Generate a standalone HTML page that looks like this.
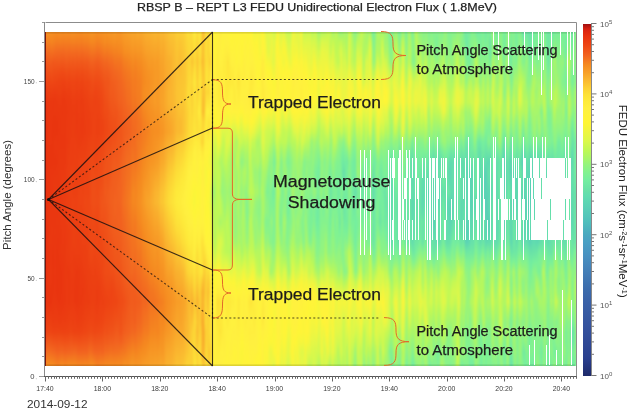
<!DOCTYPE html>
<html><head><meta charset="utf-8"><style>
html,body{margin:0;padding:0;background:#fff;width:630px;height:409px;overflow:hidden;position:relative}
#hmc{position:absolute;left:46px;top:32px;height:334px;width:530px;overflow:hidden}
#hm{position:absolute;left:-3px;top:-3px;height:340px;width:536px;display:flex;filter:blur(0.8px)}
#hm i{display:block;height:340px;flex:none}
#cbar{position:absolute;left:583px;top:23.5px;width:8px;height:352px;background:linear-gradient(#a01010 0.00px,#d82010 4.93px,#e8300e 11.97px,#ee4614 21.82px,#f26420 31.68px,#f58a20 40.83px,#f8a028 48.58px,#fab830 56.32px,#fcd034 64.06px,#fde038 70.40px,#feea3a 76.74px,#fff040 84.48px,#fff535 98.56px,#f0f540 107.01px,#dcf84a 116.86px,#bef856 126.72px,#a8f66a 134.46px,#94f47e 140.80px,#82f290 148.54px,#74eea0 156.29px,#68e0a8 166.85px,#60dcb0 172.48px,#58ccb8 186.56px,#50c0bc 197.12px,#4aa8c0 211.20px,#4aa0c4 218.24px,#4890c0 232.32px,#4480b8 246.40px,#3c6cac 264.70px,#3a62a8 276.67px,#34509c 306.24px,#2a3f8e 334.40px,#1e2a6a 352.00px)}
svg{position:absolute;left:0;top:0;display:block;will-change:transform}
text{font-family:"Liberation Sans",sans-serif}
#wrap{position:absolute;left:0;top:0;width:630px;height:409px;}
</style></head><body><div id="wrap">
<div id="hmc"><div id="hm"><i style="width:3px;background:linear-gradient(#f69122 3px,#f48120 13px,#f36b20 23px,#f0581b 33px,#ef4e17 43px,#ee4514 53px,#eb3c11 63px,#ea3610 73px,#e9340f 83px,#e9340f 93px,#e9330f 103px,#e9340f 113px,#e9340f 123px,#e9330f 133px,#e9330f 143px,#e9330f 153px,#e9330f 163px,#e9340f 173px,#e9340f 183px,#e9330f 193px,#e9320f 203px,#e9330f 213px,#e9330f 223px,#e9330f 233px,#e9330f 243px,#e9340f 253px,#e9330f 263px,#e9340f 273px,#ea3910 283px,#ec3e12 293px,#ed4413 303px,#f0561a 313px,#f26a20 323px,#f48320 333px,#f58a20 336px)"></i><i style="width:2px;background:linear-gradient(#f69122 3px,#f48120 13px,#f36b20 23px,#f0581b 33px,#ef4e17 43px,#ee4514 53px,#eb3c11 63px,#ea3610 73px,#e9340f 83px,#e9340f 93px,#e9330f 103px,#e9340f 113px,#e9340f 123px,#e9330f 133px,#e9330f 143px,#e9330f 153px,#e9330f 163px,#e9340f 173px,#e9340f 183px,#e9330f 193px,#e9320f 203px,#e9330f 213px,#e9330f 223px,#e9330f 233px,#e9330f 243px,#e9340f 253px,#e9330f 263px,#e9340f 273px,#ea3910 283px,#ec3e12 293px,#ed4413 303px,#f0561a 313px,#f26a20 323px,#f48320 333px,#f58a20 336px)"></i><i style="width:2px;background:linear-gradient(#f69022 3px,#f47e20 13px,#f26920 23px,#f15a1c 33px,#ef4d17 43px,#ed4313 53px,#eb3d11 63px,#ea3710 73px,#ea3610 83px,#ea3610 93px,#ea3610 103px,#ea3610 113px,#e9350f 123px,#e9340f 133px,#e9350f 143px,#e9350f 153px,#e9330f 163px,#e9350f 173px,#ea3610 183px,#e9350f 193px,#e9350f 203px,#ea3610 213px,#e9350f 223px,#e9350f 233px,#ea3610 243px,#ea3610 253px,#e9350f 263px,#e9330f 273px,#ea3810 283px,#ec3d12 293px,#ee4414 303px,#f0571b 313px,#f36c20 323px,#f48420 333px,#f58a20 336px)"></i><i style="width:2px;background:linear-gradient(#f69223 3px,#f58520 13px,#f37020 23px,#f15d1d 33px,#f05219 43px,#ee4715 53px,#ec3f12 63px,#ea3910 73px,#ea3810 83px,#ea3710 93px,#ea3610 103px,#ea3610 113px,#e9350f 123px,#e9350f 133px,#ea3710 143px,#ea3710 153px,#ea3610 163px,#ea3710 173px,#ea3810 183px,#ea3810 193px,#ea3910 203px,#ea3910 213px,#ea3710 223px,#ea3710 233px,#ea3810 243px,#ea3710 253px,#e9350f 263px,#e9340f 273px,#eb3a11 283px,#ec4012 293px,#ee4614 303px,#f0581b 313px,#f36b20 323px,#f58420 333px,#f58b20 336px)"></i><i style="width:2px;background:linear-gradient(#f68e22 3px,#f48220 13px,#f36d20 23px,#f0581b 33px,#ef4e17 43px,#ee4614 53px,#ec3d12 63px,#ea3710 73px,#ea3710 83px,#e9350f 93px,#e9340f 103px,#e9350f 113px,#e9350f 123px,#e9350f 133px,#ea3610 143px,#ea3710 153px,#ea3810 163px,#ea3710 173px,#ea3610 183px,#ea3710 193px,#ea3710 203px,#ea3610 213px,#e9350f 223px,#e9340f 233px,#e9350f 243px,#e9340f 253px,#e9350f 263px,#ea3710 273px,#ea3910 283px,#eb3c11 293px,#ed4213 303px,#f05419 313px,#f26720 323px,#f48220 333px,#f58920 336px)"></i><i style="width:2px;background:linear-gradient(#f68e22 3px,#f47f20 13px,#f36b20 23px,#f1591c 33px,#ef4e17 43px,#ee4414 53px,#ec3d12 63px,#ea3810 73px,#ea3810 83px,#e9350f 93px,#e9350f 103px,#ea3810 113px,#ea3710 123px,#e9350f 133px,#ea3710 143px,#ea3910 153px,#eb3b11 163px,#eb3a11 173px,#ea3810 183px,#ea3710 193px,#ea3810 203px,#ea3810 213px,#ea3710 223px,#ea3610 233px,#ea3610 243px,#ea3610 253px,#ea3710 263px,#ea3810 273px,#eb3b11 283px,#ec3d12 293px,#ed4313 303px,#f0541a 313px,#f26720 323px,#f47f20 333px,#f58520 336px)"></i><i style="width:2px;background:linear-gradient(#f58b20 3px,#f47c20 13px,#f26920 23px,#f0591b 33px,#ef4d17 43px,#ed4413 53px,#ec3d12 63px,#ea3810 73px,#ea3710 83px,#e9350f 93px,#e9340f 103px,#ea3610 113px,#ea3610 123px,#e9350f 133px,#ea3710 143px,#ea3810 153px,#ea3810 163px,#ea3810 173px,#ea3710 183px,#ea3810 193px,#ea3710 203px,#ea3610 213px,#e9350f 223px,#e9350f 233px,#e9350f 243px,#e9340f 253px,#e9330f 263px,#ea3610 273px,#eb3911 283px,#ec3d12 293px,#ed4313 303px,#f05219 313px,#f2611f 323px,#f47920 333px,#f48020 336px)"></i><i style="width:2px;background:linear-gradient(#f68f22 3px,#f47e20 13px,#f26920 23px,#f15a1c 33px,#ef4c16 43px,#ed4213 53px,#ec3f12 63px,#eb3a11 73px,#ea3810 83px,#ea3610 93px,#ea3610 103px,#ea3710 113px,#ea3810 123px,#ea3810 133px,#ea3810 143px,#ea3810 153px,#ea3810 163px,#ea3910 173px,#ea3810 183px,#ea3710 193px,#ea3710 203px,#ea3610 213px,#ea3610 223px,#e9350f 233px,#e9350f 243px,#e9350f 253px,#e9350f 263px,#e9350f 273px,#ea3910 283px,#eb3c11 293px,#ed4413 303px,#f0541a 313px,#f26320 323px,#f47b20 333px,#f48120 336px)"></i><i style="width:2px;background:linear-gradient(#f68f22 3px,#f47e20 13px,#f26920 23px,#f0581b 33px,#ef4b16 43px,#ed4313 53px,#ec3f12 63px,#eb3a11 73px,#ea3810 83px,#ea3810 93px,#ea3810 103px,#ea3710 113px,#ea3810 123px,#ea3910 133px,#eb3a11 143px,#eb3a11 153px,#ea3910 163px,#eb3a11 173px,#eb3a11 183px,#eb3a11 193px,#ea3910 203px,#ea3810 213px,#ea3910 223px,#ea3710 233px,#e9350f 243px,#e9350f 253px,#e9350f 263px,#ea3610 273px,#ea3910 283px,#eb3c11 293px,#ed4313 303px,#f05319 313px,#f26620 323px,#f48120 333px,#f58920 336px)"></i><i style="width:2px;background:linear-gradient(#f58d21 3px,#f47c20 13px,#f26820 23px,#f0581b 33px,#ef4a16 43px,#ed4113 53px,#eb3c11 63px,#ea3710 73px,#ea3710 83px,#ea3810 93px,#ea3810 103px,#ea3710 113px,#ea3810 123px,#ea3910 133px,#eb3a11 143px,#eb3c11 153px,#ec3d12 163px,#eb3c11 173px,#eb3a11 183px,#eb3a11 193px,#eb3a11 203px,#eb3a11 213px,#ea3910 223px,#ea3710 233px,#ea3610 243px,#ea3610 253px,#ea3610 263px,#ea3610 273px,#eb3a11 283px,#ec3e12 293px,#ed4213 303px,#f05219 313px,#f26520 323px,#f48120 333px,#f58920 336px)"></i><i style="width:2px;background:linear-gradient(#f68f22 3px,#f47d20 13px,#f26920 23px,#f1591c 33px,#ef4c16 43px,#ed4213 53px,#eb3c11 63px,#ea3810 73px,#ea3910 83px,#ea3810 93px,#ea3710 103px,#ea3710 113px,#ea3710 123px,#ea3810 133px,#eb3a11 143px,#eb3b11 153px,#eb3b11 163px,#eb3d11 173px,#eb3c11 183px,#eb3a11 193px,#eb3911 203px,#ea3910 213px,#ea3910 223px,#ea3910 233px,#ea3910 243px,#ea3910 253px,#ea3810 263px,#ea3810 273px,#eb3a11 283px,#eb3d11 293px,#ed4213 303px,#ef5118 313px,#f2611f 323px,#f47c20 333px,#f48320 336px)"></i><i style="width:2px;background:linear-gradient(#f68f22 3px,#f47e20 13px,#f36b20 23px,#f15c1d 33px,#ef4f18 43px,#ee4514 53px,#ec3f12 63px,#eb3a11 73px,#ea3810 83px,#eb3911 93px,#eb3a11 103px,#eb3911 113px,#eb3b11 123px,#eb3c11 133px,#ec3d12 143px,#ec3d12 153px,#ec3d12 163px,#ec3f12 173px,#ec3e12 183px,#ec3d12 193px,#eb3c11 203px,#eb3b11 213px,#eb3c11 223px,#eb3b11 233px,#ea3910 243px,#eb3a11 253px,#eb3a11 263px,#eb3a11 273px,#eb3c11 283px,#ec3e12 293px,#ed4313 303px,#f05219 313px,#f26420 323px,#f47f20 333px,#f58620 336px)"></i><i style="width:2px;background:linear-gradient(#f58c21 3px,#f47c20 13px,#f26820 23px,#f0581b 33px,#ef4b16 43px,#ed4213 53px,#ec3d12 63px,#eb3a11 73px,#eb3a11 83px,#eb3a11 93px,#eb3a11 103px,#eb3b11 113px,#eb3d11 123px,#ec3e12 133px,#ec3e12 143px,#ec3f12 153px,#ec4012 163px,#ec3f12 173px,#ec3e12 183px,#ec3d12 193px,#eb3c11 203px,#eb3c11 213px,#eb3c11 223px,#eb3a11 233px,#ea3710 243px,#ea3810 253px,#ea3810 263px,#ea3810 273px,#eb3c11 283px,#ec3f12 293px,#ed4313 303px,#f05219 313px,#f26420 323px,#f48220 333px,#f58a20 336px)"></i><i style="width:2px;background:linear-gradient(#f69123 3px,#f48020 13px,#f36b20 23px,#f15b1c 33px,#ef4f17 43px,#ee4514 53px,#ec4012 63px,#eb3c11 73px,#eb3b11 83px,#eb3b11 93px,#eb3c11 103px,#ec3d12 113px,#ec3e12 123px,#ec3e12 133px,#ed4113 143px,#ed4213 153px,#ed4113 163px,#ed4113 173px,#ec4012 183px,#ec3e12 193px,#ec3e12 203px,#ec3e12 213px,#ec3e12 223px,#ec3d12 233px,#eb3c11 243px,#eb3a11 253px,#eb3a11 263px,#eb3b11 273px,#ec3e12 283px,#ed4113 293px,#ee4714 303px,#f0571b 313px,#f26620 323px,#f48220 333px,#f58920 336px)"></i><i style="width:2px;background:linear-gradient(#f69123 3px,#f48020 13px,#f26a20 23px,#f0581b 33px,#ef4d17 43px,#ee4514 53px,#ed4213 63px,#ec3d12 73px,#eb3b11 83px,#eb3c11 93px,#eb3d11 103px,#ec3d12 113px,#ec3d12 123px,#ec3e12 133px,#ed4113 143px,#ed4113 153px,#ec4012 163px,#ed4313 173px,#ed4213 183px,#ec4012 193px,#ec4012 203px,#ec4012 213px,#ec3d12 223px,#eb3c11 233px,#eb3c11 243px,#eb3a11 253px,#eb3911 263px,#eb3a11 273px,#ec3d12 283px,#ec3f12 293px,#ed4313 303px,#f05319 313px,#f26720 323px,#f48220 333px,#f58920 336px)"></i><i style="width:2px;background:linear-gradient(#f69123 3px,#f48020 13px,#f36b20 23px,#f15b1d 33px,#ef4f18 43px,#ee4514 53px,#ed4113 63px,#ec3d12 73px,#eb3c11 83px,#eb3c11 93px,#eb3c11 103px,#ec3e12 113px,#ec3f12 123px,#ec4012 133px,#ec4012 143px,#ec4012 153px,#ec4012 163px,#ed4113 173px,#ec4012 183px,#ec3f12 193px,#ec4012 203px,#ec4012 213px,#ec3e12 223px,#eb3b11 233px,#eb3911 243px,#ea3910 253px,#ea3810 263px,#ea3810 273px,#ec3d12 283px,#ed4113 293px,#ed4313 303px,#f05319 313px,#f26920 323px,#f48220 333px,#f58820 336px)"></i><i style="width:2px;background:linear-gradient(#f68e22 3px,#f47d20 13px,#f26820 23px,#f0581b 33px,#ef4b16 43px,#ed4213 53px,#ec3f12 63px,#eb3b11 73px,#eb3911 83px,#ea3910 93px,#eb3a11 103px,#eb3c11 113px,#ec3d12 123px,#ec3e12 133px,#ec3f12 143px,#ec4012 153px,#ec4012 163px,#ed4113 173px,#ed4113 183px,#ec3f12 193px,#ec3f12 203px,#ec3e12 213px,#ec3e12 223px,#eb3c11 233px,#ea3810 243px,#ea3710 253px,#ea3610 263px,#ea3610 273px,#eb3a11 283px,#ec3d12 293px,#ed4313 303px,#f05219 313px,#f26420 323px,#f47e20 333px,#f58520 336px)"></i><i style="width:2px;background:linear-gradient(#f58e21 3px,#f48120 13px,#f36d20 23px,#f15a1c 33px,#ef4e17 43px,#ee4514 53px,#ed4113 63px,#ec3d12 73px,#ec3d12 83px,#eb3c11 93px,#eb3b11 103px,#eb3c11 113px,#ec3f12 123px,#ed4113 133px,#ec4012 143px,#ed4113 153px,#ed4313 163px,#ed4413 173px,#ed4313 183px,#ec4012 193px,#ec3f12 203px,#ec3e12 213px,#ec3e12 223px,#eb3c11 233px,#ea3910 243px,#ea3910 253px,#ea3910 263px,#ea3910 273px,#eb3c11 283px,#ec3e12 293px,#ed4313 303px,#ef5118 313px,#f2621f 323px,#f47d20 333px,#f58420 336px)"></i><i style="width:2px;background:linear-gradient(#f58c21 3px,#f47c20 13px,#f26920 23px,#f0581b 33px,#ef4d17 43px,#ed4413 53px,#ec3e12 63px,#eb3b11 73px,#eb3c11 83px,#eb3a11 93px,#eb3a11 103px,#eb3c11 113px,#ec3f12 123px,#ed4113 133px,#ed4113 143px,#ed4213 153px,#ee4514 163px,#ee4414 173px,#ed4313 183px,#ed4213 193px,#ed4113 203px,#ec4012 213px,#ec3e12 223px,#eb3c11 233px,#eb3a11 243px,#eb3a11 253px,#eb3911 263px,#ea3910 273px,#eb3c11 283px,#ec3f12 293px,#ed4313 303px,#f05219 313px,#f26320 323px,#f47e20 333px,#f58620 336px)"></i><i style="width:2px;background:linear-gradient(#f68f22 3px,#f47e20 13px,#f26a20 23px,#f0591b 33px,#ef4c16 43px,#ed4313 53px,#ec4012 63px,#eb3c11 73px,#eb3b11 83px,#eb3911 93px,#eb3a11 103px,#ec3d12 113px,#ec4012 123px,#ed4213 133px,#ed4213 143px,#ed4213 153px,#ed4313 163px,#ee4414 173px,#ed4313 183px,#ed4113 193px,#ed4113 203px,#ed4113 213px,#ec3f12 223px,#ec3e12 233px,#eb3c11 243px,#eb3a11 253px,#ea3910 263px,#eb3a11 273px,#eb3d11 283px,#ec4012 293px,#ee4514 303px,#f05319 313px,#f2631f 323px,#f47d20 333px,#f58420 336px)"></i><i style="width:2px;background:linear-gradient(#f69122 3px,#f48120 13px,#f36d20 23px,#f15b1c 33px,#ef5018 43px,#ee4815 53px,#ed4313 63px,#ec3f12 73px,#ec3d12 83px,#eb3d11 93px,#eb3c11 103px,#ec3e12 113px,#ec4012 123px,#ed4213 133px,#ed4313 143px,#ee4414 153px,#ee4514 163px,#ee4815 173px,#ee4614 183px,#ed4413 193px,#ed4213 203px,#ed4113 213px,#ec4012 223px,#ec3f12 233px,#ec3d12 243px,#eb3c11 253px,#eb3b11 263px,#eb3c11 273px,#ec3f12 283px,#ed4213 293px,#ee4614 303px,#f0541a 313px,#f26420 323px,#f48020 333px,#f58820 336px)"></i><i style="width:2px;background:linear-gradient(#f68f22 3px,#f48020 13px,#f36c20 23px,#f1591c 33px,#ef4e17 43px,#ee4614 53px,#ed4213 63px,#ec3f12 73px,#ec3e12 83px,#ec3d12 93px,#ec3d12 103px,#ec3f12 113px,#ed4113 123px,#ed4313 133px,#ed4313 143px,#ed4413 153px,#ee4514 163px,#ee4714 173px,#ee4614 183px,#ed4413 193px,#ed4213 203px,#ed4113 213px,#ec4012 223px,#ec3f12 233px,#ec3e12 243px,#eb3d11 253px,#eb3c11 263px,#eb3d11 273px,#ec4012 283px,#ed4313 293px,#ee4714 303px,#f0541a 313px,#f2621f 323px,#f47e20 333px,#f58520 336px)"></i><i style="width:2px;background:linear-gradient(#f69022 3px,#f48220 13px,#f36f20 23px,#f15d1d 33px,#f05219 43px,#ee4815 53px,#ee4514 63px,#ed4113 73px,#ec3e12 83px,#ec3d12 93px,#ec3e12 103px,#ed4113 113px,#ed4313 123px,#ee4414 133px,#ee4514 143px,#ee4514 153px,#ee4414 163px,#ee4715 173px,#ee4815 183px,#ee4714 193px,#ee4514 203px,#ed4414 213px,#ed4413 223px,#ed4213 233px,#ec3f12 243px,#ec3f12 253px,#ec3e12 263px,#eb3b11 273px,#ec4012 283px,#ee4414 293px,#ee4915 303px,#f0581b 313px,#f36b20 323px,#f48120 333px,#f58720 336px)"></i><i style="width:2px;background:linear-gradient(#f69524 3px,#f58820 13px,#f37420 23px,#f2611f 33px,#f0541a 43px,#ef4a16 53px,#ee4815 63px,#ed4413 73px,#ed4213 83px,#ec4012 93px,#ec3f12 103px,#ed4313 113px,#ee4614 123px,#ee4915 133px,#ef4a16 143px,#ef4b16 153px,#ef4c16 163px,#ef4b16 173px,#ee4915 183px,#ee4815 193px,#ee4815 203px,#ee4915 213px,#ee4815 223px,#ee4514 233px,#ec4012 243px,#ec3f12 253px,#ec3e12 263px,#ec3f12 273px,#ed4213 283px,#ee4514 293px,#ef4c16 303px,#f15a1c 313px,#f36d20 323px,#f58620 333px,#f58c21 336px)"></i><i style="width:2px;background:linear-gradient(#f69423 3px,#f58720 13px,#f37420 23px,#f2611f 33px,#f0561a 43px,#ef4e17 53px,#ee4815 63px,#ed4313 73px,#ed4113 83px,#ed4213 93px,#ed4213 103px,#ed4413 113px,#ee4614 123px,#ee4815 133px,#ef4b16 143px,#ef4d17 153px,#ef4f18 163px,#ef4f18 173px,#ef4c16 183px,#ee4915 193px,#ee4815 203px,#ee4815 213px,#ee4614 223px,#ed4413 233px,#ed4213 243px,#ec4012 253px,#ec3f12 263px,#ec4012 273px,#ed4313 283px,#ee4514 293px,#ee4915 303px,#f0571b 313px,#f26720 323px,#f48320 333px,#f58b20 336px)"></i><i style="width:2px;background:linear-gradient(#f69223 3px,#f58620 13px,#f37420 23px,#f15f1e 33px,#f05319 43px,#ef4a16 53px,#ee4414 63px,#ed4113 73px,#ed4213 83px,#ed4213 93px,#ed4213 103px,#ed4313 113px,#ed4413 123px,#ee4514 133px,#ee4a15 143px,#ef4c17 153px,#ef4e17 163px,#ef4e17 173px,#ef4b16 183px,#ee4815 193px,#ee4815 203px,#ee4715 213px,#ee4514 223px,#ed4313 233px,#ec4012 243px,#ec4012 253px,#ec3f12 263px,#ec3e12 273px,#ed4113 283px,#ed4313 293px,#ee4815 303px,#f0551a 313px,#f26420 323px,#f47f20 333px,#f58620 336px)"></i><i style="width:2px;background:linear-gradient(#f68e22 3px,#f48020 13px,#f36e20 23px,#f15c1d 33px,#f05219 43px,#ef4a16 53px,#ee4514 63px,#ed4213 73px,#ed4213 83px,#ec4012 93px,#ec3f12 103px,#ed4213 113px,#ed4413 123px,#ee4514 133px,#ee4915 143px,#ef4b16 153px,#ef4c16 163px,#ef4d17 173px,#ef4a16 183px,#ee4614 193px,#ee4714 203px,#ee4815 213px,#ee4614 223px,#ed4413 233px,#ed4113 243px,#ec3f12 253px,#eb3c11 263px,#eb3c11 273px,#ec3f12 283px,#ed4313 293px,#ee4915 303px,#f0561a 313px,#f26320 323px,#f47820 333px,#f47e20 336px)"></i><i style="width:2px;background:linear-gradient(#f69123 3px,#f48320 13px,#f37020 23px,#f15d1d 33px,#f05319 43px,#ef4b16 53px,#ee4715 63px,#ed4313 73px,#ed4113 83px,#ec4012 93px,#ec4012 103px,#ed4413 113px,#ee4614 123px,#ee4915 133px,#ef4b16 143px,#ef4c16 153px,#ef4d17 163px,#ef4d17 173px,#ef4b16 183px,#ee4a15 193px,#ee4815 203px,#ee4714 213px,#ee4614 223px,#ee4514 233px,#ed4313 243px,#ec4012 253px,#ec3d12 263px,#ec3d12 273px,#ed4113 283px,#ed4413 293px,#ef4a16 303px,#f0561b 313px,#f26420 323px,#f47b20 333px,#f48120 336px)"></i><i style="width:2px;background:linear-gradient(#f69123 3px,#f58420 13px,#f37320 23px,#f2621f 33px,#f0561b 43px,#ef4e17 53px,#ee4915 63px,#ee4514 73px,#ee4514 83px,#ed4313 93px,#ed4213 103px,#ee4514 113px,#ee4815 123px,#ef4b16 133px,#ef4b16 143px,#ef4e17 153px,#f05219 163px,#f0551a 173px,#f05419 183px,#f05219 193px,#ef4d17 203px,#ee4815 213px,#ee4915 223px,#ee4714 233px,#ee4414 243px,#ed4213 253px,#ec4012 263px,#ed4113 273px,#ed4313 283px,#ee4514 293px,#ef4b16 303px,#f0581b 313px,#f26620 323px,#f47e20 333px,#f58420 336px)"></i><i style="width:2px;background:linear-gradient(#f69223 3px,#f58820 13px,#f47720 23px,#f26420 33px,#f1591c 43px,#ef5118 53px,#ef4c16 63px,#ee4815 73px,#ee4714 83px,#ed4313 93px,#ed4213 103px,#ee4614 113px,#ee4a15 123px,#ef4d17 133px,#ef4e17 143px,#ef5018 153px,#f05219 163px,#f0551a 173px,#f05319 183px,#ef4f18 193px,#ef4d17 203px,#ef4b16 213px,#ee4715 223px,#ee4714 233px,#ee4815 243px,#ee4414 253px,#ed4113 263px,#ec3f12 273px,#ed4213 283px,#ee4614 293px,#ef4c17 303px,#f0581b 313px,#f26320 323px,#f47d20 333px,#f58420 336px)"></i><i style="width:2px;background:linear-gradient(#f79524 3px,#f58c21 13px,#f47c20 23px,#f26920 33px,#f15d1d 43px,#f0551a 53px,#f05119 63px,#ef4e17 73px,#ef4c16 83px,#ee4815 93px,#ee4714 103px,#ef4a16 113px,#ef4d17 123px,#ef5118 133px,#f0551a 143px,#f0581b 153px,#f15a1c 163px,#f0581b 173px,#f0541a 183px,#f05219 193px,#ef5118 203px,#ef5018 213px,#ef4d17 223px,#ef4c16 233px,#ef4b16 243px,#ee4815 253px,#ed4413 263px,#ed4113 273px,#ee4514 283px,#ef4a16 293px,#f05219 303px,#f15e1d 313px,#f36b20 323px,#f48220 333px,#f58820 336px)"></i><i style="width:2px;background:linear-gradient(#f69323 3px,#f58820 13px,#f37720 23px,#f26520 33px,#f15b1d 43px,#f0551a 53px,#f05319 63px,#ef4f17 73px,#ef4a16 83px,#ee4815 93px,#ee4715 103px,#ef4d17 113px,#ef5118 123px,#f05319 133px,#f05219 143px,#f0551a 153px,#f0591b 163px,#f1591c 173px,#f0561a 183px,#f05419 193px,#f05119 203px,#ef4f18 213px,#ef4e17 223px,#ef4d17 233px,#ef4c16 243px,#ee4915 253px,#ee4514 263px,#ed4213 273px,#ee4714 283px,#ef4b16 293px,#ef4f18 303px,#f15b1c 313px,#f36b20 323px,#f48220 333px,#f58820 336px)"></i><i style="width:2px;background:linear-gradient(#f79725 3px,#f58b21 13px,#f47c20 23px,#f36c20 33px,#f15e1e 43px,#f0561a 53px,#f0561a 63px,#f05319 73px,#ef4f18 83px,#ef4d17 93px,#ef4b16 103px,#ef4d17 113px,#f05219 123px,#f0551a 133px,#f0541a 143px,#f0571b 153px,#f15b1c 163px,#f15c1d 173px,#f15a1c 183px,#f0581b 193px,#f0561a 203px,#f05319 213px,#ef5018 223px,#ef4e17 233px,#ef4b16 243px,#ee4a15 253px,#ee4614 263px,#ed4313 273px,#ee4714 283px,#ef4c16 293px,#f05319 303px,#f15e1e 313px,#f36d20 323px,#f48320 333px,#f58820 336px)"></i><i style="width:2px;background:linear-gradient(#f79725 3px,#f58c21 13px,#f47c20 23px,#f36b20 33px,#f2621f 43px,#f15d1d 53px,#f15c1d 63px,#f0581b 73px,#f05219 83px,#ef4f17 93px,#ef4c17 103px,#ef4f18 113px,#f05219 123px,#f0551a 133px,#f0581b 143px,#f15b1d 153px,#f15f1e 163px,#f15f1e 173px,#f15e1d 183px,#f15d1d 193px,#f0581b 203px,#f0541a 213px,#f05319 223px,#f05219 233px,#ef4f18 243px,#ee4815 253px,#ee4414 263px,#ee4414 273px,#ee4815 283px,#ef4d17 293px,#f05319 303px,#f1601e 313px,#f37120 323px,#f58520 333px,#f58a20 336px)"></i><i style="width:2px;background:linear-gradient(#f79725 3px,#f68e21 13px,#f48020 23px,#f36e20 33px,#f26420 43px,#f15e1d 53px,#f1591c 63px,#f0571b 73px,#f0551a 83px,#ef5018 93px,#ef4e17 103px,#f05119 113px,#f0561a 123px,#f15a1c 133px,#f15c1d 143px,#f15e1e 153px,#f15e1e 163px,#f1601e 173px,#f15f1e 183px,#f15e1e 193px,#f15b1c 203px,#f0571b 213px,#f0541a 223px,#f05119 233px,#ef4e17 243px,#ee4915 253px,#ee4514 263px,#ee4514 273px,#ee4915 283px,#ef4e17 293px,#f0541a 303px,#f15f1e 313px,#f36d20 323px,#f58420 333px,#f58a20 336px)"></i><i style="width:2px;background:linear-gradient(#f79c26 3px,#f68f22 13px,#f48220 23px,#f37520 33px,#f26820 43px,#f2601f 53px,#f15e1e 63px,#f15a1c 73px,#f0551a 83px,#ef5118 93px,#ef4f18 103px,#f05219 113px,#f0571b 123px,#f15b1d 133px,#f15d1d 143px,#f15f1e 153px,#f2601f 163px,#f26420 173px,#f2631f 183px,#f15f1e 193px,#f15d1d 203px,#f15a1c 213px,#f0591b 223px,#f0561a 233px,#f05219 243px,#ef4d17 253px,#ee4815 263px,#ee4614 273px,#ef4c16 283px,#ef5118 293px,#f0581b 303px,#f2621f 313px,#f37020 323px,#f48420 333px,#f58820 336px)"></i><i style="width:2px;background:linear-gradient(#f79625 3px,#f58d21 13px,#f48020 23px,#f37220 33px,#f26820 43px,#f2611f 53px,#f15f1e 63px,#f15b1c 73px,#f0541a 83px,#f05219 93px,#f05119 103px,#f0551a 113px,#f0571b 123px,#f1591c 133px,#f15e1d 143px,#f1601e 153px,#f2611f 163px,#f2621f 173px,#f2601f 183px,#f15f1e 193px,#f15d1d 203px,#f15a1c 213px,#f0571b 223px,#f0551a 233px,#f05319 243px,#ef5018 253px,#ef4b16 263px,#ee4614 273px,#ef4b16 283px,#f05219 293px,#f15a1c 303px,#f26320 313px,#f36f20 323px,#f58520 333px,#f58b20 336px)"></i><i style="width:2px;background:linear-gradient(#f79624 3px,#f68f22 13px,#f58520 23px,#f37520 33px,#f36c20 43px,#f26620 53px,#f26320 63px,#f2611f 73px,#f15b1d 83px,#f0581b 93px,#f0561a 103px,#f0581b 113px,#f15a1c 123px,#f15d1d 133px,#f15f1e 143px,#f2621f 153px,#f26520 163px,#f26320 173px,#f2611f 183px,#f2621f 193px,#f15f1e 203px,#f15c1d 213px,#f1591c 223px,#f0571b 233px,#f0541a 243px,#ef5118 253px,#ef4d17 263px,#ef4b16 273px,#ef4f18 283px,#f05319 293px,#f0581b 303px,#f2631f 313px,#f37220 323px,#f58720 333px,#f58b20 336px)"></i><i style="width:2px;background:linear-gradient(#f79524 3px,#f68e22 13px,#f48320 23px,#f37320 33px,#f36b20 43px,#f26620 53px,#f26320 63px,#f1601e 73px,#f15b1c 83px,#f0571b 93px,#f0551a 103px,#f0561b 113px,#f15b1c 123px,#f1601e 133px,#f2631f 143px,#f26420 153px,#f26420 163px,#f26520 173px,#f2621f 183px,#f2601f 193px,#f15f1e 203px,#f15d1d 213px,#f15b1c 223px,#f0581b 233px,#f0551a 243px,#f05219 253px,#ef4f17 263px,#ef4c16 273px,#ef4e17 283px,#ef5018 293px,#f05319 303px,#f1601e 313px,#f37420 323px,#f48420 333px,#f58720 336px)"></i><i style="width:2px;background:linear-gradient(#f89d27 3px,#f69323 13px,#f58a20 23px,#f47c20 33px,#f37320 43px,#f36b20 53px,#f26720 63px,#f26420 73px,#f1601e 83px,#f15d1d 93px,#f15a1c 103px,#f15b1c 113px,#f2611f 123px,#f26720 133px,#f26920 143px,#f26a20 153px,#f36b20 163px,#f36e20 173px,#f36b20 183px,#f26720 193px,#f26420 203px,#f2621f 213px,#f2611f 223px,#f15e1e 233px,#f15b1c 243px,#f0571b 253px,#f05219 263px,#ef4d17 273px,#f05319 283px,#f0581b 293px,#f15b1d 303px,#f26620 313px,#f37720 323px,#f58920 333px,#f58d21 336px)"></i><i style="width:2px;background:linear-gradient(#f89d27 3px,#f79624 13px,#f68e21 23px,#f47f20 33px,#f37520 43px,#f36e20 53px,#f26a20 63px,#f26620 73px,#f2621f 83px,#f15e1e 93px,#f15d1d 103px,#f2611f 113px,#f26520 123px,#f26820 133px,#f26a20 143px,#f36c20 153px,#f36f20 163px,#f37220 173px,#f36e20 183px,#f26a20 193px,#f26720 203px,#f26520 213px,#f2621f 223px,#f1601e 233px,#f15d1d 243px,#f15a1c 253px,#f0561a 263px,#f05119 273px,#f0541a 283px,#f0581b 293px,#f15f1e 303px,#f26a20 313px,#f37720 323px,#f58d21 333px,#f69122 336px)"></i><i style="width:2px;background:linear-gradient(#f8a028 3px,#f79725 13px,#f68e21 23px,#f48120 33px,#f47820 43px,#f37320 53px,#f36f20 63px,#f36b20 73px,#f26420 83px,#f2611f 93px,#f15f1e 103px,#f26320 113px,#f26920 123px,#f36f20 133px,#f36f20 143px,#f37220 153px,#f37520 163px,#f37620 173px,#f37220 183px,#f37020 193px,#f36c20 203px,#f26820 213px,#f26520 223px,#f26320 233px,#f2611f 243px,#f15d1d 253px,#f0581b 263px,#f0551a 273px,#f1591c 283px,#f15d1d 293px,#f2611f 303px,#f36d20 313px,#f47d20 323px,#f58b20 333px,#f68e21 336px)"></i><i style="width:2px;background:linear-gradient(#f8a128 3px,#f79825 13px,#f69022 23px,#f58420 33px,#f47a20 43px,#f37420 53px,#f37020 63px,#f36e20 73px,#f26920 83px,#f26320 93px,#f2611f 103px,#f26520 113px,#f26920 123px,#f36d20 133px,#f37020 143px,#f37420 153px,#f47720 163px,#f47b20 173px,#f47820 183px,#f37420 193px,#f37020 203px,#f36c20 213px,#f26820 223px,#f26520 233px,#f2621f 243px,#f15f1e 253px,#f15b1c 263px,#f0581b 273px,#f15b1c 283px,#f15d1d 293px,#f2621f 303px,#f37020 313px,#f48120 323px,#f68e21 333px,#f69022 336px)"></i><i style="width:2px;background:linear-gradient(#f8a329 3px,#f79b26 13px,#f69223 23px,#f58620 33px,#f47d20 43px,#f37720 53px,#f37320 63px,#f36f20 73px,#f26920 83px,#f26520 93px,#f2641f 103px,#f36a20 113px,#f36e20 123px,#f37120 133px,#f37520 143px,#f47920 153px,#f47d20 163px,#f48020 173px,#f47c20 183px,#f37720 193px,#f37420 203px,#f37020 213px,#f36c20 223px,#f36a20 233px,#f26920 243px,#f1601e 253px,#f15b1d 263px,#f15c1d 273px,#f15f1e 283px,#f2611f 293px,#f26720 303px,#f37420 313px,#f48320 323px,#f69223 333px,#f79624 336px)"></i><i style="width:2px;background:linear-gradient(#f9a62a 3px,#f89e27 13px,#f79524 23px,#f58c21 33px,#f48320 43px,#f47d20 53px,#f47b20 63px,#f47820 73px,#f37220 83px,#f36d20 93px,#f26a20 103px,#f36d20 113px,#f37320 123px,#f47820 133px,#f47c20 143px,#f48220 153px,#f58920 163px,#f58920 173px,#f48320 183px,#f47e20 193px,#f47820 203px,#f37320 213px,#f37220 223px,#f36e20 233px,#f26820 243px,#f2611f 253px,#f15d1d 263px,#f15c1d 273px,#f15f1e 283px,#f2621f 293px,#f26920 303px,#f47820 313px,#f58820 323px,#f69424 333px,#f79725 336px)"></i><i style="width:2px;background:linear-gradient(#f8a429 3px,#f79b26 13px,#f69223 23px,#f58620 33px,#f47e20 43px,#f47920 53px,#f47720 63px,#f37420 73px,#f36f20 83px,#f36b20 93px,#f26920 103px,#f36b20 113px,#f36e20 123px,#f37220 133px,#f47920 143px,#f47f20 153px,#f58520 163px,#f58620 173px,#f48020 183px,#f47820 193px,#f37520 203px,#f37320 213px,#f36d20 223px,#f26920 233px,#f26520 243px,#f2601f 253px,#f15c1d 263px,#f15a1c 273px,#f15c1d 283px,#f15e1e 293px,#f26620 303px,#f37420 313px,#f48320 323px,#f69022 333px,#f69323 336px)"></i><i style="width:2px;background:linear-gradient(#f9a92b 3px,#f89e27 13px,#f69524 23px,#f58921 33px,#f48220 43px,#f47e20 53px,#f47e20 63px,#f47a20 73px,#f37120 83px,#f36f20 93px,#f36f20 103px,#f37520 113px,#f37420 123px,#f37620 133px,#f48020 143px,#f58520 153px,#f58720 163px,#f58b21 173px,#f58720 183px,#f48120 193px,#f47d20 203px,#f47920 213px,#f37420 223px,#f37020 233px,#f36b20 243px,#f26620 253px,#f1601e 263px,#f15d1d 273px,#f2611f 283px,#f26620 293px,#f36d20 303px,#f47820 313px,#f58420 323px,#f69123 333px,#f69524 336px)"></i><i style="width:2px;background:linear-gradient(#f9a82b 3px,#f89e27 13px,#f79624 23px,#f58d21 33px,#f58620 43px,#f48020 53px,#f47d20 63px,#f47c20 73px,#f47920 83px,#f37420 93px,#f37220 103px,#f37720 113px,#f47a20 123px,#f47e20 133px,#f48220 143px,#f58920 153px,#f68e21 163px,#f68f22 173px,#f58b20 183px,#f58720 193px,#f48220 203px,#f47d20 213px,#f47720 223px,#f37220 233px,#f36d20 243px,#f26820 253px,#f2621f 263px,#f15e1d 273px,#f2621f 283px,#f26720 293px,#f37020 303px,#f47c20 313px,#f58820 323px,#f69323 333px,#f79624 336px)"></i><i style="width:2px;background:linear-gradient(#f9a62a 3px,#f89d27 13px,#f69524 23px,#f58c21 33px,#f58520 43px,#f48020 53px,#f48020 63px,#f47f20 73px,#f47b20 83px,#f37520 93px,#f37320 103px,#f47920 113px,#f47d20 123px,#f48120 133px,#f58720 143px,#f58b20 153px,#f58d21 163px,#f69123 173px,#f68e21 183px,#f58920 193px,#f48220 203px,#f47c20 213px,#f37620 223px,#f37220 233px,#f37020 243px,#f26a20 253px,#f2631f 263px,#f15f1e 273px,#f2641f 283px,#f26920 293px,#f37020 303px,#f47d20 313px,#f58b20 323px,#f69424 333px,#f79725 336px)"></i><i style="width:2px;background:linear-gradient(#f9aa2b 3px,#f8a229 13px,#f79a26 23px,#f69122 33px,#f58c21 43px,#f58920 53px,#f58c21 63px,#f58b20 73px,#f58520 83px,#f48020 93px,#f47d20 103px,#f47e20 113px,#f48420 123px,#f58920 133px,#f58d21 143px,#f69123 153px,#f79624 163px,#f79925 173px,#f69424 183px,#f69022 193px,#f58b20 203px,#f58620 213px,#f48220 223px,#f47c20 233px,#f37520 243px,#f36f20 253px,#f26920 263px,#f26720 273px,#f36c20 283px,#f37020 293px,#f47820 303px,#f48320 313px,#f58d21 323px,#f79725 333px,#f79a26 336px)"></i><i style="width:2px;background:linear-gradient(#f9ad2c 3px,#f8a52a 13px,#f89d27 23px,#f69424 33px,#f68e22 43px,#f58b20 53px,#f68e21 63px,#f58d21 73px,#f58720 83px,#f48020 93px,#f47d20 103px,#f48120 113px,#f58620 123px,#f58b21 133px,#f69022 143px,#f79624 153px,#f89d27 163px,#f89e27 173px,#f79825 183px,#f69323 193px,#f68e21 203px,#f58920 213px,#f48220 223px,#f47e20 233px,#f47a20 243px,#f37020 253px,#f26920 263px,#f26520 273px,#f36d20 283px,#f37420 293px,#f47b20 303px,#f58620 313px,#f68e21 323px,#f79926 333px,#f89d27 336px)"></i><i style="width:2px;background:linear-gradient(#f9b02d 3px,#f9a82b 13px,#f8a128 23px,#f79725 33px,#f69223 43px,#f68f22 53px,#f69022 63px,#f69022 73px,#f58c21 83px,#f58720 93px,#f48220 103px,#f58520 113px,#f58c21 123px,#f69022 133px,#f69424 143px,#f79925 153px,#f89f28 163px,#f8a429 173px,#f89e27 183px,#f79624 193px,#f69223 203px,#f68f22 213px,#f58a20 223px,#f48320 233px,#f47b20 243px,#f37420 253px,#f36c20 263px,#f26820 273px,#f36f20 283px,#f37520 293px,#f47b20 303px,#f58720 313px,#f69123 323px,#f79b26 333px,#f89e27 336px)"></i><i style="width:2px;background:linear-gradient(#f9b02d 3px,#f9a72a 13px,#f8a028 23px,#f79b26 33px,#f69424 43px,#f68f22 53px,#f69022 63px,#f69022 73px,#f68e21 83px,#f58820 93px,#f58420 103px,#f58a20 113px,#f58d21 123px,#f69223 133px,#f79825 143px,#f79c27 153px,#f89f28 163px,#f8a52a 173px,#f8a128 183px,#f79b26 193px,#f79524 203px,#f69022 213px,#f58c21 223px,#f58720 233px,#f48120 243px,#f47820 253px,#f37020 263px,#f36f20 273px,#f37420 283px,#f47820 293px,#f47f20 303px,#f58b20 313px,#f79524 323px,#f79b26 333px,#f89d27 336px)"></i><i style="width:2px;background:linear-gradient(#fab22e 3px,#f9aa2b 13px,#f8a329 23px,#f79a26 33px,#f79624 43px,#f69424 53px,#f79725 63px,#f79725 73px,#f69223 83px,#f68f22 93px,#f58c21 103px,#f58c21 113px,#f69022 123px,#f79624 133px,#f89d27 143px,#f8a229 153px,#f9a62a 163px,#f9ab2c 173px,#f8a52a 183px,#f89e27 193px,#f79925 203px,#f69424 213px,#f69123 223px,#f58d21 233px,#f58720 243px,#f47f20 253px,#f37720 263px,#f37320 273px,#f47a20 283px,#f48120 293px,#f58720 303px,#f69022 313px,#f79825 323px,#f89f28 333px,#f8a229 336px)"></i><i style="width:2px;background:linear-gradient(#fab32e 3px,#f9ab2c 13px,#f8a329 23px,#f79a26 33px,#f79624 43px,#f69524 53px,#f79725 63px,#f79725 73px,#f69123 83px,#f68f22 93px,#f58d21 103px,#f68f22 113px,#f69223 123px,#f79624 133px,#f89e27 143px,#f8a52a 153px,#f9ab2c 163px,#f9af2d 173px,#f9a82b 183px,#f8a229 193px,#f79b26 203px,#f79524 213px,#f69223 223px,#f58e21 233px,#f58720 243px,#f47d20 253px,#f37520 263px,#f37120 273px,#f47820 283px,#f47e20 293px,#f58520 303px,#f68e22 313px,#f79524 323px,#f89d27 333px,#f8a028 336px)"></i><i style="width:2px;background:linear-gradient(#fab730 3px,#f9ad2c 13px,#f8a52a 23px,#f89e27 33px,#f79b26 43px,#f79b26 53px,#f89d27 63px,#f89d27 73px,#f79725 83px,#f69223 93px,#f68f22 103px,#f69323 113px,#f79624 123px,#f79a26 133px,#f8a329 143px,#f9ab2c 153px,#fab32e 163px,#fab62f 173px,#f9ae2d 183px,#f9a72a 193px,#f8a028 203px,#f79926 213px,#f79725 223px,#f69223 233px,#f58c21 243px,#f58420 253px,#f47b20 263px,#f37520 273px,#f47c20 283px,#f48320 293px,#f58920 303px,#f69123 313px,#f79925 323px,#f8a128 333px,#f8a429 336px)"></i><i style="width:2px;background:linear-gradient(#fab42f 3px,#f9ac2c 13px,#f8a429 23px,#f79b26 33px,#f79926 43px,#f79925 53px,#f79925 63px,#f79926 73px,#f79624 83px,#f69122 93px,#f68e22 103px,#f69424 113px,#f79725 123px,#f79c26 133px,#f8a429 143px,#f9ad2c 153px,#fab52f 163px,#fab730 173px,#f9ae2d 183px,#f9a62a 193px,#f89f28 203px,#f79825 213px,#f69223 223px,#f68e22 233px,#f58b20 243px,#f58420 253px,#f47c20 263px,#f37620 273px,#f47b20 283px,#f48020 293px,#f58520 303px,#f68e22 313px,#f79625 323px,#f89f28 333px,#f8a229 336px)"></i><i style="width:2px;background:linear-gradient(#fab32e 3px,#f9aa2b 13px,#f8a329 23px,#f89e27 33px,#f79b26 43px,#f79a26 53px,#f79b26 63px,#f79b26 73px,#f79625 83px,#f69223 93px,#f69022 103px,#f79624 113px,#f79a26 123px,#f89f28 133px,#f9a82b 143px,#f9b02d 153px,#fab730 163px,#fabc31 173px,#fab42f 183px,#f9ab2c 193px,#f8a229 203px,#f79b26 213px,#f79624 223px,#f69122 233px,#f58b21 243px,#f58820 253px,#f48120 263px,#f47b20 273px,#f48120 283px,#f58620 293px,#f58720 303px,#f68f22 313px,#f79925 323px,#f8a028 333px,#f8a329 336px)"></i><i style="width:2px;background:linear-gradient(#fab930 3px,#f9b22e 13px,#f9ac2c 23px,#f8a52a 33px,#f8a229 43px,#f8a128 53px,#f8a229 63px,#f8a329 73px,#f8a028 83px,#f79825 93px,#f79524 103px,#f79b26 113px,#f8a329 123px,#f9aa2b 133px,#fab22e 143px,#faba30 153px,#fbc332 163px,#fbc632 173px,#fabd31 183px,#fab42f 193px,#f9aa2b 203px,#f8a229 213px,#f89d27 223px,#f79825 233px,#f69223 243px,#f68e22 253px,#f58820 263px,#f47e20 273px,#f58520 283px,#f58b20 293px,#f68e22 303px,#f69524 313px,#f79b26 323px,#f8a52a 333px,#f9a92b 336px)"></i><i style="width:2px;background:linear-gradient(#fab42f 3px,#f9ad2c 13px,#f9a72a 23px,#f8a229 33px,#f8a028 43px,#f89f28 53px,#f8a028 63px,#f8a229 73px,#f8a028 83px,#f79825 93px,#f69424 103px,#f79c26 113px,#f8a229 123px,#f9a92b 133px,#fab22e 143px,#fabb30 153px,#fbc232 163px,#fbc632 173px,#fabe31 183px,#fab62f 193px,#f9ad2c 203px,#f8a429 213px,#f79c27 223px,#f79624 233px,#f69123 243px,#f58d21 253px,#f58720 263px,#f48120 273px,#f58420 283px,#f58620 293px,#f58d21 303px,#f69223 313px,#f79725 323px,#f8a128 333px,#f8a62a 336px)"></i><i style="width:2px;background:linear-gradient(#fabb31 3px,#fab32e 13px,#f9ae2d 23px,#f9ab2c 33px,#f9a82b 43px,#f9a72a 53px,#f9a92b 63px,#f9aa2b 73px,#f8a62a 83px,#f89f28 93px,#f89d27 103px,#f8a62a 113px,#f9ab2c 123px,#f9b12e 133px,#faba30 143px,#fbc332 153px,#fccc33 163px,#fcd034 173px,#fbc833 183px,#fbc232 193px,#fab930 203px,#f9b12e 213px,#f9a82b 223px,#f8a028 233px,#f79a26 243px,#f69424 253px,#f58d21 263px,#f58820 273px,#f58a20 283px,#f58d21 293px,#f69424 303px,#f79c27 313px,#f8a329 323px,#f9a82b 333px,#f9ab2c 336px)"></i><i style="width:2px;background:linear-gradient(#fabc31 3px,#fab730 13px,#fab22e 23px,#f9ad2c 33px,#f9ab2c 43px,#f9ab2c 53px,#f9ae2d 63px,#f9af2d 73px,#f9aa2b 83px,#f8a329 93px,#f8a128 103px,#f9aa2b 113px,#f9b12e 123px,#fab930 133px,#fbc332 143px,#fccb33 153px,#fcd234 163px,#fcd636 173px,#fcce34 183px,#fbc532 193px,#fabd31 203px,#fab62f 213px,#f9ad2c 223px,#f8a62a 233px,#f8a028 243px,#f79725 253px,#f69022 263px,#f58d21 273px,#f68f22 283px,#f69223 293px,#f79725 303px,#f8a028 313px,#f9a82b 323px,#f9b02d 333px,#fab32e 336px)"></i><i style="width:2px;background:linear-gradient(#fbc131 3px,#fabb31 13px,#fab730 23px,#f9b02d 33px,#f9af2d 43px,#f9b02d 53px,#fab52f 63px,#fab52f 73px,#f9af2d 83px,#f9a62a 93px,#f8a429 103px,#f9af2d 113px,#fab830 123px,#fbc131 133px,#fbca33 143px,#fcd235 153px,#fdd936 163px,#fddc37 173px,#fcd535 183px,#fccd33 193px,#fbc432 203px,#fabb31 213px,#fab32e 223px,#f9ab2c 233px,#f8a329 243px,#f79b26 253px,#f69323 263px,#f68f22 273px,#f69123 283px,#f69424 293px,#f79926 303px,#f8a128 313px,#f9a92b 323px,#f9af2d 333px,#fab22e 336px)"></i><i style="width:2px;background:linear-gradient(#fbc632 3px,#fabe31 13px,#fab730 23px,#f9b02d 33px,#f9b12e 43px,#fab22e 53px,#fab42f 63px,#fab52f 73px,#f9b12e 83px,#f9a92b 93px,#f9a62a 103px,#f9b02d 113px,#fab930 123px,#fbc232 133px,#fccd33 143px,#fcd535 153px,#fddc37 163px,#fde038 173px,#fdd936 183px,#fcd034 193px,#fbc933 203px,#fbc031 213px,#fab62f 223px,#f9ac2c 233px,#f8a229 243px,#f79b26 253px,#f69524 263px,#f69223 273px,#f69524 283px,#f79825 293px,#f89d27 303px,#f8a429 313px,#f9ab2c 323px,#f9b12e 333px,#fab42f 336px)"></i><i style="width:2px;background:linear-gradient(#fbc532 3px,#fabe31 13px,#faba30 23px,#fab830 33px,#fab830 43px,#fab830 53px,#fab830 63px,#fab830 73px,#fab42f 83px,#f9ae2d 93px,#f9ab2c 103px,#fab22e 113px,#fabc31 123px,#fbc632 133px,#fcd134 143px,#fdd936 153px,#fde038 163px,#fde339 173px,#fdde37 183px,#fcd636 193px,#fccf34 203px,#fbc532 213px,#fab830 223px,#f9af2d 233px,#f9a72a 243px,#f89e27 253px,#f79725 263px,#f79624 273px,#f79a26 283px,#f89d27 293px,#f8a128 303px,#f9a72a 313px,#f9ae2d 323px,#fab42f 333px,#fab730 336px)"></i><i style="width:2px;background:linear-gradient(#fbc833 3px,#fbc232 13px,#fbbf31 23px,#fabc31 33px,#fabb30 43px,#fabb31 53px,#fabd31 63px,#fabc31 73px,#fab52f 83px,#fab32e 93px,#fab22e 103px,#faba30 113px,#fbc532 123px,#fcd034 133px,#fdd836 143px,#fde038 153px,#fee639 163px,#fee83a 173px,#fde238 183px,#fddd37 193px,#fcd435 203px,#fcca33 213px,#fbc031 223px,#fab62f 233px,#f9ae2d 243px,#f8a62a 253px,#f89e27 263px,#f79725 273px,#f79c27 283px,#f8a128 293px,#f8a52a 303px,#f9ac2c 313px,#fab32e 323px,#faba30 333px,#fabd31 336px)"></i><i style="width:2px;background:linear-gradient(#fccf34 3px,#fbc933 13px,#fbc532 23px,#fbc232 33px,#fbc232 43px,#fbc232 53px,#fbc432 63px,#fbc332 73px,#fabc31 83px,#faba30 93px,#faba30 103px,#fbc432 113px,#fcce34 123px,#fcd636 133px,#fdde37 143px,#fde439 153px,#feea3a 163px,#feeb3b 173px,#fee739 183px,#fde339 193px,#fddb37 203px,#fcd134 213px,#fbc833 223px,#fabd31 233px,#f9b12e 243px,#f9ab2c 253px,#f8a429 263px,#f89e27 273px,#f8a329 283px,#f9a72a 293px,#f9a92b 303px,#f9af2d 313px,#fab730 323px,#fbbf31 333px,#fbc332 336px)"></i><i style="width:2px;background:linear-gradient(#fccd33 3px,#fbc532 13px,#fbc131 23px,#fabd31 33px,#fbc031 43px,#fbc332 53px,#fbc432 63px,#fbc432 73px,#fbc031 83px,#faba30 93px,#fab930 103px,#fbc732 113px,#fcd034 123px,#fcd736 133px,#fddf38 143px,#fde539 153px,#feea3a 163px,#feec3c 173px,#fee93a 183px,#fde339 193px,#fddc37 203px,#fcd335 213px,#fbc833 223px,#fabc31 233px,#f9b22e 243px,#f9ac2c 253px,#f8a429 263px,#f89d27 273px,#f8a128 283px,#f8a52a 293px,#f9a92b 303px,#f9af2d 313px,#fab52f 323px,#fabe31 333px,#fbc232 336px)"></i><i style="width:1px;background:linear-gradient(#fccf34 3px,#fbc532 13px,#fbc031 23px,#fabc31 33px,#fbc031 43px,#fbc532 53px,#fbc733 63px,#fbc733 73px,#fbc232 83px,#faba30 93px,#faba30 103px,#fbca33 113px,#fcd335 123px,#fdda37 133px,#fde339 143px,#fee83a 153px,#feeb3b 163px,#feed3d 173px,#feea3a 183px,#fee539 193px,#fde038 203px,#fcd736 213px,#fccc33 223px,#fbc031 233px,#fab52f 243px,#f9ae2d 253px,#f9a62a 263px,#f8a028 273px,#f8a229 283px,#f8a429 293px,#f9a92b 303px,#f9b12e 313px,#fab830 323px,#fbbf31 333px,#fbc232 336px)"></i><i style="width:1px;background:linear-gradient(#fcce34 3px,#fbc732 13px,#fbc232 23px,#fabe31 33px,#fbc131 43px,#fbc432 53px,#fbc632 63px,#fbc632 73px,#fbc031 83px,#fabb30 93px,#fabb30 103px,#fbc933 113px,#fcd235 123px,#fddb37 133px,#fde439 143px,#fee93a 153px,#feec3c 163px,#ffed3d 173px,#feeb3b 183px,#fee739 193px,#fde238 203px,#fdda36 213px,#fcd034 223px,#fbc332 233px,#fab730 243px,#f9af2d 253px,#f9a72a 263px,#f8a128 273px,#f8a329 283px,#f8a52a 293px,#f9a92b 303px,#f9b12e 313px,#faba30 323px,#fbbf31 333px,#fbc132 336px)"></i><i style="width:1px;background:linear-gradient(#fcce34 3px,#fbc833 13px,#fbc532 23px,#fbc131 33px,#fbc232 43px,#fbc432 53px,#fbc632 63px,#fbc632 73px,#fbc031 83px,#fbbf31 93px,#fbbf31 103px,#fbca33 113px,#fcd335 123px,#fddc37 133px,#fde439 143px,#feea3a 153px,#feec3c 163px,#ffee3e 173px,#feec3c 183px,#fee83a 193px,#fde339 203px,#fddd37 213px,#fcd435 223px,#fbc632 233px,#fab830 243px,#f9af2d 253px,#f9a72a 263px,#f8a329 273px,#f8a62a 283px,#f9a82b 293px,#f9aa2b 303px,#f9b12e 313px,#faba30 323px,#fbc031 333px,#fbc332 336px)"></i><i style="width:1px;background:linear-gradient(#fcd034 3px,#fbca33 13px,#fbc632 23px,#fbc432 33px,#fbc532 43px,#fbc732 53px,#fbc933 63px,#fbc833 73px,#fbc332 83px,#fbc232 93px,#fbc332 103px,#fccc33 113px,#fcd636 123px,#fddf38 133px,#fee639 143px,#feea3a 153px,#feed3d 163px,#ffef3f 173px,#feed3d 183px,#feea3a 193px,#fde439 203px,#fdde37 213px,#fcd535 223px,#fbc833 233px,#faba30 243px,#fab22e 253px,#f9aa2b 263px,#f8a429 273px,#f9a72a 283px,#f9a92b 293px,#f9ac2c 303px,#fab22e 313px,#fab930 323px,#fbc332 333px,#fbc632 336px)"></i><i style="width:1px;background:linear-gradient(#fcd134 3px,#fccc33 13px,#fbc933 23px,#fbc632 33px,#fbc632 43px,#fbc632 53px,#fcca33 63px,#fcca33 73px,#fbc632 83px,#fbc532 93px,#fbc632 103px,#fccf34 113px,#fdd936 123px,#fde238 133px,#fee83a 143px,#feeb3b 153px,#ffee3e 163px,#fff040 173px,#ffee3e 183px,#feeb3b 193px,#fee639 203px,#fde038 213px,#fcd636 223px,#fccb33 233px,#fbbf31 243px,#fab830 253px,#f9ae2d 263px,#f8a429 273px,#f9a82b 283px,#f9ad2c 293px,#f9b12e 303px,#fab62f 313px,#fabc31 323px,#fbc632 333px,#fbca33 336px)"></i><i style="width:1px;background:linear-gradient(#fcd535 3px,#fcd034 13px,#fccc33 23px,#fbc833 33px,#fbc733 43px,#fbc733 53px,#fccb33 63px,#fccd33 73px,#fcca33 83px,#fbc933 93px,#fbca33 103px,#fcd335 113px,#fdde37 123px,#fde539 133px,#feea3a 143px,#feed3d 153px,#fff040 163px,#fff13e 173px,#ffef3f 183px,#feec3c 193px,#fee93a 203px,#fde339 213px,#fddb37 223px,#fcd134 233px,#fbc732 243px,#fabd31 253px,#f9b22e 263px,#f9a72a 273px,#f9ad2c 283px,#fab32e 293px,#fab52f 303px,#faba30 313px,#fbc031 323px,#fbc933 333px,#fccc33 336px)"></i><i style="width:1px;background:linear-gradient(#fdda36 3px,#fcd435 13px,#fcd134 23px,#fccc33 33px,#fccd34 43px,#fccf34 53px,#fcd134 63px,#fcd234 73px,#fccf34 83px,#fccd33 93px,#fcce34 103px,#fcd836 113px,#fde138 123px,#fee739 133px,#feeb3b 143px,#ffee3e 153px,#fff13e 163px,#fff13d 173px,#fff040 183px,#feed3d 193px,#feeb3b 203px,#fee639 213px,#fdde38 223px,#fcd635 233px,#fccf34 243px,#fbc131 253px,#fab52f 263px,#f9ae2d 273px,#f9b22e 283px,#fab52f 293px,#fab830 303px,#fabd31 313px,#fbc432 323px,#fcce34 333px,#fcd234 336px)"></i><i style="width:1px;background:linear-gradient(#fddc37 3px,#fcd635 13px,#fcd235 23px,#fcd134 33px,#fcd335 43px,#fcd535 53px,#fdd936 63px,#fcd736 73px,#fcd134 83px,#fcd134 93px,#fcd234 103px,#fdda37 113px,#fde238 123px,#fee93a 133px,#ffed3d 143px,#fff040 153px,#fff13d 163px,#fff23c 173px,#fff03f 183px,#ffee3e 193px,#feeb3b 203px,#fee739 213px,#fde038 223px,#fdd936 233px,#fcd335 243px,#fbc332 253px,#fab730 263px,#fab32e 273px,#fab32e 283px,#fab42f 293px,#fab930 303px,#fbbf31 313px,#fbc532 323px,#fcd234 333px,#fcd535 336px)"></i><i style="width:1px;background:linear-gradient(#fdde37 3px,#fcd736 13px,#fcd435 23px,#fcd335 33px,#fcd635 43px,#fdd936 53px,#fdde37 63px,#fddb37 73px,#fcd335 83px,#fcd635 93px,#fcd736 103px,#fddd37 113px,#fee539 123px,#feeb3b 133px,#fff040 143px,#fff13d 153px,#fff23c 163px,#fff23b 173px,#fff13e 183px,#ffef3f 193px,#feec3c 203px,#fee93a 213px,#fde238 223px,#fddb37 233px,#fcd435 243px,#fbc732 253px,#fabb31 263px,#fab730 273px,#fab930 283px,#faba30 293px,#fabb31 303px,#fbc131 313px,#fbc833 323px,#fccf34 333px,#fcd234 336px)"></i><i style="width:1px;background:linear-gradient(#fddd37 3px,#fddb37 13px,#fdda37 23px,#fcd736 33px,#fdd936 43px,#fddc37 53px,#fddd37 63px,#fddd37 73px,#fddb37 83px,#fddc37 93px,#fddd37 103px,#fde238 113px,#fee93a 123px,#ffee3e 133px,#fff03f 143px,#fff23d 153px,#fff23b 163px,#fff339 173px,#fff23c 183px,#fff040 193px,#ffee3e 203px,#feec3c 213px,#fde539 223px,#fdde38 233px,#fcd736 243px,#fccc33 253px,#fbc132 263px,#fabc31 273px,#fbc131 283px,#fbc332 293px,#fbc031 303px,#fbc532 313px,#fcce34 323px,#fcd034 333px,#fcd134 336px)"></i><i style="width:1px;background:linear-gradient(#fcd736 3px,#fcd836 13px,#fdd836 23px,#fcd535 33px,#fdd836 43px,#fddb37 53px,#fdd836 63px,#fddb37 73px,#fdde38 83px,#fddd37 93px,#fddd37 103px,#fde238 113px,#fee93a 123px,#feed3d 133px,#fff040 143px,#fff13e 153px,#fff23c 163px,#fff339 173px,#fff23b 183px,#fff03f 193px,#ffef3f 203px,#feec3c 213px,#fee639 223px,#fde138 233px,#fddc37 243px,#fccd34 253px,#fbc031 263px,#fab930 273px,#fbbe31 283px,#fbc332 293px,#fbc833 303px,#fccc33 313px,#fccf34 323px,#fcd335 333px,#fcd435 336px)"></i><i style="width:1px;background:linear-gradient(#fcd836 3px,#fcd535 13px,#fcd134 23px,#fbc733 33px,#fccf34 43px,#fcd535 53px,#fcd134 63px,#fcd335 73px,#fcd736 83px,#fdd936 93px,#fddb37 103px,#fde238 113px,#fee739 123px,#feec3c 133px,#fff040 143px,#fff13d 153px,#fff23c 163px,#fff339 173px,#fff23c 183px,#ffef3f 193px,#feed3d 203px,#feea3a 213px,#fde439 223px,#fddf38 233px,#fcd836 243px,#fbc632 253px,#fab730 263px,#f9b12e 273px,#fab730 283px,#fbbf31 293px,#fccd34 303px,#fccf34 313px,#fccb33 323px,#fccf34 333px,#fcd034 336px)"></i><i style="width:1px;background:linear-gradient(#fdde38 3px,#fdd936 13px,#fcd034 23px,#fbbe31 33px,#fccc33 43px,#fcd636 53px,#fccf34 63px,#fccf34 73px,#fcd234 83px,#fdd836 93px,#fddd37 103px,#fde339 113px,#feea3a 123px,#ffee3e 133px,#fff13d 143px,#fff33a 153px,#fff437 163px,#fff436 173px,#fff33a 183px,#fff040 193px,#feec3c 203px,#fee93a 213px,#fee639 223px,#fde038 233px,#fcd535 243px,#fbc732 253px,#fab930 263px,#f9af2d 273px,#fab62f 283px,#fbc131 293px,#fccf34 303px,#fcd134 313px,#fcce34 323px,#fccc33 333px,#fccb33 336px)"></i><i style="width:1px;background:linear-gradient(#fde539 3px,#fddf38 13px,#fcd736 23px,#fccc33 33px,#fddb37 43px,#fde439 53px,#fddd37 63px,#fddb37 73px,#fddc37 83px,#fde238 93px,#fde439 103px,#fee739 113px,#ffef3f 123px,#fff23c 133px,#fff23b 143px,#fff438 153px,#fdf536 163px,#f8f53a 173px,#fff536 183px,#fff23b 193px,#fff040 203px,#ffed3d 213px,#ffed3d 223px,#feea3a 233px,#fde038 243px,#fdd936 253px,#fccc33 263px,#fab830 273px,#fbc332 283px,#fccf34 293px,#fcd535 303px,#fdd936 313px,#fddc37 323px,#fddd37 333px,#fddd37 336px)"></i><i style="width:1px;background:linear-gradient(#feec3c 3px,#fee539 13px,#fde038 23px,#fdda36 33px,#fde439 43px,#feea3a 53px,#fee639 63px,#fde439 73px,#fde439 83px,#fee639 93px,#fee739 103px,#feea3a 113px,#fff13f 123px,#fff339 133px,#fff23b 143px,#fff438 153px,#fbf538 163px,#f6f53c 173px,#fcf537 183px,#fff437 193px,#fff23b 203px,#fff13e 213px,#fff03f 223px,#feed3d 233px,#fde439 243px,#fddf38 253px,#fcd535 263px,#fbc732 273px,#fcd234 283px,#fdda37 293px,#fdda37 303px,#fddc37 313px,#fddf38 323px,#fee639 333px,#fee83a 336px)"></i><i style="width:1px;background:linear-gradient(#feeb3b 3px,#fde238 13px,#fddb37 23px,#fdd936 33px,#fde138 43px,#fee639 53px,#fde439 63px,#fde138 73px,#fdde37 83px,#fddf38 93px,#fde339 103px,#feec3c 113px,#fff040 123px,#fff13d 133px,#fff13d 143px,#fff339 153px,#faf538 163px,#faf539 173px,#fff536 183px,#fff438 193px,#fff23c 203px,#fff03f 213px,#feed3d 223px,#fee639 233px,#fddb37 243px,#fcd535 253px,#fcce34 263px,#fbc933 273px,#fcd235 283px,#fcd736 293px,#fcd335 303px,#fcd335 313px,#fcd435 323px,#fde038 333px,#fde238 336px)"></i><i style="width:1px;background:linear-gradient(#fde038 3px,#fcd636 13px,#fcd134 23px,#fccc33 33px,#fcd235 43px,#fcd836 53px,#fdd936 63px,#fdda37 73px,#fddb37 83px,#fddb37 93px,#fde038 103px,#feeb3b 113px,#ffee3e 123px,#fff040 133px,#fff040 143px,#fff23b 153px,#fff535 163px,#fff535 173px,#fff339 183px,#fff23b 193px,#fff040 203px,#feea3a 213px,#fde138 223px,#fdda36 233px,#fcd535 243px,#fccc33 253px,#fbc132 263px,#fab830 273px,#fbc432 283px,#fccc33 293px,#fbc232 303px,#fbc733 313px,#fcd435 323px,#fddb37 333px,#fddc37 336px)"></i><i style="width:1px;background:linear-gradient(#fcd736 3px,#fcd335 13px,#fccc33 23px,#fbbf31 33px,#fbc432 43px,#fccb33 53px,#fccf34 63px,#fdd836 73px,#fde238 83px,#fdde37 93px,#fddf38 103px,#fee93a 113px,#feec3c 123px,#ffee3e 133px,#ffef3f 143px,#fff13d 153px,#fff438 163px,#fff437 173px,#fff33a 183px,#fff13f 193px,#feed3d 203px,#fee739 213px,#fddd37 223px,#fdd936 233px,#fdda36 243px,#fbc933 253px,#fab830 263px,#f9aa2b 273px,#fab62f 283px,#fbbf31 293px,#fab930 303px,#fbc232 313px,#fcd134 323px,#fcd335 333px,#fcd335 336px)"></i><i style="width:1px;background:linear-gradient(#fde138 3px,#fdda36 13px,#fcd335 23px,#fccc33 33px,#fcd335 43px,#fcd736 53px,#fcd335 63px,#fdde37 73px,#fee93a 83px,#fde138 93px,#fdde38 103px,#fee93a 113px,#ffed3d 123px,#fff040 133px,#fff13d 143px,#fff33a 153px,#fff437 163px,#fdf536 173px,#fff338 183px,#fff040 193px,#ffef3f 203px,#ffee3e 213px,#fee639 223px,#fde038 233px,#fddb37 243px,#fcd134 253px,#fbc332 263px,#fab830 273px,#fabc31 283px,#fbc031 293px,#fbc332 303px,#fccb33 313px,#fcd435 323px,#fcd134 333px,#fcd034 336px)"></i><i style="width:1px;background:linear-gradient(#feea3a 3px,#fee639 13px,#fde339 23px,#fde038 33px,#fee539 43px,#fee93a 53px,#fde339 63px,#fee83a 73px,#ffee3e 83px,#fee739 93px,#fde439 103px,#feec3c 113px,#fff03f 123px,#fff33a 133px,#fbf538 143px,#f8f53a 153px,#fdf537 163px,#fbf538 173px,#fff437 183px,#fff23b 193px,#fff23c 203px,#fff13e 213px,#feed3d 223px,#fee739 233px,#fde138 243px,#fdde37 253px,#fcd736 263px,#fcd034 273px,#fcd134 283px,#fcd134 293px,#fcd235 303px,#fdda37 313px,#fde339 323px,#fee539 333px,#fee539 336px)"></i><i style="width:1px;background:linear-gradient(#fee739 3px,#fee639 13px,#fde339 23px,#fdda37 33px,#fde138 43px,#fee639 53px,#fee539 63px,#fee739 73px,#feea3a 83px,#fee739 93px,#fde439 103px,#fee739 113px,#fff040 123px,#fff339 133px,#fff535 143px,#fff536 153px,#fff338 163px,#fff339 173px,#fff33a 183px,#fff438 193px,#fff13d 203px,#ffed3d 213px,#feeb3b 223px,#fee83a 233px,#fde539 243px,#fdd936 253px,#fcd034 263px,#fcce34 273px,#fccd34 283px,#fccd33 293px,#fcd435 303px,#fdd936 313px,#fddd37 323px,#fee539 333px,#fee739 336px)"></i><i style="width:1px;background:linear-gradient(#fcd335 3px,#fcd235 13px,#fccf34 23px,#fbc432 33px,#fcd034 43px,#fcd736 53px,#fcd335 63px,#fcd335 73px,#fcd636 83px,#fde038 93px,#fdde37 103px,#fcd335 113px,#feea3a 123px,#fff13e 133px,#ffef3f 143px,#fff040 153px,#fff13d 163px,#fff13f 173px,#fff040 183px,#fff13e 193px,#feeb3b 203px,#fde138 213px,#fde138 223px,#fde339 233px,#fde539 243px,#fccb33 253px,#fab730 263px,#fab830 273px,#fab32e 283px,#f9b12e 293px,#fbc131 303px,#fbc332 313px,#fabe31 323px,#fccd34 333px,#fcd234 336px)"></i><i style="width:1px;background:linear-gradient(#fbc031 3px,#fbc232 13px,#fbc131 23px,#fabb30 33px,#fccb33 43px,#fcd535 53px,#fbc732 63px,#fbc031 73px,#fbc031 83px,#fcd836 93px,#fddb37 103px,#fcd034 113px,#fee539 123px,#ffee3e 133px,#feed3d 143px,#ffee3e 153px,#fff13e 163px,#fff13e 173px,#fff03f 183px,#fff13e 193px,#feec3c 203px,#fde138 213px,#fddb37 223px,#fddf38 233px,#fde539 243px,#fbc632 253px,#f9b02d 263px,#fab32e 273px,#f9ae2d 283px,#f9a82b 293px,#f9ad2c 303px,#f9b02d 313px,#fab32e 323px,#fbc733 333px,#fcce34 336px)"></i><i style="width:1px;background:linear-gradient(#fab42f 3px,#fab930 13px,#fabb31 23px,#fab930 33px,#fabd31 43px,#fbc031 53px,#fbc031 63px,#fab830 73px,#f9b02d 83px,#fbca33 93px,#fcd535 103px,#fdd936 113px,#fee93a 123px,#ffef3f 133px,#ffef3f 143px,#ffef3f 153px,#fff03f 163px,#fff13d 173px,#fff13d 183px,#fff23c 193px,#ffee3e 203px,#fee639 213px,#fddd37 223px,#fcd736 233px,#fcd335 243px,#fabc31 253px,#f9b02d 263px,#fab42f 273px,#f9b12e 283px,#f9aa2b 293px,#f8a028 303px,#f8a429 313px,#f9ae2d 323px,#fbc232 333px,#fbc833 336px)"></i><i style="width:1px;background:linear-gradient(#fbc232 3px,#fccb33 13px,#fcd034 23px,#fccd33 33px,#fccc33 43px,#fbc833 53px,#fbbf31 63px,#fbc131 73px,#fbc933 83px,#fdda37 93px,#fde339 103px,#feea3a 113px,#fff13f 123px,#fff339 133px,#fff33a 143px,#fff23b 153px,#fff23c 163px,#fff23b 173px,#fff23b 183px,#fff23b 193px,#fff13e 203px,#ffed3d 213px,#fde138 223px,#fcd034 233px,#fbc131 243px,#fabb31 253px,#fabb30 263px,#fbc232 273px,#fbc432 283px,#fbc031 293px,#fab52f 303px,#fab52f 313px,#fabc31 323px,#fabd31 333px,#fbbe31 336px)"></i><i style="width:1px;background:linear-gradient(#fde138 3px,#fde439 13px,#fde439 23px,#fdde38 33px,#fde539 43px,#fee739 53px,#fcd535 63px,#fdd936 73px,#fee83a 83px,#feec3c 93px,#ffef3f 103px,#fff13d 113px,#fff438 123px,#fcf537 133px,#f3f53e 143px,#f8f53a 153px,#fff437 163px,#fff535 173px,#fff535 183px,#fff535 193px,#fff536 203px,#fff33a 213px,#fee639 223px,#fdd936 233px,#fcd736 243px,#fcd234 253px,#fcd235 263px,#fddc37 273px,#fde038 283px,#fde038 293px,#fdd836 303px,#fdd836 313px,#fddc37 323px,#fdd936 333px,#fdd936 336px)"></i><i style="width:1px;background:linear-gradient(#fde138 3px,#fde038 13px,#fddd37 23px,#fdd836 33px,#fde238 43px,#fee639 53px,#fddc37 63px,#fde539 73px,#ffef3f 83px,#feeb3b 93px,#feea3a 103px,#ffef3f 113px,#fff13e 123px,#fff23b 133px,#f8f53a 143px,#faf539 153px,#fff438 163px,#fef536 173px,#fdf536 183px,#fff535 193px,#fff535 203px,#fff438 213px,#feed3d 223px,#fde539 233px,#fde138 243px,#fcd636 253px,#fcd034 263px,#fcd234 273px,#fcd836 283px,#fdda36 293px,#fcd234 303px,#fcd535 313px,#fddd37 323px,#fde138 333px,#fde238 336px)"></i><i style="width:1px;background:linear-gradient(#fdda36 3px,#fcd435 13px,#fcd535 23px,#fdde37 33px,#fde339 43px,#fde339 53px,#fcd836 63px,#fee639 73px,#fff13e 83px,#fee639 93px,#fde038 103px,#feec3c 113px,#fff03f 123px,#fff23b 133px,#fff535 143px,#fdf537 153px,#fff535 163px,#fdf537 173px,#fff535 183px,#fff438 193px,#fff438 203px,#fff33a 213px,#ffef3f 223px,#fee739 233px,#fdd836 243px,#fccb33 253px,#fbbf31 263px,#fabb30 273px,#fbc332 283px,#fbca33 293px,#fbc933 303px,#fccc33 313px,#fcd034 323px,#fcd635 333px,#fdd836 336px)"></i><i style="width:1px;background:linear-gradient(#fcd535 3px,#fcd535 13px,#fcd736 23px,#fddb37 33px,#fdde38 43px,#fddd37 53px,#fcd134 63px,#fde238 73px,#ffef3f 83px,#fde439 93px,#fde138 103px,#ffef3f 113px,#fff339 123px,#fcf537 133px,#fef536 143px,#fef536 153px,#fcf537 163px,#f9f539 173px,#fef536 183px,#fff438 193px,#fff33a 203px,#fff23c 213px,#fff040 223px,#fee83a 233px,#fcd435 243px,#fbc532 253px,#fbbe31 263px,#fbc632 273px,#fccc33 283px,#fcd134 293px,#fcd635 303px,#fcd335 313px,#fbc933 323px,#fccd33 333px,#fcce34 336px)"></i><i style="width:1px;background:linear-gradient(#fcd535 3px,#fdda37 13px,#fdd836 23px,#fccb33 33px,#fcd335 43px,#fdda36 53px,#fcd836 63px,#fde238 73px,#feeb3b 83px,#fde038 93px,#fde238 103px,#fff040 113px,#fff535 123px,#f3f53e 133px,#fff437 143px,#fff33a 153px,#fff338 163px,#fef536 173px,#fff535 183px,#fff33a 193px,#fff33a 203px,#fff33a 213px,#fff23b 223px,#ffef3f 233px,#fde138 243px,#fcd034 253px,#fbca33 263px,#fcd736 273px,#fdda37 283px,#fdda36 293px,#fcd836 303px,#fcd134 313px,#fbc632 323px,#fbc833 333px,#fbca33 336px)"></i><i style="width:1px;background:linear-gradient(#fee639 3px,#fee739 13px,#fde238 23px,#fccd33 33px,#fde339 43px,#feed3d 53px,#fee83a 63px,#fee93a 73px,#feec3c 83px,#fee83a 93px,#feec3c 103px,#fff339 113px,#f8f53a 123px,#f1f53f 133px,#fff436 143px,#fff437 153px,#fdf537 163px,#f4f53d 173px,#f5f53c 183px,#fff535 193px,#fef535 203px,#fff535 213px,#fff33a 223px,#fff03f 233px,#feeb3b 243px,#fde539 253px,#fde238 263px,#fee539 273px,#fde038 283px,#fcd736 293px,#fcd836 303px,#fcd335 313px,#fccc33 323px,#fcd836 333px,#fddc37 336px)"></i><i style="width:1px;background:linear-gradient(#ffef3f 3px,#feed3d 13px,#feeb3b 23px,#fee83a 33px,#fff03f 43px,#fff33a 53px,#ffee3e 63px,#ffef3f 73px,#fff23c 83px,#fff13e 93px,#fff33a 103px,#f1f53f 113px,#eef541 123px,#f0f540 133px,#f3f53e 143px,#e6f745 153px,#caf851 163px,#ccf850 173px,#d6f84c 183px,#e0f748 193px,#e7f645 203px,#f3f53e 213px,#fff23b 223px,#fff040 233px,#fff040 243px,#ffef3f 253px,#ffef3f 263px,#fff13f 273px,#feeb3b 283px,#fde138 293px,#fee639 303px,#fde539 313px,#fde038 323px,#fee93a 333px,#feeb3b 336px)"></i><i style="width:1px;background:linear-gradient(#fff13e 3px,#ffef3f 13px,#fff040 23px,#fff23c 33px,#fff438 43px,#fff437 53px,#fff040 63px,#fff13e 73px,#fff436 83px,#fff33a 93px,#fff339 103px,#f1f53f 113px,#edf542 123px,#ecf642 133px,#e9f644 143px,#cef84f 153px,#a4f66e 163px,#bdf857 173px,#d1f84e 183px,#d6f84c 193px,#def849 203px,#e9f644 213px,#fef535 223px,#fff338 233px,#fff339 243px,#fff339 253px,#fff23c 263px,#fff040 273px,#ffef3f 283px,#ffef3f 293px,#ffed3d 303px,#feed3d 313px,#feec3c 323px,#ffed3d 333px,#ffee3e 336px)"></i><i style="width:1px;background:linear-gradient(#fff536 3px,#fff339 13px,#fff23b 23px,#fff33a 33px,#fff33a 43px,#fff23c 53px,#ffef3f 63px,#fff03f 73px,#fff536 83px,#f7f53b 93px,#eaf643 103px,#d9f84b 113px,#c7f852 123px,#b9f85b 133px,#b5f75e 143px,#a6f66c 153px,#93f47f 163px,#a5f66d 173px,#b3f760 183px,#b7f75c 193px,#b5f75e 203px,#b6f75e 213px,#c0f855 223px,#d7f84c 233px,#edf542 243px,#f6f53b 253px,#fff438 263px,#ffef3f 273px,#fff13e 283px,#fff23c 293px,#fff040 303px,#fff13e 313px,#fff23b 323px,#fff23c 333px,#fff23c 336px)"></i><i style="width:1px;background:linear-gradient(#fff535 3px,#fff438 13px,#fff33a 23px,#fff33a 33px,#fff13d 43px,#fff03f 53px,#ffed3d 63px,#fff040 73px,#fff437 83px,#fbf538 93px,#eef541 103px,#d8f84c 113px,#c5f853 123px,#b7f75c 133px,#b4f75f 143px,#aef764 153px,#a8f66a 163px,#b1f762 173px,#b8f75b 183px,#b7f75d 193px,#b6f75d 203px,#b8f75b 213px,#c0f855 223px,#ddf849 233px,#f8f53a 243px,#fef536 253px,#fff338 263px,#fff23d 273px,#fff13e 283px,#fff040 293px,#ffef3f 303px,#fff03f 313px,#fff13d 323px,#fff23d 333px,#fff23c 336px)"></i><i style="width:1px;background:linear-gradient(#fff438 3px,#fff437 13px,#fff437 23px,#fff23b 33px,#fff13e 43px,#fff040 53px,#ffef3f 63px,#fff13e 73px,#fff535 83px,#fef536 93px,#f2f53f 103px,#d5f84d 113px,#c9f852 123px,#c2f855 133px,#bff856 143px,#baf859 153px,#b5f75e 163px,#b9f85b 173px,#bbf859 183px,#b5f75e 193px,#b6f75e 203px,#baf859 213px,#c8f852 223px,#e2f747 233px,#faf539 243px,#fef536 253px,#fff339 263px,#fff13f 273px,#ffef3f 283px,#ffee3e 293px,#ffef3f 303px,#ffef3f 313px,#fff040 323px,#fff13d 333px,#fff23c 336px)"></i><i style="width:1px;background:linear-gradient(#fff23c 3px,#fff23b 13px,#fff23c 23px,#ffee3e 33px,#ffee3e 43px,#fff040 53px,#fff040 63px,#fff13e 73px,#fff437 83px,#fff535 93px,#f5f53c 103px,#dff848 113px,#d3f84e 123px,#caf851 133px,#c8f852 143px,#c2f854 153px,#bbf859 163px,#bef856 173px,#c2f854 183px,#c1f855 193px,#c0f855 203px,#c4f854 213px,#d4f84d 223px,#e7f644 233px,#faf539 243px,#fff437 253px,#fff13f 263px,#fee83a 273px,#fee83a 283px,#fee93a 293px,#feed3d 303px,#ffee3e 313px,#ffee3e 323px,#fff040 333px,#fff13e 336px)"></i><i style="width:1px;background:linear-gradient(#fff23c 3px,#ffef3f 13px,#feec3c 23px,#feea3a 33px,#feeb3b 43px,#feec3c 53px,#feec3c 63px,#ffee3e 73px,#fff23c 83px,#fff339 93px,#fcf537 103px,#f0f540 113px,#ddf849 123px,#c7f852 133px,#c1f855 143px,#bff856 153px,#bff856 163px,#bef856 173px,#c1f855 183px,#c5f853 193px,#cdf850 203px,#d6f84c 213px,#e0f748 223px,#f1f540 233px,#fff437 243px,#fff13e 253px,#feeb3b 263px,#fdd936 273px,#fdde37 283px,#fde439 293px,#feeb3b 303px,#ffed3d 313px,#ffed3d 323px,#ffef3f 333px,#ffef3f 336px)"></i><i style="width:1px;background:linear-gradient(#fff23b 3px,#ffef3f 13px,#feed3d 23px,#ffee3e 33px,#feec3c 43px,#feeb3b 53px,#feea3a 63px,#feea3a 73px,#ffee3e 83px,#fff339 93px,#fcf537 103px,#f8f53a 113px,#e0f748 123px,#c1f855 133px,#c3f854 143px,#c4f854 153px,#c4f854 163px,#bff856 173px,#bbf858 183px,#b3f760 193px,#c8f852 203px,#ddf84a 213px,#e1f747 223px,#f3f53d 233px,#fff33a 243px,#fff13f 253px,#feeb3b 263px,#fddc37 273px,#fde138 283px,#fee639 293px,#feea3a 303px,#feec3c 313px,#feec3c 323px,#ffef3f 333px,#fff040 336px)"></i><i style="width:1px;background:linear-gradient(#fff040 3px,#ffef3f 13px,#fff040 23px,#fff03f 33px,#ffee3e 43px,#feeb3b 53px,#feeb3b 63px,#feeb3b 73px,#fff040 83px,#fff536 93px,#f3f53e 103px,#f2f53e 113px,#d5f84d 123px,#b6f75d 133px,#c9f851 143px,#caf851 153px,#c2f855 163px,#c8f852 173px,#c1f855 183px,#a8f66a 193px,#bcf858 203px,#d6f84d 213px,#dff849 223px,#eff540 233px,#fff437 243px,#fff23b 253px,#ffef3f 263px,#fde539 273px,#fee83a 283px,#fee93a 293px,#fde439 303px,#fee93a 313px,#ffee3e 323px,#ffef3f 333px,#fff040 336px)"></i><i style="width:1px;background:linear-gradient(#feea3a 3px,#ffee3e 13px,#ffef3f 23px,#ffef3f 33px,#feed3d 43px,#feea3a 53px,#fee93a 63px,#feec3c 73px,#fff23c 83px,#faf538 93px,#ecf642 103px,#e8f644 113px,#c9f852 123px,#aff764 133px,#bef856 143px,#bcf858 153px,#b1f761 163px,#c4f854 173px,#c6f853 183px,#aef764 193px,#c7f853 203px,#def849 213px,#d9f84b 223px,#e6f745 233px,#faf539 243px,#fff339 253px,#ffef3f 263px,#fde038 273px,#fde539 283px,#fee83a 293px,#fde339 303px,#feeb3b 313px,#fff03f 323px,#fff040 333px,#fff040 336px)"></i><i style="width:1px;background:linear-gradient(#ffee3e 3px,#fff03f 13px,#fff13e 23px,#fff03f 33px,#ffee3e 43px,#feec3c 53px,#feec3c 63px,#feed3d 73px,#fff23c 83px,#f6f53b 93px,#e3f747 103px,#d9f84b 113px,#c0f855 123px,#adf666 133px,#a9f669 143px,#9ff573 153px,#95f47d 163px,#b0f762 173px,#b9f85a 183px,#aaf669 193px,#c6f853 203px,#def849 213px,#cff84f 223px,#def849 233px,#f4f53d 243px,#fff33a 253px,#ffed3d 263px,#fde238 273px,#fde439 283px,#fee739 293px,#fee93a 303px,#ffee3e 313px,#fff23c 323px,#ffef3f 333px,#ffee3e 336px)"></i><i style="width:1px;background:linear-gradient(#fff23b 3px,#fff33a 13px,#fff23b 23px,#fff03f 33px,#ffee3e 43px,#ffee3e 53px,#fff13e 63px,#fff13e 73px,#fff23b 83px,#f2f53f 93px,#d9f84b 103px,#c6f853 113px,#bbf858 123px,#b1f762 133px,#a3f66f 143px,#97f47b 153px,#91f481 163px,#a9f669 173px,#b6f75d 183px,#b1f762 193px,#bff856 203px,#cdf850 213px,#c9f852 223px,#daf84b 233px,#f0f540 243px,#fff339 253px,#ffef3f 263px,#feeb3b 273px,#feeb3b 283px,#feea3a 293px,#feeb3b 303px,#ffef3f 313px,#fff13d 323px,#fff040 333px,#ffef3f 336px)"></i><i style="width:1px;background:linear-gradient(#fff33a 3px,#fff33a 13px,#fff13d 23px,#feec3c 33px,#feeb3b 43px,#ffee3e 53px,#fff33a 63px,#fff23b 73px,#fff23b 83px,#f3f53d 93px,#dbf84a 103px,#c2f854 113px,#bdf857 123px,#b9f85b 133px,#aaf669 143px,#a2f570 153px,#a0f572 163px,#a4f66e 173px,#aef764 183px,#bbf859 193px,#c5f853 203px,#cbf851 213px,#c4f854 223px,#d7f84c 233px,#eff540 243px,#fff436 253px,#fff13e 263px,#ffee3e 273px,#ffef3f 283px,#ffef3f 293px,#feed3d 303px,#ffee3e 313px,#fff03f 323px,#fff13e 333px,#fff23d 336px)"></i><i style="width:1px;background:linear-gradient(#fff13d 3px,#fff040 13px,#ffee3e 23px,#feeb3b 33px,#feeb3b 43px,#ffed3d 53px,#fff13e 63px,#fff13e 73px,#fff23b 83px,#f7f53b 93px,#e0f748 103px,#c6f853 113px,#c4f854 123px,#c0f855 133px,#abf667 143px,#a2f570 153px,#9ff573 163px,#98f47a 173px,#a0f572 183px,#b4f75f 193px,#bef856 203px,#c4f854 213px,#c4f854 223px,#dcf84a 233px,#f6f53c 243px,#fff437 253px,#fff13e 263px,#ffee3e 273px,#fff13e 283px,#fff13d 293px,#ffee3e 303px,#ffed3d 313px,#ffef3f 323px,#fff23c 333px,#fff33a 336px)"></i><i style="width:1px;background:linear-gradient(#fff13f 3px,#ffee3e 13px,#feec3c 23px,#ffee3e 33px,#feec3c 43px,#feeb3b 53px,#fee93a 63px,#feec3c 73px,#fff23b 83px,#f4f53d 93px,#e0f748 103px,#d7f84c 113px,#cff84f 123px,#c3f854 133px,#b0f763 143px,#a2f570 153px,#98f47a 163px,#99f479 173px,#a3f56f 183px,#b1f762 193px,#b2f761 203px,#b4f75f 213px,#bff855 223px,#def849 233px,#faf539 243px,#fff339 253px,#fff040 263px,#feea3a 273px,#ffee3e 283px,#fff03f 293px,#ffef3f 303px,#ffee3e 313px,#ffef3f 323px,#fff13d 333px,#fff23b 336px)"></i><i style="width:1px;background:linear-gradient(#fff23c 3px,#fff13f 13px,#ffee3e 23px,#feeb3b 33px,#feea3a 43px,#fee93a 53px,#fee639 63px,#feea3a 73px,#fff23b 83px,#eef541 93px,#dcf84a 103px,#e5f745 113px,#d9f84b 123px,#c5f853 133px,#b6f75d 143px,#abf667 153px,#a1f571 163px,#a8f66a 173px,#b2f761 183px,#bdf857 193px,#bbf859 203px,#b8f75c 213px,#baf85a 223px,#d8f84b 233px,#f9f53a 243px,#fff33a 253px,#ffee3e 263px,#fde539 273px,#fee93a 283px,#feec3c 293px,#ffef3f 303px,#fff13e 313px,#fff13d 323px,#fff23b 333px,#fff23b 336px)"></i><i style="width:1px;background:linear-gradient(#fff339 3px,#fff13d 13px,#ffee3e 23px,#fde339 33px,#fee539 43px,#feea3a 53px,#feeb3b 63px,#ffee3e 73px,#fff438 83px,#eaf643 93px,#dbf84b 103px,#e4f746 113px,#d3f84d 123px,#bef856 133px,#b6f75d 143px,#aff764 153px,#a9f669 163px,#aff764 173px,#b9f85a 183px,#c5f853 193px,#c3f854 203px,#bff856 213px,#bdf856 223px,#d7f84c 233px,#f4f53d 243px,#fff438 253px,#fff040 263px,#feea3a 273px,#feea3a 283px,#feeb3b 293px,#fff040 303px,#fff23c 313px,#fff339 323px,#fff33a 333px,#fff33a 336px)"></i><i style="width:1px;background:linear-gradient(#fff33a 3px,#fff03f 13px,#feec3c 23px,#fde539 33px,#fee639 43px,#fee93a 53px,#feec3c 63px,#fff040 73px,#fff535 83px,#eef541 93px,#dff848 103px,#dcf84a 113px,#c3f854 123px,#aef764 133px,#acf666 143px,#a7f66b 153px,#a1f571 163px,#a6f66c 173px,#aef765 183px,#b6f75e 193px,#b9f85a 203px,#bcf857 213px,#bff856 223px,#d5f84d 233px,#eff540 243px,#fff437 253px,#fff040 263px,#fee93a 273px,#feea3a 283px,#feec3c 293px,#fff040 303px,#fff13d 313px,#fff23c 323px,#fff13d 333px,#fff13d 336px)"></i><i style="width:1px;background:linear-gradient(#fff23b 3px,#fff03f 13px,#ffee3e 23px,#feec3c 33px,#fee739 43px,#fde439 53px,#feeb3b 63px,#ffee3e 73px,#fff33a 83px,#f7f53b 93px,#e6f745 103px,#ddf84a 113px,#c5f853 123px,#b1f762 133px,#aaf668 143px,#a1f571 153px,#96f47c 163px,#9ff573 173px,#a9f669 183px,#aef764 193px,#b8f75b 203px,#bef856 213px,#b9f85b 223px,#cdf850 233px,#ecf642 243px,#fff438 253px,#ffee3e 263px,#fde439 273px,#feea3a 283px,#ffee3e 293px,#fff03f 303px,#fff13f 313px,#fff040 323px,#fff03f 333px,#fff13f 336px)"></i><i style="width:1px;background:linear-gradient(#fff535 3px,#fff437 13px,#fff23b 23px,#ffee3e 33px,#feeb3b 43px,#feea3a 53px,#fff03f 63px,#fff040 73px,#fff13e 83px,#faf539 93px,#e3f746 103px,#d6f84d 113px,#c4f854 123px,#b5f75e 133px,#acf667 143px,#a2f570 153px,#98f47a 163px,#a2f570 173px,#a8f66a 183px,#a5f66d 193px,#b2f761 203px,#baf859 213px,#b1f762 223px,#c2f854 233px,#e4f746 243px,#fdf537 253px,#fff13e 263px,#feeb3b 273px,#ffef3f 283px,#fff13e 293px,#fff23c 303px,#fff13d 313px,#ffef3f 323px,#fff23c 333px,#fff33a 336px)"></i><i style="width:1px;background:linear-gradient(#fdf537 3px,#fff437 13px,#fff33a 23px,#fff040 33px,#feed3d 43px,#feed3d 53px,#fff23b 63px,#fff13d 73px,#fff13f 83px,#f6f53c 93px,#d8f84b 103px,#bff856 113px,#aff763 123px,#a4f66e 133px,#a6f66c 143px,#a6f66c 153px,#a5f66d 163px,#a8f66a 173px,#a8f66a 183px,#a0f572 193px,#abf667 203px,#b6f75d 213px,#b7f75c 223px,#c8f852 233px,#e3f747 243px,#f9f539 253px,#fff23c 263px,#ffee3e 273px,#fff040 283px,#fff13e 293px,#fff13d 303px,#fff03f 313px,#ffee3e 323px,#fff33a 333px,#fff437 336px)"></i><i style="width:1px;background:linear-gradient(#fff437 3px,#fff339 13px,#fff23b 23px,#fff13d 33px,#feec3c 43px,#fee739 53px,#fff03f 63px,#fff03f 73px,#fff13d 83px,#f2f53e 93px,#d2f84e 103px,#b7f75d 113px,#a2f570 123px,#95f47d 133px,#a3f56f 143px,#aaf668 153px,#adf666 163px,#a5f66d 173px,#a5f66d 183px,#aaf668 193px,#aaf668 203px,#b0f763 213px,#c7f852 223px,#daf84b 233px,#e8f644 243px,#fcf537 253px,#fff13d 263px,#feec3c 273px,#fff040 283px,#fff13e 293px,#ffef3f 303px,#fff040 313px,#fff13e 323px,#fff23c 333px,#fff33a 336px)"></i><i style="width:1px;background:linear-gradient(#fff339 3px,#fff339 13px,#fff23b 23px,#fff13e 33px,#feed3d 43px,#fee93a 53px,#feec3c 63px,#ffee3e 73px,#fff33a 83px,#eef541 93px,#d3f84e 103px,#c4f854 113px,#acf667 123px,#9bf577 133px,#acf666 143px,#b5f75f 153px,#b7f75c 163px,#a6f66c 173px,#9ff573 183px,#a4f66e 193px,#a1f571 203px,#a8f66a 213px,#d0f84f 223px,#e3f747 233px,#edf542 243px,#fcf537 253px,#fff23c 263px,#feec3c 273px,#fff03f 283px,#fff23c 293px,#fff040 303px,#fff13d 313px,#fff438 323px,#fff23c 333px,#fff13d 336px)"></i><i style="width:1px;background:linear-gradient(#fff23b 3px,#fff23b 13px,#fff13d 23px,#ffee3e 33px,#ffee3e 43px,#ffef3f 53px,#feea3a 63px,#feeb3b 73px,#fff23b 83px,#f0f540 93px,#d6f84c 103px,#c7f852 113px,#b4f75f 123px,#a9f669 133px,#b2f761 143px,#b7f75c 153px,#b8f75b 163px,#a9f669 173px,#9ff573 183px,#9bf577 193px,#9ff573 203px,#acf667 213px,#cef850 223px,#e4f746 233px,#f3f53e 243px,#fff535 253px,#fff23c 263px,#ffee3e 273px,#fff03f 283px,#fff13e 293px,#ffef3f 303px,#fff13e 313px,#fff339 323px,#fff23c 333px,#fff13d 336px)"></i><i style="width:1px;background:linear-gradient(#fff339 3px,#fff23b 13px,#fff23c 23px,#fff13d 33px,#fff03f 43px,#ffef3f 53px,#feed3d 63px,#feec3c 73px,#fff13d 83px,#f3f53e 93px,#d3f84e 103px,#b4f75f 113px,#b1f762 123px,#aff764 133px,#a4f66e 143px,#9ef574 153px,#9bf577 163px,#98f47a 173px,#97f47b 183px,#94f47e 193px,#99f479 203px,#a4f66e 213px,#bcf858 223px,#d7f84c 233px,#eef541 243px,#f9f539 253px,#fff339 263px,#fff13e 273px,#fff13e 283px,#fff03f 293px,#ffef3f 303px,#fff03f 313px,#fff23c 323px,#fff33a 333px,#fff33a 336px)"></i><i style="width:1px;background:linear-gradient(#fff535 3px,#fff437 13px,#fff438 23px,#fff438 33px,#fff03f 43px,#feec3c 53px,#fff040 63px,#fff040 73px,#fff23c 83px,#f5f53d 93px,#d2f84e 103px,#a6f66c 113px,#abf667 123px,#b0f763 133px,#9df575 143px,#93f47f 153px,#8ff383 163px,#93f47f 173px,#95f47d 183px,#91f481 193px,#91f481 203px,#99f479 213px,#b4f75f 223px,#cbf851 233px,#e2f747 243px,#eef541 253px,#fff535 263px,#fff23d 273px,#fff13e 283px,#fff13f 293px,#fff13f 303px,#fff13d 313px,#fff23b 323px,#fff339 333px,#fff438 336px)"></i><i style="width:1px;background:linear-gradient(#fef536 3px,#fff438 13px,#fff339 23px,#fff339 33px,#ffee3e 43px,#fee639 53px,#ffee3e 63px,#ffef3f 73px,#fff23c 83px,#fef536 93px,#e3f747 103px,#b0f763 113px,#b8f75b 123px,#c1f855 133px,#aaf668 143px,#a7f66b 153px,#aff764 163px,#acf667 173px,#a9f669 183px,#a2f570 193px,#a1f571 203px,#a7f66b 213px,#bcf858 223px,#cdf850 233px,#def849 243px,#f1f53f 253px,#fff338 263px,#ffee3e 273px,#ffed3d 283px,#ffed3d 293px,#ffef3f 303px,#fff13e 313px,#fff23b 323px,#fff23c 333px,#fff23d 336px)"></i><i style="width:1px;background:linear-gradient(#fff438 3px,#fff23c 13px,#fff13e 23px,#fff040 33px,#feeb3b 43px,#fde339 53px,#fee639 63px,#feeb3b 73px,#fff13d 83px,#fff536 93px,#ecf642 103px,#d2f84e 113px,#d1f84e 123px,#d0f84f 133px,#bdf857 143px,#bdf857 153px,#c8f852 163px,#baf85a 173px,#b4f75f 183px,#b1f762 193px,#b3f760 203px,#b9f85a 213px,#c8f852 223px,#d5f84d 233px,#e3f746 243px,#faf538 253px,#fff13e 263px,#fee539 273px,#fee639 283px,#fee93a 293px,#feec3c 303px,#ffef3f 313px,#fff040 323px,#ffef3f 333px,#ffef3f 336px)"></i><i style="width:1px;background:linear-gradient(#fff339 3px,#fff23b 13px,#fff23d 23px,#fff040 33px,#feec3c 43px,#fee739 53px,#feeb3b 63px,#ffee3e 73px,#fff339 83px,#f1f53f 93px,#dff849 103px,#d7f84c 113px,#bef856 123px,#acf666 133px,#b3f760 143px,#b4f75f 153px,#b1f762 163px,#a7f66b 173px,#a2f570 183px,#9ff573 193px,#a6f66c 203px,#b0f762 213px,#c4f854 223px,#d3f84d 233px,#e2f747 243px,#f7f53b 253px,#fff23c 263px,#feeb3b 273px,#feec3c 283px,#ffee3e 293px,#fff040 303px,#fff13e 313px,#fff13d 323px,#fff33a 333px,#fff339 336px)"></i><i style="width:1px;background:linear-gradient(#fff23b 3px,#fff339 13px,#fff339 23px,#fff339 33px,#fff03f 43px,#feec3c 53px,#ffef3f 63px,#fff13f 73px,#fff437 83px,#eaf643 93px,#d2f84e 103px,#c7f852 113px,#a3f56f 123px,#8bf387 133px,#9df575 143px,#9cf576 153px,#90f482 163px,#8ff383 173px,#92f480 183px,#99f579 193px,#9bf577 203px,#a1f571 213px,#b5f75e 223px,#c9f852 233px,#dff849 243px,#f1f53f 253px,#fff437 263px,#fff03f 273px,#fff13e 283px,#fff13d 293px,#fff23c 303px,#fff339 313px,#fff535 323px,#faf539 333px,#f8f53a 336px)"></i><i style="width:1px;background:linear-gradient(#fff33a 3px,#fff438 13px,#fff437 23px,#fff536 33px,#fff23c 43px,#fff040 53px,#fff03f 63px,#fff13e 73px,#fff437 83px,#eaf643 93px,#d3f84e 103px,#c9f852 113px,#a8f66a 123px,#90f482 133px,#a1f571 143px,#9bf577 153px,#8cf386 163px,#8df385 173px,#94f47e 183px,#a6f66c 193px,#a2f570 203px,#a0f572 213px,#aaf668 223px,#c2f854 233px,#e3f746 243px,#f3f53d 253px,#fff437 263px,#fff13d 273px,#fff23c 283px,#fff23b 293px,#fff33a 303px,#fff536 313px,#f9f539 323px,#fcf537 333px,#fdf537 336px)"></i><i style="width:1px;background:linear-gradient(#fff437 3px,#fff536 13px,#fff437 23px,#fff23b 33px,#fff13e 43px,#fff040 53px,#fff03f 63px,#fff13e 73px,#fff436 83px,#edf541 93px,#d9f84b 103px,#cbf851 113px,#adf665 123px,#98f47a 133px,#aaf668 143px,#a9f669 153px,#9ff573 163px,#a9f669 173px,#aff763 183px,#adf665 193px,#adf666 203px,#adf666 213px,#abf667 223px,#c7f852 233px,#edf541 243px,#fff535 253px,#fff23c 263px,#fff13f 273px,#fff13e 283px,#fff13d 293px,#fff339 303px,#fff436 313px,#fdf536 323px,#fff437 333px,#fff438 336px)"></i><i style="width:1px;background:linear-gradient(#fff339 3px,#fff339 13px,#fff23c 23px,#ffed3d 33px,#feec3c 43px,#feed3d 53px,#ffef3f 63px,#ffef3f 73px,#fff23b 83px,#fbf538 93px,#e4f746 103px,#c3f854 113px,#a6f66c 123px,#95f47d 133px,#adf666 143px,#aff764 153px,#a8f66a 163px,#b9f85a 173px,#bff855 183px,#b4f75f 193px,#b5f75e 203px,#b8f75c 213px,#b7f75c 223px,#d3f84d 233px,#f4f53d 243px,#fff339 253px,#fff040 263px,#ffed3d 273px,#ffee3e 283px,#ffee3e 293px,#fff13d 303px,#fff33a 313px,#fff339 323px,#fff33a 333px,#fff23b 336px)"></i><i style="width:1px;background:linear-gradient(#fff33a 3px,#fff23c 13px,#fff13d 23px,#fff03f 33px,#ffee3e 43px,#ffee3e 53px,#fff13f 63px,#fff040 73px,#fff13d 83px,#fcf537 93px,#e1f747 103px,#b9f85a 113px,#a3f66f 123px,#9af578 133px,#b1f762 143px,#a9f669 153px,#92f480 163px,#98f47a 173px,#a0f572 183px,#a3f66f 193px,#a6f66c 203px,#abf667 213px,#bcf858 223px,#d5f84d 233px,#edf541 243px,#fff535 253px,#fff23d 263px,#ffef3f 273px,#ffef3f 283px,#ffee3e 293px,#fff13f 303px,#fff23c 313px,#fff33a 323px,#fff33a 333px,#fff339 336px)"></i><i style="width:1px;background:linear-gradient(#fff23c 3px,#fff13e 13px,#fff03f 23px,#fff13d 33px,#fff040 43px,#ffef3f 53px,#fff03f 63px,#ffef3f 73px,#fff03f 83px,#fcf537 93px,#e4f746 103px,#cff84f 113px,#baf85a 123px,#adf666 133px,#b7f75d 143px,#aaf668 153px,#91f481 163px,#8cf386 173px,#90f482 183px,#9ef574 193px,#a0f572 203px,#a6f66c 213px,#c2f855 223px,#d6f84c 233px,#e5f746 243px,#faf539 253px,#fff33a 263px,#fff13e 273px,#ffef3f 283px,#feec3c 293px,#ffee3e 303px,#fff03f 313px,#fff23c 323px,#fff339 333px,#fff339 336px)"></i><i style="width:1px;background:linear-gradient(#fff339 3px,#fff23b 13px,#fff13d 23px,#fff13e 33px,#fff03f 43px,#fff040 53px,#ffef3f 63px,#ffed3d 73px,#fff13f 83px,#fff535 93px,#e8f644 103px,#d1f84e 113px,#b7f75c 123px,#a5f66d 133px,#a9f669 143px,#a2f570 153px,#97f47b 163px,#8df385 173px,#8cf386 183px,#92f480 193px,#9af578 203px,#a6f66c 213px,#bcf858 223px,#cef84f 233px,#e0f748 243px,#f6f53b 253px,#fff339 263px,#fff13d 273px,#fff040 283px,#feed3d 293px,#ffef3f 303px,#fff13e 313px,#fff23b 323px,#fff339 333px,#fff338 336px)"></i><i style="width:1px;background:linear-gradient(#faf539 3px,#fdf537 13px,#fff437 23px,#fff23b 33px,#fff23c 43px,#fff13d 53px,#fff040 63px,#fff040 73px,#fff339 83px,#f4f53d 93px,#dbf84b 103px,#b4f75f 113px,#9ef574 123px,#91f481 133px,#93f47f 143px,#94f47e 153px,#93f47f 163px,#84f28e 173px,#7ff194 183px,#80f193 193px,#87f38b 203px,#92f480 213px,#a9f669 223px,#bff855 233px,#dbf84a 243px,#eff540 253px,#fff437 263px,#fff03f 273px,#fff13e 283px,#fff13d 293px,#fff23b 303px,#fff339 313px,#fff437 323px,#fef536 333px,#fcf537 336px)"></i><i style="width:1px;background:linear-gradient(#fef536 3px,#fff438 13px,#fff33a 23px,#fff23c 33px,#fff23d 43px,#fff13e 53px,#ffef3f 63px,#ffee3e 73px,#fff23c 83px,#f8f53a 93px,#e1f748 103px,#c6f853 113px,#b4f75f 123px,#a6f66c 133px,#a0f572 143px,#a2f570 153px,#a8f66a 163px,#90f482 173px,#8bf387 183px,#93f47f 193px,#99f479 203px,#a2f570 213px,#b9f85b 223px,#c9f851 233px,#dbf84a 243px,#f8f53a 253px,#fff13d 263px,#feea3a 273px,#ffed3d 283px,#fff040 293px,#fff040 303px,#fff13d 313px,#fff33a 323px,#fff536 333px,#fef536 336px)"></i><i style="width:1px;background:linear-gradient(#fff438 3px,#fff13e 13px,#fff040 23px,#fff13d 33px,#fff040 43px,#ffed3d 53px,#feec3c 63px,#feeb3b 73px,#ffef3f 83px,#fff339 93px,#f4f53d 103px,#e0f748 113px,#d5f84d 123px,#caf851 133px,#bbf859 143px,#baf859 153px,#c1f855 163px,#acf666 173px,#aaf668 183px,#baf85a 193px,#bcf858 203px,#bff855 213px,#d3f84e 223px,#dbf84b 233px,#dff748 243px,#fff536 253px,#ffee3e 263px,#fee539 273px,#feea3a 283px,#feec3c 293px,#feeb3b 303px,#ffee3e 313px,#fff13f 323px,#fff23b 333px,#fff33a 336px)"></i><i style="width:1px;background:linear-gradient(#fff536 3px,#fff23b 13px,#fff13e 23px,#fff13e 33px,#feed3d 43px,#fee93a 53px,#feea3a 63px,#feeb3b 73px,#fff03f 83px,#fff339 93px,#f4f53d 103px,#daf84b 113px,#cff84f 123px,#c9f852 133px,#c0f855 143px,#bef856 153px,#c0f855 163px,#adf665 173px,#adf665 183px,#c0f855 193px,#bbf859 203px,#b8f75c 213px,#c7f852 223px,#d6f84c 233px,#e5f746 243px,#fef536 253px,#fff03f 263px,#fee83a 273px,#feed3d 283px,#fff040 293px,#ffee3e 303px,#fff040 313px,#fff13e 323px,#fff23d 333px,#fff23c 336px)"></i><i style="width:1px;background:linear-gradient(#fff535 3px,#fff438 13px,#fff23b 23px,#fff040 33px,#feec3c 43px,#feea3a 53px,#feea3a 63px,#feec3c 73px,#fff23c 83px,#fff536 93px,#eef541 103px,#cef850 113px,#b8f75b 123px,#aef765 133px,#b8f75c 143px,#baf859 153px,#b9f85b 163px,#acf666 173px,#acf667 183px,#b7f75d 193px,#b7f75c 203px,#b7f75c 213px,#bbf859 223px,#d3f84e 233px,#eff540 243px,#fff536 253px,#fff040 263px,#fde339 273px,#ffee3e 283px,#fff23c 293px,#fff040 303px,#fff03f 313px,#fff23c 323px,#fff13d 333px,#fff13d 336px)"></i><i style="width:1px;background:linear-gradient(#fff536 3px,#fff339 13px,#fff23c 23px,#fff03f 33px,#ffed3d 43px,#feeb3b 53px,#feec3c 63px,#ffef3f 73px,#fff338 83px,#fff535 93px,#ecf642 103px,#c3f854 113px,#aff763 123px,#a6f66c 133px,#aff764 143px,#b7f75d 153px,#bdf857 163px,#b5f75e 173px,#b0f763 183px,#aaf668 193px,#b7f75c 203px,#c4f853 213px,#c8f852 223px,#def849 233px,#f4f53d 243px,#fff339 253px,#ffef3f 263px,#fee83a 273px,#feed3d 283px,#fff040 293px,#ffee3e 303px,#fff040 313px,#fff23c 323px,#fff13d 333px,#fff13d 336px)"></i><i style="width:1px;background:linear-gradient(#f6f53b 3px,#fff437 13px,#fff23b 23px,#fff13d 33px,#ffef3f 43px,#feec3c 53px,#ffef3f 63px,#fff13f 73px,#fff437 83px,#fbf538 93px,#e9f643 103px,#c4f853 113px,#b5f75e 123px,#acf667 133px,#a3f66f 143px,#adf665 153px,#bdf857 163px,#adf665 173px,#a2f570 183px,#9af578 193px,#abf667 203px,#bdf857 213px,#c8f852 223px,#ddf84a 233px,#f0f540 243px,#fff436 253px,#fff13e 263px,#ffee3e 273px,#feec3c 283px,#feeb3b 293px,#ffee3e 303px,#fff03f 313px,#fff23c 323px,#fff23b 333px,#fff23b 336px)"></i><i style="width:1px;background:linear-gradient(#ebf643 3px,#faf539 13px,#fff438 23px,#fff23c 33px,#ffef3f 43px,#ffed3d 53px,#fff13e 63px,#fff13e 73px,#fff33a 83px,#fbf538 93px,#e7f644 103px,#caf851 113px,#baf859 123px,#adf666 133px,#9af578 143px,#a0f572 153px,#b1f761 163px,#9ff573 173px,#95f47d 183px,#93f47f 193px,#97f47b 203px,#a1f571 213px,#b6f75d 223px,#d1f84e 233px,#ebf643 243px,#f9f539 253px,#fff33a 263px,#ffee3e 273px,#feec3c 283px,#feec3c 293px,#ffee3e 303px,#fff040 313px,#fff13e 323px,#fff339 333px,#fff437 336px)"></i><i style="width:1px;background:linear-gradient(#f1f53f 3px,#fcf537 13px,#fff437 23px,#fff33a 33px,#fff13d 43px,#fff03f 53px,#fff13e 63px,#fff13e 73px,#fff438 83px,#f6f53c 93px,#e0f748 103px,#bdf857 113px,#b5f75f 123px,#adf665 133px,#99f479 143px,#9af578 153px,#a5f66d 163px,#9af578 173px,#99f479 183px,#9ff573 193px,#95f47d 203px,#93f47f 213px,#aff764 223px,#c8f852 233px,#e1f747 243px,#f1f540 253px,#fff438 263px,#ffed3d 273px,#feed3d 283px,#feed3d 293px,#ffef3f 303px,#fff040 313px,#fff040 323px,#fff436 333px,#fcf537 336px)"></i><i style="width:1px;background:linear-gradient(#f8f53a 3px,#fff437 13px,#fff339 23px,#fff438 33px,#fff339 43px,#fff23b 53px,#fff03f 63px,#fff13f 73px,#fff536 83px,#eef541 93px,#d2f84e 103px,#adf665 113px,#adf666 123px,#adf665 133px,#9ef574 143px,#9ff573 153px,#a9f669 163px,#95f47d 173px,#94f47e 183px,#a4f66e 193px,#a0f572 203px,#a0f572 213px,#b4f760 223px,#c0f855 233px,#cdf850 243px,#e8f644 253px,#fff536 263px,#ffef3f 273px,#fff03f 283px,#fff13e 293px,#fff040 303px,#fff040 313px,#fff13e 323px,#fff535 333px,#faf539 336px)"></i><i style="width:1px;background:linear-gradient(#f5f53c 3px,#fff536 13px,#fff339 23px,#fff33a 33px,#fff339 43px,#fff339 53px,#fff03f 63px,#fff13f 73px,#fff536 83px,#edf542 93px,#d0f84f 103px,#adf665 113px,#aef765 123px,#aff764 133px,#a0f572 143px,#a4f66e 153px,#b0f763 163px,#94f47e 173px,#8df385 183px,#97f47b 193px,#9ff573 203px,#a8f66a 213px,#b7f75d 223px,#bdf857 233px,#c3f854 243px,#e7f645 253px,#fff536 263px,#fff03f 273px,#fff23c 283px,#fff33a 293px,#fff13f 303px,#fff13e 313px,#fff23b 323px,#fff535 333px,#fcf537 336px)"></i><i style="width:1px;background:linear-gradient(#f5f53c 3px,#faf538 13px,#fff536 23px,#fff23b 33px,#fff438 43px,#fff436 53px,#fff040 63px,#fff03f 73px,#fcf537 83px,#ecf642 93px,#d4f84d 103px,#b4f75f 113px,#b7f75d 123px,#b7f75c 133px,#9ef574 143px,#9df575 153px,#a8f66a 163px,#96f47c 173px,#91f481 183px,#94f47e 193px,#9ef574 203px,#aaf668 213px,#b8f75c 223px,#c0f855 233px,#cbf851 243px,#edf542 253px,#fff438 263px,#fff03f 273px,#fff13d 283px,#fff23c 293px,#fff13d 303px,#fff23c 313px,#fff339 323px,#fff438 333px,#fff438 336px)"></i><i style="width:1px;background:linear-gradient(#f4f53d 3px,#f1f53f 13px,#f5f53c 23px,#fff437 33px,#fff436 43px,#fff436 53px,#fff13e 63px,#fff23b 73px,#f0f540 83px,#dff848 93px,#c4f853 103px,#abf668 113px,#aef765 123px,#acf666 133px,#8ef384 143px,#8af388 153px,#91f481 163px,#8ef384 173px,#8ef384 183px,#90f482 193px,#98f47a 203px,#a3f56f 213px,#aff764 223px,#b7f75c 233px,#c4f854 243px,#eaf643 253px,#fff437 263px,#fff13d 273px,#fff23b 283px,#fff33a 293px,#fff33a 303px,#fff438 313px,#fff535 323px,#fff438 333px,#fff338 336px)"></i><i style="width:1px;background:linear-gradient(#f4f53d 3px,#f1f540 13px,#f4f53d 23px,#fff437 33px,#fff23b 43px,#fff13d 53px,#fff23c 63px,#fff339 73px,#f1f53f 83px,#d8f84b 93px,#bdf857 103px,#aff764 113px,#a3f66f 123px,#96f47c 133px,#88f38a 143px,#8bf387 153px,#95f47d 163px,#8bf387 173px,#89f389 183px,#8ff383 193px,#97f47b 203px,#a4f66e 213px,#b2f761 223px,#b4f75f 233px,#b5f75e 243px,#e3f746 253px,#fcf537 263px,#fff339 273px,#fff339 283px,#fff339 293px,#fff33a 303px,#fff437 313px,#fef536 323px,#fff536 333px,#fff536 336px)"></i><i style="width:1px;background:linear-gradient(#fef536 3px,#fff436 13px,#fff33a 23px,#fff03f 33px,#ffed3d 43px,#feec3c 53px,#ffef3f 63px,#fff13f 73px,#fff437 83px,#eaf643 93px,#d7f84c 103px,#d6f84c 113px,#baf859 123px,#a2f570 133px,#a1f571 143px,#aaf668 153px,#b6f75e 163px,#a1f571 173px,#9bf577 183px,#a2f570 193px,#abf668 203px,#b5f75f 213px,#c6f853 223px,#c9f852 233px,#caf851 243px,#ecf642 253px,#fff436 263px,#fff23c 273px,#fff040 283px,#ffed3d 293px,#fff13f 303px,#fff23c 313px,#fff23b 323px,#fff23b 333px,#fff23b 336px)"></i><i style="width:1px;background:linear-gradient(#fff437 3px,#fff23b 13px,#fff040 23px,#feea3a 33px,#fee93a 43px,#feea3a 53px,#fee93a 63px,#feea3a 73px,#fff13f 83px,#fcf537 93px,#ecf642 103px,#e9f644 113px,#d8f84c 123px,#c0f855 133px,#b2f761 143px,#b1f761 153px,#b8f75c 163px,#b4f75f 173px,#b4f75f 183px,#b4f75f 193px,#bdf857 203px,#c9f852 213px,#d7f84c 223px,#e0f748 233px,#eaf643 243px,#fbf538 253px,#fff23d 263px,#feea3a 273px,#fee639 283px,#fee639 293px,#ffed3d 303px,#fff040 313px,#fff040 323px,#ffef3f 333px,#ffef3f 336px)"></i><i style="width:1px;background:linear-gradient(#fbf538 3px,#fff438 13px,#fff13d 23px,#ffed3d 33px,#ffed3d 43px,#ffed3d 53px,#feeb3b 63px,#feeb3b 73px,#fff13e 83px,#faf539 93px,#e7f644 103px,#dff748 113px,#d6f84c 123px,#c6f853 133px,#a9f669 143px,#a1f571 153px,#a6f66c 163px,#abf667 173px,#adf666 183px,#a7f66b 193px,#b6f75d 203px,#c7f852 213px,#d3f84e 223px,#e1f747 233px,#eff540 243px,#faf539 253px,#fff23b 263px,#feea3a 273px,#feea3a 283px,#feec3c 293px,#fff040 303px,#fff23d 313px,#fff23b 323px,#fff23c 333px,#fff23c 336px)"></i><i style="width:1px;background:linear-gradient(#f0f540 3px,#fef536 13px,#fff339 23px,#fff23b 33px,#fff13e 43px,#fff040 53px,#ffee3e 63px,#ffef3f 73px,#fff33a 83px,#edf542 93px,#d8f84c 103px,#d6f84c 113px,#c7f852 123px,#b7f75c 133px,#aaf669 143px,#a2f570 153px,#9ef574 163px,#a0f572 173px,#9df575 183px,#90f482 193px,#95f47d 203px,#a1f571 213px,#b5f75e 223px,#cdf850 233px,#e5f746 243px,#eff541 253px,#fff536 263px,#ffef3f 273px,#ffee3e 283px,#ffee3e 293px,#fff23c 303px,#fff437 313px,#faf538 323px,#fbf538 333px,#fcf537 336px)"></i><i style="width:1px;background:linear-gradient(#e7f644 3px,#f7f53b 13px,#fef536 23px,#fcf537 33px,#fff33a 43px,#fff040 53px,#ffef3f 63px,#fff040 73px,#fff438 83px,#ebf643 93px,#d6f84c 103px,#d0f84f 113px,#c0f855 123px,#b3f760 133px,#adf665 143px,#a0f572 153px,#91f481 163px,#98f47a 173px,#94f47e 183px,#84f28e 193px,#85f28d 203px,#8df385 213px,#a6f66c 223px,#c1f855 233px,#def849 243px,#eef541 253px,#fff436 263px,#fff13f 273px,#fff040 283px,#fff040 293px,#fff23c 303px,#fff438 313px,#fbf538 323px,#f9f53a 333px,#f8f53a 336px)"></i><i style="width:1px;background:linear-gradient(#e1f747 3px,#e9f644 13px,#eff540 23px,#f5f53c 33px,#fff436 43px,#fff23c 53px,#fff03f 63px,#fff13e 73px,#fff535 83px,#e7f645 93px,#cef850 103px,#c2f855 113px,#baf85a 123px,#b1f762 133px,#9ff573 143px,#8df385 153px,#7ff193 163px,#88f38a 173px,#89f389 183px,#7ef195 193px,#87f38b 203px,#96f47c 213px,#a8f66a 223px,#bdf857 233px,#d9f84b 243px,#eef541 253px,#fff437 263px,#fff13e 273px,#fff13d 283px,#fff23c 293px,#fff23d 303px,#fff23b 313px,#fff338 323px,#f9f539 333px,#f5f53c 336px)"></i><i style="width:1px;background:linear-gradient(#e4f746 3px,#e1f748 13px,#e7f644 23px,#faf539 33px,#fff536 43px,#fff339 53px,#fff03f 63px,#fff13e 73px,#fcf537 83px,#e4f746 93px,#cff84f 103px,#c8f852 113px,#c0f855 123px,#b4f75f 133px,#98f47a 143px,#88f38a 153px,#7ff193 163px,#8df385 173px,#92f480 183px,#8af388 193px,#94f47e 203px,#a4f66e 213px,#b0f762 223px,#c6f853 233px,#e2f747 243px,#f4f53d 253px,#fff438 263px,#fff040 273px,#fff13e 283px,#fff13d 293px,#fff13d 303px,#fff23c 313px,#fff23c 323px,#fcf537 333px,#f7f53b 336px)"></i><i style="width:1px;background:linear-gradient(#e6f645 3px,#dff849 13px,#e3f746 23px,#f7f53b 33px,#fef535 43px,#fff438 53px,#fff13d 63px,#fff23b 73px,#f4f53d 83px,#e1f748 93px,#cff84f 103px,#ccf851 113px,#baf85a 123px,#a5f66d 133px,#8cf386 143px,#83f28f 153px,#81f291 163px,#8ef384 173px,#93f47f 183px,#88f38a 193px,#8df385 203px,#99f579 213px,#b4f75f 223px,#c9f851 233px,#dff849 243px,#f1f53f 253px,#fff437 263px,#fff13d 273px,#fff23c 283px,#fff23b 293px,#fff438 303px,#fff536 313px,#fcf537 323px,#f7f53b 333px,#f6f53c 336px)"></i><i style="width:1px;background:linear-gradient(#e8f644 3px,#def849 13px,#e1f747 23px,#f3f53e 33px,#fcf537 43px,#fff536 53px,#fff338 63px,#fff437 73px,#f1f53f 83px,#dcf84a 93px,#c6f853 103px,#c0f855 113px,#a2f570 123px,#87f38b 133px,#80f193 143px,#7ff194 153px,#80f192 163px,#7df195 173px,#7df195 183px,#7ef194 193px,#80f292 203px,#8af388 213px,#b1f762 223px,#b8f75b 233px,#b3f760 243px,#e0f748 253px,#f8f53a 263px,#fff436 273px,#fef536 283px,#fcf537 293px,#fef536 303px,#f5f53c 313px,#e7f645 323px,#ebf642 333px,#ecf642 336px)"></i><i style="width:1px;background:linear-gradient(#e7f644 3px,#e8f644 13px,#edf542 23px,#f6f53b 33px,#fff535 43px,#fff339 53px,#fff23c 63px,#fff23c 73px,#fdf536 83px,#e7f645 93px,#cff84f 103px,#bdf857 113px,#a2f570 123px,#8ef384 133px,#90f482 143px,#8ff383 153px,#8cf386 163px,#7ef195 173px,#7ff194 183px,#90f482 193px,#8bf387 203px,#8cf386 213px,#aef765 223px,#aef764 233px,#a2f570 243px,#dcf84a 253px,#f9f539 263px,#fff438 273px,#fff535 283px,#fef536 293px,#fff339 303px,#fff535 313px,#eff540 323px,#f0f540 333px,#f0f540 336px)"></i><i style="width:1px;background:linear-gradient(#dff848 3px,#eef541 13px,#f3f53e 23px,#eff540 33px,#fcf537 43px,#fff339 53px,#fff23d 63px,#fff13d 73px,#fff437 83px,#eaf643 93px,#cef850 103px,#b8f75c 113px,#a7f66b 123px,#9af578 133px,#9df575 143px,#91f481 153px,#82f290 163px,#82f290 173px,#8bf387 183px,#9ff573 193px,#90f482 203px,#88f38a 213px,#9ef574 223px,#a4f66e 233px,#a6f66c 243px,#ddf849 253px,#fdf537 263px,#fff23c 273px,#fff338 283px,#fff436 293px,#fff33a 303px,#fff535 313px,#edf541 323px,#f1f540 333px,#f1f53f 336px)"></i><i style="width:1px;background:linear-gradient(#dff848 3px,#edf642 13px,#eff540 23px,#e6f645 33px,#f5f53c 43px,#fff436 53px,#fff437 63px,#fff437 73px,#f7f53b 83px,#dff848 93px,#c2f854 103px,#b1f762 113px,#9df575 123px,#8ff383 133px,#90f482 143px,#83f28f 153px,#74eea0 163px,#7df196 173px,#88f38a 183px,#91f481 193px,#89f389 203px,#85f28d 213px,#96f47c 223px,#a0f572 233px,#a8f66a 243px,#ddf849 253px,#fbf538 263px,#fff33a 273px,#fff438 283px,#fff436 293px,#fff437 303px,#faf539 313px,#edf541 323px,#eaf643 333px,#e9f644 336px)"></i><i style="width:1px;background:linear-gradient(#def849 3px,#e2f747 13px,#e2f747 23px,#e1f748 33px,#eef541 43px,#f9f539 53px,#fff535 63px,#fef536 73px,#eaf643 83px,#d5f84d 93px,#bbf859 103px,#a8f66a 113px,#8cf386 123px,#7cf097 133px,#80f292 143px,#7af099 153px,#70eaa2 163px,#78ef9b 173px,#7ff194 183px,#7ff193 193px,#80f192 203px,#84f28e 213px,#90f482 223px,#9ff573 233px,#b3f760 243px,#d8f84c 253px,#f0f540 263px,#fdf537 273px,#fef536 283px,#fff535 293px,#f9f539 303px,#faf539 313px,#fef536 323px,#eaf643 333px,#e3f746 336px)"></i><i style="width:1px;background:linear-gradient(#cff84f 3px,#dcf84a 13px,#e1f748 23px,#e2f747 33px,#edf542 43px,#f7f53b 53px,#fff436 63px,#fff535 73px,#eaf643 83px,#d9f84b 93px,#bdf857 103px,#a3f66f 113px,#83f28f 123px,#74eea0 133px,#7cf097 143px,#7af099 153px,#74eea0 163px,#7af099 173px,#7df195 183px,#79f09a 193px,#7cf097 203px,#81f291 213px,#8df385 223px,#a1f571 233px,#bcf858 243px,#cff84f 253px,#e4f746 263px,#f3f53e 273px,#f3f53e 283px,#f4f53d 293px,#f7f53b 303px,#fbf538 313px,#fff535 323px,#eaf643 333px,#e2f747 336px)"></i><i style="width:1px;background:linear-gradient(#d6f84c 3px,#eef541 13px,#f8f53a 23px,#f6f53b 33px,#faf539 43px,#fff535 53px,#fff339 63px,#fff339 73px,#f9f539 83px,#e7f644 93px,#d1f84e 103px,#bcf858 113px,#97f47b 123px,#82f290 133px,#8ff383 143px,#8ef384 153px,#87f38b 163px,#8bf387 173px,#8ef384 183px,#8bf387 193px,#8cf386 203px,#91f481 213px,#a3f56f 223px,#b4f75f 233px,#c8f852 243px,#ddf84a 253px,#eff540 263px,#fef536 273px,#faf538 283px,#faf539 293px,#fff437 303px,#fff536 313px,#faf539 323px,#f1f53f 333px,#eff541 336px)"></i><i style="width:1px;background:linear-gradient(#edf542 3px,#fef536 13px,#fff33a 23px,#fff13d 33px,#fff13d 43px,#fff13d 53px,#fff13f 63px,#fff03f 73px,#fff33a 83px,#f5f53c 93px,#e4f746 103px,#dbf84b 113px,#b9f85a 123px,#a2f570 133px,#aef765 143px,#adf665 153px,#a7f66b 163px,#abf667 173px,#b1f762 183px,#b3f760 193px,#aef765 203px,#adf665 213px,#bff855 223px,#cff84f 233px,#dff848 243px,#f3f53e 253px,#fff437 263px,#fff23b 273px,#fff23b 283px,#fff23c 293px,#fff23b 303px,#fff339 313px,#fff437 323px,#fff437 333px,#fff437 336px)"></i><i style="width:1px;background:linear-gradient(#f5f53c 3px,#fef536 13px,#fff339 23px,#fff13f 33px,#ffee3e 43px,#feed3d 53px,#ffee3e 63px,#fff040 73px,#fff438 83px,#faf538 93px,#ebf642 103px,#d5f84d 113px,#c1f855 123px,#b2f760 133px,#aef765 143px,#b2f761 153px,#b9f85a 163px,#b5f75e 173px,#b6f75d 183px,#baf85a 193px,#b4f75f 203px,#b3f760 213px,#c1f855 223px,#d5f84d 233px,#e8f644 243px,#fef536 253px,#fff23b 263px,#fff23c 273px,#fff13e 283px,#fff040 293px,#fff13d 303px,#fff23b 313px,#fff33a 323px,#fff33a 333px,#fff339 336px)"></i><i style="width:1px;background:linear-gradient(#f5f53c 3px,#f6f53b 13px,#fbf538 23px,#fff438 33px,#fff23c 43px,#fff13f 53px,#fff13e 63px,#fff23c 73px,#fcf537 83px,#f7f53b 93px,#e8f644 103px,#c4f854 113px,#bbf859 123px,#b4f75f 133px,#a1f571 143px,#a8f66a 153px,#b9f85a 163px,#a9f669 173px,#a1f571 183px,#9ef574 193px,#a5f66d 203px,#aef764 213px,#baf85a 223px,#cbf851 233px,#e1f747 243px,#fcf537 253px,#fff23c 263px,#fff13e 273px,#fff13f 283px,#fff040 293px,#fff040 303px,#fff13d 313px,#fff33a 323px,#fff535 333px,#fdf537 336px)"></i><i style="width:1px;background:linear-gradient(#f1f53f 3px,#f2f53e 13px,#f8f53a 23px,#fff437 33px,#fff339 43px,#fff23b 53px,#fff13e 63px,#fff13d 73px,#fef536 83px,#f5f53d 93px,#e4f746 103px,#c3f854 113px,#b4f75f 123px,#a7f66b 133px,#95f47d 143px,#9ef574 153px,#b3f760 163px,#98f47a 173px,#8cf386 183px,#8bf387 193px,#9df575 203px,#b1f762 213px,#bdf857 223px,#caf851 233px,#dcf84a 243px,#f7f53b 253px,#fff33a 263px,#fff13d 273px,#fff13d 283px,#fff13e 293px,#ffef3f 303px,#fff13e 313px,#fff33a 323px,#fbf538 333px,#f6f53c 336px)"></i><i style="width:1px;background:linear-gradient(#d9f84b 3px,#e7f644 13px,#f5f53d 23px,#fff437 33px,#fff437 43px,#fff437 53px,#fff23c 63px,#fff23b 73px,#f6f53c 83px,#eaf643 93px,#d9f84b 103px,#bef856 113px,#9df575 123px,#85f28d 133px,#81f291 143px,#88f38a 153px,#94f47e 163px,#83f28f 173px,#7bf098 183px,#79ef9a 193px,#85f28d 203px,#96f47c 213px,#acf666 223px,#bcf858 233px,#cdf850 243px,#e7f645 253px,#f8f53a 263px,#fff536 273px,#fff436 283px,#fff437 293px,#fff33a 303px,#fff437 313px,#f9f539 323px,#edf541 333px,#e9f643 336px)"></i><i style="width:1px;background:linear-gradient(#d2f84e 3px,#e4f746 13px,#f1f53f 23px,#faf539 33px,#faf539 43px,#f9f539 53px,#fdf537 63px,#faf538 73px,#e7f644 83px,#d6f84d 93px,#c3f854 103px,#baf859 113px,#93f47f 123px,#7bf098 133px,#7ff193 143px,#7ff194 153px,#7cf097 163px,#7df196 173px,#7df096 183px,#79ef9a 193px,#7bf098 203px,#83f28f 213px,#9ff573 223px,#b1f762 233px,#bff856 243px,#daf84b 253px,#f0f540 263px,#fff536 273px,#fbf538 283px,#f6f53c 293px,#f8f53a 303px,#f0f540 313px,#e3f746 323px,#e1f748 333px,#e0f748 336px)"></i><i style="width:1px;background:linear-gradient(#eaf643 3px,#f6f53c 13px,#faf539 23px,#f7f53b 33px,#fff536 43px,#fff339 53px,#fcf537 63px,#f6f53b 73px,#e6f645 83px,#d3f84e 93px,#c5f853 103px,#c4f853 113px,#abf667 123px,#93f47f 133px,#92f480 143px,#88f38a 153px,#7cf097 163px,#89f389 173px,#92f480 183px,#93f47f 193px,#92f480 203px,#96f47c 213px,#acf666 223px,#bdf857 233px,#d1f84e 243px,#e9f644 253px,#fff535 263px,#fff13e 273px,#fff339 283px,#fff535 293px,#fef536 303px,#f8f53a 313px,#f0f540 323px,#eef541 333px,#eef541 336px)"></i><i style="width:1px;background:linear-gradient(#e8f644 3px,#f9f539 13px,#fcf537 23px,#f0f540 33px,#fff437 43px,#fff13e 53px,#fff437 63px,#fcf537 73px,#edf541 83px,#d8f84b 93px,#c5f853 103px,#c1f855 113px,#b3f760 123px,#a5f66d 133px,#97f47b 143px,#8cf386 153px,#82f290 163px,#8af388 173px,#96f47c 183px,#a9f669 193px,#aaf668 203px,#a7f66b 213px,#a3f56f 223px,#b9f85b 233px,#dff848 243px,#f0f540 253px,#fff437 263px,#fff040 273px,#fff23c 283px,#fff339 293px,#fff339 303px,#fff437 313px,#fdf536 323px,#f4f53d 333px,#f1f53f 336px)"></i><i style="width:1px;background:linear-gradient(#dcf84a 3px,#f2f53e 13px,#f9f53a 23px,#f0f540 33px,#fff536 43px,#fff23c 53px,#fff339 63px,#fff338 73px,#faf538 83px,#dcf84a 93px,#bef856 103px,#bbf859 113px,#abf668 123px,#9bf577 133px,#98f47a 143px,#91f481 153px,#8bf387 163px,#89f389 173px,#92f480 183px,#abf667 193px,#a3f56f 203px,#96f47c 213px,#93f47f 223px,#b0f763 233px,#def849 243px,#ebf642 253px,#fdf537 263px,#fff23c 273px,#fff33a 283px,#fff438 293px,#fff338 303px,#fff535 313px,#f4f53d 323px,#eaf643 333px,#e7f644 336px)"></i><i style="width:1px;background:linear-gradient(#d2f84e 3px,#f0f540 13px,#fcf537 23px,#fbf538 33px,#fff437 43px,#fff33a 53px,#fff23c 63px,#fff13f 73px,#fff33a 83px,#e5f745 93px,#c6f853 103px,#c6f853 113px,#acf667 123px,#95f47d 133px,#9ff573 143px,#9ff573 153px,#9af578 163px,#94f47e 173px,#97f47b 183px,#a3f66f 193px,#96f47c 203px,#90f482 213px,#a0f572 223px,#baf859 233px,#ddf84a 243px,#eff540 253px,#fff535 263px,#fff339 273px,#fff339 283px,#fff339 293px,#fff436 303px,#f8f53a 313px,#eef541 323px,#eaf643 333px,#e9f643 336px)"></i><i style="width:1px;background:linear-gradient(#c6f853 3px,#e5f745 13px,#f6f53c 23px,#fff535 33px,#fff339 43px,#fff23b 53px,#fff33a 63px,#fff23c 73px,#fff339 83px,#eaf643 93px,#cff84f 103px,#c4f853 113px,#a3f56f 123px,#8cf386 133px,#9cf576 143px,#9ff573 153px,#99f479 163px,#8df385 173px,#8af388 183px,#8df385 193px,#8af388 203px,#8bf387 213px,#9ff573 223px,#b6f75d 233px,#d2f84e 243px,#e7f645 253px,#f9f539 263px,#fff339 273px,#fff33a 283px,#fff339 293px,#fff535 303px,#f8f53a 313px,#f4f53d 323px,#eaf643 333px,#e7f645 336px)"></i><i style="width:1px;background:linear-gradient(#c9f852 3px,#d7f84c 13px,#e7f645 23px,#faf539 33px,#fff437 43px,#fff339 53px,#fff535 63px,#fef536 73px,#f4f53d 83px,#e0f748 93px,#c5f853 103px,#b0f763 113px,#8ef384 123px,#7df196 133px,#88f38a 143px,#89f389 153px,#82f290 163px,#75ee9f 173px,#73eda1 183px,#7af099 193px,#7ef194 203px,#82f290 213px,#8af388 223px,#9cf576 233px,#b7f75c 243px,#cdf850 253px,#e8f644 263px,#fff535 273px,#fff437 283px,#fff437 293px,#f8f53a 303px,#eff540 313px,#e8f644 323px,#d9f84b 333px,#d3f84d 336px)"></i><i style="width:1px;background:linear-gradient(#d1f84e 3px,#d2f84e 13px,#def849 23px,#f1f53f 33px,#fcf537 43px,#fff436 53px,#fff436 63px,#fdf536 73px,#e9f643 83px,#d3f84e 93px,#b9f85a 103px,#a6f66c 113px,#8af388 123px,#7bf098 133px,#80f192 143px,#7df096 153px,#75ee9f 163px,#70eaa2 173px,#72eca1 183px,#7ef194 193px,#84f28e 203px,#88f38a 213px,#8ef384 223px,#93f47f 233px,#9ef574 243px,#c7f852 253px,#e5f746 263px,#eff541 273px,#f5f53c 283px,#f9f539 293px,#ecf642 303px,#e2f747 313px,#dbf84b 323px,#d1f84f 333px,#cef850 336px)"></i><i style="width:1px;background:linear-gradient(#c9f851 3px,#d3f84e 13px,#e0f748 23px,#eef541 33px,#fff535 43px,#fff23b 53px,#fff23b 63px,#fff437 73px,#e8f644 83px,#d2f84e 93px,#bbf858 103px,#aff764 113px,#96f47c 123px,#87f38b 133px,#8bf387 143px,#83f28f 153px,#78ef9c 163px,#7af099 173px,#80f292 183px,#8bf387 193px,#90f482 203px,#96f47c 213px,#a6f66c 223px,#a6f66c 233px,#a3f56f 243px,#dbf84a 253px,#f1f53f 263px,#edf541 273px,#f4f53d 283px,#faf539 293px,#edf541 303px,#e9f643 313px,#ecf642 323px,#e2f747 333px,#dff848 336px)"></i><i style="width:1px;background:linear-gradient(#c3f854 3px,#d8f84c 13px,#e3f746 23px,#eaf643 33px,#fef536 43px,#fff23b 53px,#fff33a 63px,#fff437 73px,#eef541 83px,#d5f84d 93px,#bef856 103px,#b4f75f 113px,#9af578 123px,#89f389 133px,#8ef384 143px,#8cf386 153px,#87f38b 163px,#83f28f 173px,#81f291 183px,#81f291 193px,#8df385 203px,#9ff573 213px,#b1f762 223px,#b7f75c 233px,#bcf858 243px,#e5f745 253px,#f8f53a 263px,#f9f539 273px,#fff536 283px,#fff339 293px,#fbf538 303px,#f6f53c 313px,#f6f53b 323px,#ebf642 333px,#e8f644 336px)"></i><i style="width:1px;background:linear-gradient(#d8f84c 3px,#e5f746 13px,#ebf643 23px,#ecf642 33px,#fbf538 43px,#fff339 53px,#fff23b 63px,#fff23b 73px,#fff535 83px,#e0f748 93px,#c0f855 103px,#b4f75f 113px,#98f47a 123px,#86f28c 133px,#89f389 143px,#90f482 153px,#99f479 163px,#8ff383 173px,#88f38a 183px,#81f291 193px,#8ef384 203px,#a4f66e 213px,#bcf858 223px,#c9f852 233px,#d4f84d 243px,#ecf642 253px,#fdf537 263px,#fff438 273px,#fff339 283px,#fff339 293px,#fff436 303px,#fef536 313px,#fdf536 323px,#f1f53f 333px,#edf541 336px)"></i><i style="width:1px;background:linear-gradient(#f0f540 3px,#f7f53b 13px,#fbf538 23px,#fbf538 33px,#fff23b 43px,#ffef3f 53px,#ffed3d 63px,#ffee3e 73px,#fff23b 83px,#ecf642 93px,#cdf850 103px,#bdf857 113px,#a8f66a 123px,#96f47c 133px,#97f47b 143px,#a2f570 153px,#aff764 163px,#a4f66e 173px,#9ef574 183px,#9af578 193px,#a4f66e 203px,#b2f761 213px,#c4f854 223px,#d7f84c 233px,#e7f645 243px,#f9f539 253px,#fff33a 263px,#fff13f 273px,#fff13d 283px,#fff23b 293px,#fff338 303px,#fff438 313px,#fff339 323px,#fcf537 333px,#f8f53a 336px)"></i><i style="width:1px;background:linear-gradient(#f7f53b 3px,#f6f53c 13px,#f8f53a 23px,#fff535 33px,#fff13d 43px,#feed3d 53px,#ffef3f 63px,#fff03f 73px,#fff338 83px,#f2f53f 93px,#dcf84a 103px,#bef856 113px,#aef764 123px,#a4f66e 133px,#a7f66b 143px,#acf666 153px,#b2f761 163px,#a3f66f 173px,#9ff573 183px,#a5f66d 193px,#adf665 203px,#b4f75f 213px,#b8f75c 223px,#cef850 233px,#ebf643 243px,#fef536 253px,#fff13d 263px,#ffee3e 273px,#fff040 283px,#fff13d 293px,#fff23c 303px,#fff339 313px,#fff437 323px,#fcf537 333px,#faf539 336px)"></i><i style="width:1px;background:linear-gradient(#eaf643 3px,#e5f746 13px,#e9f644 23px,#f9f53a 33px,#fff23b 43px,#fff03f 53px,#fff438 63px,#fff438 73px,#fff535 83px,#f3f53e 93px,#dff849 103px,#b4f75f 113px,#a4f66e 123px,#9af578 133px,#98f47a 143px,#97f47b 153px,#96f47c 163px,#8cf386 173px,#8df385 183px,#97f47b 193px,#9df575 203px,#a5f66d 213px,#b4f75f 223px,#c4f854 233px,#d8f84c 243px,#eff541 253px,#fff437 263px,#fff13e 273px,#fff23c 283px,#fff23c 293px,#fff23c 303px,#fff437 313px,#f4f53d 323px,#eff540 333px,#eef541 336px)"></i><i style="width:1px;background:linear-gradient(#e5f745 3px,#ebf642 13px,#f4f53d 23px,#fff535 33px,#fff23c 43px,#fff040 53px,#fff339 63px,#fff339 73px,#fff438 83px,#f4f53d 93px,#ddf849 103px,#b9f85a 113px,#adf665 123px,#a2f570 133px,#91f481 143px,#8df385 153px,#8ef384 163px,#86f28c 173px,#87f38b 183px,#93f47f 193px,#94f47e 203px,#9af578 213px,#b6f75d 223px,#c1f855 233px,#c6f853 243px,#e2f747 253px,#faf539 263px,#fff23c 273px,#fff13d 283px,#fff13d 293px,#fff23b 303px,#fff535 313px,#f1f53f 323px,#eaf643 333px,#e9f644 336px)"></i><i style="width:1px;background:linear-gradient(#e3f746 3px,#f1f53f 13px,#fdf537 23px,#fff339 33px,#fff13e 43px,#fff040 53px,#fff23d 63px,#fff13d 73px,#fff339 83px,#f3f53e 93px,#def849 103px,#c7f853 113px,#b6f75d 123px,#a8f66a 133px,#97f47b 143px,#93f47f 153px,#96f47c 163px,#8ef384 173px,#8ff383 183px,#9af578 193px,#94f47e 203px,#93f47f 213px,#a7f66b 223px,#b9f85a 233px,#d0f84f 243px,#eaf643 253px,#fff536 263px,#fff13f 273px,#fff040 283px,#fff040 293px,#fff33a 303px,#fdf536 313px,#f5f53d 323px,#eff541 333px,#edf541 336px)"></i><i style="width:1px;background:linear-gradient(#dff748 3px,#e6f645 13px,#f2f53e 23px,#fff437 33px,#fff23c 43px,#fff03f 53px,#fff03f 63px,#fff13e 73px,#fff438 83px,#f8f53a 93px,#e9f644 103px,#d6f84c 113px,#bbf858 123px,#a7f66b 133px,#a4f66e 143px,#9ef574 153px,#95f47d 163px,#92f480 173px,#95f47d 183px,#9ef574 193px,#9af578 203px,#98f47a 213px,#a4f66e 223px,#b9f85b 233px,#d7f84c 243px,#f1f53f 253px,#fff438 263px,#fff13f 273px,#fff13f 283px,#fff13d 293px,#fff436 303px,#faf539 313px,#f9f539 323px,#f6f53b 333px,#f6f53c 336px)"></i><i style="width:1px;background:linear-gradient(#e4f746 3px,#e4f746 13px,#eaf643 23px,#f7f53b 33px,#fff438 43px,#fff13d 53px,#fff13e 63px,#fff13e 73px,#fff436 83px,#f7f53b 93px,#e7f644 103px,#d1f84e 113px,#b5f75e 123px,#a2f570 133px,#a9f669 143px,#9ff573 153px,#8ef384 163px,#90f482 173px,#97f47b 183px,#a0f572 193px,#9af578 203px,#98f47a 213px,#a9f669 223px,#baf859 233px,#d2f84e 243px,#f0f540 253px,#fff437 263px,#fff23c 273px,#fff33a 283px,#fff438 293px,#fdf536 303px,#f6f53b 313px,#f3f53e 323px,#f5f53c 333px,#f6f53c 336px)"></i><i style="width:1px;background:linear-gradient(#e4f746 3px,#e3f747 13px,#e8f644 23px,#f4f53d 33px,#fff536 43px,#fff339 53px,#fff33a 63px,#fff339 73px,#fbf538 83px,#e9f643 93px,#d2f84e 103px,#b3f760 113px,#9ff573 123px,#92f480 133px,#98f47a 143px,#91f481 153px,#87f38b 163px,#8cf386 173px,#92f480 183px,#96f47c 193px,#91f481 203px,#91f481 213px,#aaf668 223px,#bdf857 233px,#d3f84e 243px,#f1f540 253px,#fff437 263px,#fff339 273px,#fff437 283px,#fff535 293px,#fdf536 303px,#f1f53f 313px,#e2f747 323px,#e7f645 333px,#e8f644 336px)"></i><i style="width:1px;background:linear-gradient(#f0f540 3px,#eaf643 13px,#f0f540 23px,#fff437 33px,#fff33a 43px,#fff23b 53px,#fff13e 63px,#fff13d 73px,#fef536 83px,#ebf642 93px,#d5f84d 103px,#bcf858 113px,#acf666 123px,#9ff573 133px,#99f479 143px,#92f480 153px,#8df385 163px,#97f47b 173px,#99f579 183px,#8ef384 193px,#92f480 203px,#9ff573 213px,#bdf857 223px,#d3f84e 233px,#e4f746 243px,#fbf538 253px,#fff23b 263px,#fff13e 273px,#fff33a 283px,#fff437 293px,#fff536 303px,#f4f53d 313px,#e3f746 323px,#e3f747 333px,#e3f746 336px)"></i><i style="width:1px;background:linear-gradient(#f7f53b 3px,#f5f53d 13px,#fcf537 23px,#fff23d 33px,#fff13e 43px,#fff03f 53px,#feea3a 63px,#feeb3b 73px,#fff339 83px,#f1f53f 93px,#e0f748 103px,#ddf849 113px,#c6f853 123px,#aff764 133px,#a1f571 143px,#9ff573 153px,#a4f66e 163px,#a9f669 173px,#a3f56f 183px,#8df385 193px,#95f47d 203px,#aaf668 213px,#caf851 223px,#dff849 233px,#ecf642 243px,#fff535 253px,#fff13d 263px,#feed3d 273px,#fff13d 283px,#fff339 293px,#fff33a 303px,#fdf537 313px,#e6f645 323px,#e9f644 333px,#eaf643 336px)"></i><i style="width:1px;background:linear-gradient(#e3f746 3px,#e7f644 13px,#f1f53f 23px,#fff536 33px,#fff33a 43px,#fff13e 53px,#fff040 63px,#fff040 73px,#fff437 83px,#ebf643 93px,#daf84b 103px,#dcf84a 113px,#bcf858 123px,#9df575 133px,#8ff383 143px,#96f47c 153px,#aaf668 163px,#95f47d 173px,#8af388 183px,#83f28f 193px,#86f28c 203px,#91f481 213px,#b5f75e 223px,#d0f84f 233px,#e6f745 243px,#f7f53b 253px,#fff339 263px,#fff13e 273px,#fff339 283px,#fff535 293px,#fff438 303px,#f6f53b 313px,#ddf849 323px,#e5f745 333px,#e8f644 336px)"></i><i style="width:1px;background:linear-gradient(#c9f852 3px,#d4f84d 13px,#e1f747 23px,#f0f540 33px,#fdf536 43px,#fff338 53px,#fff438 63px,#fff437 73px,#f4f53d 83px,#eff541 93px,#e3f747 103px,#caf851 113px,#a4f66e 123px,#86f28c 133px,#7ff193 143px,#87f38b 153px,#96f47c 163px,#7ff193 173px,#7af09a 183px,#80f292 193px,#7df096 203px,#7df196 213px,#93f47f 223px,#b8f75c 233px,#e0f748 243px,#f0f540 253px,#fef536 263px,#fff438 273px,#fdf536 283px,#f7f53b 293px,#f6f53b 303px,#ecf642 313px,#def849 323px,#e1f748 333px,#e2f747 336px)"></i><i style="width:1px;background:linear-gradient(#c6f853 3px,#dff848 13px,#edf642 23px,#f5f53c 33px,#fff436 43px,#fff33a 53px,#fff33a 63px,#fff339 73px,#fbf538 83px,#fcf538 93px,#f0f540 103px,#cdf850 113px,#a0f572 123px,#83f28f 133px,#82f290 143px,#88f38a 153px,#90f482 163px,#87f38b 173px,#88f38a 183px,#92f480 193px,#8df385 203px,#8af388 213px,#9cf576 223px,#baf85a 233px,#dff849 243px,#eff541 253px,#fff535 263px,#fff33a 273px,#fff338 283px,#fff437 293px,#fff535 303px,#f7f53b 313px,#eff540 323px,#ecf642 333px,#ebf643 336px)"></i><i style="width:1px;background:linear-gradient(#c9f852 3px,#e5f746 13px,#f4f53d 23px,#fff535 33px,#fff33a 43px,#fff13d 53px,#fff23c 63px,#fff13f 73px,#fff23c 83px,#f7f53b 93px,#e1f747 103px,#caf851 113px,#a6f66c 123px,#8cf386 133px,#93f47f 143px,#92f480 153px,#8df385 163px,#92f480 173px,#9bf577 183px,#a4f66e 193px,#a3f66f 203px,#a7f66b 213px,#b8f75b 223px,#ccf850 233px,#e2f747 243px,#f6f53c 253px,#fff338 263px,#fff23d 273px,#fff23b 283px,#fff23b 293px,#fff33a 303px,#fff536 313px,#f6f53b 323px,#f1f540 333px,#eff540 336px)"></i><i style="width:1px;background:linear-gradient(#cbf851 3px,#d9f84b 13px,#e6f645 23px,#f6f53c 33px,#fff536 43px,#fff33a 53px,#fff23c 63px,#fff13e 73px,#fff33a 83px,#e9f643 93px,#c9f851 103px,#b9f85a 113px,#a1f571 123px,#90f482 133px,#96f47c 143px,#8ff383 153px,#82f290 163px,#84f28e 173px,#8bf387 183px,#94f47e 193px,#9df575 203px,#a8f66a 213px,#b3f760 223px,#c9f852 233px,#e3f746 243px,#f9f53a 253px,#fff438 263px,#fff339 273px,#fff437 283px,#fff437 293px,#fff437 303px,#f8f53a 313px,#eaf643 323px,#e2f747 333px,#e0f748 336px)"></i><i style="width:1px;background:linear-gradient(#cdf850 3px,#ddf849 13px,#e6f645 23px,#eef541 33px,#fbf538 43px,#fff338 53px,#fff23c 63px,#fff23c 73px,#fff535 83px,#eff540 93px,#dbf84a 103px,#bef856 113px,#a3f56f 123px,#8ff383 133px,#90f482 143px,#8cf386 153px,#87f38b 163px,#84f28e 173px,#84f28e 183px,#86f28c 193px,#92f480 203px,#a2f570 213px,#b3f760 223px,#c6f853 233px,#dff849 243px,#f4f53d 253px,#fff536 263px,#fff536 273px,#fff535 283px,#fff436 293px,#fff437 303px,#f5f53c 313px,#e0f748 323px,#d7f84c 333px,#d4f84d 336px)"></i><i style="width:1px;background:linear-gradient(#cdf850 3px,#e3f746 13px,#edf541 23px,#eff540 33px,#f9f53a 43px,#fff436 53px,#fff23b 63px,#fff23b 73px,#fdf537 83px,#f3f53e 93px,#e3f747 103px,#c6f853 113px,#a7f66b 123px,#8ff383 133px,#8cf386 143px,#8ef384 153px,#93f47f 163px,#8ef384 173px,#88f38a 183px,#7ef194 193px,#84f28e 203px,#93f47f 213px,#bcf858 223px,#c7f852 233px,#c7f852 243px,#ebf643 253px,#fef536 263px,#fff437 273px,#fff436 283px,#fff438 293px,#fff339 303px,#f9f539 313px,#e2f747 323px,#d1f84e 333px,#ccf851 336px)"></i><i style="width:1px;background:linear-gradient(#caf851 3px,#dbf84a 13px,#e5f746 23px,#ecf642 33px,#f0f540 43px,#f5f53d 53px,#fff437 63px,#fff437 73px,#f0f540 83px,#e8f644 93px,#d6f84c 103px,#b4f760 113px,#a0f572 123px,#91f481 133px,#86f28c 143px,#86f28c 153px,#8bf387 163px,#82f290 173px,#7ef194 183px,#7bf097 193px,#77ef9c 203px,#7ef195 213px,#b4f75f 223px,#c1f855 233px,#b9f85b 243px,#e2f747 253px,#f8f53a 263px,#fff535 273px,#fcf537 283px,#fcf537 293px,#fbf538 303px,#f2f53e 313px,#e5f745 323px,#c9f852 333px,#c0f855 336px)"></i><i style="width:1px;background:linear-gradient(#d0f84f 3px,#ddf849 13px,#e5f745 23px,#ecf642 33px,#f4f53d 43px,#fbf538 53px,#fff438 63px,#fff436 73px,#ebf642 83px,#e5f745 93px,#d1f84e 103px,#a6f66c 113px,#94f47e 123px,#8df385 133px,#8df385 143px,#88f38a 153px,#80f192 163px,#78ef9b 173px,#78ef9b 183px,#80f192 193px,#7cf097 203px,#7ff193 213px,#b0f763 223px,#c6f853 233px,#d1f84e 243px,#f1f53f 253px,#fff536 263px,#fff535 273px,#f9f539 283px,#f6f53c 293px,#f0f540 303px,#eaf643 313px,#e5f746 323px,#d1f84e 333px,#cbf851 336px)"></i><i style="width:1px;background:linear-gradient(#c6f853 3px,#d8f84c 13px,#e2f747 23px,#e7f645 33px,#f5f53c 43px,#fff535 53px,#fff536 63px,#fff535 73px,#eef541 83px,#e0f748 93px,#c2f854 103px,#96f47c 113px,#8bf387 123px,#88f38a 133px,#90f482 143px,#8cf386 153px,#83f28f 163px,#78ef9c 173px,#75ee9f 183px,#79f09a 193px,#7ef195 203px,#87f38b 213px,#a3f66f 223px,#bcf858 233px,#d7f84c 243px,#f5f53d 253px,#fff338 263px,#fff33a 273px,#fdf536 283px,#f4f53d 293px,#eff541 303px,#e3f746 313px,#d5f84d 323px,#cef850 333px,#cdf850 336px)"></i><i style="width:1px;background:linear-gradient(#b1f762 3px,#cdf850 13px,#e0f748 23px,#e8f644 33px,#eff540 43px,#f4f53d 53px,#f9f539 63px,#fcf537 73px,#f1f53f 83px,#e0f748 93px,#c0f855 103px,#98f47a 113px,#91f481 123px,#90f482 133px,#8ef384 143px,#8cf386 153px,#8af388 163px,#80f193 173px,#7bf098 183px,#78ef9b 193px,#83f28f 203px,#92f480 213px,#9ff573 223px,#b1f762 233px,#c8f852 243px,#e7f645 253px,#fff535 263px,#fff13d 273px,#fff536 283px,#f3f53e 293px,#eff540 303px,#e4f746 313px,#d4f84d 323px,#cbf851 333px,#c9f852 336px)"></i><i style="width:1px;background:linear-gradient(#bef856 3px,#dff848 13px,#f0f540 23px,#f9f539 33px,#fef536 43px,#fff536 53px,#fff535 63px,#fff437 73px,#fcf537 83px,#edf541 93px,#d6f84d 103px,#aff763 113px,#a6f66c 123px,#9ef574 133px,#8ff383 143px,#90f482 153px,#98f47a 163px,#8af388 173px,#86f28c 183px,#8af388 193px,#97f47b 203px,#a8f66a 213px,#b3f760 223px,#bff855 233px,#d1f84e 243px,#ebf642 253px,#fff535 263px,#fff23c 273px,#fff437 283px,#f8f53a 293px,#f3f53e 303px,#ecf642 313px,#e5f745 323px,#dff848 333px,#def849 336px)"></i><i style="width:1px;background:linear-gradient(#cdf850 3px,#dcf84a 13px,#ebf643 23px,#fdf536 33px,#fff339 43px,#fff23b 53px,#fff536 63px,#fff535 73px,#f7f53b 83px,#e6f645 93px,#cdf850 103px,#abf667 113px,#97f47b 123px,#8af388 133px,#7ff193 143px,#89f389 153px,#9ff573 163px,#81f291 173px,#7bf098 183px,#86f28c 193px,#8ef384 203px,#97f47b 213px,#a5f66d 223px,#b2f761 233px,#c4f853 243px,#edf642 253px,#fff535 263px,#fff536 273px,#faf539 283px,#f4f53d 293px,#eaf643 303px,#e0f748 313px,#d8f84c 323px,#daf84b 333px,#dbf84b 336px)"></i><i style="width:1px;background:linear-gradient(#c6f853 3px,#caf851 13px,#dbf84a 23px,#f3f53e 33px,#fff436 43px,#fff33a 53px,#fff535 63px,#fbf538 73px,#ebf642 83px,#daf84b 93px,#bef856 103px,#9ff573 113px,#88f38a 123px,#7bf098 133px,#75ee9e 143px,#7ff193 153px,#94f47e 163px,#7df196 173px,#74eea0 183px,#75ee9f 193px,#7df196 203px,#85f28d 213px,#86f28c 223px,#90f482 233px,#a7f66b 243px,#e2f747 253px,#fcf537 263px,#fdf537 273px,#f7f53b 283px,#f3f53e 293px,#ebf643 303px,#def849 313px,#cbf851 323px,#c9f852 333px,#c9f852 336px)"></i><i style="width:1px;background:linear-gradient(#c1f855 3px,#d3f84e 13px,#e0f748 23px,#e8f644 33px,#fbf538 43px,#fff339 53px,#fff437 63px,#fef536 73px,#ebf642 83px,#def849 93px,#c3f854 103px,#a0f572 113px,#94f47e 123px,#8cf386 133px,#7df196 143px,#80f193 153px,#8cf386 163px,#7ef195 173px,#77ef9d 183px,#74eea0 193px,#7ef195 203px,#89f389 213px,#8bf387 223px,#97f47b 233px,#b2f761 243px,#dff848 253px,#f8f53a 263px,#fff436 273px,#fff436 283px,#fff436 293px,#fbf538 303px,#eef541 313px,#def849 323px,#d3f84e 333px,#d0f84f 336px)"></i><i style="width:1px;background:linear-gradient(#aff763 3px,#ccf850 13px,#def849 23px,#e3f746 33px,#f1f53f 43px,#f9f539 53px,#f7f53b 63px,#f3f53e 73px,#dff748 83px,#d2f84e 93px,#baf859 103px,#9af578 113px,#8ff383 123px,#87f38b 133px,#7af099 143px,#79ef9b 153px,#7cf097 163px,#72eca1 173px,#71eaa2 183px,#73eca1 193px,#7af099 203px,#83f28f 213px,#89f389 223px,#99f579 233px,#b5f75f 243px,#d0f84f 253px,#e9f643 263px,#f9f539 273px,#fcf537 283px,#fdf536 293px,#f3f53e 303px,#e6f645 313px,#daf84b 323px,#c9f852 333px,#c5f853 336px)"></i><i style="width:1px;background:linear-gradient(#9cf576 3px,#b5f75e 13px,#cdf850 23px,#e4f746 33px,#ebf643 43px,#ebf642 53px,#e5f745 63px,#e4f746 73px,#d2f84e 83px,#b9f85a 93px,#a5f66d 103px,#96f47c 113px,#82f290 123px,#74ee9f 133px,#70e9a3 143px,#72eba2 153px,#78ef9c 163px,#70e9a3 173px,#6ee7a4 183px,#71eba2 193px,#75ee9e 203px,#7cf097 213px,#83f28f 223px,#8bf387 233px,#98f47a 243px,#baf85a 253px,#def849 263px,#f1f53f 273px,#eff540 283px,#eaf643 293px,#dbf84a 303px,#cef84f 313px,#c8f852 323px,#b8f75c 333px,#b4f75f 336px)"></i><i style="width:1px;background:linear-gradient(#a8f66a 3px,#b9f85a 13px,#d0f84f 23px,#e9f643 33px,#f3f53e 43px,#f6f53c 53px,#edf541 63px,#ebf643 73px,#dcf84a 83px,#bbf858 93px,#a9f669 103px,#a7f66b 113px,#8bf387 123px,#78ef9b 133px,#73eda1 143px,#78ef9b 153px,#83f28f 163px,#7bf098 173px,#79ef9a 183px,#7af099 193px,#7ef195 203px,#83f28f 213px,#8ff383 223px,#98f47a 233px,#a6f66c 243px,#c8f852 253px,#eaf643 263px,#fff536 273px,#f5f53c 283px,#e8f644 293px,#e0f748 303px,#d7f84c 313px,#cff84f 323px,#b8f75b 333px,#b3f760 336px)"></i><i style="width:1px;background:linear-gradient(#b3f760 3px,#d1f84e 13px,#e4f746 23px,#eef541 33px,#faf538 43px,#fff436 53px,#fff535 63px,#fcf538 73px,#e7f644 83px,#d2f84e 93px,#c1f855 103px,#bef856 113px,#9ff573 123px,#87f38b 133px,#87f38b 143px,#8cf386 153px,#94f47e 163px,#8bf387 173px,#87f38b 183px,#84f28e 193px,#86f28c 203px,#8bf387 213px,#93f47f 223px,#aaf668 233px,#c8f852 243px,#e4f746 253px,#fcf537 263px,#fff13d 273px,#fff536 283px,#f3f53e 293px,#f1f53f 303px,#ecf642 313px,#e4f746 323px,#cbf851 333px,#c3f854 336px)"></i><i style="width:1px;background:linear-gradient(#b7f75d 3px,#def849 13px,#ecf642 23px,#eef541 33px,#f7f53b 43px,#fff535 53px,#fff339 63px,#fff339 73px,#f2f53f 83px,#dbf84a 93px,#c6f853 103px,#c3f854 113px,#adf666 123px,#98f47a 133px,#9af578 143px,#9ef574 153px,#a1f571 163px,#8ef384 173px,#87f38b 183px,#86f28c 193px,#8bf387 203px,#91f481 213px,#92f480 223px,#a7f66b 233px,#c9f852 243px,#e8f644 253px,#fff535 263px,#fff13e 273px,#fff339 283px,#fdf537 293px,#f8f53a 303px,#f4f53d 313px,#f1f53f 323px,#e2f747 333px,#def849 336px)"></i><i style="width:1px;background:linear-gradient(#bbf859 3px,#dbf84a 13px,#e8f644 23px,#ecf642 33px,#eff540 43px,#f5f53d 53px,#fff437 63px,#fff438 73px,#f3f53e 83px,#d4f84d 93px,#b8f75b 103px,#b0f763 113px,#a3f66f 123px,#97f47b 133px,#93f47f 143px,#8ef384 153px,#89f389 163px,#7df196 173px,#7bf098 183px,#80f292 193px,#8cf386 203px,#96f47c 213px,#93f47f 223px,#9ff573 233px,#b6f75e 243px,#e0f748 253px,#fbf538 263px,#fff23b 273px,#fff33a 283px,#fff438 293px,#f3f53e 303px,#ecf642 313px,#eef541 323px,#e0f748 333px,#dcf84a 336px)"></i><i style="width:1px;background:linear-gradient(#b5f75e 3px,#daf84b 13px,#ebf643 23px,#f1f53f 33px,#f0f540 43px,#f0f540 53px,#fef535 63px,#fff437 73px,#f4f53d 83px,#d9f84b 93px,#bbf859 103px,#adf666 113px,#9bf577 123px,#8df385 133px,#87f38b 143px,#80f193 153px,#78ef9b 163px,#75ee9f 173px,#7af099 183px,#87f38b 193px,#8bf387 203px,#8df385 213px,#93f47f 223px,#a2f570 233px,#b7f75c 243px,#e1f747 253px,#fcf538 263px,#fff33a 273px,#fff23b 283px,#fff438 293px,#ecf642 303px,#e1f748 313px,#dff848 323px,#cef850 333px,#c9f851 336px)"></i><i style="width:1px;background:linear-gradient(#b5f75e 3px,#d9f84b 13px,#e9f643 23px,#eef541 33px,#f2f53e 43px,#f8f53a 53px,#fff438 63px,#fff339 73px,#f7f53b 83px,#e2f747 93px,#caf851 103px,#b6f75d 113px,#97f47b 123px,#83f28f 133px,#86f28c 143px,#87f38b 153px,#87f38b 163px,#7ef195 173px,#7ff193 183px,#8af388 193px,#8df385 203px,#8ff383 213px,#99f579 223px,#aaf668 233px,#c0f855 243px,#dff848 253px,#f8f53a 263px,#fff23b 273px,#fff33a 283px,#fff437 293px,#edf541 303px,#def849 313px,#d4f84d 323px,#d3f84e 333px,#d3f84d 336px)"></i><i style="width:1px;background:linear-gradient(#c0f855 3px,#d8f84c 13px,#e4f746 23px,#ebf643 33px,#f8f53a 43px,#fff437 53px,#fff23d 63px,#fff23c 73px,#f8f53a 83px,#e4f746 93px,#cbf851 103px,#b2f761 113px,#94f47e 123px,#84f28e 133px,#8cf386 143px,#93f47f 153px,#98f47a 163px,#8cf386 173px,#85f28d 183px,#80f193 193px,#90f482 203px,#a5f66d 213px,#adf665 223px,#b8f75b 233px,#c9f852 243px,#dcf84a 253px,#eff540 263px,#fff536 273px,#fff339 283px,#fff33a 293px,#fcf538 303px,#ebf643 313px,#d9f84b 323px,#def849 333px,#dff748 336px)"></i><i style="width:1px;background:linear-gradient(#c2f854 3px,#d9f84b 13px,#e8f644 23px,#f4f53d 33px,#fef536 43px,#fff338 53px,#fff13e 63px,#fff13f 73px,#fff536 83px,#ecf642 93px,#d0f84f 103px,#aef764 113px,#9ff573 123px,#95f47d 133px,#95f47d 143px,#94f47e 153px,#94f47e 163px,#94f47e 173px,#91f481 183px,#86f28c 193px,#92f480 203px,#a3f66f 213px,#acf666 223px,#bdf857 233px,#d7f84c 243px,#e6f645 253px,#f4f53d 263px,#fcf537 273px,#fff33a 283px,#fff13e 293px,#fff339 303px,#f8f53a 313px,#e7f644 323px,#ddf849 333px,#daf84b 336px)"></i><i style="width:1px;background:linear-gradient(#bcf858 3px,#d4f84d 13px,#e4f746 23px,#eef541 33px,#f7f53b 43px,#fff536 53px,#fff13e 63px,#fff13e 73px,#fef536 83px,#f0f540 93px,#d8f84c 103px,#aef765 113px,#a2f570 123px,#98f47a 133px,#8af388 143px,#88f38a 153px,#8cf386 163px,#8df385 173px,#8cf386 183px,#88f38a 193px,#88f38a 203px,#89f389 213px,#8af388 223px,#a7f66b 233px,#d6f84c 243px,#e9f643 253px,#faf539 263px,#fff437 273px,#fff33a 283px,#fff23c 293px,#fff536 303px,#f6f53b 313px,#eef541 323px,#d0f84f 333px,#c5f853 336px)"></i><i style="width:1px;background:linear-gradient(#caf851 3px,#d9f84b 13px,#e1f747 23px,#e6f645 33px,#f4f53d 43px,#fff536 53px,#fff23c 63px,#fff23c 73px,#f9f539 83px,#ebf642 93px,#d9f84b 103px,#bdf857 113px,#a5f66d 123px,#8ff383 133px,#82f290 143px,#81f291 153px,#86f28c 163px,#86f28c 173px,#86f28c 183px,#80f192 193px,#7ef194 203px,#7ff194 213px,#85f28d 223px,#a3f56f 233px,#d3f84d 243px,#e3f746 253px,#f7f53b 263px,#fff33a 273px,#fff338 283px,#fff436 293px,#f9f539 303px,#f3f53e 313px,#ecf642 323px,#cef850 333px,#c3f854 336px)"></i><i style="width:1px;background:linear-gradient(#ccf850 3px,#d0f84f 13px,#d9f84b 23px,#e6f645 33px,#f3f53e 43px,#fef536 53px,#fff339 63px,#fff339 73px,#f5f53d 83px,#dcf84a 93px,#c2f855 103px,#b7f75c 113px,#9af578 123px,#84f28e 133px,#7ff193 143px,#7bf098 153px,#77ef9d 163px,#7af09a 173px,#7cf097 183px,#79f09a 193px,#7cf096 203px,#83f28f 213px,#95f47d 223px,#aef765 233px,#caf851 243px,#dcf84a 253px,#f0f540 263px,#fff436 273px,#fbf538 283px,#f4f53d 293px,#eff540 303px,#e8f644 313px,#e1f748 323px,#c5f853 333px,#bdf857 336px)"></i><i style="width:1px;background:linear-gradient(#bbf859 3px,#b8f75b 13px,#c1f855 23px,#dbf84a 33px,#e8f644 43px,#f1f53f 53px,#faf539 63px,#f9f539 73px,#e3f747 83px,#bff855 93px,#a2f570 103px,#8ff383 113px,#82f290 123px,#79ef9a 133px,#74eea0 143px,#6ee7a4 153px,#66dfaa 163px,#6ce4a6 173px,#70eaa3 183px,#72eca1 193px,#7af09a 203px,#83f28f 213px,#8af388 223px,#9bf577 233px,#b7f75c 243px,#d1f84e 253px,#e6f745 263px,#eef541 273px,#edf541 283px,#ebf643 293px,#def849 303px,#d5f84d 313px,#cff84f 323px,#b1f762 333px,#a9f669 336px)"></i><i style="width:1px;background:linear-gradient(#bdf857 3px,#c0f855 13px,#caf851 23px,#dff849 33px,#e6f645 43px,#edf541 53px,#fbf538 63px,#fdf536 73px,#ebf643 83px,#d3f84d 93px,#b3f760 103px,#91f481 113px,#8df385 123px,#88f38a 133px,#7bf098 143px,#71eba2 153px,#6be4a6 163px,#72eca1 173px,#79ef9a 183px,#7af099 193px,#81f291 203px,#89f389 213px,#87f38b 223px,#98f47a 233px,#bbf858 243px,#d8f84c 253px,#ecf642 263px,#f7f53b 273px,#f6f53b 283px,#f5f53d 293px,#ecf642 303px,#e4f746 313px,#def849 323px,#ccf850 333px,#c8f852 336px)"></i><i style="width:1px;background:linear-gradient(#b4f75f 3px,#cff84f 13px,#e2f747 23px,#ecf642 33px,#f5f53d 43px,#fcf537 53px,#fff437 63px,#fff33a 73px,#fff535 83px,#ebf643 93px,#d3f84e 103px,#b8f75b 113px,#aff764 123px,#a5f66d 133px,#94f47e 143px,#89f389 153px,#81f291 163px,#82f290 173px,#89f389 183px,#95f47d 193px,#98f47a 203px,#99f579 213px,#9af578 223px,#aaf669 233px,#c3f854 243px,#e3f746 253px,#fdf536 263px,#fff13e 273px,#fff339 283px,#fff535 293px,#fff536 303px,#fbf538 313px,#f1f540 323px,#e6f645 333px,#e4f746 336px)"></i><i style="width:1px;background:linear-gradient(#9cf576 3px,#c6f853 13px,#dff849 23px,#e3f747 33px,#f5f53d 43px,#fff436 53px,#fff437 63px,#fff438 73px,#f7f53b 83px,#e5f746 93px,#d2f84e 103px,#c2f854 113px,#a8f66a 123px,#91f481 133px,#90f482 143px,#87f38b 153px,#7cf097 163px,#7bf098 173px,#81f291 183px,#91f481 193px,#91f481 203px,#91f481 213px,#99f479 223px,#a5f66d 233px,#b6f75d 243px,#ddf84a 253px,#faf539 263px,#fff13e 273px,#fff437 283px,#f6f53c 293px,#f9f53a 303px,#f2f53f 313px,#e4f746 323px,#ccf850 333px,#c5f853 336px)"></i><i style="width:1px;background:linear-gradient(#aef765 3px,#c0f855 13px,#cdf850 23px,#d3f84e 33px,#e8f644 43px,#f5f53c 53px,#f7f53b 63px,#f6f53c 73px,#e3f747 83px,#d9f84b 93px,#cdf850 103px,#c4f854 113px,#a3f56f 123px,#88f38a 133px,#83f28f 143px,#7cf097 153px,#74eea0 163px,#7bf098 173px,#7ef194 183px,#78ef9b 193px,#80f192 203px,#8bf387 213px,#91f481 223px,#9ff573 233px,#b4f75f 243px,#d2f84e 253px,#ecf642 263px,#fef536 273px,#f4f53d 283px,#e9f643 293px,#e6f645 303px,#dff748 313px,#d5f84d 323px,#baf85a 333px,#b3f760 336px)"></i><i style="width:1px;background:linear-gradient(#c8f852 3px,#bef856 13px,#bff856 23px,#d0f84f 33px,#e1f747 43px,#ebf643 53px,#ebf643 63px,#ecf642 73px,#ddf84a 83px,#d0f84f 93px,#c7f852 103px,#c5f853 113px,#a9f669 123px,#8ef384 133px,#82f290 143px,#7ff193 153px,#7ff193 163px,#84f28e 173px,#82f290 183px,#76ef9e 193px,#7ef194 203px,#89f389 213px,#8bf387 223px,#9bf577 233px,#b8f75b 243px,#cdf850 253px,#e1f747 263px,#ebf642 273px,#e7f645 283px,#e3f747 293px,#ddf849 303px,#d9f84b 313px,#d8f84b 323px,#c3f854 333px,#bdf857 336px)"></i><i style="width:1px;background:linear-gradient(#c0f855 3px,#bbf859 13px,#bef856 23px,#cdf850 33px,#dff848 43px,#eaf643 53px,#f0f540 63px,#f2f53f 73px,#e3f747 83px,#d5f84d 93px,#c3f854 103px,#b4f75f 113px,#95f47d 123px,#81f291 133px,#7df195 143px,#7ef195 153px,#80f192 163px,#7ef194 173px,#81f291 183px,#89f389 193px,#81f291 203px,#7df196 213px,#87f38b 223px,#97f47b 233px,#b1f761 243px,#c3f854 253px,#dbf84a 263px,#e8f644 273px,#e7f645 283px,#e6f745 293px,#e1f748 303px,#d8f84c 313px,#cdf850 323px,#bff856 333px,#bbf858 336px)"></i><i style="width:1px;background:linear-gradient(#adf665 3px,#bcf857 13px,#c5f853 23px,#c5f853 33px,#ddf84a 43px,#eef541 53px,#fcf537 63px,#fef536 73px,#e9f643 83px,#def849 93px,#c6f853 103px,#a6f66c 113px,#8cf386 123px,#7df195 133px,#7df096 143px,#78ef9c 153px,#72eca1 163px,#74eea0 173px,#7ef195 183px,#90f482 193px,#84f28e 203px,#7df096 213px,#8ef384 223px,#99f579 233px,#a5f66d 243px,#c7f852 253px,#e5f745 263px,#f4f53d 273px,#f1f540 283px,#edf541 293px,#e7f644 303px,#d5f84d 313px,#b8f75b 323px,#b7f75d 333px,#b7f75c 336px)"></i><i style="width:1px;background:linear-gradient(#a9f669 3px,#bdf857 13px,#c4f854 23px,#bdf857 33px,#def849 43px,#f4f53d 53px,#fff437 63px,#fff436 73px,#ecf642 83px,#dcf84a 93px,#c0f855 103px,#a1f571 113px,#90f482 123px,#86f28c 133px,#81f291 143px,#78ef9c 153px,#6fe8a3 163px,#71eba2 173px,#76ee9e 183px,#7bf098 193px,#81f291 203px,#89f389 213px,#95f47d 223px,#98f47a 233px,#9af578 243px,#cbf851 253px,#edf541 263px,#fbf538 273px,#f3f53e 283px,#eaf643 293px,#e2f747 303px,#cef850 313px,#b3f760 323px,#b0f763 333px,#b0f763 336px)"></i><i style="width:1px;background:linear-gradient(#9df575 3px,#bbf859 13px,#caf851 23px,#c7f852 33px,#dff849 43px,#f1f53f 53px,#fef536 63px,#fef536 73px,#e6f745 83px,#d3f84e 93px,#b5f75e 103px,#93f47f 113px,#8bf387 123px,#84f28e 133px,#7df196 143px,#77ef9c 153px,#73eda0 163px,#73eda0 173px,#72eba2 183px,#6be4a6 193px,#75ee9f 203px,#87f38b 213px,#94f47e 223px,#95f47d 233px,#95f47d 243px,#bef856 253px,#e4f746 263px,#f6f53b 273px,#eff541 283px,#e6f645 293px,#ddf849 303px,#d0f84f 313px,#c4f854 323px,#aef764 333px,#a9f669 336px)"></i><i style="width:1px;background:linear-gradient(#8ff383 3px,#c2f854 13px,#ddf849 23px,#ddf849 33px,#e3f747 43px,#e9f643 53px,#f1f53f 63px,#f3f53e 73px,#e2f747 83px,#dbf84a 93px,#bef856 103px,#8df385 113px,#80f192 123px,#7bf098 133px,#7cf097 143px,#7bf098 153px,#79f09a 163px,#7bf098 173px,#78ef9c 183px,#6fe8a4 193px,#76ef9e 203px,#83f28f 213px,#8cf386 223px,#94f47e 233px,#a5f66d 243px,#bef856 253px,#def849 263px,#f1f53f 273px,#eef541 283px,#e9f644 293px,#dff848 303px,#d8f84b 313px,#d4f84d 323px,#b9f85a 333px,#b3f760 336px)"></i><i style="width:1px;background:linear-gradient(#9df575 3px,#caf851 13px,#e3f747 23px,#e9f643 33px,#eef541 43px,#f0f540 53px,#eef541 63px,#f0f540 73px,#e5f745 83px,#e8f644 93px,#d7f84c 103px,#9ff573 113px,#82f290 123px,#76ef9e 133px,#7cf096 143px,#82f290 153px,#89f389 163px,#85f28d 173px,#87f38b 183px,#8af388 193px,#8bf387 203px,#8bf387 213px,#8df385 223px,#9df575 233px,#bbf859 243px,#d0f84f 253px,#e7f645 263px,#f6f53b 273px,#f1f53f 283px,#ebf643 293px,#e2f747 303px,#def849 313px,#def849 323px,#cdf850 333px,#c9f852 336px)"></i><i style="width:1px;background:linear-gradient(#a3f56f 3px,#b8f75c 13px,#caf851 23px,#dbf84a 33px,#e6f745 43px,#edf542 53px,#eef541 63px,#ecf642 73px,#d8f84c 83px,#ddf84a 93px,#c7f852 103px,#94f47e 113px,#7cf096 123px,#70eaa2 133px,#6de6a4 143px,#73eda1 153px,#82f291 163px,#7df196 173px,#80f193 183px,#89f389 193px,#84f28e 203px,#80f192 213px,#83f28f 223px,#8df385 233px,#a3f56f 243px,#c4f854 253px,#e3f747 263px,#f2f53f 273px,#e6f745 283px,#daf84b 293px,#d3f84e 303px,#cef84f 313px,#cdf850 323px,#bef856 333px,#bbf859 336px)"></i><i style="width:1px;background:linear-gradient(#9df575 3px,#aef764 13px,#baf85a 23px,#c3f854 33px,#d6f84c 43px,#e3f747 53px,#e7f645 63px,#e7f644 73px,#d2f84e 83px,#c4f854 93px,#a7f66b 103px,#7df195 113px,#74eea0 123px,#6ee7a4 133px,#61dcaf 143px,#65deab 153px,#70e9a3 163px,#6de5a5 173px,#6de6a5 183px,#70e9a3 193px,#76ef9e 203px,#7df096 213px,#7ef195 223px,#80f193 233px,#86f28c 243px,#a7f66b 253px,#d2f84e 263px,#f1f53f 273px,#dff849 283px,#c7f852 293px,#c3f854 303px,#bdf857 313px,#b6f75d 323px,#abf667 333px,#a9f669 336px)"></i><i style="width:1px;background:linear-gradient(#a7f66b 3px,#bbf859 13px,#cdf850 23px,#ddf849 33px,#e1f748 43px,#e3f746 53px,#eaf643 63px,#f1f53f 73px,#e8f644 83px,#d2f84e 93px,#b1f762 103px,#8af388 113px,#7df196 123px,#72eca1 133px,#67dfa9 143px,#6ae2a7 153px,#73eca1 163px,#6ae3a6 173px,#69e2a7 183px,#6fe8a3 193px,#7af099 203px,#89f389 213px,#93f47f 223px,#90f482 233px,#8bf387 243px,#acf667 253px,#dbf84a 263px,#fef536 273px,#ebf642 283px,#d3f84d 293px,#cbf851 303px,#c6f853 313px,#c5f853 323px,#bff856 333px,#bef856 336px)"></i><i style="width:1px;background:linear-gradient(#b4f75f 3px,#b9f85a 13px,#c8f852 23px,#e2f747 33px,#e9f643 43px,#edf542 53px,#f1f53f 63px,#f8f53a 73px,#f1f53f 83px,#e1f748 93px,#c6f853 103px,#a6f66c 113px,#87f38b 123px,#76ef9d 133px,#73eda0 143px,#76ef9d 153px,#7cf097 163px,#74eda0 173px,#73eda1 183px,#78ef9c 193px,#81f292 203px,#8ff383 213px,#a8f66a 223px,#a1f571 233px,#90f482 243px,#bef856 253px,#e6f645 263px,#f9f539 273px,#eef541 283px,#e1f747 293px,#dbf84a 303px,#d4f84d 313px,#d0f84f 323px,#cdf850 333px,#cdf850 336px)"></i><i style="width:1px;background:linear-gradient(#a2f570 3px,#a5f66d 13px,#aff764 23px,#c4f854 33px,#def849 43px,#ecf642 53px,#edf541 63px,#f3f53e 73px,#ebf642 83px,#dbf84a 93px,#c0f855 103px,#a4f66e 113px,#82f290 123px,#72eca1 133px,#77ef9d 143px,#76ee9e 153px,#72eca1 163px,#76ef9e 173px,#78ef9c 183px,#72eca1 193px,#79ef9a 203px,#87f38b 213px,#a4f66e 223px,#9ff573 233px,#8ef384 243px,#bdf857 253px,#e1f747 263px,#eaf643 273px,#e7f645 283px,#e6f745 293px,#e3f746 303px,#d2f84e 313px,#b8f75b 323px,#b5f75e 333px,#b5f75e 336px)"></i><i style="width:1px;background:linear-gradient(#97f47b 3px,#a4f66e 13px,#aef764 23px,#b7f75c 33px,#d0f84f 43px,#e3f747 53px,#edf541 63px,#f3f53e 73px,#e5f745 83px,#d0f84f 93px,#b9f85b 103px,#a6f66c 113px,#7ef194 123px,#6de5a5 133px,#71eaa2 143px,#6fe9a3 153px,#6ce5a5 163px,#6fe8a3 173px,#71eaa2 183px,#6ee6a4 193px,#72eca1 203px,#7ef195 213px,#9ff573 223px,#a0f572 233px,#92f480 243px,#b7f75d 253px,#d9f84b 263px,#e8f644 273px,#e8f644 283px,#e6f745 293px,#daf84b 303px,#c1f855 313px,#a7f66b 323px,#9cf576 333px,#99f579 336px)"></i><i style="width:1px;background:linear-gradient(#caf851 3px,#daf84b 13px,#e0f748 23px,#e0f748 33px,#eff541 43px,#fdf536 53px,#fff23b 63px,#fff23b 73px,#f7f53b 83px,#e7f645 93px,#d8f84b 103px,#ccf850 113px,#9bf577 123px,#7cf097 133px,#81f291 143px,#85f28d 153px,#87f38b 163px,#7df195 173px,#7cf097 183px,#7ff193 193px,#88f38a 203px,#98f47a 213px,#bbf858 223px,#c0f855 233px,#b9f85a 243px,#def849 253px,#f3f53e 263px,#fbf538 273px,#faf538 283px,#f7f53b 293px,#e1f747 303px,#d5f84d 313px,#d1f84f 323px,#bff856 333px,#baf859 336px)"></i><i style="width:1px;background:linear-gradient(#daf84b 3px,#e8f644 13px,#f0f540 23px,#f3f53e 33px,#fff535 43px,#fff33a 53px,#fff040 63px,#fff040 73px,#fff437 83px,#f2f53e 93px,#e4f746 103px,#dbf84b 113px,#b2f761 123px,#91f481 133px,#93f47f 143px,#98f47a 153px,#9ff573 163px,#91f481 173px,#8ff383 183px,#94f47e 193px,#a0f572 203px,#b0f763 213px,#cff84f 223px,#d9f84b 233px,#ddf84a 243px,#f4f53d 253px,#fff437 263px,#fff437 273px,#fff436 283px,#fff535 293px,#f1f53f 303px,#ecf642 313px,#ecf642 323px,#e0f748 333px,#ddf84a 336px)"></i><i style="width:1px;background:linear-gradient(#bdf857 3px,#c3f854 13px,#c9f851 23px,#d2f84e 33px,#e4f746 43px,#f1f53f 53px,#faf538 63px,#fdf536 73px,#eef541 83px,#d7f84c 93px,#c0f855 103px,#b5f75e 113px,#93f47f 123px,#7df196 133px,#7cf097 143px,#7df096 153px,#7ef194 163px,#80f193 173px,#81f291 183px,#7ff193 193px,#85f28d 203px,#90f482 213px,#acf667 223px,#bef856 233px,#d0f84f 243px,#e0f748 253px,#edf541 263px,#f6f53c 273px,#ecf642 283px,#e3f746 293px,#e1f748 303px,#d9f84b 313px,#cbf851 323px,#c7f852 333px,#c7f853 336px)"></i><i style="width:1px;background:linear-gradient(#b6f75e 3px,#baf85a 13px,#baf859 23px,#b7f75c 33px,#d6f84c 43px,#ecf642 53px,#f4f53d 63px,#f5f53c 73px,#e1f747 83px,#c9f852 93px,#b1f762 103px,#9bf577 113px,#82f290 123px,#74eea0 133px,#74eea0 143px,#75ee9f 153px,#76ef9e 163px,#78ef9b 173px,#79ef9b 183px,#73eda0 193px,#7df195 203px,#8cf386 213px,#9bf577 223px,#aff764 233px,#c5f853 243px,#cff84f 253px,#e3f747 263px,#f4f53d 273px,#e1f747 283px,#cdf850 293px,#d1f84e 303px,#c5f853 313px,#b4f75f 323px,#b6f75d 333px,#b7f75c 336px)"></i><i style="width:1px;background:linear-gradient(#a4f66e 3px,#bbf859 13px,#c8f852 23px,#cbf851 33px,#e5f745 43px,#f7f53b 53px,#fff535 63px,#fcf537 73px,#e1f748 83px,#d1f84e 93px,#b9f85b 103px,#98f47a 113px,#85f28d 123px,#7af099 133px,#78ef9c 143px,#76ef9d 153px,#76ef9e 163px,#76ef9d 173px,#79ef9a 183px,#7bf098 193px,#87f38b 203px,#95f47d 213px,#9ff573 223px,#aff764 233px,#c3f854 243px,#dbf84a 253px,#ecf642 263px,#f4f53d 273px,#eaf643 283px,#e2f747 293px,#e1f747 303px,#d9f84b 313px,#cbf851 323px,#bcf857 333px,#b9f85b 336px)"></i><i style="width:1px;background:linear-gradient(#90f482 3px,#aaf668 13px,#baf85a 23px,#c2f855 33px,#dcf84a 43px,#edf541 53px,#f8f53a 63px,#f4f53d 73px,#d3f84e 83px,#bef856 93px,#a9f669 103px,#92f480 113px,#81f291 123px,#77ef9d 133px,#73eda0 143px,#72eca1 153px,#71eba2 163px,#6ee8a4 173px,#72eba2 183px,#7df195 193px,#7ff193 203px,#83f28f 213px,#92f480 223px,#9ff573 233px,#aef765 243px,#d9f84b 253px,#ecf642 263px,#e8f644 273px,#e7f644 283px,#e9f644 293px,#e3f746 303px,#d7f84c 313px,#c4f854 323px,#b0f763 333px,#abf667 336px)"></i><i style="width:1px;background:linear-gradient(#8df385 3px,#98f47a 13px,#a2f570 23px,#acf667 33px,#c1f855 43px,#d6f84d 53px,#e2f747 63px,#e6f745 73px,#cef84f 83px,#abf667 93px,#91f481 103px,#87f38b 113px,#75ee9f 123px,#6de6a5 133px,#71eaa2 143px,#6fe8a3 153px,#6ae2a7 163px,#6be3a6 173px,#6fe8a4 183px,#76ef9e 193px,#72eca1 203px,#71eba2 213px,#80f193 223px,#88f38a 233px,#90f482 243px,#c9f852 253px,#e6f745 263px,#dff849 273px,#dff849 283px,#e1f747 293px,#d9f84b 303px,#bdf857 313px,#9cf576 323px,#90f482 333px,#8df385 336px)"></i><i style="width:1px;background:linear-gradient(#8ef384 3px,#9ef574 13px,#aef765 23px,#bbf858 33px,#cdf850 43px,#dcf84a 53px,#e0f748 63px,#e8f644 73px,#e0f748 83px,#c2f854 93px,#a6f66c 103px,#8ef384 113px,#7cf097 123px,#72eca1 133px,#74eea0 143px,#6ee7a4 153px,#64deac 163px,#6de6a4 173px,#74eea0 183px,#76ef9e 193px,#75ee9f 203px,#74eea0 213px,#77ef9d 223px,#7cf097 233px,#88f38a 243px,#bbf859 253px,#e2f747 263px,#eaf643 273px,#e5f746 283px,#e0f748 293px,#d5f84d 303px,#b8f75b 313px,#95f47d 323px,#90f482 333px,#8ff383 336px)"></i><i style="width:1px;background:linear-gradient(#90f482 3px,#b3f760 13px,#cbf851 23px,#d8f84c 33px,#e8f644 43px,#f2f53e 53px,#f0f540 63px,#f4f53d 73px,#edf542 83px,#e5f746 93px,#cef84f 103px,#a3f66f 113px,#92f480 123px,#89f389 133px,#82f290 143px,#75ee9f 153px,#6be3a6 163px,#75ee9f 173px,#7cf097 183px,#75ee9f 193px,#78ef9b 203px,#7cf097 213px,#7bf098 223px,#80f193 233px,#8df385 243px,#bdf857 253px,#e7f644 263px,#faf538 273px,#f0f540 283px,#e2f747 293px,#d1f84e 303px,#c0f855 313px,#b2f761 323px,#a9f669 333px,#a7f66b 336px)"></i><i style="width:1px;background:linear-gradient(#9df575 3px,#c0f855 13px,#dbf84a 23px,#e7f644 33px,#f8f53a 43px,#fff536 53px,#f6f53b 63px,#fbf538 73px,#f6f53b 83px,#e9f643 93px,#d5f84d 103px,#b3f760 113px,#a8f66a 123px,#a2f570 133px,#a2f570 143px,#8bf387 153px,#74eea0 163px,#82f290 173px,#85f28d 183px,#76ee9e 193px,#79ef9a 203px,#81f292 213px,#8ff383 223px,#96f47c 233px,#9ff573 243px,#d9f84b 253px,#f6f53c 263px,#fef536 273px,#f3f53e 283px,#e8f644 293px,#d7f84c 303px,#cff84f 313px,#d0f84f 323px,#c1f855 333px,#bdf857 336px)"></i><i style="width:1px;background:linear-gradient(#b0f762 3px,#c8f852 13px,#dcf84a 23px,#e7f645 33px,#f8f53a 43px,#fff436 53px,#faf539 63px,#fef536 73px,#f9f539 83px,#dcf84a 93px,#c0f855 103px,#b9f85a 113px,#a8f66a 123px,#9cf576 133px,#abf667 143px,#95f47d 153px,#7af099 163px,#87f38b 173px,#8cf386 183px,#80f193 193px,#84f28e 203px,#8ef384 213px,#a6f66c 223px,#aff764 233px,#b6f75e 243px,#e5f745 253px,#faf538 263px,#faf539 273px,#f3f53e 283px,#ecf642 293px,#def849 303px,#d8f84b 313px,#d8f84b 323px,#ccf850 333px,#c9f852 336px)"></i><i style="width:1px;background:linear-gradient(#adf665 3px,#b7f75c 13px,#c4f854 23px,#d7f84c 33px,#eef541 43px,#fcf538 53px,#fbf538 63px,#fdf537 73px,#f0f540 83px,#cff84f 93px,#b2f761 103px,#a4f66e 113px,#8af388 123px,#7ef195 133px,#8df385 143px,#86f28c 153px,#76ef9e 163px,#7af09a 173px,#7df196 183px,#7df096 193px,#84f28e 203px,#8df385 213px,#91f481 223px,#a5f66d 233px,#c1f855 243px,#def849 253px,#f1f53f 263px,#fbf538 273px,#f0f540 283px,#e4f746 293px,#d9f84b 303px,#caf851 313px,#bcf858 323px,#b4f75f 333px,#b2f761 336px)"></i><i style="width:1px;background:linear-gradient(#b9f85a 3px,#bef856 13px,#cff84f 23px,#e8f644 33px,#f7f53b 43px,#fff535 53px,#fff437 63px,#fff338 73px,#fbf538 83px,#e8f644 93px,#d0f84f 103px,#b3f760 113px,#98f47a 123px,#89f389 133px,#8ef384 143px,#85f28d 153px,#77ef9c 163px,#79ef9b 173px,#7df195 183px,#83f28f 193px,#8df385 203px,#95f47d 213px,#92f480 223px,#adf665 233px,#dbf84a 243px,#ecf642 253px,#fdf536 263px,#fff33a 273px,#fff535 283px,#f4f53d 293px,#ecf642 303px,#d9f84b 313px,#baf85a 323px,#bff856 333px,#c1f855 336px)"></i><i style="width:1px;background:linear-gradient(#d5f84d 3px,#d3f84e 13px,#def849 23px,#f2f53e 33px,#f6f53b 43px,#f9f539 53px,#fff437 63px,#fff23b 73px,#fff536 83px,#f3f53e 93px,#e2f747 103px,#c7f852 113px,#b5f75f 123px,#a4f66e 133px,#93f47f 143px,#85f28d 153px,#7af09a 163px,#7df196 173px,#84f28e 183px,#8ef384 193px,#9bf577 203px,#a6f66c 213px,#a7f66b 223px,#b7f75c 233px,#d5f84d 243px,#f2f53f 253px,#fff436 263px,#fff437 273px,#fff437 283px,#fff437 293px,#f6f53b 303px,#e6f745 313px,#d0f84f 323px,#dcf84a 333px,#dff849 336px)"></i><i style="width:1px;background:linear-gradient(#c2f854 3px,#b7f75c 13px,#b6f75d 23px,#c5f853 33px,#cbf851 43px,#d5f84d 53px,#eff540 63px,#f6f53b 73px,#e5f745 83px,#d5f84d 93px,#bcf858 103px,#9ef574 113px,#91f481 123px,#85f28d 133px,#74eea0 143px,#6ee7a4 153px,#6be3a6 163px,#6fe9a3 173px,#74eea0 183px,#76ef9e 193px,#81f291 203px,#8ef384 213px,#91f481 223px,#94f47e 233px,#9df575 243px,#c6f853 253px,#e2f747 263px,#e4f746 273px,#e8f644 283px,#e9f644 293px,#d5f84d 303px,#c3f854 313px,#b9f85b 323px,#b2f760 333px,#b1f762 336px)"></i><i style="width:1px;background:linear-gradient(#aff763 3px,#aaf668 13px,#a5f66d 23px,#a3f66f 33px,#b3f760 43px,#cbf851 53px,#eff540 63px,#f4f53d 73px,#daf84b 83px,#c1f855 93px,#a9f669 103px,#91f481 113px,#7ff193 123px,#72eca1 133px,#69e1a7 143px,#65deab 153px,#65deab 163px,#6ee7a4 173px,#71eba2 183px,#6de6a5 193px,#75ee9f 203px,#81f291 213px,#86f28c 223px,#8bf387 233px,#91f481 243px,#acf666 253px,#cdf850 263px,#e6f645 273px,#dff748 283px,#d2f84e 293px,#b7f75c 303px,#a9f669 313px,#a0f572 323px,#8cf386 333px,#87f38b 336px)"></i><i style="width:1px;background:linear-gradient(#b8f75b 3px,#b7f75d 13px,#b6f75d 23px,#b9f85a 33px,#cbf851 43px,#e1f747 53px,#fff535 63px,#fff436 73px,#e5f745 83px,#caf851 93px,#b4f75f 103px,#a9f669 113px,#8af388 123px,#76ef9d 133px,#71eaa2 143px,#70eaa2 153px,#72eca1 163px,#74ee9f 173px,#79ef9b 183px,#7af099 193px,#81f292 203px,#89f389 213px,#90f482 223px,#97f47b 233px,#a4f66e 243px,#c0f855 253px,#e1f747 263px,#f7f53b 273px,#ebf643 283px,#d9f84b 293px,#bff856 303px,#b1f762 313px,#a9f669 323px,#92f480 333px,#8df385 336px)"></i><i style="width:1px;background:linear-gradient(#b1f762 3px,#acf666 13px,#b4f75f 23px,#d1f84f 33px,#dbf84a 43px,#e5f745 53px,#fff436 63px,#fff438 73px,#ebf643 83px,#d5f84d 93px,#c0f855 103px,#b4f75f 113px,#97f47b 123px,#83f28f 133px,#7ef194 143px,#7df196 153px,#7df196 163px,#73eda1 173px,#75ee9e 183px,#87f38b 193px,#8bf387 203px,#8ef384 213px,#97f47b 223px,#9df575 233px,#a6f66c 243px,#cef850 253px,#ebf642 263px,#f7f53b 273px,#e8f644 283px,#d6f84d 293px,#c6f853 303px,#c1f855 313px,#c1f855 323px,#abf667 333px,#a5f66d 336px)"></i><i style="width:1px;background:linear-gradient(#a6f66c 3px,#a5f66d 13px,#b5f75e 23px,#def849 33px,#e7f644 43px,#f0f540 53px,#fff535 63px,#fff436 73px,#eef541 83px,#dff849 93px,#cbf851 103px,#b9f85a 113px,#99f479 123px,#81f291 133px,#7af09a 143px,#7bf098 153px,#80f192 163px,#73eda1 173px,#74eda0 183px,#82f290 193px,#88f38a 203px,#8df385 213px,#98f47a 223px,#a3f66f 233px,#b0f763 243px,#d0f84f 253px,#ebf642 263px,#faf539 273px,#ebf643 283px,#dcf84a 293px,#d6f84d 303px,#d0f84f 313px,#caf851 323px,#baf85a 333px,#b6f75e 336px)"></i><i style="width:1px;background:linear-gradient(#a8f66a 3px,#b0f763 13px,#c1f855 23px,#def849 33px,#e7f644 43px,#edf542 53px,#f4f53d 63px,#f7f53b 73px,#e7f645 83px,#d0f84f 93px,#b8f75c 103px,#a2f570 113px,#87f38b 123px,#76ee9e 133px,#72eba2 143px,#74eda0 153px,#7af099 163px,#75ee9f 173px,#75ee9e 183px,#79ef9b 193px,#7af099 203px,#7ef195 213px,#8af388 223px,#9bf577 233px,#b3f760 243px,#c3f854 253px,#e1f747 263px,#fbf538 273px,#ecf642 283px,#ddf84a 293px,#e0f748 303px,#d1f84e 313px,#b7f75c 323px,#a9f66a 333px,#a4f66e 336px)"></i><i style="width:1px;background:linear-gradient(#a1f571 3px,#b7f75c 13px,#c7f852 23px,#d1f84f 33px,#d5f84d 43px,#dcf84a 53px,#ecf642 63px,#f3f53e 73px,#e2f747 83px,#ccf851 93px,#b0f763 103px,#8ff383 113px,#7cf096 123px,#73eda0 133px,#7af099 143px,#76ee9e 153px,#6fe9a3 163px,#73eda1 173px,#77ef9d 183px,#76ef9e 193px,#72eba1 203px,#73eca1 213px,#8cf386 223px,#9ef574 233px,#abf667 243px,#bbf859 253px,#dbf84b 263px,#f5f53d 273px,#e5f745 283px,#d5f84d 293px,#d6f84c 303px,#c6f853 313px,#adf665 323px,#90f482 333px,#8af388 336px)"></i><i style="width:1px;background:linear-gradient(#a9f669 3px,#ccf851 13px,#def849 23px,#dff748 33px,#e4f746 43px,#edf541 53px,#fff437 63px,#fff438 73px,#f0f540 83px,#ebf643 93px,#d8f84c 103px,#a9f66a 113px,#8bf387 123px,#81f291 133px,#96f47c 143px,#8cf386 153px,#77ef9c 163px,#7ef194 173px,#85f28d 183px,#87f38b 193px,#7df096 203px,#7df196 213px,#aff764 223px,#c1f855 233px,#c2f854 243px,#d8f84b 253px,#edf642 263px,#fcf537 273px,#f4f53d 283px,#eaf643 293px,#dff748 303px,#cef850 313px,#b9f85b 323px,#a0f572 333px,#98f47a 336px)"></i><i style="width:1px;background:linear-gradient(#b6f75e 3px,#e1f747 13px,#f1f53f 23px,#f0f540 33px,#fbf538 43px,#fff339 53px,#ffef3f 63px,#ffef3f 73px,#fff437 83px,#fef536 93px,#edf542 103px,#c5f853 113px,#a7f66b 123px,#94f47e 133px,#a4f66e 143px,#a0f572 153px,#92f480 163px,#96f47c 173px,#9df575 183px,#9ff573 193px,#90f482 203px,#8df385 213px,#b9f85a 223px,#d1f84e 233px,#def849 243px,#ecf642 253px,#fdf536 263px,#fff23b 273px,#fff438 283px,#fff535 293px,#f4f53d 303px,#e4f746 313px,#caf851 323px,#bff856 333px,#bcf858 336px)"></i><i style="width:1px;background:linear-gradient(#8ff383 3px,#baf85a 13px,#d2f84e 23px,#d1f84e 33px,#e5f746 43px,#f5f53d 53px,#fff536 63px,#fff339 73px,#fbf538 83px,#e8f644 93px,#caf851 103px,#a5f66d 113px,#93f47f 123px,#89f389 133px,#7ef195 143px,#7af09a 153px,#78ef9b 163px,#7ef195 173px,#81f291 183px,#80f193 193px,#7cf096 203px,#7ef194 213px,#94f47e 223px,#aef765 233px,#c5f853 243px,#d5f84d 253px,#ebf643 263px,#fef536 273px,#f4f53d 283px,#e9f643 293px,#e3f746 303px,#d0f84f 313px,#b6f75d 323px,#aff764 333px,#adf665 336px)"></i><i style="width:1px;background:linear-gradient(#74eea0 3px,#85f28d 13px,#93f47f 23px,#9ef574 33px,#b2f761 43px,#c6f853 53px,#d7f84c 63px,#e4f746 73px,#dcf84a 83px,#b6f75d 93px,#95f47d 103px,#80f192 113px,#7cf097 123px,#75ee9f 133px,#6ae2a7 143px,#61dcaf 153px,#5ed7b2 163px,#63dead 173px,#69e1a7 183px,#6ae2a7 193px,#69e2a7 203px,#6be4a6 213px,#75ee9f 223px,#87f38b 233px,#a3f56f 243px,#b1f761 253px,#cbf851 263px,#e4f746 273px,#d1f84f 283px,#bcf858 293px,#b8f75c 303px,#abf668 313px,#99f479 323px,#8df385 333px,#8af388 336px)"></i><i style="width:1px;background:linear-gradient(#7af099 3px,#80f192 13px,#88f38a 23px,#93f47f 33px,#b5f75e 43px,#d2f84e 53px,#def849 63px,#e2f747 73px,#cdf850 83px,#aff763 93px,#97f47b 103px,#8af388 113px,#7cf097 123px,#71eba2 133px,#69e1a7 143px,#62ddae 153px,#5fd9b1 163px,#63dead 173px,#69e2a7 183px,#6ce4a5 193px,#69e2a7 203px,#69e1a7 213px,#71eba2 223px,#83f28f 233px,#a6f66c 243px,#c0f855 253px,#d8f84c 263px,#dff849 273px,#c9f852 283px,#b9f85a 293px,#bbf858 303px,#b4f75f 313px,#a6f66c 323px,#91f481 333px,#8df385 336px)"></i><i style="width:1px;background:linear-gradient(#82f290 3px,#84f28e 13px,#89f389 23px,#92f480 33px,#c4f854 43px,#eaf643 53px,#f2f53e 63px,#f3f53e 73px,#def849 83px,#c0f855 93px,#a9f669 103px,#99f479 113px,#80f192 123px,#71eba2 133px,#6fe8a3 143px,#6ee7a4 153px,#6ee7a4 163px,#6fe9a3 173px,#70eaa2 183px,#70e9a3 193px,#70eaa3 203px,#72eba1 213px,#78ef9b 223px,#8cf386 233px,#b0f763 243px,#dbf84b 253px,#eaf643 263px,#e1f748 273px,#d5f84d 283px,#d0f84f 293px,#d4f84d 303px,#c7f852 313px,#b2f761 323px,#a2f570 333px,#9df575 336px)"></i><i style="width:1px;background:linear-gradient(#89f389 3px,#93f47f 13px,#9ef574 23px,#a8f66a 33px,#d1f84e 43px,#f0f540 53px,#fff535 63px,#fef536 73px,#e2f747 83px,#d2f84e 93px,#b9f85b 103px,#98f47a 113px,#81f291 123px,#76ef9e 133px,#7bf098 143px,#78ef9c 153px,#72eca1 163px,#73eda0 173px,#75ee9f 183px,#73eda0 193px,#77ef9c 203px,#7df196 213px,#84f28e 223px,#96f47c 233px,#b6f75d 243px,#dff848 253px,#eff540 263px,#e9f643 273px,#e5f746 283px,#e4f746 293px,#e4f746 303px,#cdf850 313px,#a7f66b 323px,#a2f570 333px,#a1f571 336px)"></i><i style="width:1px;background:linear-gradient(#a0f572 3px,#aef764 13px,#bdf857 23px,#cef84f 33px,#e8f644 43px,#faf539 53px,#fff339 63px,#fff437 73px,#e5f746 83px,#e0f748 93px,#d2f84e 103px,#b3f760 113px,#8ff383 123px,#7df196 133px,#84f28e 143px,#7cf097 153px,#70e9a3 163px,#78ef9c 173px,#7ef195 183px,#7af099 193px,#7df195 203px,#83f28f 213px,#8df385 223px,#a2f570 233px,#bef856 243px,#d9f84b 253px,#edf541 263px,#f8f53a 273px,#f1f53f 283px,#eaf643 293px,#e4f746 303px,#d2f84e 313px,#b8f75c 323px,#b5f75e 333px,#b5f75e 336px)"></i><i style="width:1px;background:linear-gradient(#baf85a 3px,#b4f75f 13px,#bef856 23px,#def849 33px,#f6f53c 43px,#fff338 53px,#fff23c 63px,#fff23d 73px,#fff535 83px,#eff540 93px,#e2f747 103px,#d9f84b 113px,#a9f669 123px,#83f28f 133px,#84f28e 143px,#7ef195 153px,#76ef9e 163px,#81f291 173px,#88f38a 183px,#82f291 193px,#8af388 203px,#95f47d 213px,#9ff573 223px,#b3f760 233px,#cef850 243px,#dff848 253px,#f2f53f 263px,#fff436 273px,#f2f53e 283px,#e1f747 293px,#daf84b 303px,#dcf84a 313px,#e2f747 323px,#d9f84b 333px,#d6f84c 336px)"></i><i style="width:1px;background:linear-gradient(#b7f75d 3px,#aaf669 13px,#b0f762 23px,#d3f84d 33px,#f0f540 43px,#fff437 53px,#fff23b 63px,#fff13e 73px,#fff438 83px,#f2f53f 93px,#e1f747 103px,#d2f84e 113px,#abf668 123px,#88f38a 133px,#7ef195 143px,#7df195 153px,#81f291 163px,#7ef195 173px,#7cf096 183px,#79ef9a 193px,#8bf387 203px,#a5f66d 213px,#b0f763 223px,#bff856 233px,#d2f84e 243px,#e2f747 253px,#f3f53e 263px,#fff536 273px,#f1f53f 283px,#dff848 293px,#d4f84d 303px,#d0f84f 313px,#d2f84e 323px,#cdf850 333px,#ccf850 336px)"></i><i style="width:1px;background:linear-gradient(#aff763 3px,#a8f66a 13px,#acf666 23px,#bff856 33px,#e0f748 43px,#f5f53c 53px,#fff437 63px,#fff339 73px,#f6f53c 83px,#e8f644 93px,#d5f84d 103px,#b6f75d 113px,#98f47a 123px,#82f290 133px,#76ee9e 143px,#77ef9c 153px,#7ff193 163px,#74eea0 173px,#70e9a3 183px,#6de6a4 193px,#7cf097 203px,#94f47e 213px,#a3f66f 223px,#b9f85b 233px,#d4f84d 243px,#d8f84b 253px,#e7f644 263px,#faf539 273px,#f1f53f 283px,#e7f645 293px,#dcf84a 303px,#bff856 313px,#9ff573 323px,#a7f66b 333px,#a9f669 336px)"></i><i style="width:1px;background:linear-gradient(#acf666 3px,#b1f761 13px,#b7f75c 23px,#bff856 33px,#dcf84a 43px,#edf542 53px,#f5f53c 63px,#fdf537 73px,#f3f53e 83px,#dff848 93px,#bff856 103px,#98f47a 113px,#86f28c 123px,#7af099 133px,#71eba2 143px,#72eca1 153px,#79ef9b 163px,#72eca1 173px,#6ee7a4 183px,#6ae2a7 193px,#74eea0 203px,#86f28c 213px,#8ff383 223px,#adf665 233px,#d5f84d 243px,#d6f84d 253px,#e3f746 263px,#f3f53e 273px,#e8f644 283px,#ddf849 293px,#dcf84a 303px,#bff856 313px,#98f47a 323px,#9ef574 333px,#a0f572 336px)"></i><i style="width:1px;background:linear-gradient(#a2f570 3px,#bcf858 13px,#cbf851 23px,#cdf850 33px,#dff849 43px,#e9f643 53px,#e9f644 63px,#f4f53d 73px,#f2f53f 83px,#dbf84a 93px,#b8f75b 103px,#93f47f 113px,#82f290 123px,#76ef9e 133px,#6fe8a4 143px,#6ee7a4 153px,#71eaa2 163px,#73eda1 173px,#73eda0 183px,#6fe8a4 193px,#75ee9f 203px,#80f192 213px,#88f38a 223px,#a1f571 233px,#c3f854 243px,#d6f84c 253px,#eaf643 263px,#f9f539 273px,#e6f745 283px,#d1f84f 293px,#d1f84e 303px,#c3f854 313px,#b1f762 323px,#abf667 333px,#aaf668 336px)"></i><i style="width:1px;background:linear-gradient(#a4f66e 3px,#cef850 13px,#dff849 23px,#d5f84d 33px,#e5f746 43px,#f1f540 53px,#f2f53f 63px,#f6f53b 73px,#ecf642 83px,#e0f748 93px,#caf851 103px,#aaf668 113px,#8ef384 123px,#7cf097 133px,#75ee9f 143px,#72eca1 153px,#72eba2 163px,#77ef9c 173px,#7cf097 183px,#7bf098 193px,#80f292 203px,#87f38b 213px,#88f38a 223px,#a2f570 233px,#cdf850 243px,#e0f748 253px,#f4f53d 263px,#fff438 273px,#f5f53c 283px,#e2f747 293px,#d5f84d 303px,#d1f84e 313px,#d4f84d 323px,#b8f75c 333px,#aff763 336px)"></i><i style="width:1px;background:linear-gradient(#a7f66b 3px,#c6f853 13px,#d9f84b 23px,#ddf849 33px,#edf542 43px,#fbf538 53px,#fff438 63px,#fff536 73px,#e5f746 83px,#e1f747 93px,#cff84f 103px,#a6f66c 113px,#92f480 123px,#88f38a 133px,#82f290 143px,#7cf097 153px,#76ee9e 163px,#77ef9d 173px,#79ef9a 183px,#7af099 193px,#84f28e 203px,#8ef384 213px,#8cf386 223px,#abf667 233px,#dbf84a 243px,#e7f645 253px,#f7f53b 263px,#fff338 273px,#fef536 283px,#f1f53f 293px,#dbf84a 303px,#d4f84d 313px,#daf84b 323px,#bbf859 333px,#b2f761 336px)"></i><i style="width:1px;background:linear-gradient(#a0f572 3px,#9ef574 13px,#aff763 23px,#d9f84b 33px,#ebf642 43px,#f8f53a 53px,#fff437 63px,#fff536 73px,#e2f747 83px,#d7f84c 93px,#bcf858 103px,#93f47f 113px,#89f389 123px,#82f290 133px,#7cf097 143px,#72eca1 153px,#6ae3a6 163px,#6ee7a4 173px,#70eaa2 183px,#6ee7a4 193px,#76ef9e 203px,#82f290 213px,#8df385 223px,#a2f570 233px,#bcf858 243px,#d2f84e 253px,#e9f644 263px,#f9f539 273px,#f5f53c 283px,#ecf642 293px,#d1f84f 303px,#bff855 313px,#b8f75b 323px,#a8f66a 333px,#a3f56f 336px)"></i><i style="width:1px;background:linear-gradient(#9ff573 3px,#91f481 13px,#9cf576 23px,#c8f852 33px,#e3f747 43px,#f2f53f 53px,#fdf536 63px,#fdf536 73px,#e6f745 83px,#c9f852 93px,#acf666 103px,#92f480 113px,#85f28d 123px,#7bf097 133px,#76ef9e 143px,#6ee7a4 153px,#66dfaa 163px,#69e1a7 173px,#6ce4a5 183px,#6ce5a5 193px,#72eca1 203px,#7df096 213px,#8bf387 223px,#9ff573 233px,#b7f75c 243px,#c9f852 253px,#dff849 263px,#ecf642 273px,#edf541 283px,#e9f644 293px,#c7f852 303px,#b5f75e 313px,#aff763 323px,#9cf576 333px,#97f47b 336px)"></i><i style="width:1px;background:linear-gradient(#a4f66e 3px,#adf666 13px,#baf85a 23px,#d0f84f 33px,#e3f747 43px,#f1f53f 53px,#fff437 63px,#fff437 73px,#ebf642 83px,#cdf850 93px,#b0f762 103px,#9bf577 113px,#8bf387 123px,#81f292 133px,#7ef195 143px,#78ef9b 153px,#72eca1 163px,#6de5a5 173px,#6de6a5 183px,#72eca1 193px,#76ef9d 203px,#7df195 213px,#91f481 223px,#aff764 233px,#cef850 243px,#ddf849 253px,#e9f644 263px,#edf541 273px,#f0f540 283px,#eef541 293px,#cff84f 303px,#bdf857 313px,#b7f75d 323px,#a7f66b 333px,#a2f570 336px)"></i><i style="width:1px;background:linear-gradient(#93f47f 3px,#a9f669 13px,#baf85a 23px,#c9f851 33px,#def849 43px,#eef541 53px,#fff535 63px,#fff535 73px,#e7f644 83px,#d8f84c 93px,#bdf857 103px,#9af578 113px,#88f38a 123px,#7ef194 133px,#7ff193 143px,#7df195 153px,#7af099 163px,#6fe8a3 173px,#6ee7a4 183px,#74eda0 193px,#75ee9f 203px,#79ef9a 213px,#8bf387 223px,#a5f66d 233px,#c1f855 243px,#dff849 253px,#eff541 263px,#f2f53f 273px,#ebf643 283px,#e2f747 293px,#c6f853 303px,#b4f75f 313px,#aaf669 323px,#a1f571 333px,#9ff573 336px)"></i><i style="width:1px;background:linear-gradient(#81f292 3px,#8af388 13px,#97f47b 23px,#acf666 33px,#cdf850 43px,#e6f645 53px,#f2f53f 63px,#eff540 73px,#cef850 83px,#c8f852 93px,#b7f75c 103px,#96f47c 113px,#80f292 123px,#74eea0 133px,#73eda1 143px,#73eca1 153px,#72eca1 163px,#6ee6a4 173px,#6ce5a5 183px,#6de6a4 193px,#6fe8a3 203px,#72eca1 213px,#7ef194 223px,#8ef384 233px,#a4f66e 243px,#d0f84f 253px,#e6f645 263px,#e2f747 273px,#dbf84b 283px,#d1f84f 293px,#bbf859 303px,#a6f66c 313px,#91f481 323px,#99f479 333px,#9bf577 336px)"></i><i style="width:1px;background:linear-gradient(#7cf096 3px,#81f291 13px,#8cf386 23px,#a0f572 33px,#c6f853 43px,#e3f747 53px,#ebf643 63px,#e3f746 73px,#b5f75e 83px,#b0f762 93px,#a6f66c 103px,#91f481 113px,#7df096 123px,#6fe8a3 133px,#65dfab 143px,#65deab 153px,#69e1a7 163px,#68e0a8 173px,#67dfa9 183px,#63dead 193px,#63ddad 203px,#68e0a8 213px,#7cf096 223px,#8bf387 233px,#93f47f 243px,#c1f855 253px,#daf84b 263px,#cef850 273px,#d0f84f 283px,#d3f84e 293px,#bef856 303px,#a0f572 313px,#82f290 323px,#95f47d 333px,#9cf576 336px)"></i><i style="width:1px;background:linear-gradient(#82f290 3px,#87f38b 13px,#8ef384 23px,#9af578 33px,#c3f854 43px,#e2f747 53px,#e5f746 63px,#e1f747 73px,#bff856 83px,#b2f761 93px,#a1f571 103px,#8cf386 113px,#7af099 123px,#6de6a4 133px,#61dcaf 143px,#60dcb0 153px,#65dfab 163px,#63ddad 173px,#61ddaf 183px,#5fdab1 193px,#5ed8b2 203px,#60dcb0 213px,#7cf097 223px,#8df385 233px,#91f481 243px,#b3f760 253px,#cbf851 263px,#ccf851 273px,#cff84f 283px,#cef850 293px,#b0f763 303px,#94f47e 313px,#81f291 323px,#88f38a 333px,#8af388 336px)"></i><i style="width:1px;background:linear-gradient(#83f28f 3px,#83f28f 13px,#84f28e 23px,#89f389 33px,#b1f762 43px,#d2f84e 53px,#cff84f 63px,#d2f84e 73px,#bdf857 83px,#a8f66a 93px,#93f47f 103px,#83f28f 113px,#73eda1 123px,#6ae2a7 133px,#63dead 143px,#60dcb0 153px,#5fdbb1 163px,#5fdab1 173px,#5fdab1 183px,#5fdbb1 193px,#5fdbb1 203px,#62ddae 213px,#70eaa2 223px,#7df196 233px,#8bf387 243px,#9df575 253px,#b2f761 263px,#bdf857 273px,#b4f75f 283px,#abf667 293px,#9bf577 303px,#8cf386 313px,#80f193 323px,#74eea0 333px,#72eba2 336px)"></i><i style="width:1px;background:linear-gradient(#7df096 3px,#81f292 13px,#85f28d 23px,#8bf387 33px,#b4f75f 43px,#d5f84d 53px,#cdf850 63px,#cff84f 73px,#baf85a 83px,#a2f570 93px,#91f481 103px,#89f389 113px,#73eca1 123px,#67dfa9 133px,#68e0a8 143px,#62ddae 153px,#5ed7b2 163px,#60dcb0 173px,#64deac 183px,#65deab 193px,#65deab 203px,#67e0a9 213px,#6de6a5 223px,#7af099 233px,#92f480 243px,#9ef574 253px,#b0f762 263px,#bef856 273px,#a7f66b 283px,#97f47b 293px,#a6f66c 303px,#96f47c 313px,#7ef194 323px,#71eba2 333px,#6fe8a4 336px)"></i><i style="width:1px;background:linear-gradient(#8bf387 3px,#a0f572 13px,#aff763 23px,#b7f75c 33px,#e0f748 43px,#f5f53d 53px,#f0f540 63px,#eff540 73px,#def849 83px,#cef850 93px,#bcf858 103px,#a8f66a 113px,#81f291 123px,#70e9a3 133px,#76ef9d 143px,#72eca1 153px,#6ae3a6 163px,#70eaa2 173px,#73eda0 183px,#71eaa2 193px,#70e9a3 203px,#71eba2 213px,#7af09a 223px,#90f482 233px,#b5f75e 243px,#c0f855 253px,#d3f84e 263px,#e2f747 273px,#cff84f 283px,#bef856 293px,#bef856 303px,#b0f763 313px,#9af578 323px,#8ef384 333px,#8bf387 336px)"></i><i style="width:1px;background:linear-gradient(#9bf577 3px,#b3f760 13px,#c3f854 23px,#cbf851 33px,#e4f746 43px,#f5f53d 53px,#faf539 63px,#fcf537 73px,#ecf642 83px,#e3f747 93px,#caf851 103px,#9cf576 113px,#80f192 123px,#74eea0 133px,#80f192 143px,#7cf097 153px,#71eba2 163px,#72eca1 173px,#72eca1 183px,#6fe8a3 193px,#72eca1 203px,#76ef9d 213px,#79ef9a 223px,#91f481 233px,#c0f855 243px,#c5f853 253px,#dbf84a 263px,#f0f540 273px,#e6f745 283px,#d5f84d 293px,#baf85a 303px,#b3f760 313px,#b6f75e 323px,#a0f572 333px,#99f579 336px)"></i><i style="width:1px;background:linear-gradient(#98f47a 3px,#acf667 13px,#baf85a 23px,#c7f853 33px,#d1f84e 43px,#def849 53px,#f2f53f 63px,#fcf537 73px,#f2f53e 83px,#e3f746 93px,#bff856 103px,#84f28e 113px,#7af09a 123px,#77ef9c 133px,#7ef194 143px,#77ef9c 153px,#6de6a5 163px,#69e1a7 173px,#69e1a7 183px,#6ce5a5 193px,#6ee7a4 203px,#70eaa2 213px,#75ee9f 223px,#8df385 233px,#b9f85a 243px,#bbf859 253px,#d3f84d 263px,#f3f53e 273px,#e7f645 283px,#d6f84d 293px,#c3f854 303px,#b9f85b 313px,#b2f761 323px,#94f47e 333px,#8df385 336px)"></i><i style="width:1px;background:linear-gradient(#9ff573 3px,#b9f85b 13px,#cbf851 23px,#d6f84c 33px,#dbf84b 43px,#e0f748 53px,#f0f540 63px,#fdf536 73px,#f9f53a 83px,#e3f747 93px,#bff855 103px,#93f47f 113px,#84f28e 123px,#7df196 133px,#7cf097 143px,#77ef9c 153px,#72eca1 163px,#6be4a6 173px,#6be4a6 183px,#71eba2 193px,#70e9a3 203px,#70e9a3 213px,#7ef195 223px,#94f47e 233px,#b2f761 243px,#c1f855 253px,#ddf849 263px,#f3f53e 273px,#f1f53f 283px,#ebf642 293px,#daf84b 303px,#c4f853 313px,#b2f761 323px,#9df575 333px,#97f47b 336px)"></i><i style="width:1px;background:linear-gradient(#93f47f 3px,#b5f75e 13px,#d0f84f 23px,#e2f747 33px,#e6f745 43px,#e9f644 53px,#eff540 63px,#f9f539 73px,#f4f53d 83px,#d6f84d 93px,#b7f75c 103px,#a5f66d 113px,#8af388 123px,#7af099 133px,#75ee9e 143px,#76ef9e 153px,#79ef9b 163px,#70e9a3 173px,#6de6a5 183px,#6ee6a4 193px,#6ce5a5 203px,#6ee7a4 213px,#7df195 223px,#93f47f 233px,#b1f762 243px,#cdf850 253px,#e3f746 263px,#ebf642 273px,#f1f53f 283px,#f1f53f 293px,#d0f84f 303px,#b4f75f 313px,#a2f570 323px,#9af578 333px,#98f47a 336px)"></i><i style="width:1px;background:linear-gradient(#7df196 3px,#89f389 13px,#a2f570 23px,#cbf851 33px,#d5f84d 43px,#dbf84a 53px,#ebf643 63px,#f3f53e 73px,#e4f746 83px,#c0f855 93px,#a0f572 103px,#87f38b 113px,#77ef9d 123px,#6ee7a4 133px,#6be4a6 143px,#6ae3a6 153px,#6ae2a7 163px,#65dfab 173px,#62ddae 183px,#60dcb0 193px,#61dcaf 203px,#66dfaa 213px,#72eba1 223px,#87f38b 233px,#a9f669 243px,#bcf858 253px,#cef850 263px,#d3f84e 273px,#d4f84d 283px,#d0f84f 293px,#aef764 303px,#97f47b 313px,#8af388 323px,#82f290 333px,#80f192 336px)"></i><i style="width:1px;background:linear-gradient(#7af099 3px,#78ef9b 13px,#82f290 23px,#a8f66a 33px,#b5f75e 43px,#c3f854 53px,#e2f747 63px,#e5f745 73px,#c3f854 83px,#acf667 93px,#8df385 103px,#72eca1 113px,#68e0a8 123px,#60dbb0 133px,#5ed8b2 143px,#5dd7b3 153px,#5ed8b2 163px,#5cd4b4 173px,#5cd4b4 183px,#5dd6b3 193px,#5fd9b1 203px,#63ddad 213px,#6ee7a4 223px,#7bf099 233px,#8cf386 243px,#a0f572 253px,#b4f75f 263px,#bef856 273px,#b8f75b 283px,#aef765 293px,#90f482 303px,#89f389 313px,#89f389 323px,#7bf098 333px,#77ef9c 336px)"></i><i style="width:1px;background:linear-gradient(#84f28e 3px,#90f482 13px,#9ff573 23px,#aff763 33px,#c4f854 43px,#d9f84b 53px,#ebf643 63px,#e7f644 73px,#bdf857 83px,#bcf858 93px,#abf668 103px,#84f28e 113px,#6ee7a4 123px,#60dcb0 133px,#60dcb0 143px,#62ddae 153px,#65deab 163px,#5fdab1 173px,#5fdab1 183px,#63dead 193px,#68e0a8 203px,#6ce5a5 213px,#77ef9d 223px,#81f291 233px,#8df385 243px,#b1f761 253px,#cef850 263px,#d5f84d 273px,#d3f84e 283px,#cbf851 293px,#acf666 303px,#99f579 313px,#90f482 323px,#88f38a 333px,#85f28d 336px)"></i><i style="width:1px;background:linear-gradient(#89f389 3px,#b3f760 13px,#c7f852 23px,#c2f855 33px,#e3f747 43px,#f8f53a 53px,#fdf537 63px,#faf539 73px,#e1f747 83px,#e2f747 93px,#d7f84c 103px,#b3f760 113px,#85f28d 123px,#70e9a3 133px,#72eca1 143px,#73eda1 153px,#73eda0 163px,#6ee8a4 173px,#6fe8a3 183px,#75ee9f 193px,#77ef9d 203px,#7bf098 213px,#8df385 223px,#9ef574 233px,#aef765 243px,#d4f84d 253px,#e8f644 263px,#e8f644 273px,#e6f645 283px,#e5f745 293px,#dff849 303px,#c3f854 313px,#9ff573 323px,#a2f570 333px,#a2f570 336px)"></i><i style="width:1px;background:linear-gradient(#93f47f 3px,#c1f855 13px,#d8f84c 23px,#d2f84e 33px,#edf541 43px,#fff536 53px,#fff437 63px,#fff438 73px,#f6f53c 83px,#f0f540 93px,#e2f747 103px,#c0f855 113px,#9df575 123px,#86f28c 133px,#84f28e 143px,#81f291 153px,#7ef194 163px,#7df196 173px,#80f192 183px,#85f28d 193px,#82f290 203px,#85f28d 213px,#9ff573 223px,#b6f75d 233px,#caf851 243px,#e6f745 253px,#f6f53b 263px,#fbf538 273px,#ecf642 283px,#e1f747 293px,#e6f645 303px,#d7f84c 313px,#b6f75d 323px,#bbf859 333px,#bcf858 336px)"></i><i style="width:1px;background:linear-gradient(#a3f66f 3px,#c7f853 13px,#ddf849 23px,#e2f747 33px,#eff540 43px,#f9f53a 53px,#fef536 63px,#fff437 73px,#fbf538 83px,#f6f53b 93px,#e6f645 103px,#b9f85b 113px,#a5f66d 123px,#96f47c 133px,#8ef384 143px,#83f28f 153px,#7bf098 163px,#7ff193 173px,#82f290 183px,#7ff193 193px,#7df196 203px,#81f291 213px,#9ef574 223px,#bbf859 233px,#d6f84d 243px,#eff541 253px,#fff536 263px,#fff33a 273px,#f9f53a 283px,#e8f644 293px,#ddf849 303px,#cef84f 313px,#bff856 323px,#b9f85b 333px,#b7f75d 336px)"></i><i style="width:1px;background:linear-gradient(#91f481 3px,#aff764 13px,#c5f853 23px,#d5f84d 33px,#e2f747 43px,#ebf643 53px,#f6f53b 63px,#fef536 73px,#f3f53d 83px,#f0f540 93px,#daf84b 103px,#9af578 113px,#92f480 123px,#90f482 133px,#82f290 143px,#74eea0 153px,#6ae3a6 163px,#71eaa2 173px,#73eda1 183px,#6de6a5 193px,#71eaa2 203px,#7af099 213px,#8ff383 223px,#abf667 233px,#c4f854 243px,#ddf84a 253px,#eef541 263px,#f6f53b 273px,#f0f540 283px,#e6f745 293px,#c9f852 303px,#baf859 313px,#b7f75d 323px,#a5f66d 333px,#9ff573 336px)"></i><i style="width:1px;background:linear-gradient(#78ef9c 3px,#85f28d 13px,#90f482 23px,#9bf577 33px,#adf666 43px,#c0f855 53px,#e1f747 63px,#e8f644 73px,#d0f84f 83px,#b9f85a 93px,#9ef574 103px,#7ff194 113px,#79ef9b 123px,#73eda0 133px,#6be4a6 143px,#61ddaf 153px,#5dd6b3 163px,#64deac 173px,#67e0a9 183px,#5fd9b1 193px,#65deab 203px,#6ee7a4 213px,#7cf097 223px,#8af388 233px,#98f47a 243px,#a4f66e 253px,#b8f75b 263px,#cef850 273px,#bef856 283px,#aff764 293px,#a4f66e 303px,#9af578 313px,#93f47f 323px,#87f38b 333px,#83f28f 336px)"></i><i style="width:1px;background:linear-gradient(#7cf096 3px,#7ff194 13px,#83f28f 23px,#8ef384 33px,#9bf577 43px,#aef765 53px,#cef84f 63px,#d5f84d 73px,#b3f760 83px,#9bf577 93px,#8df385 103px,#86f28c 113px,#74eea0 123px,#69e1a7 133px,#60dcb0 143px,#5fdab1 153px,#60dbb0 163px,#62ddae 173px,#63ddad 183px,#5fdab1 193px,#61ddaf 203px,#69e1a7 213px,#78ef9c 223px,#85f28d 233px,#8ef384 243px,#91f481 253px,#a3f56f 263px,#b9f85b 273px,#a5f66d 283px,#93f47f 293px,#93f47f 303px,#8cf386 313px,#81f292 323px,#79ef9b 333px,#76ef9e 336px)"></i><i style="width:1px;background:linear-gradient(#95f47d 3px,#99f579 13px,#a3f66f 23px,#b7f75d 33px,#c5f853 43px,#d3f84e 53px,#e3f747 63px,#e6f645 73px,#cff84f 83px,#b9f85a 93px,#a8f66a 103px,#95f47d 113px,#7ff194 123px,#70eaa3 133px,#6ae2a7 143px,#6ce5a5 153px,#72eca1 163px,#6be4a6 173px,#6ae2a7 183px,#6ce4a6 193px,#6ae3a6 203px,#6de6a5 213px,#85f28d 223px,#9bf577 233px,#aaf669 243px,#b1f762 253px,#bef856 263px,#c9f851 273px,#bdf857 283px,#b3f760 293px,#acf666 303px,#9ff573 313px,#90f482 323px,#82f290 333px,#7ff194 336px)"></i><i style="width:1px;background:linear-gradient(#a2f570 3px,#adf665 13px,#b5f75e 23px,#bdf857 33px,#d5f84d 43px,#e7f645 53px,#f3f53e 63px,#f8f53a 73px,#e7f644 83px,#d2f84e 93px,#b7f75d 103px,#97f47b 113px,#83f28f 123px,#77ef9c 133px,#73eda1 143px,#74eea0 153px,#79ef9b 163px,#73eca1 173px,#71eba2 183px,#72eba1 193px,#6fe8a3 203px,#71eaa2 213px,#8af388 223px,#a5f66d 233px,#b9f85a 243px,#cdf850 253px,#dff748 263px,#e6f645 273px,#d9f84b 283px,#c9f852 293px,#baf859 303px,#aef764 313px,#a2f570 323px,#93f47f 333px,#8ff383 336px)"></i><i style="width:1px;background:linear-gradient(#adf666 3px,#b4f75f 13px,#b9f85b 23px,#bcf857 33px,#ddf84a 43px,#f1f540 53px,#f8f53a 63px,#fbf538 73px,#edf541 83px,#e1f747 93px,#c9f852 103px,#9ff573 113px,#81f291 123px,#73eda1 133px,#74eea0 143px,#73eda0 153px,#73eca1 163px,#72eca1 173px,#73eca1 183px,#71eba2 193px,#6fe8a3 203px,#71eaa2 213px,#88f38a 223px,#a3f56f 233px,#b9f85a 243px,#d5f84d 253px,#e8f644 263px,#f1f53f 273px,#e7f645 283px,#d6f84c 293px,#b6f75d 303px,#a8f66a 313px,#a1f571 323px,#9af578 333px,#97f47b 336px)"></i><i style="width:1px;background:linear-gradient(#a4f66e 3px,#b3f760 13px,#bbf859 23px,#bbf859 33px,#e2f747 43px,#f7f53b 53px,#f2f53f 63px,#f4f53d 73px,#e9f644 83px,#e2f747 93px,#caf851 103px,#9af578 113px,#75ee9f 123px,#68e0a8 133px,#6de6a4 143px,#6ee7a4 153px,#6ce5a5 163px,#69e1a7 173px,#6ae2a7 183px,#6ee6a4 193px,#6ce4a6 203px,#6de6a4 213px,#82f290 223px,#9ef574 233px,#b8f75c 243px,#cef84f 253px,#e2f747 263px,#ebf642 273px,#e3f746 283px,#d4f84d 293px,#aff764 303px,#9ef574 313px,#99f479 323px,#90f482 333px,#8ef384 336px)"></i><i style="width:1px;background:linear-gradient(#7ef194 3px,#94f47e 13px,#a0f572 23px,#99f579 33px,#c9f852 43px,#e9f643 53px,#def849 63px,#e1f748 73px,#d6f84c 83px,#d0f84f 93px,#b2f761 103px,#7df096 113px,#69e1a7 123px,#5ed8b2 133px,#5fdbb1 143px,#62ddae 153px,#65deab 163px,#5fdab1 173px,#5fdab1 183px,#63ddad 193px,#63ddad 203px,#67dfa9 213px,#75ee9e 223px,#8ef384 233px,#aff764 243px,#b6f75d 253px,#c6f853 263px,#d8f84b 273px,#c6f853 283px,#b5f75f 293px,#a7f66b 303px,#99f579 313px,#8ef384 323px,#7ff193 333px,#7bf098 336px)"></i><i style="width:1px;background:linear-gradient(#73eda0 3px,#83f28f 13px,#8bf387 23px,#86f28c 33px,#b0f763 43px,#d6f84c 53px,#d4f84d 63px,#daf84b 73px,#c9f852 83px,#c1f855 93px,#a1f571 103px,#70eaa2 113px,#69e1a8 123px,#61ddaf 133px,#5bd2b5 143px,#5cd5b4 153px,#62ddae 163px,#5dd7b3 173px,#5dd6b3 183px,#5ed9b2 193px,#5ed8b2 203px,#5fdbb1 213px,#6ee7a4 223px,#83f28f 233px,#a9f669 243px,#aef765 253px,#baf85a 263px,#c6f853 273px,#b5f75e 283px,#a8f66a 293px,#a9f669 303px,#95f47d 313px,#7ff194 323px,#73eda1 333px,#70eaa2 336px)"></i><i style="width:1px;background:linear-gradient(#87f38b 3px,#8cf386 13px,#8bf387 23px,#86f28c 33px,#a6f66c 43px,#cbf851 53px,#e2f747 63px,#e7f645 73px,#d0f84f 83px,#bcf858 93px,#a0f572 103px,#7cf097 113px,#72eca1 123px,#6ce5a5 133px,#62ddae 143px,#60dbb0 153px,#61ddaf 163px,#5fdab1 173px,#60dcb0 183px,#63dead 193px,#63dead 203px,#65deab 213px,#6de6a4 223px,#81f291 233px,#acf666 243px,#c3f854 253px,#d4f84d 263px,#d1f84e 273px,#c3f854 283px,#b8f75c 293px,#adf666 303px,#95f47d 313px,#7ff193 323px,#77ef9c 333px,#74ee9f 336px)"></i><i style="width:1px;background:linear-gradient(#a1f571 3px,#94f47e 13px,#8cf386 23px,#86f28c 33px,#a8f66a 43px,#cff84f 53px,#e9f644 63px,#edf541 73px,#d4f84d 83px,#b4f75f 93px,#a0f572 103px,#94f47e 113px,#7cf097 123px,#6fe8a4 133px,#70e9a3 143px,#6be4a6 153px,#63dead 163px,#65deab 173px,#67e0a9 183px,#67e0a9 193px,#6be3a6 203px,#6ee7a4 213px,#71eaa2 223px,#82f290 233px,#aaf668 243px,#c5f853 253px,#d9f84b 263px,#daf84b 273px,#cbf851 283px,#bbf858 293px,#a5f66d 303px,#9df575 313px,#9cf576 323px,#86f28c 333px,#80f193 336px)"></i><i style="width:1px;background:linear-gradient(#b5f75e 3px,#b2f760 13px,#a8f66a 23px,#94f47e 33px,#baf85a 43px,#e0f748 53px,#eef541 63px,#f3f53e 73px,#e0f748 83px,#c0f855 93px,#aef765 103px,#a9f669 113px,#85f28d 123px,#71eba2 133px,#71eaa2 143px,#6fe9a3 153px,#6ee6a4 163px,#6ae3a6 173px,#6ae2a7 183px,#6ae2a7 193px,#6ce5a5 203px,#6fe8a3 213px,#74eea0 223px,#8cf386 233px,#b7f75d 243px,#c4f854 253px,#d2f84e 263px,#d8f84b 273px,#caf851 283px,#bcf858 293px,#aff763 303px,#b2f760 313px,#bcf858 323px,#91f481 333px,#86f28c 336px)"></i><i style="width:1px;background:linear-gradient(#b5f75f 3px,#c4f854 13px,#c2f854 23px,#aff763 33px,#c7f853 43px,#e0f748 53px,#ecf642 63px,#f1f53f 73px,#e0f748 83px,#cbf851 93px,#b4f75f 103px,#98f47a 113px,#84f28e 123px,#77ef9d 133px,#71eaa2 143px,#70eaa2 153px,#72eca1 163px,#6ce5a5 173px,#6be4a6 183px,#6de6a4 193px,#6de6a5 203px,#6ee7a4 213px,#79ef9b 223px,#96f47c 233px,#c3f854 243px,#cef850 253px,#d6f84c 263px,#d2f84e 273px,#c6f853 283px,#c0f855 293px,#c0f855 303px,#bdf857 313px,#b8f75c 323px,#9bf577 333px,#92f480 336px)"></i><i style="width:1px;background:linear-gradient(#a8f66a 3px,#b1f761 13px,#b5f75e 23px,#b3f760 33px,#c3f854 43px,#d6f84d 53px,#e7f645 63px,#e8f644 73px,#caf851 83px,#c0f855 93px,#abf667 103px,#85f28d 113px,#7bf098 123px,#76ee9e 133px,#75ee9f 143px,#72eba2 153px,#6de5a5 163px,#69e1a7 173px,#69e2a7 183px,#6de5a5 193px,#6ce5a5 203px,#6ee7a4 213px,#7ff194 223px,#98f47a 233px,#b6f75d 243px,#cbf851 253px,#d9f84b 263px,#d4f84d 273px,#c2f854 283px,#b7f75c 293px,#b8f75b 303px,#adf665 313px,#9cf576 323px,#9af578 333px,#99f579 336px)"></i><i style="width:1px;background:linear-gradient(#9cf576 3px,#a2f570 13px,#a9f669 23px,#b4f75f 33px,#c3f854 43px,#d6f84c 53px,#ebf642 63px,#ebf643 73px,#c7f852 83px,#bcf857 93px,#a7f66b 103px,#83f28f 113px,#76ef9e 123px,#71eaa2 133px,#74eea0 143px,#70e9a3 153px,#68e0a8 163px,#69e1a7 173px,#69e1a7 183px,#64deac 193px,#68e1a8 203px,#70e9a3 213px,#84f28e 223px,#a0f572 233px,#baf85a 243px,#d3f84e 253px,#e1f748 263px,#def849 273px,#caf851 283px,#b9f85a 293px,#aef765 303px,#9ef574 313px,#8ff383 323px,#97f47b 333px,#9af578 336px)"></i><i style="width:1px;background:linear-gradient(#8df385 3px,#9ef574 13px,#b0f762 23px,#c6f853 33px,#d9f84b 43px,#e4f746 53px,#edf541 63px,#eaf643 73px,#caf851 83px,#b9f85a 93px,#a2f570 103px,#83f28f 113px,#76ee9e 123px,#6fe8a3 133px,#6ce5a5 143px,#6ae2a7 153px,#67e0a9 163px,#6ce4a6 173px,#6be4a6 183px,#62ddae 193px,#6ae2a7 203px,#74eea0 213px,#86f28c 223px,#a8f66a 233px,#ccf850 243px,#d8f84b 253px,#e0f748 263px,#e0f748 273px,#daf84b 283px,#d0f84f 293px,#b9f85b 303px,#a9f669 313px,#9cf576 323px,#9bf577 333px,#99f579 336px)"></i><i style="width:1px;background:linear-gradient(#8ef384 3px,#a2f570 13px,#b7f75d 23px,#cff84f 33px,#e4f746 43px,#eff541 53px,#e9f644 63px,#e8f644 73px,#d6f84c 83px,#c1f855 93px,#a9f669 103px,#8af388 113px,#7df195 123px,#74eea0 133px,#6ce5a5 143px,#6ae3a6 153px,#6ce4a6 163px,#6be4a6 173px,#6de6a5 183px,#6fe9a3 193px,#73eda1 203px,#7bf098 213px,#8cf386 223px,#aef765 233px,#d1f84e 243px,#d3f84e 253px,#dff848 263px,#ecf642 273px,#e5f746 283px,#daf84b 293px,#c6f853 303px,#bcf857 313px,#b8f75c 323px,#a3f56f 333px,#9bf577 336px)"></i><i style="width:1px;background:linear-gradient(#95f47d 3px,#9ef574 13px,#a9f669 23px,#b8f75c 33px,#cef84f 43px,#dff848 53px,#e2f747 63px,#ecf642 73px,#e7f645 83px,#cff84f 93px,#b1f762 103px,#8ff383 113px,#83f28f 123px,#79f09a 133px,#6ee7a4 143px,#69e2a7 153px,#67e0a9 163px,#61ddaf 173px,#67e0a9 183px,#77ef9d 193px,#71eba2 203px,#70e9a3 213px,#8bf387 223px,#a9f669 233px,#bdf857 243px,#c6f853 253px,#dcf84a 263px,#eff540 273px,#daf84b 283px,#bcf857 293px,#b6f75d 303px,#b1f762 313px,#acf666 323px,#9af578 333px,#94f47e 336px)"></i><i style="width:1px;background:linear-gradient(#92f480 3px,#91f481 13px,#93f47f 23px,#9af578 33px,#aff763 43px,#c4f854 53px,#d8f84c 63px,#e5f746 73px,#dcf84a 83px,#c2f854 93px,#a6f66c 103px,#83f28f 113px,#78ef9c 123px,#70eaa2 133px,#68e0a8 143px,#60dcb0 153px,#5dd6b3 163px,#5bd3b5 173px,#5ed7b2 183px,#69e1a7 193px,#64deac 203px,#64deac 213px,#7ef194 223px,#92f480 233px,#98f47a 243px,#a5f66d 253px,#bdf857 263px,#dbf84a 273px,#bff856 283px,#a5f66d 293px,#9cf576 303px,#92f480 313px,#8bf387 323px,#88f38a 333px,#87f38b 336px)"></i><i style="width:1px;background:linear-gradient(#86f28c 3px,#8ef384 13px,#96f47c 23px,#9ff573 33px,#b9f85a 43px,#d4f84d 53px,#e6f745 63px,#e8f644 73px,#cef850 83px,#bbf859 93px,#a5f66d 103px,#89f389 113px,#76ef9e 123px,#6be4a6 133px,#64deac 143px,#5fdbb1 153px,#5ed8b2 163px,#5ed8b2 173px,#60dbb0 183px,#64deac 193px,#65deab 203px,#6ae3a6 213px,#80f193 223px,#93f47f 233px,#9ef574 243px,#a6f66c 253px,#bbf859 263px,#dcf84a 273px,#d3f84e 283px,#c1f855 293px,#9df575 303px,#96f47c 313px,#9df575 323px,#90f482 333px,#8df385 336px)"></i><i style="width:1px;background:linear-gradient(#82f290 3px,#95f47d 13px,#aaf668 23px,#baf859 33px,#cef84f 43px,#e1f748 53px,#f1f53f 63px,#f7f53b 73px,#e7f645 83px,#c4f853 93px,#acf666 103px,#a0f572 113px,#81f291 123px,#6ee7a4 133px,#65deab 143px,#64deac 153px,#69e2a7 163px,#6ae3a6 173px,#6ee7a4 183px,#70eaa2 193px,#71eba2 203px,#76ef9e 213px,#8ff383 223px,#b1f762 233px,#ccf850 243px,#d0f84f 253px,#ddf849 263px,#e8f644 273px,#e8f644 283px,#e0f748 293px,#b0f762 303px,#adf666 313px,#bef856 323px,#a4f66e 333px,#9af578 336px)"></i><i style="width:1px;background:linear-gradient(#8ef384 3px,#9df575 13px,#aff764 23px,#c6f853 33px,#c7f853 43px,#cbf851 53px,#e6f745 63px,#f6f53c 73px,#f2f53e 83px,#cff84f 93px,#aff764 103px,#9cf576 113px,#7df196 123px,#6ce5a5 133px,#66dfaa 143px,#67e0a9 153px,#6be4a6 163px,#6ce5a5 173px,#70eaa3 183px,#77ef9d 193px,#78ef9b 203px,#7df096 213px,#91f481 223px,#b2f761 233px,#d1f84e 243px,#dcf84a 253px,#e1f747 263px,#dff748 273px,#e1f748 283px,#dff848 293px,#bef856 303px,#b3f760 313px,#b3f760 323px,#a4f66e 333px,#9ef574 336px)"></i><i style="width:1px;background:linear-gradient(#94f47e 3px,#97f47b 13px,#a4f66e 23px,#bdf857 33px,#bcf858 43px,#c0f855 53px,#e0f748 63px,#eff540 73px,#e8f644 83px,#d7f84c 93px,#baf85a 103px,#93f47f 113px,#7ef195 123px,#71eba2 133px,#6ee7a4 143px,#6ae2a7 153px,#63dead 163px,#68e0a8 173px,#6fe8a3 183px,#79f09a 193px,#7af099 203px,#7bf098 213px,#81f292 223px,#91f481 233px,#acf667 243px,#c2f854 253px,#d4f84d 263px,#d6f84d 273px,#ddf84a 283px,#dff748 293px,#c9f852 303px,#b5f75e 313px,#a5f66d 323px,#a7f66b 333px,#a6f66c 336px)"></i><i style="width:1px;background:linear-gradient(#8df385 3px,#91f481 13px,#98f47a 23px,#a9f669 33px,#b5f75e 43px,#c1f855 53px,#d3f84e 63px,#dcf84a 73px,#c5f853 83px,#b9f85b 93px,#a7f66b 103px,#8bf387 113px,#7ff193 123px,#77ef9d 133px,#71eaa2 143px,#67e0a9 153px,#5dd7b3 163px,#61ddaf 173px,#6ce4a6 183px,#77ef9d 193px,#73eda0 203px,#70eaa2 213px,#72eba2 223px,#7ff193 233px,#9af578 243px,#aef765 253px,#bff856 263px,#c8f852 273px,#d0f84f 283px,#d8f84c 293px,#d0f84f 303px,#b3f760 313px,#8ef384 323px,#96f47c 333px,#98f47a 336px)"></i><i style="width:1px;background:linear-gradient(#7ef195 3px,#8ef384 13px,#97f47b 23px,#98f47a 33px,#a7f66b 43px,#b4f75f 53px,#bff855 63px,#bef856 73px,#9cf576 83px,#93f47f 93px,#8bf387 103px,#80f193 113px,#71eba2 123px,#68e0a8 133px,#64deac 143px,#5fd9b1 153px,#5cd3b4 163px,#5ed8b2 173px,#61ddaf 183px,#62ddae 193px,#62ddae 203px,#65deab 213px,#6ee7a4 223px,#80f192 233px,#a1f571 243px,#aef765 253px,#bcf858 263px,#c3f854 273px,#bcf858 283px,#b9f85a 293px,#c3f854 303px,#a6f66c 313px,#7df195 323px,#81f291 333px,#82f290 336px)"></i><i style="width:1px;background:linear-gradient(#7ef195 3px,#85f28d 13px,#8df385 23px,#97f47b 33px,#a1f571 43px,#adf666 53px,#c2f854 63px,#c7f852 73px,#aaf668 83px,#9ef574 93px,#91f481 103px,#83f28f 113px,#6ee7a4 123px,#5fdab1 133px,#5cd5b4 143px,#5cd4b4 153px,#5dd5b3 163px,#5dd7b3 173px,#5dd7b3 183px,#5bd1b5 193px,#5bd2b5 203px,#5ed9b2 213px,#73eda1 223px,#8af388 233px,#a0f572 243px,#aff763 253px,#c2f855 263px,#d1f84e 273px,#baf85a 283px,#a8f66a 293px,#abf667 303px,#9ef574 313px,#8bf387 323px,#7cf097 333px,#77ef9c 336px)"></i><i style="width:1px;background:linear-gradient(#8bf387 3px,#87f38b 13px,#8cf386 23px,#a0f572 33px,#a9f669 43px,#b3f760 53px,#cff84f 63px,#e1f748 73px,#d6f84c 83px,#bdf857 93px,#a4f66e 103px,#89f389 113px,#72eca1 123px,#65dfab 133px,#5ed9b2 143px,#5fd9b1 153px,#62ddae 163px,#5fdab1 173px,#5fd9b1 183px,#5fd9b1 193px,#5ed7b2 203px,#5fdbb1 213px,#78ef9c 223px,#91f481 233px,#a7f66b 243px,#baf85a 253px,#cbf851 263px,#d4f84d 273px,#bef856 283px,#aef765 293px,#aaf668 303px,#a7f66b 313px,#a3f56f 323px,#7ef195 333px,#75ee9e 336px)"></i><i style="width:1px;background:linear-gradient(#8cf386 3px,#96f47c 13px,#a2f570 23px,#adf665 33px,#b5f75e 43px,#bff855 53px,#d9f84b 63px,#e6f645 73px,#ddf849 83px,#c5f853 93px,#abf667 103px,#8bf387 113px,#78ef9b 123px,#6ee7a4 133px,#69e1a8 143px,#6ae3a6 153px,#6fe8a3 163px,#69e1a7 173px,#66dfaa 183px,#64deac 193px,#65dfab 203px,#6ae2a7 213px,#74eea0 223px,#91f481 233px,#bdf857 243px,#d9f84b 253px,#e3f747 263px,#d9f84b 273px,#c3f854 283px,#b2f761 293px,#adf666 303px,#aef765 313px,#b1f762 323px,#8af388 333px,#80f192 336px)"></i><i style="width:1px;background:linear-gradient(#84f28e 3px,#92f480 13px,#a0f572 23px,#aef765 33px,#b6f75d 43px,#bff856 53px,#d3f84e 63px,#ddf84a 73px,#c8f852 83px,#bbf859 93px,#a6f66c 103px,#86f28c 113px,#71eaa2 123px,#66dfaa 133px,#6ae2a7 143px,#69e1a7 153px,#66dfaa 163px,#65deab 173px,#62ddae 183px,#5dd7b3 193px,#64deac 203px,#6ee7a4 213px,#6fe8a3 223px,#84f28e 233px,#b4f75f 243px,#ccf850 253px,#d9f84b 263px,#d0f84f 273px,#bcf858 283px,#acf666 293px,#9cf576 303px,#9ff573 313px,#a9f669 323px,#8ff383 333px,#88f38a 336px)"></i><i style="width:1px;background:linear-gradient(#81f292 3px,#85f28d 13px,#8ff383 23px,#a6f66c 33px,#a7f66b 43px,#a9f669 53px,#bff856 63px,#cdf850 73px,#bbf858 83px,#a7f66b 93px,#8ff383 103px,#78ef9c 113px,#65dfab 123px,#5cd5b4 133px,#5fdbb1 143px,#5dd7b3 153px,#59cdb7 163px,#5cd4b4 173px,#5cd5b4 183px,#58ccb8 193px,#5dd7b3 203px,#68e0a8 213px,#6be3a6 223px,#78ef9b 233px,#94f47e 243px,#a1f571 253px,#aff763 263px,#b6f75d 273px,#aef764 283px,#a3f56f 293px,#8cf386 303px,#86f28c 313px,#88f38a 323px,#83f28f 333px,#81f291 336px)"></i><i style="width:1px;background:linear-gradient(#80f192 3px,#84f28e 13px,#8bf387 23px,#9cf576 33px,#9bf577 43px,#9df575 53px,#b6f75d 63px,#c6f853 73px,#b8f75c 83px,#9df575 93px,#89f389 103px,#79f09a 113px,#6be3a6 123px,#5fdab1 133px,#5ed8b2 143px,#5dd5b3 153px,#5bd3b5 163px,#5ed7b2 173px,#5ed7b2 183px,#59ceb7 193px,#5cd4b4 203px,#60dbb0 213px,#68e0a8 223px,#76ef9d 233px,#92f480 243px,#a0f572 253px,#aff764 263px,#b7f75c 273px,#adf666 283px,#a0f572 293px,#8ff383 303px,#87f38b 313px,#81f291 323px,#7ef194 333px,#7df096 336px)"></i><i style="width:1px;background:linear-gradient(#8df385 3px,#85f28d 13px,#88f38a 23px,#99f579 33px,#adf666 43px,#bbf858 53px,#c3f854 63px,#d1f84e 73px,#c7f852 83px,#b2f761 93px,#a3f66f 103px,#98f47a 113px,#7ef194 123px,#6ee7a4 133px,#66dfaa 143px,#63ddad 153px,#64deac 163px,#64deac 173px,#66dfaa 183px,#65deab 193px,#63ddad 203px,#65deab 213px,#70eaa2 223px,#88f38a 233px,#aef765 243px,#caf851 253px,#dbf84a 263px,#d7f84c 273px,#c8f852 283px,#bdf857 293px,#b6f75d 303px,#a8f66a 313px,#93f47f 323px,#8cf386 333px,#8af388 336px)"></i><i style="width:1px;background:linear-gradient(#8bf387 3px,#7df096 13px,#7ff194 23px,#9bf577 33px,#b6f75d 43px,#c8f852 53px,#c7f852 63px,#d1f84e 73px,#c6f853 83px,#aff763 93px,#a1f571 103px,#98f47a 113px,#7df096 123px,#6ce5a5 133px,#67dfa9 143px,#62ddae 153px,#5fdab1 163px,#60dcb0 173px,#67dfa9 183px,#6ee7a4 193px,#68e0a8 203px,#66dfaa 213px,#7bf098 223px,#94f47e 233px,#aff764 243px,#d4f84d 253px,#e3f746 263px,#dbf84a 273px,#cdf850 283px,#c4f853 293px,#c3f854 303px,#a7f66b 313px,#83f28f 323px,#8ef384 333px,#90f482 336px)"></i><i style="width:1px;background:linear-gradient(#7cf097 3px,#78ef9b 13px,#7cf097 23px,#90f482 33px,#9df575 43px,#aaf668 53px,#bbf858 63px,#caf851 73px,#bbf859 83px,#a1f571 93px,#8af388 103px,#76ee9e 113px,#69e1a7 123px,#5fdab1 133px,#5fd9b1 143px,#5dd6b3 153px,#5bd3b5 163px,#5ed8b2 173px,#63dead 183px,#67e0a9 193px,#60dcb0 203px,#5fdbb1 213px,#74eea0 223px,#84f28e 233px,#8cf386 243px,#adf665 253px,#c2f855 263px,#bff856 273px,#b0f762 283px,#a5f66d 293px,#9ef574 303px,#85f28d 313px,#6fe9a3 323px,#76ef9d 333px,#78ef9b 336px)"></i><i style="width:1px;background:linear-gradient(#88f38a 3px,#8bf387 13px,#8ef384 23px,#94f47e 33px,#9af578 43px,#a8f66a 53px,#cef84f 63px,#dff849 73px,#caf851 83px,#b2f761 93px,#91f481 103px,#73eca1 113px,#66dfaa 123px,#5fdab1 133px,#65deab 143px,#61ddaf 153px,#5dd6b3 163px,#60dcb0 173px,#66dfaa 183px,#68e0a8 193px,#62ddae 203px,#62ddae 213px,#78ef9c 223px,#86f28c 233px,#89f389 243px,#abf667 253px,#c2f854 263px,#c4f854 273px,#b1f761 283px,#a1f571 293px,#98f47a 303px,#88f38a 313px,#78ef9c 323px,#78ef9c 333px,#77ef9c 336px)"></i><i style="width:1px;background:linear-gradient(#8ff383 3px,#94f47e 13px,#9cf576 23px,#a8f66a 33px,#aef764 43px,#bdf857 53px,#eaf643 63px,#edf542 73px,#c7f852 83px,#b2f761 93px,#9bf577 103px,#84f28e 113px,#6ee7a4 123px,#63dead 133px,#6de6a5 143px,#69e2a7 153px,#5fdab1 163px,#5fdab1 173px,#63ddad 183px,#6ae3a6 193px,#67dfa9 203px,#67e0a9 213px,#7df196 223px,#91f481 233px,#9df575 243px,#bff855 253px,#d4f84d 263px,#cef84f 273px,#b9f85b 283px,#a9f669 293px,#a6f66c 303px,#95f47d 313px,#84f28e 323px,#8bf387 333px,#8cf386 336px)"></i><i style="width:1px;background:linear-gradient(#88f38a 3px,#8af388 13px,#92f480 23px,#aaf668 33px,#b8f75c 43px,#ccf850 53px,#f1f53f 63px,#f1f540 73px,#c8f852 83px,#abf668 93px,#96f47c 103px,#8cf386 113px,#71eba2 123px,#63ddad 133px,#66dfaa 143px,#64deac 153px,#60dbb0 163px,#5fdbb1 173px,#61dcaf 183px,#62ddae 193px,#63dead 203px,#68e0a8 213px,#79ef9a 223px,#93f47f 233px,#b1f761 243px,#c4f854 253px,#cff84f 263px,#c9f851 273px,#baf859 283px,#aff764 293px,#a5f66d 303px,#93f47f 313px,#85f28d 323px,#98f47a 333px,#9ef574 336px)"></i><i style="width:1px;background:linear-gradient(#82f290 3px,#87f38b 13px,#91f481 23px,#a6f66c 33px,#b4f75f 43px,#c4f854 53px,#e0f748 63px,#ecf642 73px,#e0f748 83px,#b5f75e 93px,#9af578 103px,#90f482 113px,#71eaa2 123px,#60dcb0 133px,#64deac 143px,#63dead 153px,#61ddaf 163px,#65deab 173px,#67dfa9 183px,#64deac 193px,#66dfaa 203px,#6be4a6 213px,#78ef9b 223px,#92f480 233px,#b6f75d 243px,#c9f852 253px,#d6f84c 263px,#d5f84d 273px,#c9f852 283px,#bdf857 293px,#acf666 303px,#9df575 313px,#91f481 323px,#a7f66b 333px,#adf666 336px)"></i><i style="width:1px;background:linear-gradient(#80f292 3px,#92f480 13px,#a3f66f 23px,#b1f762 33px,#baf85a 43px,#c6f853 53px,#dcf84a 63px,#ebf642 73px,#e8f644 83px,#c9f852 93px,#aff764 103px,#9cf576 113px,#77ef9d 123px,#69e1a8 133px,#72eca1 143px,#6fe8a3 153px,#66dfaa 163px,#6ce4a6 173px,#71eaa2 183px,#73eca1 193px,#74eea0 203px,#78ef9b 213px,#86f28c 223px,#9af578 233px,#b2f761 243px,#d0f84f 253px,#e3f747 263px,#e5f746 273px,#d7f84c 283px,#c6f853 293px,#b8f75b 303px,#aef765 313px,#a5f66d 323px,#a8f66a 333px,#a8f66a 336px)"></i><i style="width:1px;background:linear-gradient(#8af388 3px,#9df575 13px,#b0f763 23px,#c1f855 33px,#cef850 43px,#dcf84a 53px,#edf642 63px,#f6f53c 73px,#ebf643 83px,#cef84f 93px,#b3f760 103px,#9cf576 113px,#7cf097 123px,#6fe8a3 133px,#7af099 143px,#74eea0 153px,#6ae2a7 163px,#72eba1 173px,#79ef9a 183px,#78ef9c 193px,#79ef9a 203px,#7ef194 213px,#92f480 223px,#a8f66a 233px,#b9f85b 243px,#d1f84e 253px,#e1f748 263px,#e3f747 273px,#d4f84d 283px,#c4f854 293px,#bef856 303px,#b0f763 313px,#9cf576 323px,#9cf576 333px,#9bf577 336px)"></i><i style="width:1px;background:linear-gradient(#90f482 3px,#9af578 13px,#a4f66e 23px,#b1f762 33px,#c3f854 43px,#d8f84b 53px,#ecf642 63px,#f8f53a 73px,#eff540 83px,#b9f85b 93px,#9af578 103px,#9df575 113px,#7ff193 123px,#6fe8a3 133px,#71eba2 143px,#6de6a5 153px,#66dfaa 163px,#6be4a6 173px,#6fe8a4 183px,#6ee7a4 193px,#6de6a5 203px,#70e9a3 213px,#89f389 223px,#aaf668 233px,#c2f854 243px,#c7f852 253px,#d2f84e 263px,#dcf84a 273px,#c6f853 283px,#b7f75d 293px,#bdf857 303px,#a4f66e 313px,#81f291 323px,#93f47f 333px,#99f479 336px)"></i><i style="width:1px;background:linear-gradient(#97f47b 3px,#96f47c 13px,#94f47e 23px,#94f47e 33px,#b3f760 43px,#d1f84e 53px,#e0f748 63px,#ebf642 73px,#e3f746 83px,#b0f763 93px,#99f479 103px,#a5f66d 113px,#84f28e 123px,#70e9a3 133px,#6de6a5 143px,#6ae2a7 153px,#65deab 163px,#62ddae 173px,#65deab 183px,#6ae2a7 193px,#67e0a9 203px,#69e2a7 213px,#7ef195 223px,#a0f572 233px,#c3f854 243px,#c2f854 253px,#cef84f 263px,#e0f748 273px,#c3f854 283px,#adf665 293px,#bdf857 303px,#a2f570 313px,#7cf097 323px,#8df385 333px,#92f480 336px)"></i><i style="width:1px;background:linear-gradient(#96f47c 3px,#93f47f 13px,#8ef384 23px,#89f389 33px,#a7f66b 43px,#c6f853 53px,#cef84f 63px,#daf84b 73px,#ccf850 83px,#b3f760 93px,#a0f572 103px,#91f481 113px,#7af099 123px,#6de6a4 133px,#69e1a7 143px,#66dfaa 153px,#64deac 163px,#5fdab1 173px,#60dcb0 183px,#67dfa9 193px,#64deac 203px,#64deac 213px,#73eda1 223px,#90f482 233px,#b9f85b 243px,#c3f854 253px,#cff84f 263px,#d4f84d 273px,#bdf857 283px,#abf667 293px,#a9f669 303px,#94f47e 313px,#80f192 323px,#86f28c 333px,#87f38b 336px)"></i><i style="width:1px;background:linear-gradient(#84f28e 3px,#8df385 13px,#91f481 23px,#91f481 33px,#9ff573 43px,#b1f762 53px,#c6f853 63px,#d6f84c 73px,#c8f852 83px,#b2f761 93px,#9bf577 103px,#83f28f 113px,#74eea0 123px,#6ce5a5 133px,#67dfa9 143px,#67e0a9 153px,#6ae2a7 163px,#5ed8b2 173px,#5dd6b3 183px,#64deac 193px,#61dcaf 203px,#62ddae 213px,#72eca1 223px,#8df385 233px,#b2f761 243px,#c3f854 253px,#c9f851 263px,#baf85a 273px,#aef765 283px,#a1f571 293px,#88f38a 303px,#83f28f 313px,#86f28c 323px,#88f38a 333px,#87f38b 336px)"></i><i style="width:1px;background:linear-gradient(#7ef195 3px,#88f38a 13px,#96f47c 23px,#adf665 33px,#aef765 43px,#b1f762 53px,#c9f852 63px,#d7f84c 73px,#c6f853 83px,#b4f75f 93px,#a4f66e 103px,#91f481 113px,#7af09a 123px,#6ce4a6 133px,#65deab 143px,#6ae3a7 153px,#73eda0 163px,#5fdbb1 173px,#5cd4b4 183px,#5fdab1 193px,#62ddae 203px,#69e1a7 213px,#78ef9c 223px,#92f480 233px,#b3f760 243px,#bef856 253px,#c2f854 263px,#b9f85b 273px,#b1f762 283px,#a6f66c 293px,#8af388 303px,#88f38a 313px,#92f480 323px,#90f482 333px,#8ef384 336px)"></i><i style="width:1px;background:linear-gradient(#81f291 3px,#83f28f 13px,#8df385 23px,#a6f66c 33px,#aff763 43px,#b4f75f 53px,#b8f75b 63px,#c4f854 73px,#bbf859 83px,#acf666 93px,#a1f571 103px,#96f47c 113px,#74eea0 123px,#61ddaf 133px,#5dd7b3 143px,#60dcb0 153px,#6ce5a5 163px,#5fdab1 173px,#5cd5b4 183px,#5dd6b3 193px,#60dbb0 203px,#68e0a8 213px,#72eca1 223px,#8cf386 233px,#b5f75e 243px,#b7f75d 253px,#bdf856 263px,#c4f854 273px,#b8f75b 283px,#aaf668 293px,#93f47f 303px,#93f47f 313px,#9df575 323px,#88f38a 333px,#82f290 336px)"></i><i style="width:1px;background:linear-gradient(#86f28c 3px,#80f192 13px,#83f28f 23px,#93f47f 33px,#a5f66d 43px,#b2f761 53px,#b8f75c 63px,#baf859 73px,#a4f66e 83px,#9af578 93px,#91f481 103px,#87f38b 113px,#6de6a5 123px,#5ed7b2 133px,#5cd4b4 143px,#5dd6b3 153px,#5fdab1 163px,#5cd4b4 173px,#5cd4b4 183px,#5dd6b3 193px,#5fdab1 203px,#65dfab 213px,#72eba2 223px,#86f28c 233px,#a3f56f 243px,#b8f75c 253px,#c9f852 263px,#cff84f 273px,#b7f75c 283px,#9ff573 293px,#8cf386 303px,#8df385 313px,#97f47b 323px,#81f292 333px,#7bf098 336px)"></i><i style="width:1px;background:linear-gradient(#8af388 3px,#84f28e 13px,#86f28c 23px,#93f47f 33px,#9ef574 43px,#abf667 53px,#c1f855 63px,#c5f853 73px,#a6f66c 83px,#9df575 93px,#90f482 103px,#7ef194 113px,#6ce4a6 123px,#5fdab1 133px,#5fdab1 143px,#5fdab1 153px,#5fd9b1 163px,#5cd4b4 173px,#5cd4b4 183px,#5dd6b3 193px,#62ddae 203px,#6de6a5 213px,#7ff194 223px,#8df385 233px,#94f47e 243px,#b9f85b 253px,#d1f84f 263px,#d2f84e 273px,#b9f85b 283px,#a1f571 293px,#8ef384 303px,#8bf387 313px,#8ef384 323px,#88f38a 333px,#85f28d 336px)"></i><i style="width:1px;background:linear-gradient(#85f28d 3px,#90f482 13px,#95f47d 23px,#94f47e 33px,#9af578 43px,#a6f66c 53px,#bdf857 63px,#d2f84e 73px,#cbf851 83px,#b6f75d 93px,#a0f572 103px,#86f28c 113px,#70eaa3 123px,#64deac 133px,#66dfaa 143px,#65deab 153px,#62ddae 163px,#5ed8b2 173px,#5ed7b2 183px,#5fdab1 193px,#69e2a7 203px,#75ee9f 213px,#89f389 223px,#9bf577 233px,#a7f66b 243px,#c1f855 253px,#d2f84e 263px,#cdf850 273px,#b9f85a 283px,#aaf668 293px,#a5f66d 303px,#9ef574 313px,#95f47d 323px,#8ef384 333px,#8af388 336px)"></i><i style="width:1px;background:linear-gradient(#84f28e 3px,#9ff573 13px,#abf668 23px,#a0f572 33px,#a9f669 43px,#b6f75d 53px,#cbf851 63px,#dff849 73px,#daf84b 83px,#c6f853 93px,#b1f762 103px,#97f47b 113px,#77ef9c 123px,#69e1a7 133px,#6ae3a6 143px,#69e1a8 153px,#64deac 163px,#62ddae 173px,#65deab 183px,#6ae2a7 193px,#71eba2 203px,#7af09a 213px,#7ff193 223px,#93f47f 233px,#b2f761 243px,#cbf851 253px,#d8f84c 263px,#cdf850 273px,#baf85a 283px,#aff764 293px,#b7f75d 303px,#aff764 313px,#9df575 323px,#90f482 333px,#8cf386 336px)"></i><i style="width:1px;background:linear-gradient(#84f28e 3px,#9cf576 13px,#a8f66a 23px,#a2f570 33px,#b2f761 43px,#c5f853 53px,#d8f84b 63px,#dff849 73px,#c9f851 83px,#b9f85b 93px,#a5f66d 103px,#8af388 113px,#6ee7a4 123px,#5fdbb1 133px,#61dcaf 143px,#5fdbb1 153px,#5ed7b2 163px,#62ddae 173px,#68e0a8 183px,#6ae2a7 193px,#6fe8a4 203px,#72eca1 213px,#72eca1 223px,#81f291 233px,#a2f570 243px,#c3f854 253px,#d2f84e 263px,#c5f853 273px,#acf666 283px,#9ef574 293px,#aef765 303px,#a4f66e 313px,#8ff383 323px,#8ef384 333px,#8df385 336px)"></i><i style="width:1px;background:linear-gradient(#84f28e 3px,#93f47f 13px,#a0f572 23px,#a9f669 33px,#b9f85a 43px,#cef850 53px,#e2f747 63px,#e5f746 73px,#c9f852 83px,#b1f762 93px,#97f47b 103px,#7ef195 113px,#69e1a7 123px,#5dd6b3 133px,#5dd6b3 143px,#5dd6b3 153px,#5dd6b3 163px,#60dbb0 173px,#66dfaa 183px,#68e0a8 193px,#6be4a6 203px,#70e9a3 213px,#7ff194 223px,#90f482 233px,#a2f570 243px,#c5f853 253px,#d3f84e 263px,#c0f855 273px,#a8f66a 283px,#9bf577 293px,#aff763 303px,#a9f669 313px,#94f47e 323px,#97f47b 333px,#96f47c 336px)"></i><i style="width:1px;background:linear-gradient(#8ff383 3px,#9ff573 13px,#b1f762 23px,#c5f853 33px,#ccf851 43px,#d6f84d 53px,#ebf643 63px,#f0f540 73px,#dcf84a 83px,#c1f855 93px,#a8f66a 103px,#8cf386 113px,#72eba2 123px,#64deac 133px,#62ddae 143px,#64deac 153px,#66dfaa 163px,#66dfaa 173px,#6ae2a7 183px,#6fe8a3 193px,#6ee7a4 203px,#72eca1 213px,#9af578 223px,#b4f75f 233px,#b9f85a 243px,#d0f84f 253px,#d8f84c 263px,#c7f852 273px,#bbf858 283px,#b9f85a 293px,#c5f853 303px,#c3f854 313px,#baf85a 323px,#bdf857 333px,#bcf858 336px)"></i><i style="width:1px;background:linear-gradient(#93f47f 3px,#a5f66d 13px,#b6f75d 23px,#c9f851 33px,#cff84f 43px,#d7f84c 53px,#eaf643 63px,#eff540 73px,#ddf84a 83px,#c8f852 93px,#b2f761 103px,#94f47e 113px,#78ef9c 123px,#6be3a6 133px,#6ce5a5 143px,#6de6a4 153px,#6ee7a4 163px,#69e2a7 173px,#6be4a6 183px,#72eca1 193px,#71eba2 203px,#74eda0 213px,#91f481 223px,#b0f763 233px,#c4f854 243px,#cef850 253px,#d5f84d 263px,#cff84f 273px,#caf851 283px,#c7f852 293px,#c2f855 303px,#c6f853 313px,#cef850 323px,#c9f851 333px,#c7f853 336px)"></i><i style="width:1px;background:linear-gradient(#94f47e 3px,#9af578 13px,#a6f66c 23px,#b8f75b 33px,#c5f853 43px,#d6f84c 53px,#ebf643 63px,#eef541 73px,#d7f84c 83px,#bef856 93px,#a8f66a 103px,#8ff383 113px,#79ef9b 123px,#6ee7a4 133px,#6fe8a3 143px,#71eba2 153px,#73eda0 163px,#6de6a4 173px,#6de6a4 183px,#72eba2 193px,#74eea0 203px,#79ef9b 213px,#88f38a 223px,#a8f66a 233px,#cbf851 243px,#d0f84f 253px,#dbf84a 263px,#e3f747 273px,#d3f84d 283px,#c1f855 293px,#b9f85b 303px,#c2f854 313px,#d4f84d 323px,#bdf857 333px,#b5f75e 336px)"></i><i style="width:1px;background:linear-gradient(#8ff383 3px,#94f47e 13px,#9cf576 23px,#a8f66a 33px,#b4f75f 43px,#c5f853 53px,#e4f746 63px,#ebf643 73px,#d5f84d 83px,#b7f75c 93px,#9ff573 103px,#8df385 113px,#75ee9f 123px,#6ae3a6 133px,#6ee7a4 143px,#70e9a3 153px,#70e9a3 163px,#6ee7a4 173px,#6de5a5 183px,#68e0a8 193px,#6ce5a5 203px,#73eda1 213px,#84f28e 223px,#a9f669 233px,#d0f84f 243px,#cff84f 253px,#daf84b 263px,#e8f644 273px,#d2f84e 283px,#b8f75b 293px,#b6f75d 303px,#b9f85b 313px,#bcf858 323px,#a6f66c 333px,#9df575 336px)"></i><i style="width:1px;background:linear-gradient(#8ff383 3px,#93f47f 13px,#95f47d 23px,#96f47c 33px,#9df575 43px,#b0f763 53px,#e1f748 63px,#e6f645 73px,#c4f853 83px,#aef764 93px,#95f47d 103px,#7ef195 113px,#6ee7a4 123px,#65dfab 133px,#6be4a6 143px,#6ae2a7 153px,#64deac 163px,#61ddaf 173px,#60dcb0 183px,#5ed7b2 193px,#60dbb0 203px,#69e1a7 213px,#7cf097 223px,#a0f572 233px,#c5f853 243px,#bef856 253px,#c0f855 263px,#c7f852 273px,#b6f75d 283px,#a6f66c 293px,#9df575 303px,#93f47f 313px,#8af388 323px,#84f28e 333px,#81f291 336px)"></i><i style="width:1px;background:linear-gradient(#96f47c 3px,#8cf386 13px,#8bf387 23px,#98f47a 33px,#9cf576 43px,#abf667 53px,#dbf84a 63px,#ddf849 73px,#b2f761 83px,#a9f669 93px,#91f481 103px,#73eca1 113px,#67e0a9 123px,#5fdbb1 133px,#61ddaf 143px,#60dbb0 153px,#5ed8b2 163px,#5cd3b4 173px,#5cd3b4 183px,#5dd6b3 193px,#5fdbb1 203px,#67e0a9 213px,#76ef9d 223px,#94f47e 233px,#b9f85b 243px,#aef764 253px,#a8f66a 263px,#9ff573 273px,#97f47b 283px,#90f482 293px,#84f28e 303px,#81f291 313px,#83f28f 323px,#7af099 333px,#77ef9d 336px)"></i><i style="width:1px;background:linear-gradient(#8df385 3px,#82f291 13px,#8af388 23px,#b6f75d 33px,#b7f75c 43px,#baf85a 53px,#d7f84c 63px,#d9f84b 73px,#b7f75c 83px,#b7f75c 93px,#a8f66a 103px,#83f28f 113px,#6be3a6 123px,#5ed7b2 133px,#5ed8b2 143px,#5fdab1 153px,#61dcaf 163px,#5ed7b2 173px,#5ed8b2 183px,#61dcaf 193px,#69e1a8 203px,#70e9a3 213px,#7ef194 223px,#9af578 233px,#baf859 243px,#aff764 253px,#abf668 263px,#aaf669 273px,#a3f56f 283px,#9bf577 293px,#8ff383 303px,#92f480 313px,#9ef574 323px,#7ff194 333px,#77ef9d 336px)"></i><i style="width:1px;background:linear-gradient(#7ff193 3px,#85f28d 13px,#98f47a 23px,#c1f855 33px,#c4f854 43px,#c8f852 53px,#e0f748 63px,#e0f748 73px,#bef856 83px,#c2f854 93px,#baf85a 103px,#9cf576 113px,#76ef9d 123px,#65dfab 133px,#65deab 143px,#68e0a8 153px,#6be4a6 163px,#69e1a7 173px,#6ae2a7 183px,#6ce4a6 193px,#6fe8a4 203px,#75ee9e 213px,#91f481 223px,#adf666 233px,#bdf857 243px,#b4f75f 253px,#b7f75d 263px,#c0f855 273px,#b8f75c 283px,#b1f762 293px,#acf666 303px,#aef765 313px,#b0f762 323px,#8bf387 333px,#81f291 336px)"></i><i style="width:1px;background:linear-gradient(#71eaa2 3px,#83f28f 13px,#91f481 23px,#96f47c 33px,#a1f571 43px,#aff763 53px,#c7f852 63px,#c8f852 73px,#a8f66a 83px,#a9f669 93px,#9cf576 103px,#80f192 113px,#71eba2 123px,#6ae2a7 133px,#69e1a7 143px,#66dfaa 153px,#62ddae 163px,#65dfab 173px,#69e2a7 183px,#6be4a6 193px,#66dfaa 203px,#66dfaa 213px,#7df096 223px,#91f481 233px,#9df575 243px,#abf667 253px,#b5f75e 263px,#b4f75f 273px,#a9f669 283px,#9ff573 293px,#99f579 303px,#96f47c 313px,#93f47f 323px,#87f38b 333px,#83f28f 336px)"></i><i style="width:1px;background:linear-gradient(#6ee7a4 3px,#73eda1 13px,#7bf098 23px,#84f28e 33px,#88f38a 43px,#91f481 53px,#adf666 63px,#b2f761 73px,#95f47d 83px,#8ff383 93px,#80f193 103px,#6ce4a6 113px,#67dfa9 123px,#63dead 133px,#60dcb0 143px,#5fdab1 153px,#5ed8b2 163px,#5ed7b2 173px,#5fd9b1 183px,#60dcb0 193px,#5cd3b4 203px,#5ad1b6 213px,#6be3a6 223px,#7bf098 233px,#8af388 243px,#a4f66e 253px,#b1f762 263px,#a5f66d 273px,#93f47f 283px,#88f38a 293px,#81f292 303px,#81f292 313px,#83f28f 323px,#81f291 333px,#7ff193 336px)"></i><i style="width:1px;background:linear-gradient(#74eea0 3px,#6fe8a4 13px,#71eaa2 23px,#84f28e 33px,#89f389 43px,#90f482 53px,#b6f75d 63px,#bff856 73px,#a2f570 83px,#90f482 93px,#7ff193 103px,#6ee7a4 113px,#65dfab 123px,#5fd9b1 133px,#5dd5b3 143px,#5ed7b2 153px,#61dcaf 163px,#5ed8b2 173px,#5cd5b4 183px,#5acfb6 193px,#58ccb8 203px,#5ad0b6 213px,#6ce5a5 223px,#80f193 233px,#92f480 243px,#9df575 253px,#a4f66e 263px,#9ef574 273px,#92f480 283px,#8bf387 293px,#81f291 303px,#83f28f 313px,#89f389 323px,#87f38b 333px,#86f28c 336px)"></i><i style="width:1px;background:linear-gradient(#78ef9c 3px,#71eba2 13px,#72eba2 23px,#7cf097 33px,#89f389 43px,#9df575 53px,#c0f855 63px,#caf851 73px,#aff764 83px,#9df575 93px,#89f389 103px,#73eda1 113px,#67dfa9 123px,#5ed8b2 133px,#5cd4b4 143px,#5dd5b3 153px,#5ed9b2 163px,#61dcaf 173px,#5fdab1 183px,#58cdb8 193px,#59ceb7 203px,#5dd6b3 213px,#6fe8a3 223px,#82f290 233px,#92f480 243px,#92f480 253px,#94f47e 263px,#94f47e 273px,#9ff573 283px,#a5f66d 293px,#8af388 303px,#83f28f 313px,#84f28e 323px,#89f389 333px,#89f389 336px)"></i><i style="width:1px;background:linear-gradient(#78ef9b 3px,#7cf097 13px,#7df196 23px,#7cf097 33px,#93f47f 43px,#b5f75e 53px,#caf851 63px,#c9f851 73px,#a7f66b 83px,#a7f66b 93px,#91f481 103px,#70e9a3 113px,#69e1a7 123px,#63ddad 133px,#5ed8b2 143px,#5cd5b4 153px,#5cd4b4 163px,#63ddad 173px,#67dfa9 183px,#5fd9b1 193px,#5dd6b3 203px,#5ed9b2 213px,#71eba2 223px,#81f291 233px,#8cf386 243px,#90f482 253px,#96f47c 263px,#9af578 273px,#a2f570 283px,#a5f66d 293px,#8ef384 303px,#86f28c 313px,#83f28f 323px,#85f28d 333px,#84f28e 336px)"></i><i style="width:1px;background:linear-gradient(#74eea0 3px,#7df196 13px,#7cf096 23px,#73eda1 33px,#8cf386 43px,#b5f75e 53px,#c9f852 63px,#c2f854 73px,#97f47b 83px,#94f47e 93px,#85f28d 103px,#6fe8a3 113px,#6be3a6 123px,#67e0a9 133px,#5ed9b2 143px,#5cd4b4 153px,#5bd3b5 163px,#5dd5b3 173px,#5fd9b1 183px,#61ddaf 193px,#5ed7b2 203px,#5dd6b3 213px,#6de6a4 223px,#7af099 233px,#82f290 243px,#8af388 253px,#95f47d 263px,#a2f570 273px,#8ef384 283px,#82f290 293px,#86f28c 303px,#82f290 313px,#7af099 323px,#76ef9d 333px,#74eea0 336px)"></i><i style="width:1px;background:linear-gradient(#76ef9d 3px,#7df195 13px,#7bf098 23px,#71eaa2 33px,#88f38a 43px,#b1f762 53px,#c9f852 63px,#c9f852 73px,#a4f66e 83px,#8af388 93px,#7cf097 103px,#73eda0 113px,#71eba2 123px,#6de5a5 133px,#5fdbb1 143px,#5dd6b3 153px,#5dd5b3 163px,#59cdb7 173px,#5acfb6 183px,#5fdab1 193px,#60dcb0 203px,#64deac 213px,#6ee7a4 223px,#7df096 233px,#8ff383 243px,#90f482 253px,#99f579 263px,#abf668 273px,#8ff383 283px,#7ef194 293px,#83f28f 303px,#80f192 313px,#79f09a 323px,#73eda1 333px,#71eaa2 336px)"></i><i style="width:1px;background:linear-gradient(#89f389 3px,#8ef384 13px,#8ef384 23px,#89f389 33px,#a1f571 43px,#bff856 53px,#d3f84d 63px,#daf84b 73px,#c1f855 83px,#a1f571 93px,#89f389 103px,#79ef9a 113px,#75ee9f 123px,#70eaa2 133px,#62ddae 143px,#5ed8b2 153px,#5ed7b2 163px,#5cd5b4 173px,#5dd7b3 183px,#60dbb0 193px,#68e0a8 203px,#6fe8a4 213px,#76ef9e 223px,#8df385 233px,#b0f763 243px,#acf666 253px,#b2f760 263px,#bff856 273px,#abf667 283px,#98f47a 293px,#97f47b 303px,#91f481 313px,#8af388 323px,#7ff194 333px,#7bf098 336px)"></i><i style="width:1px;background:linear-gradient(#88f38a 3px,#8af388 13px,#8bf387 23px,#8df385 33px,#98f47a 43px,#aaf668 53px,#bdf856 63px,#caf851 73px,#baf859 83px,#a4f66e 93px,#8bf387 103px,#74eea0 113px,#6ee7a4 123px,#67dfa9 133px,#5ed7b2 143px,#5cd4b4 153px,#5dd6b3 163px,#5fdab1 173px,#60dbb0 183px,#5ed7b2 193px,#5fdbb1 203px,#65dfab 213px,#6fe8a4 223px,#82f290 233px,#a5f66d 243px,#abf668 253px,#b3f760 263px,#baf85a 273px,#aef765 283px,#a4f66e 293px,#a5f66d 303px,#95f47d 313px,#83f28f 323px,#78ef9b 333px,#74eea0 336px)"></i><i style="width:1px;background:linear-gradient(#79ef9a 3px,#80f292 13px,#84f28e 23px,#84f28e 33px,#87f38b 43px,#91f481 53px,#b0f763 63px,#c3f854 73px,#b8f75b 83px,#9af578 93px,#87f38b 103px,#7bf098 113px,#6ee7a4 123px,#63ddad 133px,#5dd7b3 143px,#5dd7b3 153px,#5fdab1 163px,#5dd6b3 173px,#5dd6b3 183px,#5ed8b2 193px,#5fd9b1 203px,#60dcb0 213px,#6ae2a7 223px,#7bf098 233px,#9af578 243px,#9bf577 253px,#a5f66d 263px,#b1f761 273px,#acf666 283px,#a4f66e 293px,#97f47b 303px,#8cf386 313px,#81f291 323px,#71eba2 333px,#6de6a4 336px)"></i><i style="width:1px;background:linear-gradient(#82f290 3px,#96f47c 13px,#a4f66e 23px,#a6f66c 33px,#a8f66a 43px,#b2f761 53px,#d4f84d 63px,#e7f644 73px,#e3f746 83px,#c2f855 93px,#acf666 103px,#a1f571 113px,#7ff193 123px,#6ee7a4 133px,#6ce5a5 143px,#6fe8a4 153px,#72eca1 163px,#62ddae 173px,#61dcaf 183px,#6fe8a3 193px,#70e9a3 203px,#71eaa2 213px,#7cf097 223px,#95f47d 233px,#b8f75b 243px,#c0f855 253px,#cbf851 263px,#d3f84e 273px,#d1f84e 283px,#cbf851 293px,#b8f75b 303px,#a9f669 313px,#9af578 323px,#8df385 333px,#88f38a 336px)"></i><i style="width:1px;background:linear-gradient(#7cf097 3px,#94f47e 13px,#aef765 23px,#c0f855 33px,#c0f855 43px,#c4f854 53px,#ddf84a 63px,#e9f643 73px,#e3f746 83px,#d1f84e 93px,#b9f85a 103px,#9af578 113px,#7cf097 123px,#6fe8a3 133px,#72eca1 143px,#74eda0 153px,#73eca1 163px,#67e0a9 173px,#67dfa9 183px,#71eaa2 193px,#73eda1 203px,#77ef9c 213px,#88f38a 223px,#a4f66e 233px,#bef856 243px,#d5f84d 253px,#dff848 263px,#d8f84b 273px,#d2f84e 283px,#cff84f 293px,#caf851 303px,#b5f75e 313px,#99f579 323px,#a6f66c 333px,#a7f66b 336px)"></i><i style="width:1px;background:linear-gradient(#70eaa2 3px,#81f291 13px,#9af578 23px,#b9f85b 33px,#b5f75e 43px,#b5f75e 53px,#d0f84f 63px,#e1f748 73px,#d8f84c 83px,#bdf857 93px,#9af578 103px,#75ee9f 113px,#6fe9a3 123px,#6ee7a4 133px,#6ee7a4 143px,#6ae2a7 153px,#63ddad 163px,#5fdab1 173px,#5fdbb1 183px,#63ddad 193px,#68e0a8 203px,#6ee7a4 213px,#7ef195 223px,#8df385 233px,#97f47b 243px,#baf85a 253px,#ccf850 263px,#c5f853 273px,#b3f760 283px,#a6f66c 293px,#a3f56f 303px,#99f479 313px,#8ef384 323px,#90f482 333px,#8ff383 336px)"></i><i style="width:1px;background:linear-gradient(#75ee9f 3px,#82f290 13px,#95f47d 23px,#b2f761 33px,#b6f75d 43px,#bff856 53px,#e0f748 63px,#edf642 73px,#e2f747 83px,#bcf857 93px,#93f47f 103px,#73eda1 113px,#6fe8a4 123px,#6de6a4 133px,#6ee7a4 143px,#6ae2a7 153px,#62ddae 163px,#61ddaf 173px,#63ddad 183px,#63dead 193px,#69e1a8 203px,#6fe8a3 213px,#7bf098 223px,#87f38b 233px,#8ff383 243px,#b7f75c 253px,#cdf850 263px,#c4f854 273px,#b4f75f 283px,#a5f66d 293px,#90f482 303px,#91f481 313px,#9df575 323px,#90f482 333px,#8cf386 336px)"></i><i style="width:1px;background:linear-gradient(#73eda1 3px,#7df196 13px,#89f389 23px,#99f479 33px,#a6f66c 43px,#b7f75c 53px,#dbf84a 63px,#e1f748 73px,#c5f853 83px,#acf666 93px,#8df385 103px,#71eaa2 113px,#67dfa9 123px,#60dcb0 133px,#66dfaa 143px,#63dead 153px,#5fdab1 163px,#60dcb0 173px,#63dead 183px,#63dead 193px,#68e0a8 203px,#6de6a5 213px,#72eca1 223px,#81f291 233px,#9af578 243px,#b1f761 253px,#bbf859 263px,#aff764 273px,#a9f669 283px,#9ff573 293px,#85f28d 303px,#89f389 313px,#9bf577 323px,#8ff383 333px,#8af388 336px)"></i><i style="width:1px;background:linear-gradient(#76ef9e 3px,#7bf098 13px,#80f193 23px,#87f38b 33px,#8df385 43px,#9cf576 53px,#c3f854 63px,#cef84f 73px,#b4f75f 83px,#a3f66f 93px,#87f38b 103px,#6be4a6 113px,#63ddad 123px,#5fdab1 133px,#60dcb0 143px,#5ed8b2 153px,#5bd2b5 163px,#5ed9b2 173px,#61dcaf 183px,#5fd9b1 193px,#61dcaf 203px,#67e0a9 213px,#71eaa2 223px,#84f28e 233px,#a2f570 243px,#b3f760 253px,#b7f75d 263px,#a6f66c 273px,#9ef574 283px,#94f47e 293px,#80f192 303px,#80f193 313px,#88f38a 323px,#83f28f 333px,#80f192 336px)"></i><i style="width:1px;background:linear-gradient(#7af099 3px,#79ef9a 13px,#7bf098 23px,#83f28f 33px,#86f28c 43px,#8ef384 53px,#adf665 63px,#bbf859 73px,#abf667 83px,#a4f66e 93px,#8ef384 103px,#71eba2 113px,#68e0a8 123px,#61ddaf 133px,#61ddaf 143px,#5dd6b3 153px,#58cdb8 163px,#5bd3b5 173px,#5dd7b3 183px,#5cd5b4 193px,#5ed7b2 203px,#62ddae 213px,#72eba1 223px,#89f389 233px,#a8f66a 243px,#b5f75e 253px,#b9f85a 263px,#aef764 273px,#97f47b 283px,#86f28c 293px,#7af099 303px,#76ee9e 313px,#75ee9f 323px,#77ef9d 333px,#76ef9d 336px)"></i><i style="width:1px;background:linear-gradient(#74eea0 3px,#77ef9d 13px,#7bf098 23px,#84f28e 33px,#8cf386 43px,#96f47c 53px,#aaf668 63px,#b0f763 73px,#99f479 83px,#a2f570 93px,#93f47f 103px,#73eda1 113px,#6ce4a5 123px,#67dfa9 133px,#64deac 143px,#5fdab1 153px,#5cd3b4 163px,#5ad0b6 173px,#5bd2b5 183px,#5dd5b3 193px,#5ed8b2 203px,#63dead 213px,#75ee9f 223px,#92f480 233px,#b4f75f 243px,#aef765 253px,#b0f762 263px,#b8f75c 273px,#96f47c 283px,#7ef195 293px,#77ef9d 303px,#74eea0 313px,#73eca1 323px,#73eda0 333px,#73eda1 336px)"></i><i style="width:1px;background:linear-gradient(#7df195 3px,#85f28d 13px,#8cf386 23px,#93f47f 33px,#a5f66d 43px,#b6f75d 53px,#c5f853 63px,#ccf850 73px,#b9f85a 83px,#b4f75f 93px,#9bf577 103px,#74eea0 113px,#71eaa2 123px,#6fe8a3 133px,#69e1a7 143px,#68e1a8 153px,#6ae3a6 163px,#63ddad 173px,#64deac 183px,#6ce5a5 193px,#6be3a6 203px,#6de6a5 213px,#85f28d 223px,#aaf668 233px,#c8f852 243px,#bef856 253px,#c0f855 263px,#cdf850 273px,#bcf858 283px,#a8f66a 293px,#91f481 303px,#87f38b 313px,#82f290 323px,#81f291 333px,#80f192 336px)"></i><i style="width:1px;background:linear-gradient(#7ff194 3px,#85f28d 13px,#89f389 23px,#8cf386 33px,#a2f570 43px,#b9f85a 53px,#c4f854 63px,#cef850 73px,#c0f855 83px,#b3f760 93px,#9af578 103px,#7af099 113px,#72eca1 123px,#6de6a5 133px,#61ddaf 143px,#5fdbb1 153px,#61ddaf 163px,#60dcb0 173px,#68e0a8 183px,#75ee9e 193px,#70e9a3 203px,#6ee7a4 213px,#82f290 223px,#9ff573 233px,#b5f75e 243px,#b3f760 253px,#b8f75b 263px,#c0f855 273px,#c6f853 283px,#c4f854 293px,#a4f66e 303px,#93f47f 313px,#8bf387 323px,#89f389 333px,#87f38b 336px)"></i><i style="width:1px;background:linear-gradient(#74eea0 3px,#7cf097 13px,#7ff193 23px,#80f192 33px,#91f481 43px,#a7f66b 53px,#b1f762 63px,#b4f75f 73px,#9ef574 83px,#96f47c 93px,#8af388 103px,#76ef9d 113px,#6ee7a4 123px,#66dfaa 133px,#5dd5b3 143px,#5ad0b6 153px,#59ceb7 163px,#5ad0b6 173px,#5ed8b2 183px,#69e2a7 193px,#68e0a8 203px,#68e0a8 213px,#72eca1 223px,#87f38b 233px,#a5f66d 243px,#9ff573 253px,#a0f572 263px,#a5f66d 273px,#abf667 283px,#adf665 293px,#9cf576 303px,#92f480 313px,#8df385 323px,#83f28f 333px,#7ff193 336px)"></i><i style="width:1px;background:linear-gradient(#70eaa3 3px,#7af09a 13px,#81f291 23px,#85f28d 33px,#8bf387 43px,#94f47e 53px,#a4f66e 63px,#acf666 73px,#9af578 83px,#88f38a 93px,#7bf098 103px,#70e9a3 113px,#6ae2a7 123px,#61dcaf 133px,#5ad0b6 143px,#59cfb7 153px,#5bd2b5 163px,#5ad0b6 173px,#5bd3b5 183px,#5ed8b2 193px,#5ed8b2 203px,#5fdab1 213px,#6be4a6 223px,#80f193 233px,#a4f66e 243px,#99f479 253px,#96f47c 263px,#9af578 273px,#9af578 283px,#98f47a 293px,#8cf386 303px,#84f28e 313px,#7ef194 323px,#7df195 333px,#7cf097 336px)"></i><i style="width:1px;background:linear-gradient(#70eaa2 3px,#76ef9e 13px,#7df195 23px,#87f38b 33px,#8cf386 43px,#94f47e 53px,#a8f66a 63px,#b2f760 73px,#a3f56f 83px,#86f28c 93px,#77ef9c 103px,#70e9a3 113px,#68e1a8 123px,#5fdab1 133px,#5acfb6 143px,#59cfb7 153px,#5cd3b4 163px,#57cbb8 173px,#56c9b9 183px,#58ccb8 193px,#59cfb7 203px,#5dd5b3 213px,#70eaa3 223px,#80f193 233px,#87f38b 243px,#8af388 253px,#93f47f 263px,#a3f66f 273px,#96f47c 283px,#89f389 293px,#7ff193 303px,#78ef9b 313px,#73eca1 323px,#7af099 333px,#7bf098 336px)"></i><i style="width:1px;background:linear-gradient(#7cf096 3px,#84f28e 13px,#8af388 23px,#8ff383 33px,#a4f66e 43px,#bcf858 53px,#cdf850 63px,#cef850 73px,#b0f763 83px,#90f482 93px,#82f291 103px,#7ef194 113px,#6de6a5 123px,#60dcb0 133px,#63dead 143px,#60dcb0 153px,#5dd6b3 163px,#5bd2b5 173px,#5acfb6 183px,#58ccb8 193px,#5bd2b5 203px,#63dead 213px,#81f291 223px,#90f482 233px,#89f389 243px,#8bf387 253px,#9af578 263px,#b8f75b 273px,#a6f66c 283px,#92f480 293px,#90f482 303px,#86f28c 313px,#7af099 323px,#81f291 333px,#82f290 336px)"></i><i style="width:1px;background:linear-gradient(#83f28f 3px,#86f28c 13px,#89f389 23px,#8df385 33px,#a6f66c 43px,#c0f855 53px,#cdf850 63px,#cdf850 73px,#b0f762 83px,#8df385 93px,#85f28d 103px,#90f482 113px,#70e9a3 123px,#5fdab1 133px,#6ce5a5 143px,#69e1a7 153px,#5ed9b2 163px,#61dcaf 173px,#5fdbb1 183px,#59cfb7 193px,#5cd5b4 203px,#65dfab 213px,#7cf097 223px,#91f481 233px,#9df575 243px,#93f47f 253px,#9cf576 263px,#b6f75e 273px,#aaf669 283px,#99f479 293px,#8df385 303px,#87f38b 313px,#82f290 323px,#89f389 333px,#89f389 336px)"></i><i style="width:1px;background:linear-gradient(#76ee9e 3px,#6de6a4 13px,#6ce5a5 23px,#74eea0 33px,#81f291 43px,#92f480 53px,#9ff573 63px,#a6f66c 73px,#92f480 83px,#79ef9a 93px,#76ef9e 103px,#86f28c 113px,#6be3a6 123px,#5cd4b4 133px,#61dcaf 143px,#5fdbb1 153px,#5cd4b4 163px,#5ed7b2 173px,#5dd7b3 183px,#59ceb7 193px,#5bd2b5 203px,#5fdab1 213px,#6de6a5 223px,#7ef194 233px,#96f47c 243px,#94f47e 253px,#99f479 263px,#a1f571 273px,#95f47d 283px,#88f38a 293px,#75ee9e 303px,#76ef9e 313px,#7ff193 323px,#83f28f 333px,#83f28f 336px)"></i><i style="width:1px;background:linear-gradient(#74eea0 3px,#69e2a7 13px,#68e0a8 23px,#72eba1 33px,#7cf097 43px,#8af388 53px,#a0f572 63px,#a8f66a 73px,#91f481 83px,#7ff193 93px,#79ef9b 103px,#78ef9b 113px,#6ae2a7 123px,#5fdab1 133px,#63ddad 143px,#61ddaf 153px,#5ed9b2 163px,#5fdab1 173px,#5fdbb1 183px,#5dd7b3 193px,#5ed8b2 203px,#61dcaf 213px,#6fe8a4 223px,#82f290 233px,#9df575 243px,#a6f66c 253px,#abf667 263px,#a8f66a 273px,#9cf576 283px,#91f481 293px,#84f28e 303px,#80f193 313px,#7ff194 323px,#7cf096 333px,#7bf098 336px)"></i><i style="width:1px;background:linear-gradient(#8af388 3px,#78ef9c 13px,#77ef9c 23px,#8ff383 33px,#9af578 43px,#aaf668 53px,#c8f852 63px,#ccf850 73px,#adf665 83px,#a9f669 93px,#95f47d 103px,#77ef9c 113px,#6fe9a3 123px,#6ce4a6 133px,#6be3a6 143px,#67dfa9 153px,#60dcb0 163px,#65deab 173px,#67e0a9 183px,#63dead 193px,#60dcb0 203px,#64deac 213px,#7cf097 223px,#94f47e 233px,#a6f66c 243px,#bcf858 253px,#cbf851 263px,#cbf851 273px,#b0f763 283px,#9df575 293px,#a8f66a 303px,#9bf577 313px,#86f28c 323px,#7ef195 333px,#7af099 336px)"></i><i style="width:1px;background:linear-gradient(#a7f66b 3px,#97f47b 13px,#98f47a 23px,#b1f762 33px,#bdf857 43px,#ccf850 53px,#def849 63px,#e1f747 73px,#cbf851 83px,#c8f852 93px,#b0f763 103px,#7ef194 113px,#79f09a 123px,#77ef9d 133px,#6fe8a4 143px,#67e0a9 153px,#60dbb0 163px,#66dfaa 173px,#6be3a6 183px,#69e1a7 193px,#69e1a7 203px,#6ee7a4 213px,#8ef384 223px,#a4f66e 233px,#a7f66b 243px,#c5f853 253px,#dbf84b 263px,#dff849 273px,#c0f855 283px,#a8f66a 293px,#b0f763 303px,#aaf668 313px,#9bf577 323px,#8ef384 333px,#89f389 336px)"></i><i style="width:1px;background:linear-gradient(#9ef574 3px,#a3f66f 13px,#aaf669 23px,#b4f75f 33px,#c8f852 43px,#dbf84a 53px,#dcf84a 63px,#e0f748 73px,#d3f84d 83px,#c7f853 93px,#adf665 103px,#82f290 113px,#7df196 123px,#79ef9a 133px,#6de6a4 143px,#68e0a8 153px,#66dfaa 163px,#6ae3a6 173px,#6de6a5 183px,#6be4a6 193px,#6ee8a4 203px,#74eea0 213px,#84f28e 223px,#9af578 233px,#aff764 243px,#bcf858 253px,#c9f852 263px,#cff84f 273px,#c4f854 283px,#b7f75c 293px,#a8f66a 303px,#a4f66e 313px,#a5f66d 323px,#90f482 333px,#8af388 336px)"></i><i style="width:1px;background:linear-gradient(#81f291 3px,#8af388 13px,#91f481 23px,#9bf577 33px,#b2f761 43px,#c3f854 53px,#bef856 63px,#c8f852 73px,#c2f854 83px,#b0f763 93px,#97f47b 103px,#7df196 113px,#73eda1 123px,#6ce5a5 133px,#5fdab1 143px,#60dbb0 153px,#68e0a8 163px,#65deab 173px,#64deac 183px,#63dead 193px,#62ddae 203px,#64deac 213px,#6ce5a5 223px,#7ff193 233px,#a4f66e 243px,#9cf576 253px,#a1f571 263px,#b1f762 273px,#acf667 283px,#a2f570 293px,#8ff383 303px,#8df385 313px,#90f482 323px,#81f291 333px,#7cf096 336px)"></i><i style="width:1px;background:linear-gradient(#77ef9d 3px,#7cf097 13px,#82f290 23px,#8df385 33px,#99f579 43px,#a6f66c 53px,#a5f66d 63px,#baf859 73px,#c4f854 83px,#a3f66f 93px,#8bf387 103px,#7cf097 113px,#72eba2 123px,#69e2a7 133px,#5ed9b2 143px,#5fdbb1 153px,#68e0a8 163px,#61ddaf 173px,#60dcb0 183px,#61ddaf 193px,#5ed8b2 203px,#5ed7b2 213px,#67e0a9 223px,#76ef9e 233px,#8df385 243px,#8df385 253px,#99f479 263px,#b3f760 273px,#a1f571 283px,#8ff383 293px,#87f38b 303px,#8af388 313px,#91f481 323px,#8bf387 333px,#88f38a 336px)"></i><i style="width:1px;background:linear-gradient(#76ef9e 3px,#7ff193 13px,#89f389 23px,#93f47f 33px,#9af578 43px,#a4f66e 53px,#b4f75f 63px,#c7f852 73px,#c5f853 83px,#9ff573 93px,#88f38a 103px,#7ff193 113px,#74eea0 123px,#6ce5a5 133px,#66dfaa 143px,#64deac 153px,#64deac 163px,#65deab 173px,#66dfaa 183px,#64deac 193px,#63ddad 203px,#65dfab 213px,#70eaa2 223px,#7ef194 233px,#8df385 243px,#96f47c 253px,#a7f66b 263px,#b6f75d 273px,#aaf668 283px,#9cf576 293px,#95f47d 303px,#95f47d 313px,#98f47a 323px,#9af578 333px,#99f579 336px)"></i><i style="width:1px;background:linear-gradient(#72eca1 3px,#84f28e 13px,#90f482 23px,#90f482 33px,#94f47e 43px,#a0f572 53px,#b6f75e 63px,#c8f852 73px,#c2f854 83px,#9cf576 93px,#88f38a 103px,#81f291 113px,#6fe9a3 123px,#64deac 133px,#65dfab 143px,#61ddaf 153px,#5ed9b2 163px,#5fdbb1 173px,#60dcb0 183px,#5fdab1 193px,#5fdab1 203px,#63dead 213px,#73eda0 223px,#84f28e 233px,#92f480 243px,#9cf576 253px,#a8f66a 263px,#aff764 273px,#aaf669 283px,#a2f570 293px,#94f47e 303px,#8bf387 313px,#81f291 323px,#81f292 333px,#7ff193 336px)"></i><i style="width:1px;background:linear-gradient(#74eea0 3px,#85f28d 13px,#90f482 23px,#92f480 33px,#98f47a 43px,#a1f571 53px,#a6f66c 63px,#c0f855 73px,#d0f84f 83px,#b2f761 93px,#9df575 103px,#90f482 113px,#70e9a3 123px,#60dcb0 133px,#67e0a9 143px,#67e0a9 153px,#63ddad 163px,#60dbb0 173px,#5fdab1 183px,#5ed9b2 193px,#5fd9b1 203px,#62ddae 213px,#76ee9e 223px,#8af388 233px,#9af578 243px,#b3f760 253px,#c0f855 263px,#baf85a 273px,#acf666 283px,#a0f572 293px,#96f47c 303px,#89f389 313px,#7bf098 323px,#74eda0 333px,#72eba2 336px)"></i><i style="width:1px;background:linear-gradient(#88f38a 3px,#8ff383 13px,#99f479 23px,#a9f669 33px,#aef764 43px,#b6f75e 53px,#c6f853 63px,#d8f84c 73px,#d5f84d 83px,#cef850 93px,#c3f854 103px,#aef765 113px,#80f193 123px,#6ce5a5 133px,#70e9a3 143px,#71eba2 153px,#72eba2 163px,#6ce5a5 173px,#6ae2a7 183px,#69e1a8 193px,#6be3a6 203px,#70eaa2 213px,#85f28d 223px,#a1f571 233px,#b9f85b 243px,#d6f84c 253px,#dff849 263px,#ccf850 273px,#bef856 283px,#b8f75b 293px,#bcf858 303px,#aef765 313px,#93f47f 323px,#8af388 333px,#85f28d 336px)"></i><i style="width:1px;background:linear-gradient(#8ef384 3px,#93f47f 13px,#a2f570 23px,#bbf859 33px,#bcf857 43px,#c3f854 53px,#e0f748 63px,#e4f746 73px,#cbf851 83px,#ccf851 93px,#c2f854 103px,#a8f66a 113px,#86f28c 123px,#73eda1 133px,#6fe8a3 143px,#70e9a3 153px,#73eda0 163px,#72eba2 173px,#72eba2 183px,#71eba2 193px,#71eba2 203px,#75ee9e 213px,#90f482 223px,#adf665 233px,#c1f855 243px,#dbf84b 253px,#e0f748 263px,#cff84f 273px,#d5f84d 283px,#dcf84a 293px,#d4f84d 303px,#bef856 313px,#a4f66e 323px,#9bf577 333px,#97f47b 336px)"></i><i style="width:1px;background:linear-gradient(#85f28d 3px,#8af388 13px,#94f47e 23px,#adf666 33px,#b4f75f 43px,#bbf859 53px,#c8f852 63px,#cbf851 73px,#b5f75e 83px,#aaf669 93px,#98f47a 103px,#82f290 113px,#71eba2 123px,#67e0a9 133px,#62ddae 143px,#66dfaa 153px,#6de6a5 163px,#68e0a8 173px,#69e1a8 183px,#6de6a4 193px,#6ce5a5 203px,#6fe8a3 213px,#86f28c 223px,#9af578 233px,#a4f66e 243px,#bef856 253px,#c9f852 263px,#b9f85b 273px,#c7f852 283px,#d3f84e 293px,#bdf857 303px,#a7f66b 313px,#90f482 323px,#90f482 333px,#8ff383 336px)"></i><i style="width:1px;background:linear-gradient(#86f28c 3px,#83f28f 13px,#85f28d 23px,#8ff383 33px,#a3f66f 43px,#b4f75f 53px,#b1f762 63px,#b5f75e 73px,#a9f669 83px,#93f47f 93px,#83f28f 103px,#73eda1 113px,#67e0a9 123px,#5ed9b2 133px,#5fd9b1 143px,#63dead 153px,#6ce4a6 163px,#60dcb0 173px,#5fdab1 183px,#67dfa9 193px,#6be4a6 203px,#71eaa2 213px,#7ef194 223px,#90f482 233px,#a3f66f 243px,#adf666 253px,#b3f760 263px,#b1f762 273px,#adf666 283px,#abf667 293px,#abf667 303px,#99f579 313px,#85f28d 323px,#8ff383 333px,#92f480 336px)"></i><i style="width:1px;background:linear-gradient(#7ff193 3px,#7cf097 13px,#7bf098 23px,#7ff194 33px,#91f481 43px,#a6f66c 53px,#9af578 63px,#aaf668 73px,#b0f763 83px,#93f47f 93px,#7df195 103px,#6de6a5 113px,#61ddaf 123px,#5dd6b3 133px,#5ed8b2 143px,#60dcb0 153px,#66dfaa 163px,#5fdab1 173px,#5dd7b3 183px,#5dd6b3 193px,#67e0a9 203px,#73eda0 213px,#7cf097 223px,#8ef384 233px,#a6f66c 243px,#aaf668 253px,#b2f760 263px,#bcf857 273px,#a5f66d 283px,#91f481 293px,#97f47b 303px,#8af388 313px,#7af09a 323px,#85f28d 333px,#89f389 336px)"></i><i style="width:1px;background:linear-gradient(#76ef9e 3px,#75ee9e 13px,#76ef9e 23px,#79ef9a 33px,#82f290 43px,#8af388 53px,#82f290 63px,#97f47b 73px,#aff763 83px,#96f47c 93px,#7ef195 103px,#69e2a7 113px,#5fdab1 123px,#5cd3b4 133px,#5ad0b6 143px,#5bd2b5 153px,#5ed8b2 163px,#5dd6b3 173px,#5cd3b4 183px,#59ceb7 193px,#5ed8b2 203px,#6ae3a7 213px,#75ee9f 223px,#81f291 233px,#8bf387 243px,#a0f572 253px,#aff764 263px,#aff763 273px,#a0f572 283px,#90f482 293px,#83f28f 303px,#7af099 313px,#74eea0 323px,#78ef9c 333px,#78ef9b 336px)"></i><i style="width:1px;background:linear-gradient(#77ef9c 3px,#76ee9e 13px,#7af099 23px,#8bf387 33px,#8df385 43px,#8ef384 53px,#8af388 63px,#9bf577 73px,#a7f66b 83px,#9af578 93px,#84f28e 103px,#6ce5a5 113px,#62ddae 123px,#5dd6b3 133px,#5ad0b6 143px,#5ad0b6 153px,#5bd3b5 163px,#5ed8b2 173px,#5fdbb1 183px,#5ed8b2 193px,#5fd9b1 203px,#63ddad 213px,#70e9a3 223px,#7bf099 233px,#83f28f 243px,#99f479 253px,#a8f66a 263px,#a4f66e 273px,#9cf576 283px,#94f47e 293px,#88f38a 303px,#7ff194 313px,#77ef9c 323px,#79f09a 333px,#79f09a 336px)"></i><i style="width:1px;background:linear-gradient(#82f290 3px,#83f28f 13px,#8ff383 23px,#aff764 33px,#a9f669 43px,#a3f56f 53px,#aef765 63px,#b8f75c 73px,#aef764 83px,#a7f66b 93px,#91f481 103px,#72eca1 113px,#69e1a7 123px,#62ddae 133px,#60dcb0 143px,#5fdab1 153px,#5dd6b3 163px,#66dfaa 173px,#6de6a5 183px,#6be3a6 193px,#69e2a7 203px,#6be3a6 213px,#73eda0 223px,#84f28e 233px,#98f47a 243px,#abf667 253px,#bcf858 263px,#c6f853 273px,#aaf668 283px,#94f47e 293px,#a2f570 303px,#97f47b 313px,#86f28c 323px,#89f389 333px,#8af388 336px)"></i><i style="width:1px;background:linear-gradient(#93f47f 3px,#a0f572 13px,#a8f66a 23px,#adf665 33px,#a9f66a 43px,#acf666 53px,#cbf851 63px,#dbf84a 73px,#cef84f 83px,#c1f855 93px,#aff764 103px,#91f481 113px,#7af099 123px,#6ee7a4 133px,#6ce5a5 143px,#6be4a6 153px,#6be4a6 163px,#72eca1 173px,#76ef9e 183px,#71eaa2 193px,#73eda1 203px,#7bf098 213px,#8df385 223px,#a9f669 233px,#c2f854 243px,#c8f852 253px,#d5f84d 263px,#e3f747 273px,#bef856 283px,#a1f571 293px,#bbf858 303px,#bff856 313px,#b5f75f 323px,#a3f66f 333px,#9df575 336px)"></i><i style="width:1px;background:linear-gradient(#9ff573 3px,#96f47c 13px,#8ff383 23px,#8cf386 33px,#97f47b 43px,#acf666 53px,#c9f851 63px,#ddf849 73px,#d9f84b 83px,#bdf857 93px,#adf665 103px,#a3f66f 113px,#7ef195 123px,#6be3a6 133px,#68e0a8 143px,#6de5a5 153px,#74eea0 163px,#73eda1 173px,#71eba2 183px,#6be4a6 193px,#6fe8a3 203px,#78ef9b 213px,#93f47f 223px,#aef764 233px,#bef856 243px,#c7f852 253px,#d1f84f 263px,#d5f84d 273px,#b5f75e 283px,#9ef574 293px,#acf666 303px,#aef764 313px,#a8f66a 323px,#93f47f 333px,#8df385 336px)"></i><i style="width:1px;background:linear-gradient(#a0f572 3px,#86f28c 13px,#7af099 23px,#7cf097 33px,#8ff383 43px,#abf667 53px,#baf85a 63px,#c9f852 73px,#c2f854 83px,#abf668 93px,#93f47f 103px,#7ff194 113px,#6ae3a7 123px,#5ed8b2 133px,#5ed9b2 143px,#64deac 153px,#6ee7a4 163px,#6ce5a5 173px,#6ae2a7 183px,#63dead 193px,#65deab 203px,#6be3a6 213px,#7bf098 223px,#8df385 233px,#9bf577 243px,#aaf668 253px,#b9f85a 263px,#c6f853 273px,#a7f66b 283px,#8cf386 293px,#8cf386 303px,#81f291 313px,#74eea0 323px,#79f09a 333px,#7af099 336px)"></i><i style="width:1px;background:linear-gradient(#83f28f 3px,#79f09a 13px,#73eca1 23px,#70eaa3 33px,#7af099 43px,#89f389 53px,#96f47c 63px,#a2f570 73px,#97f47b 83px,#8ef384 93px,#7cf097 103px,#65dfab 113px,#5ed8b2 123px,#5bd3b5 133px,#5bd2b5 143px,#5dd5b3 153px,#5fdbb1 163px,#5fdab1 173px,#5fdab1 183px,#5ed9b2 193px,#5ed8b2 203px,#5fdab1 213px,#6ce4a5 223px,#7bf098 233px,#8ef384 243px,#84f28e 253px,#8cf386 263px,#aff764 273px,#90f482 283px,#79f09a 293px,#78ef9b 303px,#72eba2 313px,#6ae3a6 323px,#6ce4a6 333px,#6ce4a6 336px)"></i><i style="width:1px;background:linear-gradient(#73eca1 3px,#72eca1 13px,#70eaa2 23px,#6fe8a3 33px,#70e9a3 43px,#73eda1 53px,#7ff193 63px,#8df385 73px,#8bf387 83px,#82f290 93px,#73eda1 103px,#60dcb0 113px,#5ed8b2 123px,#5dd7b3 133px,#5bd1b5 143px,#5bd1b5 153px,#5cd4b4 163px,#5bd2b5 173px,#5bd3b5 183px,#5cd4b4 193px,#5bd1b5 203px,#5bd3b5 213px,#66dfaa 223px,#74eea0 233px,#86f28c 243px,#78ef9b 253px,#79f09a 263px,#8bf387 273px,#7ef194 283px,#74eea0 293px,#74eea0 303px,#72eca1 313px,#70e9a3 323px,#65dfab 333px,#61dcaf 336px)"></i><i style="width:1px;background:linear-gradient(#88f38a 3px,#86f28c 13px,#86f28c 23px,#8af388 33px,#88f38a 43px,#8df385 53px,#a3f66f 63px,#baf85a 73px,#bcf857 83px,#acf667 93px,#94f47e 103px,#7bf098 113px,#72eca1 123px,#6ce5a5 133px,#61dcaf 143px,#5fdbb1 153px,#61dcaf 163px,#5fdab1 173px,#5fdbb1 183px,#62ddae 193px,#62ddae 203px,#64deac 213px,#6de6a5 223px,#7ef195 233px,#9bf577 243px,#97f47b 253px,#9af578 263px,#a0f572 273px,#93f47f 283px,#8ef384 293px,#9cf576 303px,#97f47b 313px,#8af388 323px,#75ee9f 333px,#70eaa2 336px)"></i><i style="width:1px;background:linear-gradient(#90f482 3px,#92f480 13px,#92f480 23px,#94f47e 33px,#9af578 43px,#a7f66b 53px,#bff856 63px,#d3f84d 73px,#d0f84f 83px,#bbf859 93px,#a9f669 103px,#93f47f 113px,#82f290 123px,#73eda1 133px,#66dfaa 143px,#63ddad 153px,#65dfab 163px,#5ed8b2 173px,#60dbb0 183px,#6ee7a4 193px,#70e9a3 203px,#70e9a3 213px,#70eaa3 223px,#88f38a 233px,#bbf858 243px,#b8f75b 253px,#bcf858 263px,#c3f854 273px,#aef765 283px,#a0f572 293px,#b5f75e 303px,#adf666 313px,#93f47f 323px,#88f38a 333px,#84f28e 336px)"></i><i style="width:1px;background:linear-gradient(#75ee9e 3px,#7ef195 13px,#81f291 23px,#7ff194 33px,#8ef384 43px,#a4f66e 53px,#aef764 63px,#bdf857 73px,#b9f85a 83px,#98f47a 93px,#88f38a 103px,#83f28f 113px,#75ee9f 123px,#6ae3a6 133px,#5fdab1 143px,#5fdab1 153px,#62ddae 163px,#5bd1b5 173px,#5cd4b4 183px,#6de6a5 193px,#6fe9a3 203px,#6fe8a4 213px,#6ce5a5 223px,#7df196 233px,#aaf668 243px,#a8f66a 253px,#b4f760 263px,#ccf851 273px,#b6f75d 283px,#a1f571 293px,#9df575 303px,#96f47c 313px,#8ff383 323px,#8bf387 333px,#89f389 336px)"></i><i style="width:1px;background:linear-gradient(#77ef9d 3px,#7bf098 13px,#7ef195 23px,#80f292 33px,#99f479 43px,#b2f761 53px,#a9f669 63px,#b5f75e 73px,#b7f75c 83px,#93f47f 93px,#85f28d 103px,#87f38b 113px,#76ef9d 123px,#6ae3a7 133px,#5fdab1 143px,#5fdab1 153px,#65deab 163px,#5dd7b3 173px,#5ed9b2 183px,#6ae3a6 193px,#6ae3a6 203px,#6ae2a7 213px,#6ee7a4 223px,#7af099 233px,#8ef384 243px,#9af578 253px,#b0f763 263px,#c9f851 273px,#b9f85b 283px,#a6f66c 293px,#98f47a 303px,#9af578 313px,#a3f56f 323px,#9bf577 333px,#98f47a 336px)"></i><i style="width:1px;background:linear-gradient(#80f192 3px,#7bf098 13px,#7bf098 23px,#84f28e 33px,#9af578 43px,#aef765 53px,#a1f571 63px,#a9f669 73px,#a7f66b 83px,#90f482 93px,#84f28e 103px,#7df096 113px,#70e9a3 123px,#65dfab 133px,#5fd9b1 143px,#5ed7b2 153px,#5ed7b2 163px,#5ed7b2 173px,#5ed9b2 183px,#5fd9b1 193px,#5ed9b2 203px,#60dbb0 213px,#6fe8a3 223px,#7af099 233px,#81f291 243px,#8df385 253px,#9df575 263px,#abf667 273px,#98f47a 283px,#8af388 293px,#88f38a 303px,#8bf387 313px,#90f482 323px,#87f38b 333px,#84f28e 336px)"></i><i style="width:1px;background:linear-gradient(#7af099 3px,#78ef9c 13px,#7af09a 23px,#82f290 33px,#93f47f 43px,#a8f66a 53px,#aaf668 63px,#adf665 73px,#9ef574 83px,#89f389 93px,#7bf098 103px,#71eaa2 113px,#67e0a9 123px,#5fdbb1 133px,#60dcb0 143px,#5ed8b2 153px,#5ad0b6 163px,#5cd4b4 173px,#5dd6b3 183px,#5ad1b6 193px,#5dd6b3 203px,#62ddae 213px,#6ee8a4 223px,#7bf098 233px,#88f38a 243px,#86f28c 253px,#8cf386 263px,#9cf576 273px,#8bf387 283px,#7df196 293px,#79ef9b 303px,#78ef9c 313px,#78ef9c 323px,#73eda0 333px,#72eca1 336px)"></i><i style="width:1px;background:linear-gradient(#81f291 3px,#83f28f 13px,#8cf386 23px,#a7f66b 33px,#acf667 43px,#b6f75d 53px,#d6f84c 63px,#dcf84a 73px,#c1f855 83px,#a3f66f 93px,#8ff383 103px,#83f28f 113px,#75ee9f 123px,#6ee6a4 133px,#6de6a5 143px,#68e0a8 153px,#61ddaf 163px,#66dfaa 173px,#6ae2a7 183px,#68e0a8 193px,#6be4a6 203px,#70e9a3 213px,#79ef9a 223px,#90f482 233px,#b0f763 243px,#a6f66c 253px,#abf668 263px,#bcf858 273px,#a9f669 283px,#93f47f 293px,#8bf387 303px,#88f38a 313px,#88f38a 323px,#89f389 333px,#88f38a 336px)"></i><i style="width:1px;background:linear-gradient(#89f389 3px,#91f481 13px,#9ff573 23px,#b6f75d 33px,#b8f75b 43px,#c3f854 53px,#e8f644 63px,#eaf643 73px,#caf851 83px,#bef856 93px,#b0f763 103px,#9af578 113px,#80f192 123px,#71eba2 133px,#6fe8a3 143px,#6de5a5 153px,#6be4a6 163px,#6fe9a3 173px,#75ee9f 183px,#79f09a 193px,#78ef9c 203px,#78ef9c 213px,#7ff193 223px,#96f47c 233px,#b8f75c 243px,#bbf859 253px,#c4f854 263px,#d0f84f 273px,#baf85a 283px,#a6f66c 293px,#a4f66e 303px,#a3f66f 313px,#a2f570 323px,#9cf576 333px,#9af578 336px)"></i><i style="width:1px;background:linear-gradient(#7ef195 3px,#8bf387 13px,#92f480 23px,#93f47f 33px,#aaf668 43px,#c5f853 53px,#ddf849 63px,#daf84b 73px,#b5f75e 83px,#b6f75e 93px,#acf666 103px,#90f482 113px,#70eaa2 123px,#62ddae 133px,#6ee6a4 143px,#6ce4a6 153px,#63ddad 163px,#68e0a8 173px,#6ee6a4 183px,#73eda1 193px,#72eca1 203px,#72eba2 213px,#78ef9b 223px,#8af388 233px,#a4f66e 243px,#a6f66c 253px,#b1f762 263px,#c4f854 273px,#adf666 283px,#96f47c 293px,#94f47e 303px,#95f47d 313px,#98f47a 323px,#87f38b 333px,#82f290 336px)"></i><i style="width:1px;background:linear-gradient(#77ef9d 3px,#8cf386 13px,#94f47e 23px,#8cf386 33px,#a7f66b 43px,#c5f853 53px,#d4f84d 63px,#d2f84e 73px,#b4f75f 83px,#a5f66d 93px,#93f47f 103px,#80f193 113px,#68e1a8 123px,#5dd7b3 133px,#6be3a6 143px,#69e1a7 153px,#5fdab1 163px,#60dcb0 173px,#66dfaa 183px,#6ee6a4 193px,#6ae2a7 203px,#68e0a8 213px,#73eda0 223px,#88f38a 233px,#a0f572 243px,#96f47c 253px,#a1f571 263px,#bef856 273px,#a9f669 283px,#92f480 293px,#8df385 303px,#8ef384 313px,#90f482 323px,#87f38b 333px,#83f28f 336px)"></i><i style="width:1px;background:linear-gradient(#6ee7a4 3px,#85f28d 13px,#94f47e 23px,#90f482 33px,#a9f669 43px,#c0f855 53px,#c2f854 63px,#c9f852 73px,#bdf857 83px,#8cf386 93px,#78ef9c 103px,#73eca1 113px,#62ddae 123px,#5bd2b5 133px,#5fd9b1 143px,#60dbb0 153px,#5fdab1 163px,#5ed9b2 173px,#60dbb0 183px,#64deac 193px,#5fd9b1 203px,#5ed8b2 213px,#6ce5a5 223px,#82f290 233px,#a4f66e 243px,#92f480 253px,#98f47a 263px,#b9f85b 273px,#a8f66a 283px,#94f47e 293px,#91f481 303px,#88f38a 313px,#7df195 323px,#8bf387 333px,#8ff383 336px)"></i><i style="width:1px;background:linear-gradient(#67dfa9 3px,#6fe9a3 13px,#77ef9d 23px,#7ff194 33px,#97f47b 43px,#b1f762 53px,#a8f66a 63px,#b3f760 73px,#b3f760 83px,#80f292 93px,#6fe9a3 103px,#6ce5a5 113px,#5ed8b2 123px,#58cdb8 133px,#5bd3b5 143px,#5cd5b4 153px,#5cd4b4 163px,#5ad1b6 173px,#5bd1b5 183px,#5cd4b4 193px,#5acfb6 203px,#5acfb6 213px,#69e1a7 223px,#80f192 233px,#a1f571 243px,#88f38a 253px,#88f38a 263px,#a4f66e 273px,#90f482 283px,#84f28e 293px,#8ef384 303px,#7df196 313px,#6be3a6 323px,#7af099 333px,#7ff193 336px)"></i><i style="width:1px;background:linear-gradient(#6ee7a4 3px,#72eca1 13px,#77ef9d 23px,#7df195 33px,#9af578 43px,#b8f75b 53px,#b0f763 63px,#b4f75f 73px,#acf666 83px,#9df575 93px,#8bf387 103px,#76ee9e 113px,#65dfab 123px,#5dd6b3 133px,#60dcb0 143px,#60dbb0 153px,#5dd6b3 163px,#5ad0b6 173px,#5bd2b5 183px,#5fd9b1 193px,#5ed8b2 203px,#5fdbb1 213px,#73eda1 223px,#8af388 233px,#9df575 243px,#90f482 253px,#92f480 263px,#a7f66b 273px,#94f47e 283px,#8bf387 293px,#a2f570 303px,#8ef384 313px,#73eca1 323px,#75ee9f 333px,#76ef9e 336px)"></i><i style="width:1px;background:linear-gradient(#6fe8a3 3px,#7ff194 13px,#8cf386 23px,#92f480 33px,#a0f572 43px,#aef765 53px,#aff764 63px,#baf85a 73px,#b8f75b 83px,#b2f761 93px,#a0f572 103px,#80f292 113px,#6de6a5 123px,#60dcb0 133px,#60dcb0 143px,#5fdbb1 153px,#5ed9b2 163px,#5cd3b4 173px,#5dd6b3 183px,#64deac 193px,#67dfa9 203px,#6be3a6 213px,#79ef9a 223px,#89f389 233px,#93f47f 243px,#9ff573 253px,#a9f669 263px,#adf665 273px,#a2f570 283px,#9df575 293px,#abf667 303px,#9cf576 313px,#82f290 323px,#78ef9c 333px,#74eea0 336px)"></i><i style="width:1px;background:linear-gradient(#6ce4a6 3px,#7df196 13px,#90f482 23px,#9ef574 33px,#90f482 43px,#8af388 53px,#a1f571 63px,#b9f85b 73px,#bef856 83px,#a4f66e 93px,#8df385 103px,#7cf097 113px,#6de6a5 123px,#60dcb0 133px,#5cd4b4 143px,#5cd5b4 153px,#5fdbb1 163px,#5cd4b4 173px,#5cd5b4 183px,#5fdab1 193px,#5fdbb1 203px,#62ddae 213px,#70e9a3 223px,#80f292 233px,#94f47e 243px,#99f579 253px,#a3f56f 263px,#abf667 273px,#a3f66f 283px,#99f579 293px,#90f482 303px,#8af388 313px,#84f28e 323px,#79f09a 333px,#76ef9e 336px)"></i><i style="width:1px;background:linear-gradient(#70e9a3 3px,#7af09a 13px,#86f28c 23px,#97f47b 33px,#90f482 43px,#8ff383 53px,#a5f66d 63px,#b9f85b 73px,#b8f75b 83px,#a2f570 93px,#91f481 103px,#85f28d 113px,#75ee9e 123px,#6be4a6 133px,#60dcb0 143px,#62ddae 153px,#6ae2a7 163px,#5fdab1 173px,#5dd7b3 183px,#5fd9b1 193px,#5fdab1 203px,#62ddae 213px,#70e9a3 223px,#82f290 233px,#9cf576 243px,#95f47d 253px,#9bf577 263px,#acf666 273px,#abf667 283px,#a4f66e 293px,#8ef384 303px,#88f38a 313px,#89f389 323px,#85f28d 333px,#83f28f 336px)"></i><i style="width:1px;background:linear-gradient(#6be4a6 3px,#6fe8a3 13px,#74ee9f 23px,#81f291 33px,#88f38a 43px,#8ff383 53px,#97f47b 63px,#9ff573 73px,#92f480 83px,#87f38b 93px,#81f291 103px,#7df196 113px,#6fe8a3 123px,#64deac 133px,#5fdab1 143px,#5fdab1 153px,#60dcb0 163px,#5bd2b5 173px,#5ad0b6 183px,#5cd5b4 193px,#5dd6b3 203px,#5fdbb1 213px,#6fe8a4 223px,#7bf098 233px,#83f28f 243px,#84f28e 253px,#88f38a 263px,#8ff383 273px,#8ef384 283px,#8bf387 293px,#85f28d 303px,#80f193 313px,#7af099 323px,#7ff193 333px,#80f192 336px)"></i><i style="width:1px;background:linear-gradient(#67dfa9 3px,#6ce4a6 13px,#6fe8a4 23px,#71eba2 33px,#7af09a 43px,#87f38b 53px,#96f47c 63px,#94f47e 73px,#7ef195 83px,#78ef9b 93px,#74eea0 103px,#72eba2 113px,#61dcaf 123px,#5ad0b6 133px,#5bd2b5 143px,#59ceb7 153px,#54c5ba 163px,#52c4bb 173px,#56c9b9 183px,#5bd3b5 193px,#5ad0b6 203px,#5bd1b5 213px,#6ae3a6 223px,#73eda0 233px,#76ef9d 243px,#7cf096 253px,#84f28e 263px,#8bf387 273px,#83f28f 283px,#7cf097 293px,#77ef9d 303px,#76ee9e 313px,#77ef9d 323px,#76ee9e 333px,#75ee9f 336px)"></i><i style="width:1px;background:linear-gradient(#6ce4a5 3px,#6fe8a4 13px,#71eaa2 23px,#74eea0 33px,#7ef194 43px,#8ef384 53px,#a8f66a 63px,#adf666 73px,#94f47e 83px,#87f38b 93px,#7ef195 103px,#75ee9f 113px,#64deac 123px,#5bd3b5 133px,#5cd3b4 143px,#59ceb7 153px,#54c6ba 163px,#58ccb8 173px,#5cd4b4 183px,#60dbb0 193px,#5cd5b4 203px,#5bd2b5 213px,#69e1a7 223px,#73eda1 233px,#79ef9a 243px,#85f28d 253px,#94f47e 263px,#a8f66a 273px,#9bf577 283px,#8bf387 293px,#7af099 303px,#7bf097 313px,#86f28c 323px,#77ef9c 333px,#73eda0 336px)"></i><i style="width:1px;background:linear-gradient(#6ee7a4 3px,#73eda1 13px,#7af099 23px,#85f28d 33px,#8cf386 43px,#96f47c 53px,#adf665 63px,#b9f85a 73px,#aef764 83px,#94f47e 93px,#87f38b 103px,#7ff193 113px,#6de5a5 123px,#5ed9b2 133px,#5bd1b5 143px,#5bd2b5 153px,#5ed8b2 163px,#62ddae 173px,#68e0a8 183px,#6be3a6 193px,#62ddae 203px,#5ed8b2 213px,#67e0a9 223px,#70eaa2 233px,#79ef9a 243px,#85f28d 253px,#98f47a 263px,#aff764 273px,#a2f570 283px,#91f481 293px,#83f28f 303px,#84f28e 313px,#8af388 323px,#79ef9a 333px,#74ee9f 336px)"></i><i style="width:1px;background:linear-gradient(#6ce5a5 3px,#75ee9e 13px,#80f192 23px,#8af388 33px,#97f47b 43px,#a9f669 53px,#b7f75c 63px,#bbf859 73px,#a9f669 83px,#9df575 93px,#90f482 103px,#80f192 113px,#6be4a6 123px,#5ed8b2 133px,#5cd4b4 143px,#5dd5b3 153px,#5ed9b2 163px,#5fd9b1 173px,#64deac 183px,#6ee7a4 193px,#67dfa9 203px,#60dcb0 213px,#6be4a6 223px,#75ee9f 233px,#81f292 243px,#85f28d 253px,#90f482 263px,#a4f66e 273px,#9cf576 283px,#92f480 293px,#88f38a 303px,#84f28e 313px,#82f290 323px,#79ef9b 333px,#75ee9e 336px)"></i><i style="width:1px;background:linear-gradient(#6fe9a3 3px,#74eea0 13px,#7df196 23px,#8bf387 33px,#a2f570 43px,#b8f75c 53px,#bff856 63px,#bbf858 73px,#a3f56f 83px,#a3f56f 93px,#99f479 103px,#83f28f 113px,#6ae2a7 123px,#5dd6b3 133px,#5fdbb1 143px,#5ed9b2 153px,#5cd3b4 163px,#5bd1b5 173px,#5dd6b3 183px,#67dfa9 193px,#63ddad 203px,#60dcb0 213px,#6be4a6 223px,#7af099 233px,#91f481 243px,#8af388 253px,#8cf386 263px,#97f47b 273px,#99f579 283px,#97f47b 293px,#8df385 303px,#83f28f 313px,#7af099 323px,#74eea0 333px,#72eca1 336px)"></i><i style="width:1px;background:linear-gradient(#7cf096 3px,#7df196 13px,#83f28f 23px,#98f47a 33px,#a8f66a 43px,#b3f760 53px,#b1f762 63px,#b4f75f 73px,#a9f669 83px,#a8f66a 93px,#a4f66e 103px,#99f479 113px,#71eaa2 123px,#5fdab1 133px,#67e0a9 143px,#67dfa9 153px,#61dcaf 163px,#5ed9b2 173px,#5fdab1 183px,#63dead 193px,#62ddae 203px,#62ddae 213px,#69e1a7 223px,#76ef9e 233px,#8ff383 243px,#8df385 253px,#8ff383 263px,#93f47f 273px,#93f47f 283px,#92f480 293px,#91f481 303px,#87f38b 313px,#7cf097 323px,#77ef9d 333px,#75ee9f 336px)"></i><i style="width:1px;background:linear-gradient(#7cf097 3px,#80f193 13px,#84f28e 23px,#8df385 33px,#9bf577 43px,#a6f66c 53px,#99f479 63px,#a5f66d 73px,#abf668 83px,#a2f570 93px,#9cf576 103px,#94f47e 113px,#74eea0 123px,#66dfaa 133px,#6be4a6 143px,#6ce5a5 153px,#6be3a6 163px,#60dbb0 173px,#5fdab1 183px,#64deac 193px,#61dcaf 203px,#60dcb0 213px,#6ce5a5 223px,#78ef9c 233px,#87f38b 243px,#99f479 253px,#a1f571 263px,#94f47e 273px,#8cf386 283px,#87f38b 293px,#86f28c 303px,#85f28d 313px,#84f28e 323px,#83f28f 333px,#82f290 336px)"></i><i style="width:1px;background:linear-gradient(#75ee9e 3px,#7cf097 13px,#7ef195 23px,#7df196 33px,#8ef384 43px,#a3f66f 53px,#9bf577 63px,#a6f66c 73px,#a9f669 83px,#95f47d 93px,#89f389 103px,#7ff193 113px,#6fe8a3 123px,#64deac 133px,#66dfaa 143px,#68e0a8 153px,#69e2a7 163px,#5fdab1 173px,#5dd6b3 183px,#5ed9b2 193px,#5dd7b3 203px,#5ed8b2 213px,#6de6a4 223px,#7df196 233px,#8ff383 243px,#b4f75f 253px,#baf85a 263px,#96f47c 273px,#8ff383 283px,#8bf387 293px,#81f292 303px,#83f28f 313px,#8cf386 323px,#93f47f 333px,#96f47c 336px)"></i><i style="width:1px;background:linear-gradient(#75ee9e 3px,#78ef9c 13px,#7af09a 23px,#7ef195 33px,#8df385 43px,#a1f571 53px,#a7f66b 63px,#aef764 73px,#a5f66d 83px,#92f480 93px,#84f28e 103px,#74eea0 113px,#65dfab 123px,#5dd6b3 133px,#5fdab1 143px,#5fdab1 153px,#5fd9b1 163px,#5ed8b2 173px,#5ed7b2 183px,#5dd6b3 193px,#5cd4b4 203px,#5dd7b3 213px,#6ce4a6 223px,#76ef9d 233px,#80f292 243px,#a6f66c 253px,#b1f762 263px,#93f47f 273px,#92f480 283px,#92f480 293px,#87f38b 303px,#85f28d 313px,#88f38a 323px,#95f47d 333px,#99f579 336px)"></i><i style="width:1px;background:linear-gradient(#7cf097 3px,#7af099 13px,#7cf096 23px,#87f38b 33px,#91f481 43px,#9ff573 53px,#a8f66a 63px,#aff764 73px,#a4f66e 83px,#a5f66d 93px,#94f47e 103px,#78ef9b 113px,#66dfaa 123px,#5dd6b3 133px,#60dcb0 143px,#5ed8b2 153px,#5ad0b6 163px,#5dd7b3 173px,#60dcb0 183px,#63ddad 193px,#5fd9b1 203px,#5ed9b2 213px,#72eba2 223px,#78ef9b 233px,#74eea0 243px,#93f47f 253px,#aaf668 263px,#a0f572 273px,#92f480 283px,#8bf387 293px,#8bf387 303px,#86f28c 313px,#80f192 323px,#88f38a 333px,#8bf387 336px)"></i><i style="width:1px;background:linear-gradient(#8ef384 3px,#86f28c 13px,#86f28c 23px,#93f47f 33px,#9cf576 43px,#a8f66a 53px,#b1f761 63px,#b5f75e 73px,#a7f66b 83px,#b8f75c 93px,#b0f763 103px,#86f28c 113px,#70e9a3 123px,#66dfaa 133px,#6ae2a7 143px,#66dfaa 153px,#60dbb0 163px,#63dead 173px,#69e1a8 183px,#6be3a6 193px,#65dfab 203px,#66dfaa 213px,#7df196 223px,#85f28d 233px,#7ef195 243px,#98f47a 253px,#aff764 263px,#b1f762 273px,#98f47a 283px,#88f38a 293px,#8cf386 303px,#87f38b 313px,#7ff193 323px,#82f290 333px,#83f28f 336px)"></i><i style="width:1px;background:linear-gradient(#8cf386 3px,#7df195 13px,#7af099 23px,#86f28c 33px,#92f480 43px,#a5f66d 53px,#b8f75b 63px,#b1f762 73px,#8ef384 83px,#9bf577 93px,#96f47c 103px,#7df196 113px,#6fe9a3 123px,#68e1a8 133px,#69e2a7 143px,#6be4a6 153px,#6ce5a5 163px,#65deab 173px,#62ddae 183px,#65dfab 193px,#65dfab 203px,#68e0a8 213px,#75ee9f 223px,#7df096 233px,#7cf097 243px,#88f38a 253px,#9af578 263px,#aef764 273px,#9df575 283px,#8ef384 293px,#8bf387 303px,#84f28e 313px,#7df096 323px,#7ef194 333px,#7ef194 336px)"></i><i style="width:1px;background:linear-gradient(#75ee9f 3px,#72eba1 13px,#72eca1 23px,#7af09a 33px,#7ff193 43px,#8bf387 53px,#aaf669 63px,#9df575 73px,#77ef9c 83px,#7ff193 93px,#7cf097 103px,#6de6a4 113px,#63ddad 123px,#5ed8b2 133px,#5fdab1 143px,#62ddae 153px,#67dfa9 163px,#60dcb0 173px,#5fd9b1 183px,#5ed8b2 193px,#5fd9b1 203px,#62ddae 213px,#6de6a5 223px,#78ef9b 233px,#83f28f 243px,#83f28f 253px,#8cf386 263px,#a4f66e 273px,#9ff573 283px,#93f47f 293px,#83f28f 303px,#78ef9b 313px,#71eba2 323px,#73eda1 333px,#73eda1 336px)"></i><i style="width:1px;background:linear-gradient(#75ee9f 3px,#7df195 13px,#82f290 23px,#86f28c 33px,#81f291 43px,#85f28d 53px,#aef765 63px,#adf666 73px,#88f38a 83px,#88f38a 93px,#7ff193 103px,#6fe8a4 113px,#61dcaf 123px,#5cd4b4 133px,#5ed8b2 143px,#5fdbb1 153px,#62ddae 163px,#67dfa9 173px,#65deab 183px,#5dd6b3 193px,#5fd9b1 203px,#65dfab 213px,#6fe9a3 223px,#88f38a 233px,#b2f761 243px,#9ef574 253px,#9bf577 263px,#a7f66b 273px,#9ef574 283px,#92f480 293px,#83f28f 303px,#79ef9a 313px,#72eba2 323px,#77ef9d 333px,#79ef9b 336px)"></i><i style="width:1px;background:linear-gradient(#87f38b 3px,#96f47c 13px,#9ef574 23px,#9cf576 33px,#9cf576 43px,#a6f66c 53px,#c5f853 63px,#ccf850 73px,#b6f75e 83px,#a0f572 93px,#90f482 103px,#83f28f 113px,#72eca1 123px,#69e1a7 133px,#67dfa9 143px,#67e0a9 153px,#69e1a8 163px,#68e0a8 173px,#68e0a8 183px,#64deac 193px,#6be4a6 203px,#73eda1 213px,#7bf097 223px,#9df575 233px,#cef850 243px,#bff856 253px,#b8f75c 263px,#b4f75f 273px,#a3f56f 283px,#95f47d 293px,#98f47a 303px,#94f47e 313px,#8ef384 323px,#94f47e 333px,#96f47c 336px)"></i><i style="width:1px;background:linear-gradient(#7ff193 3px,#8df385 13px,#94f47e 23px,#95f47d 33px,#a0f572 43px,#aef764 53px,#bbf859 63px,#c7f852 73px,#c2f854 83px,#a6f66c 93px,#96f47c 103px,#95f47d 113px,#82f290 123px,#72eca1 133px,#67dfa9 143px,#64deac 153px,#67dfa9 163px,#60dbb0 173px,#62ddae 183px,#6ee8a4 193px,#72eba2 203px,#76ee9e 213px,#85f28d 223px,#9af578 233px,#b0f763 243px,#b8f75b 253px,#b9f85a 263px,#acf666 273px,#a5f66d 283px,#a1f571 293px,#a0f572 303px,#9af578 313px,#92f480 323px,#93f47f 333px,#93f47f 336px)"></i><i style="width:1px;background:linear-gradient(#73eda0 3px,#7af099 13px,#80f193 23px,#88f38a 33px,#90f482 43px,#9af578 53px,#a4f66e 63px,#b5f75e 73px,#b9f85b 83px,#9ff573 93px,#92f480 103px,#90f482 113px,#80f192 123px,#71eaa2 133px,#61ddaf 143px,#5fd9b1 153px,#5fdab1 163px,#5dd6b3 173px,#5fdbb1 183px,#6de6a5 193px,#6de5a5 203px,#6ee7a4 213px,#80f193 223px,#89f389 233px,#88f38a 243px,#9df575 253px,#a9f669 263px,#a1f571 273px,#a2f570 283px,#a4f66e 293px,#99f479 303px,#8cf386 313px,#80f193 323px,#7bf098 333px,#7af09a 336px)"></i><i style="width:1px;background:linear-gradient(#77ef9d 3px,#77ef9d 13px,#7af099 23px,#84f28e 33px,#89f389 43px,#8ff383 53px,#93f47f 63px,#9ef574 73px,#9af578 83px,#94f47e 93px,#93f47f 103px,#91f481 113px,#7cf097 123px,#6de5a5 133px,#61dcaf 143px,#5ed7b2 153px,#5dd5b3 163px,#5dd6b3 173px,#5fdbb1 183px,#68e0a8 193px,#65deab 203px,#65dfab 213px,#74eea0 223px,#7cf097 233px,#7cf097 243px,#8ff383 253px,#a1f571 263px,#a2f570 273px,#96f47c 283px,#8ff383 293px,#90f482 303px,#8af388 313px,#81f291 323px,#77ef9c 333px,#74eea0 336px)"></i><i style="width:1px;background:linear-gradient(#72eba2 3px,#70e9a3 13px,#6fe9a3 23px,#73eca1 33px,#7df196 43px,#88f38a 53px,#87f38b 63px,#88f38a 73px,#80f193 83px,#84f28e 93px,#88f38a 103px,#88f38a 113px,#71eaa2 123px,#63ddad 133px,#61ddaf 143px,#5ed7b2 153px,#5acfb6 163px,#5cd5b4 173px,#60dbb0 183px,#65deab 193px,#61ddaf 203px,#60dcb0 213px,#6de6a5 223px,#74eda0 233px,#78ef9b 243px,#86f28c 253px,#92f480 263px,#94f47e 273px,#84f28e 283px,#7bf098 293px,#84f28e 303px,#81f291 313px,#7af099 323px,#78ef9b 333px,#78ef9c 336px)"></i><i style="width:1px;background:linear-gradient(#6ce5a5 3px,#6be3a6 13px,#69e1a7 23px,#68e0a8 33px,#73eca1 43px,#83f28f 53px,#87f38b 63px,#87f38b 73px,#7af099 83px,#7df196 93px,#7ff194 103px,#7cf097 113px,#6be3a6 123px,#5fd9b1 133px,#5fdab1 143px,#5cd4b4 153px,#58ccb8 163px,#5ad0b6 173px,#5ed8b2 183px,#64deac 193px,#61dcaf 203px,#60dcb0 213px,#6ce4a6 223px,#75ee9f 233px,#80f192 243px,#87f38b 253px,#88f38a 263px,#80f292 273px,#7ef194 283px,#7ef195 293px,#7ef194 303px,#78ef9c 313px,#70e9a3 323px,#73eda0 333px,#74eea0 336px)"></i><i style="width:1px;background:linear-gradient(#70eaa2 3px,#72eba2 13px,#71eaa2 23px,#70e9a3 33px,#78ef9b 43px,#89f389 53px,#9df575 63px,#9cf576 73px,#82f290 83px,#80f193 93px,#80f192 103px,#81f292 113px,#70e9a3 123px,#61ddaf 133px,#5cd3b4 143px,#5bd2b5 153px,#5dd5b3 163px,#5dd5b3 173px,#60dbb0 183px,#6be3a6 193px,#65dfab 203px,#61ddaf 213px,#6de6a5 223px,#7df096 233px,#92f480 243px,#97f47b 253px,#95f47d 263px,#89f389 273px,#8df385 283px,#8ff383 293px,#81f291 303px,#7bf098 313px,#78ef9b 323px,#73eca1 333px,#71eba2 336px)"></i><i style="width:1px;background:linear-gradient(#76ef9d 3px,#7af099 13px,#7ff194 23px,#88f38a 33px,#91f481 43px,#a0f572 53px,#b3f760 63px,#aef764 73px,#8ef384 83px,#80f193 93px,#7ef195 103px,#86f28c 113px,#78ef9c 123px,#6be3a6 133px,#5ed7b2 143px,#5fdab1 153px,#69e2a7 163px,#69e1a8 173px,#6be4a6 183px,#6fe8a4 193px,#6ce4a6 203px,#69e2a7 213px,#6de6a5 223px,#7ef194 233px,#a4f66e 243px,#a9f669 253px,#b0f763 263px,#b7f75c 273px,#a0f572 283px,#8ef384 293px,#8ff383 303px,#90f482 313px,#8ff383 323px,#7cf096 333px,#77ef9c 336px)"></i><i style="width:1px;background:linear-gradient(#74eea0 3px,#75ee9e 13px,#7ef194 23px,#97f47b 33px,#a1f571 43px,#a9f669 53px,#acf667 63px,#a2f570 73px,#86f28c 83px,#80f193 93px,#7df196 103px,#7cf097 113px,#71eba2 123px,#6ae2a7 133px,#62ddae 143px,#62ddae 153px,#66dfaa 163px,#63dead 173px,#64deac 183px,#67dfa9 193px,#69e1a8 203px,#6ae2a7 213px,#69e2a7 223px,#79f09a 233px,#a2f570 243px,#9ef574 253px,#a7f66b 263px,#b9f85b 273px,#97f47b 283px,#80f192 293px,#86f28c 303px,#8ef384 313px,#94f47e 323px,#80f292 333px,#7bf098 336px)"></i><i style="width:1px;background:linear-gradient(#70eaa2 3px,#73eda1 13px,#7cf097 23px,#92f480 33px,#97f47b 43px,#9cf576 53px,#a6f66c 63px,#a6f66c 73px,#92f480 83px,#92f480 93px,#88f38a 103px,#74eea0 113px,#69e2a7 123px,#60dcb0 133px,#60dbb0 143px,#60dcb0 153px,#63ddad 163px,#5fdab1 173px,#5fdbb1 183px,#65dfab 193px,#65dfab 203px,#66dfaa 213px,#6ae3a6 223px,#75ee9f 233px,#89f389 243px,#8cf386 253px,#92f480 263px,#98f47a 273px,#8ef384 283px,#84f28e 293px,#7af099 303px,#7df196 313px,#87f38b 323px,#7ef194 333px,#7cf097 336px)"></i><i style="width:1px;background:linear-gradient(#73eda0 3px,#84f28e 13px,#92f480 23px,#9df575 33px,#96f47c 43px,#97f47b 53px,#b0f763 63px,#bff855 73px,#bcf858 83px,#a9f669 93px,#95f47d 103px,#84f28e 113px,#70eaa2 123px,#66dfaa 133px,#6ae2a7 143px,#6ee7a4 153px,#73eda0 163px,#6ee7a4 173px,#6de6a5 183px,#6fe8a3 193px,#6ce5a5 203px,#6ce4a5 213px,#76ef9d 223px,#80f292 233px,#86f28c 243px,#93f47f 253px,#9ef574 263px,#9ef574 273px,#9cf576 283px,#96f47c 293px,#85f28d 303px,#7ff194 313px,#7df196 323px,#8af388 333px,#8ef384 336px)"></i><i style="width:1px;background:linear-gradient(#78ef9c 3px,#8ff383 13px,#a4f66e 23px,#aff764 33px,#a0f572 43px,#9af578 53px,#b6f75d 63px,#c6f853 73px,#bff855 83px,#a0f572 93px,#92f480 103px,#96f47c 113px,#7df096 123px,#6fe8a3 133px,#75ee9f 143px,#78ef9b 153px,#79ef9a 163px,#71eba2 173px,#70e9a3 183px,#72eba2 193px,#71eaa2 203px,#73eda0 213px,#8af388 223px,#9af578 233px,#a1f571 243px,#a9f669 253px,#b0f762 263px,#b5f75e 273px,#a6f66c 283px,#96f47c 293px,#90f482 303px,#81f291 313px,#74eda0 323px,#8ff383 333px,#99f479 336px)"></i><i style="width:1px;background:linear-gradient(#76ef9e 3px,#85f28d 13px,#95f47d 23px,#a9f669 33px,#a0f572 43px,#9ef574 53px,#baf85a 63px,#c1f855 73px,#b0f763 83px,#9ff573 93px,#94f47e 103px,#8ef384 113px,#7cf097 123px,#70eaa2 133px,#6fe8a3 143px,#6de6a5 153px,#6ae3a6 163px,#65dfab 173px,#69e1a7 183px,#73eca1 193px,#70eaa3 203px,#71eba2 213px,#8ef384 223px,#a8f66a 233px,#b4f75f 243px,#b3f760 253px,#bbf858 263px,#cef850 273px,#a8f66a 283px,#8af388 293px,#91f481 303px,#84f28e 313px,#73eda1 323px,#87f38b 333px,#8ef384 336px)"></i><i style="width:1px;background:linear-gradient(#7cf097 3px,#7ff193 13px,#87f38b 23px,#98f47a 33px,#a0f572 43px,#aaf668 53px,#bcf858 63px,#bbf859 73px,#a1f571 83px,#9df575 93px,#92f480 103px,#82f290 113px,#73eda0 123px,#6be4a6 133px,#67e0a9 143px,#65dfab 153px,#65deab 163px,#61dcaf 173px,#69e1a7 183px,#7df196 193px,#6fe8a3 203px,#69e1a7 213px,#87f38b 223px,#a5f66d 233px,#b4f75f 243px,#a8f66a 253px,#b2f761 263px,#d4f84d 273px,#a5f66d 283px,#82f290 293px,#95f47d 303px,#90f482 313px,#80f192 323px,#81f291 333px,#81f291 336px)"></i><i style="width:1px;background:linear-gradient(#7df195 3px,#7ef194 13px,#80f193 23px,#86f28c 33px,#97f47b 43px,#adf666 53px,#b5f75f 63px,#b1f761 73px,#99f479 83px,#92f480 93px,#88f38a 103px,#77ef9c 113px,#6ee7a4 123px,#67dfa9 133px,#65deab 143px,#68e0a8 153px,#6ce4a6 163px,#62ddae 173px,#66dfaa 183px,#75ee9e 193px,#6de5a5 203px,#67e0a9 213px,#7cf097 223px,#90f482 233px,#9ef574 243px,#8cf386 253px,#92f480 263px,#b7f75c 273px,#9df575 283px,#89f389 293px,#93f47f 303px,#90f482 313px,#85f28d 323px,#7af099 333px,#76ef9d 336px)"></i><i style="width:1px;background:linear-gradient(#78ef9c 3px,#81f291 13px,#87f38b 23px,#89f389 33px,#8df385 43px,#95f47d 53px,#a1f571 63px,#aaf668 73px,#a2f570 83px,#9ef574 93px,#8df385 103px,#73eda1 113px,#71eaa2 123px,#70e9a3 133px,#6de6a5 143px,#6de6a5 153px,#6ee6a4 163px,#65deab 173px,#65deab 183px,#6de5a5 193px,#6de6a4 203px,#6fe8a3 213px,#75ee9e 223px,#80f192 233px,#8af388 243px,#86f28c 253px,#8ff383 263px,#a9f669 273px,#9ff573 283px,#92f480 293px,#8df385 303px,#88f38a 313px,#81f291 323px,#7bf098 333px,#79ef9b 336px)"></i><i style="width:1px;background:linear-gradient(#7af099 3px,#83f28f 13px,#8df385 23px,#9af578 33px,#93f47f 43px,#91f481 53px,#9ef574 63px,#a9f669 73px,#a1f571 83px,#9cf576 93px,#8bf387 103px,#72eca1 113px,#72eca1 123px,#74eea0 133px,#74eda0 143px,#70eaa2 153px,#6ce5a5 163px,#69e2a7 173px,#6ae3a6 183px,#6de6a4 193px,#71eaa2 203px,#73eda1 213px,#72eca1 223px,#7cf097 233px,#8df385 243px,#90f482 253px,#97f47b 263px,#9ff573 273px,#97f47b 283px,#90f482 293px,#89f389 303px,#86f28c 313px,#84f28e 323px,#85f28d 333px,#84f28e 336px)"></i><i style="width:1px;background:linear-gradient(#7ff193 3px,#85f28d 13px,#8cf386 23px,#96f47c 33px,#99f479 43px,#9ef574 53px,#a7f66b 63px,#abf668 73px,#9cf576 83px,#97f47b 93px,#8bf387 103px,#77ef9d 113px,#70e9a3 123px,#6ce5a5 133px,#6de6a4 143px,#6de6a4 153px,#6de6a5 163px,#69e2a7 173px,#6ae3a6 183px,#6fe8a4 193px,#6fe9a3 203px,#70eaa2 213px,#74eea0 223px,#82f290 233px,#99f479 243px,#97f47b 253px,#99f579 263px,#9df575 273px,#a4f66e 283px,#a6f66c 293px,#92f480 303px,#89f389 313px,#83f28f 323px,#8bf387 333px,#8df385 336px)"></i><i style="width:1px;background:linear-gradient(#78ef9b 3px,#7df096 13px,#82f290 23px,#8ef384 33px,#8af388 43px,#88f38a 53px,#8ff383 63px,#9af578 73px,#98f47a 83px,#9af578 93px,#93f47f 103px,#83f28f 113px,#73eda1 123px,#69e1a7 133px,#63ddad 143px,#62ddae 153px,#65deab 163px,#5fdab1 173px,#61ddaf 183px,#6de5a5 193px,#6be4a6 203px,#6be4a6 213px,#7af09a 223px,#8bf387 233px,#99f579 243px,#92f480 253px,#94f47e 263px,#a0f572 273px,#b0f762 283px,#b6f75d 293px,#97f47b 303px,#86f28c 313px,#7df196 323px,#82f290 333px,#83f28f 336px)"></i><i style="width:1px;background:linear-gradient(#72eca1 3px,#78ef9b 13px,#83f28f 23px,#9cf576 33px,#87f38b 43px,#7af099 53px,#86f28c 63px,#97f47b 73px,#9ef574 83px,#92f480 93px,#8bf387 103px,#85f28d 113px,#76ef9e 123px,#6ce5a5 133px,#68e0a8 143px,#63ddad 153px,#5fdbb1 163px,#5dd7b3 173px,#5fdab1 183px,#6ae2a7 193px,#67e0a9 203px,#68e0a8 213px,#79ef9b 223px,#8cf386 233px,#9cf576 243px,#96f47c 253px,#99f479 263px,#a2f570 273px,#a8f66a 283px,#a9f669 293px,#97f47b 303px,#8ff383 313px,#8bf387 323px,#81f291 333px,#7ff194 336px)"></i><i style="width:1px;background:linear-gradient(#7ef195 3px,#81f291 13px,#8bf387 23px,#a0f572 33px,#90f482 43px,#88f38a 53px,#9af578 63px,#aff763 73px,#b4f75f 83px,#98f47a 93px,#87f38b 103px,#7cf097 113px,#74eea0 123px,#70e9a3 133px,#6fe8a4 143px,#6be4a6 153px,#66dfaa 163px,#66dfaa 173px,#67dfa9 183px,#65dfab 193px,#63dead 203px,#66dfaa 213px,#73eda1 223px,#88f38a 233px,#a3f66f 243px,#a9f669 253px,#aef764 263px,#aef764 273px,#abf667 283px,#a7f66b 293px,#9ff573 303px,#a0f572 313px,#a4f66e 323px,#91f481 333px,#8df385 336px)"></i><i style="width:1px;background:linear-gradient(#84f28e 3px,#7bf098 13px,#78ef9b 23px,#80f192 33px,#81f291 43px,#86f28c 53px,#98f47a 63px,#a8f66a 73px,#a5f66d 83px,#96f47c 93px,#84f28e 103px,#70e9a3 113px,#6ce4a6 123px,#68e0a8 133px,#64deac 143px,#63ddad 153px,#64deac 163px,#67dfa9 173px,#67e0a9 183px,#61ddaf 193px,#60dcb0 203px,#62ddae 213px,#6be3a6 223px,#76ef9e 233px,#8af388 243px,#a0f572 253px,#aef765 263px,#abf668 273px,#a7f66b 283px,#a0f572 293px,#8cf386 303px,#8df385 313px,#96f47c 323px,#8bf387 333px,#87f38b 336px)"></i><i style="width:1px;background:linear-gradient(#7af099 3px,#73eda1 13px,#71eaa2 23px,#74ee9f 33px,#74eea0 43px,#76ef9e 53px,#80f292 63px,#84f28e 73px,#7bf098 83px,#84f28e 93px,#82f290 103px,#72eba2 113px,#66dfaa 123px,#5ed8b2 133px,#5fd9b1 143px,#60dbb0 153px,#61ddaf 163px,#5fdbb1 173px,#60dcb0 183px,#64deac 193px,#62ddae 203px,#61ddaf 213px,#67e0a9 223px,#6ee7a4 233px,#75ee9e 243px,#86f28c 253px,#95f47d 263px,#9cf576 273px,#92f480 283px,#87f38b 293px,#78ef9b 303px,#7bf098 313px,#87f38b 323px,#78ef9c 333px,#73eda0 336px)"></i><i style="width:1px;background:linear-gradient(#71eba2 3px,#71eaa2 13px,#74eea0 23px,#82f290 33px,#79ef9a 43px,#72eca1 53px,#77ef9d 63px,#79f09a 73px,#73eda1 83px,#7ef194 93px,#82f290 103px,#79ef9a 113px,#6be3a6 123px,#60dcb0 133px,#66dfaa 143px,#67e0a9 153px,#65dfab 163px,#60dbb0 173px,#60dcb0 183px,#65dfab 193px,#66dfaa 203px,#67e0a9 213px,#6ee7a4 223px,#74eda0 233px,#79ef9b 243px,#7af099 253px,#82f290 263px,#93f47f 273px,#87f38b 283px,#7bf098 293px,#75ee9f 303px,#78ef9b 313px,#80f193 323px,#73eda0 333px,#71eaa2 336px)"></i><i style="width:1px;background:linear-gradient(#78ef9b 3px,#79ef9b 13px,#86f28c 23px,#b2f761 33px,#9af578 43px,#86f28c 53px,#8ef384 63px,#97f47b 73px,#92f480 83px,#8bf387 93px,#83f28f 103px,#7af099 113px,#77ef9d 123px,#74eea0 133px,#71eaa2 143px,#6fe8a3 153px,#6de6a5 163px,#6ae2a7 173px,#69e1a7 183px,#6ae2a7 193px,#6ee7a4 203px,#74eea0 213px,#81f292 223px,#8af388 233px,#8ef384 243px,#87f38b 253px,#8ff383 263px,#abf667 273px,#9cf576 283px,#8cf386 293px,#84f28e 303px,#7ff193 313px,#7cf097 323px,#83f28f 333px,#85f28d 336px)"></i><i style="width:1px;background:linear-gradient(#89f389 3px,#92f480 13px,#a8f66a 23px,#cff84f 33px,#bcf858 43px,#acf666 53px,#bff856 63px,#c8f852 73px,#bcf857 83px,#a5f66d 93px,#91f481 103px,#83f28f 113px,#88f38a 123px,#8af388 133px,#78ef9c 143px,#74eea0 153px,#76ee9e 163px,#72eca1 173px,#71eaa2 183px,#6fe8a4 193px,#76ee9e 203px,#83f28f 213px,#97f47b 223px,#a2f570 233px,#a1f571 243px,#a5f66d 253px,#b3f760 263px,#cbf851 273px,#b0f763 283px,#94f47e 293px,#93f47f 303px,#8ef384 313px,#87f38b 323px,#9df575 333px,#a5f66d 336px)"></i><i style="width:1px;background:linear-gradient(#88f38a 3px,#99f479 13px,#aaf668 23px,#b9f85b 33px,#aff763 43px,#acf666 53px,#c0f855 63px,#cff84f 73px,#caf851 83px,#b3f760 93px,#9ff573 103px,#8ef384 113px,#86f28c 123px,#7ef194 133px,#73eda0 143px,#73eda1 153px,#77ef9d 163px,#73eda1 173px,#71eaa2 183px,#6de6a4 193px,#74eea0 203px,#81f291 213px,#90f482 223px,#9df575 233px,#a6f66c 243px,#b7f75c 253px,#c7f852 263px,#d1f84e 273px,#aff764 283px,#90f482 293px,#8bf387 303px,#8ef384 313px,#93f47f 323px,#9bf577 333px,#9df575 336px)"></i><i style="width:1px;background:linear-gradient(#78ef9b 3px,#80f192 13px,#8af388 23px,#99f479 33px,#8ff383 43px,#8bf387 53px,#9df575 63px,#aff764 73px,#b0f763 83px,#91f481 93px,#83f28f 103px,#7ef194 113px,#6fe8a4 123px,#65dfab 133px,#6be3a6 143px,#6ce4a5 153px,#6ae3a7 163px,#69e1a8 173px,#67e0a9 183px,#64deac 193px,#6be3a6 203px,#72eba2 213px,#74eea0 223px,#85f28d 233px,#a2f570 243px,#a9f669 253px,#b1f762 263px,#b7f75c 273px,#a2f570 283px,#89f389 293px,#75ee9f 303px,#77ef9c 313px,#84f28e 323px,#81f292 333px,#7ff193 336px)"></i><i style="width:1px;background:linear-gradient(#6ee7a4 3px,#6fe8a3 13px,#74eea0 23px,#85f28d 33px,#7bf099 43px,#74eea0 53px,#84f28e 63px,#91f481 73px,#8df385 83px,#72eca1 93px,#6ae3a6 103px,#6ae3a7 113px,#5ed9b2 123px,#5ad1b6 133px,#5fdbb1 143px,#5fdbb1 153px,#5dd5b3 163px,#5cd3b4 173px,#5bd3b5 183px,#5bd3b5 193px,#61dcaf 203px,#6ae3a6 213px,#68e0a8 223px,#73eca1 233px,#8ef384 243px,#84f28e 253px,#81f291 263px,#86f28c 273px,#7ff193 283px,#76ef9e 293px,#69e1a7 303px,#6ae2a7 313px,#72eba1 323px,#71eba2 333px,#71eaa2 336px)"></i><i style="width:1px;background:linear-gradient(#6fe8a3 3px,#72eca1 13px,#77ef9c 23px,#82f290 33px,#7af09a 43px,#77ef9d 53px,#8af388 63px,#99f479 73px,#93f47f 83px,#79ef9b 93px,#6de6a4 103px,#69e1a7 113px,#60dbb0 123px,#5dd6b3 133px,#61dcaf 143px,#60dcb0 153px,#5ed9b2 163px,#5dd6b3 173px,#5dd6b3 183px,#5ed7b2 193px,#64deac 203px,#6ce5a5 213px,#6ee7a4 223px,#78ef9c 233px,#8af388 243px,#80f193 253px,#7df196 263px,#80f193 273px,#79ef9a 283px,#71eaa2 293px,#66dfaa 303px,#69e1a7 313px,#72eba2 323px,#71eaa2 333px,#70eaa2 336px)"></i><i style="width:1px;background:linear-gradient(#6fe8a3 3px,#78ef9b 13px,#7ff193 23px,#81f291 33px,#7ef194 43px,#80f192 53px,#90f482 63px,#97f47b 73px,#8bf387 83px,#80f192 93px,#75ee9e 103px,#6ce5a5 113px,#69e1a7 123px,#68e0a8 133px,#68e0a8 143px,#69e1a7 153px,#69e2a7 163px,#69e1a7 173px,#68e0a8 183px,#63ddad 193px,#63dead 203px,#69e1a7 213px,#7af099 223px,#88f38a 233px,#8df385 243px,#8cf386 253px,#8ff383 263px,#93f47f 273px,#83f28f 283px,#74eea0 293px,#68e0a8 303px,#6ce5a5 313px,#79ef9a 323px,#73eda1 333px,#71eba2 336px)"></i><i style="width:1px;background:linear-gradient(#79f09a 3px,#82f290 13px,#87f38b 23px,#87f38b 33px,#82f290 43px,#84f28e 53px,#97f47b 63px,#97f47b 73px,#84f28e 83px,#84f28e 93px,#7cf097 103px,#6ee7a4 113px,#6fe8a4 123px,#70eaa2 133px,#6ee7a4 143px,#6ce4a5 153px,#6ae2a7 163px,#69e2a7 173px,#6ae2a7 183px,#67e0a9 193px,#66dfaa 203px,#69e2a7 213px,#7ef194 223px,#8cf386 233px,#8ef384 243px,#9ff573 253px,#a8f66a 263px,#9ff573 273px,#93f47f 283px,#87f38b 293px,#75ee9f 303px,#79ef9b 313px,#86f28c 323px,#7af09a 333px,#76ee9e 336px)"></i><i style="width:1px;background:linear-gradient(#8df385 3px,#96f47c 13px,#96f47c 23px,#8ff383 33px,#8bf387 43px,#8ff383 53px,#aff764 63px,#b6f75d 73px,#a3f66f 83px,#9ff573 93px,#8ff383 103px,#77ef9d 113px,#76ef9d 123px,#79ef9b 133px,#77ef9d 143px,#70e9a3 153px,#68e0a8 163px,#67dfa9 173px,#6be3a6 183px,#71eba2 193px,#70e9a3 203px,#70e9a3 213px,#7df096 223px,#8af388 233px,#94f47e 243px,#aff764 253px,#b6f75d 263px,#a7f66b 273px,#a4f66e 283px,#a1f571 293px,#92f480 303px,#8ff383 313px,#8ff383 323px,#84f28e 333px,#80f192 336px)"></i><i style="width:3px;background:linear-gradient(#8df385 3px,#96f47c 13px,#96f47c 23px,#8ff383 33px,#8bf387 43px,#8ff383 53px,#aff764 63px,#b6f75d 73px,#a3f66f 83px,#9ff573 93px,#8ff383 103px,#77ef9d 113px,#76ef9d 123px,#79ef9b 133px,#77ef9d 143px,#70e9a3 153px,#68e0a8 163px,#67dfa9 173px,#6be3a6 183px,#71eba2 193px,#70e9a3 203px,#70e9a3 213px,#7df096 223px,#8af388 233px,#94f47e 243px,#aff764 253px,#b6f75d 263px,#a7f66b 273px,#a4f66e 283px,#a1f571 293px,#92f480 303px,#8ff383 313px,#8ff383 323px,#84f28e 333px,#80f192 336px)"></i></div></div>
<div id="cbar"></div>
<svg width="630" height="409" viewBox="0 0 630 409">
<rect x="46" y="32" width="529" height="1.6" fill="#000" fill-opacity="0.13"/>
<rect x="46" y="364.4" width="529" height="1.6" fill="#000" fill-opacity="0.13"/>
<g fill="#fff" shape-rendering="crispEdges"><rect x="493" y="32" width="1" height="13"/><rect x="524" y="32" width="1" height="18"/><rect x="560" y="32" width="1" height="23"/><rect x="498" y="32" width="1" height="28"/><rect x="538" y="32" width="1" height="28"/><rect x="570" y="32" width="1" height="28"/><rect x="508" y="32" width="1" height="38"/><rect x="543" y="32" width="1" height="38"/><rect x="532" y="32" width="1" height="43"/><rect x="573" y="32" width="1" height="43"/><rect x="541" y="32" width="1" height="63"/><rect x="567" y="32" width="1" height="63"/><rect x="551" y="32" width="1" height="68"/><rect x="565" y="137" width="1" height="21"/><rect x="533" y="137" width="1" height="41"/><rect x="457" y="137" width="1" height="83"/><rect x="468" y="137" width="1" height="83"/><rect x="512" y="137" width="1" height="83"/><rect x="402" y="137" width="1" height="103"/><rect x="415" y="137" width="1" height="103"/><rect x="455" y="137" width="1" height="103"/><rect x="495" y="137" width="1" height="103"/><rect x="536" y="137" width="1" height="103"/><rect x="542" y="137" width="1" height="103"/><rect x="545" y="137" width="1" height="103"/><rect x="568" y="137" width="1" height="103"/><rect x="429" y="137" width="1" height="123"/><rect x="437" y="137" width="1" height="123"/><rect x="493" y="137" width="1" height="123"/><rect x="505" y="137" width="1" height="123"/><rect x="523" y="137" width="1" height="123"/><rect x="360" y="150" width="1" height="105"/><rect x="364" y="150" width="1" height="105"/><rect x="370" y="150" width="1" height="105"/><rect x="388" y="150" width="1" height="105"/><rect x="393" y="150" width="1" height="105"/><rect x="399" y="150" width="2" height="105"/><rect x="406" y="150" width="1" height="105"/><rect x="409" y="150" width="1" height="105"/><rect x="392" y="158" width="1" height="20"/><rect x="394" y="158" width="1" height="20"/><rect x="407" y="158" width="1" height="20"/><rect x="412" y="158" width="1" height="20"/><rect x="416" y="158" width="1" height="20"/><rect x="422" y="158" width="1" height="20"/><rect x="433" y="158" width="1" height="20"/><rect x="441" y="158" width="1" height="20"/><rect x="443" y="158" width="1" height="20"/><rect x="445" y="158" width="1" height="20"/><rect x="460" y="158" width="1" height="20"/><rect x="470" y="158" width="1" height="20"/><rect x="516" y="158" width="1" height="20"/><rect x="524" y="158" width="2" height="20"/><rect x="530" y="158" width="1" height="20"/><rect x="541" y="158" width="1" height="20"/><rect x="534" y="158" width="1" height="41"/><rect x="550" y="158" width="1" height="41"/><rect x="569" y="158" width="1" height="41"/><rect x="434" y="158" width="1" height="62"/><rect x="446" y="158" width="1" height="62"/><rect x="454" y="158" width="1" height="62"/><rect x="514" y="158" width="1" height="62"/><rect x="547" y="158" width="1" height="62"/><rect x="563" y="158" width="1" height="62"/><rect x="366" y="158" width="1" height="82"/><rect x="398" y="158" width="1" height="82"/><rect x="425" y="158" width="1" height="82"/><rect x="432" y="158" width="1" height="82"/><rect x="436" y="158" width="1" height="82"/><rect x="465" y="158" width="1" height="82"/><rect x="473" y="158" width="1" height="82"/><rect x="477" y="158" width="2" height="82"/><rect x="483" y="158" width="1" height="82"/><rect x="490" y="158" width="1" height="82"/><rect x="494" y="158" width="1" height="82"/><rect x="503" y="158" width="1" height="82"/><rect x="518" y="158" width="1" height="82"/><rect x="531" y="158" width="1" height="82"/><rect x="535" y="158" width="1" height="82"/><rect x="537" y="158" width="2" height="82"/><rect x="540" y="158" width="1" height="82"/><rect x="543" y="158" width="1" height="82"/><rect x="548" y="158" width="2" height="82"/><rect x="551" y="158" width="4" height="82"/><rect x="556" y="158" width="5" height="82"/><rect x="562" y="158" width="1" height="82"/><rect x="564" y="158" width="1" height="82"/><rect x="566" y="158" width="1" height="82"/><rect x="570" y="158" width="1" height="82"/><rect x="390" y="158" width="1" height="102"/><rect x="430" y="158" width="1" height="102"/><rect x="502" y="158" width="1" height="102"/><rect x="544" y="158" width="1" height="102"/><rect x="555" y="158" width="1" height="102"/><rect x="561" y="158" width="1" height="102"/><rect x="404" y="178" width="2" height="21"/><rect x="410" y="178" width="1" height="21"/><rect x="417" y="178" width="1" height="21"/><rect x="438" y="178" width="1" height="21"/><rect x="463" y="178" width="1" height="21"/><rect x="500" y="178" width="1" height="21"/><rect x="513" y="178" width="1" height="21"/><rect x="565" y="178" width="1" height="21"/><rect x="527" y="178" width="1" height="42"/><rect x="418" y="178" width="1" height="62"/><rect x="440" y="178" width="1" height="62"/><rect x="469" y="178" width="1" height="62"/><rect x="480" y="178" width="1" height="62"/><rect x="519" y="178" width="2" height="62"/><rect x="529" y="178" width="1" height="62"/><rect x="532" y="178" width="1" height="62"/><rect x="539" y="178" width="1" height="62"/><rect x="546" y="178" width="1" height="62"/><rect x="427" y="178" width="1" height="82"/><rect x="501" y="178" width="1" height="82"/><rect x="567" y="178" width="1" height="82"/><rect x="403" y="199" width="1" height="21"/><rect x="451" y="199" width="1" height="21"/><rect x="476" y="199" width="1" height="21"/><rect x="484" y="199" width="1" height="21"/><rect x="498" y="199" width="1" height="21"/><rect x="504" y="199" width="1" height="21"/><rect x="506" y="199" width="2" height="21"/><rect x="509" y="199" width="1" height="21"/><rect x="515" y="199" width="1" height="21"/><rect x="522" y="199" width="1" height="21"/><rect x="524" y="199" width="1" height="21"/><rect x="533" y="199" width="1" height="41"/><rect x="541" y="199" width="1" height="41"/><rect x="392" y="220" width="1" height="20"/><rect x="404" y="220" width="1" height="20"/><rect x="408" y="220" width="1" height="20"/><rect x="412" y="220" width="1" height="20"/><rect x="444" y="220" width="2" height="20"/><rect x="458" y="220" width="1" height="20"/><rect x="463" y="220" width="1" height="20"/><rect x="487" y="220" width="1" height="20"/><rect x="516" y="220" width="1" height="20"/><rect x="526" y="220" width="1" height="20"/><rect x="534" y="220" width="1" height="20"/><rect x="550" y="220" width="1" height="20"/><rect x="565" y="220" width="1" height="20"/><rect x="569" y="220" width="1" height="40"/><rect x="562" y="290" width="1" height="75"/><rect x="571" y="300" width="1" height="65"/><rect x="549" y="335" width="1" height="30"/><rect x="534" y="340" width="1" height="25"/><rect x="529" y="345" width="1" height="20"/><rect x="546" y="345" width="1" height="20"/><rect x="556" y="350" width="1" height="15"/></g>
<text x="137" y="11.3" font-size="11.5" fill="#222" stroke="#222" stroke-width="0.25" textLength="360" lengthAdjust="spacingAndGlyphs">RBSP B – REPT L3 FEDU Unidirectional Electron Flux ( 1.8MeV)</text>
<path d="M45.5 22.5H576.5V376.5" fill="none" stroke="#8c8c8c" stroke-width="1"/>
<path d="M44.5 22V376.5H577" fill="none" stroke="#8a8a8a" stroke-width="1"/>
<path d="M577 376.5H44" fill="none" stroke="#555" stroke-width="1"/>
<line x1="45.5" y1="32" x2="45.5" y2="366" stroke="#7a140a" stroke-width="1"/>
<g stroke="#1a1010" stroke-opacity="0.85" stroke-width="1.1" fill="none">
<line x1="212.5" y1="32" x2="212.5" y2="366"/>
<line x1="48.5" y1="199.5" x2="212.5" y2="32"/>
<line x1="48.5" y1="199.5" x2="212.5" y2="128"/>
<line x1="48.5" y1="199.5" x2="212.5" y2="270"/>
<line x1="48.5" y1="199.5" x2="212.5" y2="366"/>
</g>
<g stroke="#1a1010" stroke-opacity="0.75" stroke-width="1.1" fill="none" stroke-dasharray="2 2.2">
<line x1="48.5" y1="199.5" x2="212.5" y2="79.5"/>
<line x1="48.5" y1="199.5" x2="212.5" y2="318"/>
<line x1="212.5" y1="79.5" x2="380" y2="79.5"/>
<line x1="212.5" y1="318" x2="380" y2="318"/>
<line x1="212.5" y1="79.5" x2="212.5" y2="128"/>
<line x1="212.5" y1="270" x2="212.5" y2="318"/>
</g>
<circle cx="48.5" cy="199.5" r="1.6" fill="#111"/>
<g stroke="#e2682a" stroke-width="1" fill="none">
<path d="M381 31.5 C392 31.5 393 36 393 44 C393 52 395 55.5 406 55.5 C395 55.5 393 59 393 67 C393 75 392 79.5 381 79.5"/>
<path d="M213 79.8 C221 79.8 222.5 83 222.5 92 C222.5 101 224 104 231 104 C224 104 222.5 107 222.5 116 C222.5 125 221 128.2 213 128.2"/>
<path d="M213 128.2 H228 Q232.4 128.2 232.4 133 V194 Q232.4 199.4 240 199.4 H252 H240 Q232.4 199.4 232.4 205 V265 Q232.4 270 228 270 H213"/>
<path d="M213 270 C221 270 222.5 273 222.5 282 C222.5 290 224 293 231 293 C224 293 222.5 296 222.5 305 C222.5 314 221 318 213 318"/>
<path d="M384 317.6 C395 317.6 396 322 396 330 C396 338 398 341.7 409 341.7 C398 341.7 396 345 396 353 C396 361 395 365.4 384 365.4"/>
</g>
<g fill="#1c1c1c" stroke="#1c1c1c" stroke-width="0.25">
<text x="416.5" y="54.7" font-size="13.8" textLength="141" lengthAdjust="spacingAndGlyphs">Pitch Angle Scattering</text>
<text x="416.5" y="74.2" font-size="13.8" textLength="96.5" lengthAdjust="spacingAndGlyphs">to Atmosphere</text>
<text x="248" y="107.9" font-size="17.2" textLength="133" lengthAdjust="spacingAndGlyphs">Trapped Electron</text>
<text x="273" y="186.7" font-size="16" textLength="117.5" lengthAdjust="spacingAndGlyphs">Magnetopause</text>
<text x="287.8" y="207.8" font-size="16" textLength="87.5" lengthAdjust="spacingAndGlyphs">Shadowing</text>
<text x="248" y="300.4" font-size="17.2" textLength="133" lengthAdjust="spacingAndGlyphs">Trapped Electron</text>
<text x="416.5" y="335.9" font-size="13.8" textLength="141" lengthAdjust="spacingAndGlyphs">Pitch Angle Scattering</text>
<text x="416.5" y="355.2" font-size="13.8" textLength="96.5" lengthAdjust="spacingAndGlyphs">to Atmosphere</text>
</g>
<g stroke="#9a9a9a" stroke-width="1"><line x1="39" y1="376.5" x2="44" y2="376.5"/><line x1="42" y1="356.5" x2="44" y2="356.5"/><line x1="42" y1="337.5" x2="44" y2="337.5"/><line x1="42" y1="317.5" x2="44" y2="317.5"/><line x1="42" y1="297.5" x2="44" y2="297.5"/><line x1="39" y1="278.5" x2="44" y2="278.5"/><line x1="42" y1="258.5" x2="44" y2="258.5"/><line x1="42" y1="238.5" x2="44" y2="238.5"/><line x1="42" y1="219.5" x2="44" y2="219.5"/><line x1="42" y1="199.5" x2="44" y2="199.5"/><line x1="39" y1="179.5" x2="44" y2="179.5"/><line x1="42" y1="160.5" x2="44" y2="160.5"/><line x1="42" y1="140.5" x2="44" y2="140.5"/><line x1="42" y1="120.5" x2="44" y2="120.5"/><line x1="42" y1="101.5" x2="44" y2="101.5"/><line x1="39" y1="81.5" x2="44" y2="81.5"/><line x1="42" y1="61.5" x2="44" y2="61.5"/><line x1="42" y1="42.5" x2="44" y2="42.5"/><line x1="42" y1="22.5" x2="44" y2="22.5"/></g>
<g fill="#444" font-size="7.6" text-anchor="end">
<text x="34.6" y="83.5" textLength="10.8" lengthAdjust="spacingAndGlyphs">150</text>
<text x="34.6" y="182.3" textLength="10.8" lengthAdjust="spacingAndGlyphs">100</text>
<text x="34.6" y="281" textLength="7.2" lengthAdjust="spacingAndGlyphs">50</text>
<text x="34.6" y="379.4">0</text>
</g>
<g fill="#bbb"><circle cx="36.3" cy="82.8" r="0.55"/><circle cx="36.3" cy="181.6" r="0.55"/><circle cx="36.3" cy="280.3" r="0.55"/><circle cx="36.3" cy="378.7" r="0.55"/></g>
<text transform="translate(11,195) rotate(-90)" font-size="11" fill="#333" text-anchor="middle" textLength="110" lengthAdjust="spacingAndGlyphs">Pitch Angle (degrees)</text>
<g stroke="#666" stroke-width="1"><line x1="45.5" y1="376" x2="45.5" y2="381.5"/><line x1="48.5" y1="376" x2="48.5" y2="378.8"/><line x1="51.5" y1="376" x2="51.5" y2="378.8"/><line x1="54.5" y1="376" x2="54.5" y2="378.8"/><line x1="56.5" y1="376" x2="56.5" y2="378.8"/><line x1="59.5" y1="376" x2="59.5" y2="378.8"/><line x1="62.5" y1="376" x2="62.5" y2="378.8"/><line x1="65.5" y1="376" x2="65.5" y2="378.8"/><line x1="68.5" y1="376" x2="68.5" y2="378.8"/><line x1="71.5" y1="376" x2="71.5" y2="378.8"/><line x1="74.5" y1="376" x2="74.5" y2="378.8"/><line x1="77.5" y1="376" x2="77.5" y2="378.8"/><line x1="79.5" y1="376" x2="79.5" y2="378.8"/><line x1="82.5" y1="376" x2="82.5" y2="378.8"/><line x1="85.5" y1="376" x2="85.5" y2="378.8"/><line x1="88.5" y1="376" x2="88.5" y2="378.8"/><line x1="91.5" y1="376" x2="91.5" y2="378.8"/><line x1="94.5" y1="376" x2="94.5" y2="378.8"/><line x1="97.5" y1="376" x2="97.5" y2="378.8"/><line x1="100.5" y1="376" x2="100.5" y2="378.8"/><line x1="102.5" y1="376" x2="102.5" y2="381.5"/><line x1="105.5" y1="376" x2="105.5" y2="378.8"/><line x1="108.5" y1="376" x2="108.5" y2="378.8"/><line x1="111.5" y1="376" x2="111.5" y2="378.8"/><line x1="114.5" y1="376" x2="114.5" y2="378.8"/><line x1="117.5" y1="376" x2="117.5" y2="378.8"/><line x1="120.5" y1="376" x2="120.5" y2="378.8"/><line x1="122.5" y1="376" x2="122.5" y2="378.8"/><line x1="125.5" y1="376" x2="125.5" y2="378.8"/><line x1="128.5" y1="376" x2="128.5" y2="378.8"/><line x1="131.5" y1="376" x2="131.5" y2="378.8"/><line x1="134.5" y1="376" x2="134.5" y2="378.8"/><line x1="137.5" y1="376" x2="137.5" y2="378.8"/><line x1="140.5" y1="376" x2="140.5" y2="378.8"/><line x1="143.5" y1="376" x2="143.5" y2="378.8"/><line x1="145.5" y1="376" x2="145.5" y2="378.8"/><line x1="148.5" y1="376" x2="148.5" y2="378.8"/><line x1="151.5" y1="376" x2="151.5" y2="378.8"/><line x1="154.5" y1="376" x2="154.5" y2="378.8"/><line x1="157.5" y1="376" x2="157.5" y2="378.8"/><line x1="160.5" y1="376" x2="160.5" y2="381.5"/><line x1="163.5" y1="376" x2="163.5" y2="378.8"/><line x1="165.5" y1="376" x2="165.5" y2="378.8"/><line x1="168.5" y1="376" x2="168.5" y2="378.8"/><line x1="171.5" y1="376" x2="171.5" y2="378.8"/><line x1="174.5" y1="376" x2="174.5" y2="378.8"/><line x1="177.5" y1="376" x2="177.5" y2="378.8"/><line x1="180.5" y1="376" x2="180.5" y2="378.8"/><line x1="183.5" y1="376" x2="183.5" y2="378.8"/><line x1="186.5" y1="376" x2="186.5" y2="378.8"/><line x1="188.5" y1="376" x2="188.5" y2="378.8"/><line x1="191.5" y1="376" x2="191.5" y2="378.8"/><line x1="194.5" y1="376" x2="194.5" y2="378.8"/><line x1="197.5" y1="376" x2="197.5" y2="378.8"/><line x1="200.5" y1="376" x2="200.5" y2="378.8"/><line x1="203.5" y1="376" x2="203.5" y2="378.8"/><line x1="206.5" y1="376" x2="206.5" y2="378.8"/><line x1="209.5" y1="376" x2="209.5" y2="378.8"/><line x1="211.5" y1="376" x2="211.5" y2="378.8"/><line x1="214.5" y1="376" x2="214.5" y2="378.8"/><line x1="217.5" y1="376" x2="217.5" y2="381.5"/><line x1="220.5" y1="376" x2="220.5" y2="378.8"/><line x1="223.5" y1="376" x2="223.5" y2="378.8"/><line x1="226.5" y1="376" x2="226.5" y2="378.8"/><line x1="229.5" y1="376" x2="229.5" y2="378.8"/><line x1="231.5" y1="376" x2="231.5" y2="378.8"/><line x1="234.5" y1="376" x2="234.5" y2="378.8"/><line x1="237.5" y1="376" x2="237.5" y2="378.8"/><line x1="240.5" y1="376" x2="240.5" y2="378.8"/><line x1="243.5" y1="376" x2="243.5" y2="378.8"/><line x1="246.5" y1="376" x2="246.5" y2="378.8"/><line x1="249.5" y1="376" x2="249.5" y2="378.8"/><line x1="252.5" y1="376" x2="252.5" y2="378.8"/><line x1="254.5" y1="376" x2="254.5" y2="378.8"/><line x1="257.5" y1="376" x2="257.5" y2="378.8"/><line x1="260.5" y1="376" x2="260.5" y2="378.8"/><line x1="263.5" y1="376" x2="263.5" y2="378.8"/><line x1="266.5" y1="376" x2="266.5" y2="378.8"/><line x1="269.5" y1="376" x2="269.5" y2="378.8"/><line x1="272.5" y1="376" x2="272.5" y2="378.8"/><line x1="275.5" y1="376" x2="275.5" y2="381.5"/><line x1="277.5" y1="376" x2="277.5" y2="378.8"/><line x1="280.5" y1="376" x2="280.5" y2="378.8"/><line x1="283.5" y1="376" x2="283.5" y2="378.8"/><line x1="286.5" y1="376" x2="286.5" y2="378.8"/><line x1="289.5" y1="376" x2="289.5" y2="378.8"/><line x1="292.5" y1="376" x2="292.5" y2="378.8"/><line x1="295.5" y1="376" x2="295.5" y2="378.8"/><line x1="297.5" y1="376" x2="297.5" y2="378.8"/><line x1="300.5" y1="376" x2="300.5" y2="378.8"/><line x1="303.5" y1="376" x2="303.5" y2="378.8"/><line x1="306.5" y1="376" x2="306.5" y2="378.8"/><line x1="309.5" y1="376" x2="309.5" y2="378.8"/><line x1="312.5" y1="376" x2="312.5" y2="378.8"/><line x1="315.5" y1="376" x2="315.5" y2="378.8"/><line x1="318.5" y1="376" x2="318.5" y2="378.8"/><line x1="320.5" y1="376" x2="320.5" y2="378.8"/><line x1="323.5" y1="376" x2="323.5" y2="378.8"/><line x1="326.5" y1="376" x2="326.5" y2="378.8"/><line x1="329.5" y1="376" x2="329.5" y2="378.8"/><line x1="332.5" y1="376" x2="332.5" y2="381.5"/><line x1="335.5" y1="376" x2="335.5" y2="378.8"/><line x1="338.5" y1="376" x2="338.5" y2="378.8"/><line x1="341.5" y1="376" x2="341.5" y2="378.8"/><line x1="343.5" y1="376" x2="343.5" y2="378.8"/><line x1="346.5" y1="376" x2="346.5" y2="378.8"/><line x1="349.5" y1="376" x2="349.5" y2="378.8"/><line x1="352.5" y1="376" x2="352.5" y2="378.8"/><line x1="355.5" y1="376" x2="355.5" y2="378.8"/><line x1="358.5" y1="376" x2="358.5" y2="378.8"/><line x1="361.5" y1="376" x2="361.5" y2="378.8"/><line x1="363.5" y1="376" x2="363.5" y2="378.8"/><line x1="366.5" y1="376" x2="366.5" y2="378.8"/><line x1="369.5" y1="376" x2="369.5" y2="378.8"/><line x1="372.5" y1="376" x2="372.5" y2="378.8"/><line x1="375.5" y1="376" x2="375.5" y2="378.8"/><line x1="378.5" y1="376" x2="378.5" y2="378.8"/><line x1="381.5" y1="376" x2="381.5" y2="378.8"/><line x1="384.5" y1="376" x2="384.5" y2="378.8"/><line x1="386.5" y1="376" x2="386.5" y2="378.8"/><line x1="389.5" y1="376" x2="389.5" y2="381.5"/><line x1="392.5" y1="376" x2="392.5" y2="378.8"/><line x1="395.5" y1="376" x2="395.5" y2="378.8"/><line x1="398.5" y1="376" x2="398.5" y2="378.8"/><line x1="401.5" y1="376" x2="401.5" y2="378.8"/><line x1="404.5" y1="376" x2="404.5" y2="378.8"/><line x1="406.5" y1="376" x2="406.5" y2="378.8"/><line x1="409.5" y1="376" x2="409.5" y2="378.8"/><line x1="412.5" y1="376" x2="412.5" y2="378.8"/><line x1="415.5" y1="376" x2="415.5" y2="378.8"/><line x1="418.5" y1="376" x2="418.5" y2="378.8"/><line x1="421.5" y1="376" x2="421.5" y2="378.8"/><line x1="424.5" y1="376" x2="424.5" y2="378.8"/><line x1="427.5" y1="376" x2="427.5" y2="378.8"/><line x1="429.5" y1="376" x2="429.5" y2="378.8"/><line x1="432.5" y1="376" x2="432.5" y2="378.8"/><line x1="435.5" y1="376" x2="435.5" y2="378.8"/><line x1="438.5" y1="376" x2="438.5" y2="378.8"/><line x1="441.5" y1="376" x2="441.5" y2="378.8"/><line x1="444.5" y1="376" x2="444.5" y2="378.8"/><line x1="447.5" y1="376" x2="447.5" y2="381.5"/><line x1="450.5" y1="376" x2="450.5" y2="378.8"/><line x1="452.5" y1="376" x2="452.5" y2="378.8"/><line x1="455.5" y1="376" x2="455.5" y2="378.8"/><line x1="458.5" y1="376" x2="458.5" y2="378.8"/><line x1="461.5" y1="376" x2="461.5" y2="378.8"/><line x1="464.5" y1="376" x2="464.5" y2="378.8"/><line x1="467.5" y1="376" x2="467.5" y2="378.8"/><line x1="470.5" y1="376" x2="470.5" y2="378.8"/><line x1="472.5" y1="376" x2="472.5" y2="378.8"/><line x1="475.5" y1="376" x2="475.5" y2="378.8"/><line x1="478.5" y1="376" x2="478.5" y2="378.8"/><line x1="481.5" y1="376" x2="481.5" y2="378.8"/><line x1="484.5" y1="376" x2="484.5" y2="378.8"/><line x1="487.5" y1="376" x2="487.5" y2="378.8"/><line x1="490.5" y1="376" x2="490.5" y2="378.8"/><line x1="493.5" y1="376" x2="493.5" y2="378.8"/><line x1="495.5" y1="376" x2="495.5" y2="378.8"/><line x1="498.5" y1="376" x2="498.5" y2="378.8"/><line x1="501.5" y1="376" x2="501.5" y2="378.8"/><line x1="504.5" y1="376" x2="504.5" y2="381.5"/><line x1="507.5" y1="376" x2="507.5" y2="378.8"/><line x1="510.5" y1="376" x2="510.5" y2="378.8"/><line x1="513.5" y1="376" x2="513.5" y2="378.8"/><line x1="516.5" y1="376" x2="516.5" y2="378.8"/><line x1="518.5" y1="376" x2="518.5" y2="378.8"/><line x1="521.5" y1="376" x2="521.5" y2="378.8"/><line x1="524.5" y1="376" x2="524.5" y2="378.8"/><line x1="527.5" y1="376" x2="527.5" y2="378.8"/><line x1="530.5" y1="376" x2="530.5" y2="378.8"/><line x1="533.5" y1="376" x2="533.5" y2="378.8"/><line x1="536.5" y1="376" x2="536.5" y2="378.8"/><line x1="538.5" y1="376" x2="538.5" y2="378.8"/><line x1="541.5" y1="376" x2="541.5" y2="378.8"/><line x1="544.5" y1="376" x2="544.5" y2="378.8"/><line x1="547.5" y1="376" x2="547.5" y2="378.8"/><line x1="550.5" y1="376" x2="550.5" y2="378.8"/><line x1="553.5" y1="376" x2="553.5" y2="378.8"/><line x1="556.5" y1="376" x2="556.5" y2="378.8"/><line x1="559.5" y1="376" x2="559.5" y2="378.8"/><line x1="561.5" y1="376" x2="561.5" y2="381.5"/><line x1="564.5" y1="376" x2="564.5" y2="378.8"/><line x1="567.5" y1="376" x2="567.5" y2="378.8"/><line x1="570.5" y1="376" x2="570.5" y2="378.8"/><line x1="573.5" y1="376" x2="573.5" y2="378.8"/><line x1="576.5" y1="376" x2="576.5" y2="378.8"/></g>
<g fill="#3a3a3a" font-size="7" text-anchor="middle"><text x="45.0" y="391" textLength="17.3" lengthAdjust="spacingAndGlyphs">17:40</text><text x="102.4" y="391" textLength="17.3" lengthAdjust="spacingAndGlyphs">18:00</text><text x="159.8" y="391" textLength="17.3" lengthAdjust="spacingAndGlyphs">18:20</text><text x="217.1" y="391" textLength="17.3" lengthAdjust="spacingAndGlyphs">18:40</text><text x="274.5" y="391" textLength="17.3" lengthAdjust="spacingAndGlyphs">19:00</text><text x="331.9" y="391" textLength="17.3" lengthAdjust="spacingAndGlyphs">19:20</text><text x="389.3" y="391" textLength="17.3" lengthAdjust="spacingAndGlyphs">19:40</text><text x="446.7" y="391" textLength="17.3" lengthAdjust="spacingAndGlyphs">20:00</text><text x="504.0" y="391" textLength="17.3" lengthAdjust="spacingAndGlyphs">20:20</text><text x="561.4" y="391" textLength="17.3" lengthAdjust="spacingAndGlyphs">20:40</text></g>
<text x="27" y="407.5" font-size="11.5" fill="#333" textLength="60.5" lengthAdjust="spacingAndGlyphs">2014-09-12</text>
<line x1="591.5" y1="23" x2="591.5" y2="376" stroke="#888" stroke-width="1"/>
<g stroke="#777" stroke-width="1"><line x1="591.5" y1="375.5" x2="596.5" y2="375.5"/><line x1="591.5" y1="354.3" x2="594" y2="354.3"/><line x1="591.5" y1="341.9" x2="594" y2="341.9"/><line x1="591.5" y1="333.1" x2="594" y2="333.1"/><line x1="591.5" y1="326.3" x2="594" y2="326.3"/><line x1="591.5" y1="320.7" x2="594" y2="320.7"/><line x1="591.5" y1="316.0" x2="594" y2="316.0"/><line x1="591.5" y1="311.9" x2="594" y2="311.9"/><line x1="591.5" y1="308.3" x2="594" y2="308.3"/><line x1="591.5" y1="305.1" x2="596.5" y2="305.1"/><line x1="591.5" y1="283.9" x2="594" y2="283.9"/><line x1="591.5" y1="271.5" x2="594" y2="271.5"/><line x1="591.5" y1="262.7" x2="594" y2="262.7"/><line x1="591.5" y1="255.9" x2="594" y2="255.9"/><line x1="591.5" y1="250.3" x2="594" y2="250.3"/><line x1="591.5" y1="245.6" x2="594" y2="245.6"/><line x1="591.5" y1="241.5" x2="594" y2="241.5"/><line x1="591.5" y1="237.9" x2="594" y2="237.9"/><line x1="591.5" y1="234.7" x2="596.5" y2="234.7"/><line x1="591.5" y1="213.5" x2="594" y2="213.5"/><line x1="591.5" y1="201.1" x2="594" y2="201.1"/><line x1="591.5" y1="192.3" x2="594" y2="192.3"/><line x1="591.5" y1="185.5" x2="594" y2="185.5"/><line x1="591.5" y1="179.9" x2="594" y2="179.9"/><line x1="591.5" y1="175.2" x2="594" y2="175.2"/><line x1="591.5" y1="171.1" x2="594" y2="171.1"/><line x1="591.5" y1="167.5" x2="594" y2="167.5"/><line x1="591.5" y1="164.3" x2="596.5" y2="164.3"/><line x1="591.5" y1="143.1" x2="594" y2="143.1"/><line x1="591.5" y1="130.7" x2="594" y2="130.7"/><line x1="591.5" y1="121.9" x2="594" y2="121.9"/><line x1="591.5" y1="115.1" x2="594" y2="115.1"/><line x1="591.5" y1="109.5" x2="594" y2="109.5"/><line x1="591.5" y1="104.8" x2="594" y2="104.8"/><line x1="591.5" y1="100.7" x2="594" y2="100.7"/><line x1="591.5" y1="97.1" x2="594" y2="97.1"/><line x1="591.5" y1="93.9" x2="596.5" y2="93.9"/><line x1="591.5" y1="72.7" x2="594" y2="72.7"/><line x1="591.5" y1="60.3" x2="594" y2="60.3"/><line x1="591.5" y1="51.5" x2="594" y2="51.5"/><line x1="591.5" y1="44.7" x2="594" y2="44.7"/><line x1="591.5" y1="39.1" x2="594" y2="39.1"/><line x1="591.5" y1="34.4" x2="594" y2="34.4"/><line x1="591.5" y1="30.3" x2="594" y2="30.3"/><line x1="591.5" y1="26.7" x2="594" y2="26.7"/><line x1="591.5" y1="23.5" x2="596.5" y2="23.5"/></g>
<g fill="#555" font-size="8"><text x="600" y="378.5">10<tspan dy="-3" font-size="6">0</tspan></text><text x="600" y="308.1">10<tspan dy="-3" font-size="6">1</tspan></text><text x="600" y="237.7">10<tspan dy="-3" font-size="6">2</tspan></text><text x="600" y="167.3">10<tspan dy="-3" font-size="6">3</tspan></text><text x="600" y="96.9">10<tspan dy="-3" font-size="6">4</tspan></text><text x="600" y="26.5">10<tspan dy="-3" font-size="6">5</tspan></text></g>
<text transform="translate(619,104.8) rotate(90)" font-size="11" fill="#222" textLength="193" lengthAdjust="spacingAndGlyphs">FEDU Electron Flux (cm<tspan dy="-3" font-size="7">-2</tspan><tspan dy="3">s</tspan><tspan dy="-3" font-size="7">-1</tspan><tspan dy="3">sr</tspan><tspan dy="-3" font-size="7">-1</tspan><tspan dy="3">MeV</tspan><tspan dy="-3" font-size="7">-1</tspan><tspan dy="3">)</tspan></text>
</svg>
</div></body></html>
